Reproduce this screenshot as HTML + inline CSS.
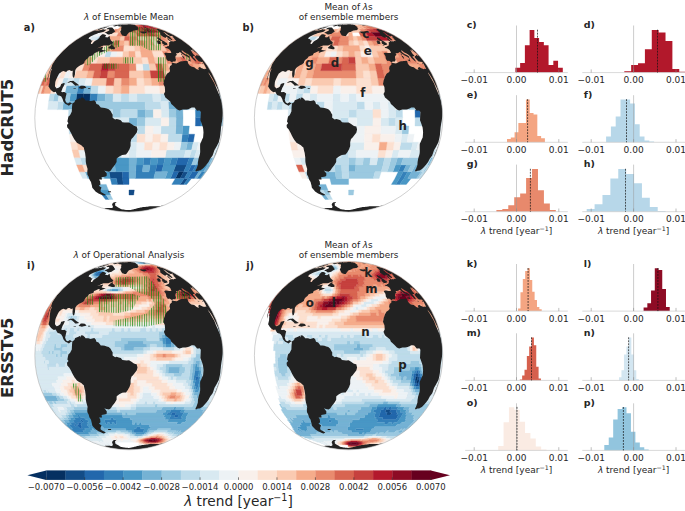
<!DOCTYPE html>
<html lang="en"><head><meta charset="utf-8"><title>λ trend figure</title>
<style>html,body{margin:0;padding:0;background:#fff}svg{display:block}</style></head>
<body>
<svg width="685" height="511" viewBox="0 0 685 511" font-family="DejaVu Sans, Liberation Sans, sans-serif">
<defs><pattern id="hatch" width="2.36" height="8" patternUnits="userSpaceOnUse"><rect x="0.2" y="0" width="0.68" height="8" fill="#0a860a"/></pattern></defs>
<rect width="685" height="511" fill="#fff"/>
<clipPath id="clipa"><circle cx="129.0" cy="117.8" r="94.2"/></clipPath>
<g clip-path="url(#clipa)">
<g stroke-width="0.35">
<path fill="#053061" stroke="#053061" d="M76.8 93.4H83.5L82.6 101.4H75.8Z"/>
<path fill="#053061" stroke="#053061" d="M178.6 171.8H183.6L180 178.4H175.4ZM83.5 93.4H90.5L89.8 101.4H82.6Z"/>
<path fill="#134c87" stroke="#134c87" d="M129 190H134.3L133.7 195H129ZM116.5 178.4H122.7L123.2 184.4H117.4ZM184.3 178.4H188.1L183.6 184.4H180ZM109 171.8H122.3L122.7 178.4H110.3ZM183.6 171.8H188.1L184.3 178.4H180ZM175.8 164.9H186.7L183.6 171.8H173.3Z"/>
<path fill="#2267ac" stroke="#2267ac" d="M122.7 178.4H129L129 184.4H123.2ZM122.3 171.8H129L129 178.4H122.7ZM173.3 171.8H178.6L175.4 178.4H170.4ZM192.2 171.8H198.9L194.4 178.4H188.1ZM156.9 164.9H163.5L161.6 171.8H155.4ZM191.5 164.9H195.8L192.2 171.8H188.1ZM178 157.6H189.4L186.7 164.9H175.8ZM188.6 134.2H194.6L193.3 142.2H187.5ZM195.6 117.8H201.2L200.9 126H195.4Z"/>
<path fill="#3480b9" stroke="#3480b9" d="M102 195H106.2L109.1 199.4H105.5ZM110.3 178.4H116.5L117.4 184.4H111.8ZM175.4 178.4H184.3L180 184.4H171.8ZM188.1 178.4H191.5L186.7 184.4H183.6ZM135.7 171.8H155.4L153.7 178.4H135.3ZM188.1 171.8H192.2L188.1 178.4H184.3ZM201.5 171.8H205L200.1 178.4H196.8ZM136.1 164.9H143.2L142.4 171.8H135.7ZM150.1 164.9H156.9L155.4 171.8H149ZM186.7 164.9H191.5L188.1 171.8H183.6ZM195.8 164.9H202.9L198.9 171.8H192.2ZM143.8 157.6H151.1L150.1 164.9H143.2ZM158.2 157.6H165.1L163.5 164.9H156.9ZM171.7 157.6H178L175.8 164.9H169.8ZM189.4 157.6H194.4L191.5 164.9H186.7ZM182.2 134.2H188.6L187.5 142.2H181.2ZM195.4 109.6H200.9L201.2 117.8H195.6ZM90.5 93.4H97.9L97.3 101.4H89.8ZM78.2 85.6H84.7L83.5 93.4H76.8Z"/>
<path fill="#4997c5" stroke="#4997c5" d="M98.7 190H108.3L110.5 195H102ZM102.6 171.8H109L110.3 178.4H104.3ZM167.6 171.8H173.3L170.4 178.4H165.1ZM205 171.8H205.9L200.9 178.4H200.1ZM88.2 164.9H94.5L96.4 171.8H90.4ZM114.8 164.9H129L129 171.8H115.6ZM163.5 164.9H175.8L173.3 171.8H161.6ZM202.9 164.9H207.8L203.5 171.8H198.9ZM210.3 164.9H210.6L206.2 171.8H205.9ZM99.8 157.6H129L129 164.9H101.1ZM136.4 157.6H143.8L143.2 164.9H136.1ZM151.1 157.6H158.2L156.9 164.9H150.1ZM165.1 157.6H171.7L169.8 164.9H163.5ZM214 157.6H214.4L210.6 164.9H210.3ZM182.8 126H189.3L188.6 134.2H182.2ZM201.2 117.8H206.2L205.9 126H200.9ZM194.6 101.4H200.1L200.9 109.6H195.4ZM70.5 93.4H76.8L75.8 101.4H69.4Z"/>
<path fill="#75b2d4" stroke="#75b2d4" d="M95.7 184.4H106.2L108.3 190H98.7ZM84.7 171.8H90.4L92.9 178.4H87.6ZM129 171.8H135.7L135.3 178.4H129ZM155.4 171.8H167.6L165.1 178.4H153.7ZM198.9 171.8H201.5L196.8 178.4H194.4ZM205.9 171.8H206.2L201.2 178.4H200.9ZM94.5 164.9H114.8L115.6 171.8H96.4ZM129 164.9H136.1L135.7 171.8H129ZM143.2 164.9H150.1L149 171.8H142.4ZM207.8 164.9H210.3L205.9 171.8H203.5ZM92.9 157.6H99.8L101.1 164.9H94.5ZM129 157.6H136.4L136.1 164.9H129ZM198.9 157.6H202.9L199.7 164.9H195.8ZM206.4 157.6H213.1L209.3 164.9H202.9ZM187.5 142.2H193.3L191.6 150H185.9ZM175.9 126H182.8L182.2 134.2H175.4ZM129 117.8H137.2L137.2 126H129ZM176.1 117.8H183L182.8 126H175.9ZM221.8 117.8H222.8L222.5 126H221.4ZM75.2 109.6H82.1L81.9 117.8H75ZM137.2 109.6H145.3L145.4 117.8H137.2ZM175.9 109.6H182.8L183 117.8H176.1ZM210.3 109.6H214L214.4 117.8H210.6ZM63.4 101.4H75.8L75.2 109.6H62.6ZM82.6 101.4H89.8L89.3 109.6H82.1ZM168.2 101.4H188.6L189.3 109.6H168.7ZM200.1 101.4H205L205.9 109.6H200.9ZM97.9 93.4H105.5L105 101.4H97.3ZM66.4 85.6H78.2L76.8 93.4H64.7ZM84.7 85.6H91.6L90.5 93.4H83.5Z"/>
<path fill="#9bc9e0" stroke="#9bc9e0" d="M106.2 195H110.5L112.9 199.4H109.1ZM90.4 171.8H102.6L104.3 178.4H92.9ZM86.3 157.6H92.9L94.5 164.9H88.2ZM194.4 157.6H198.9L195.8 164.9H191.5ZM202.9 157.6H206.4L202.9 164.9H199.7ZM213.1 157.6H214L210.3 164.9H209.3ZM216.2 150H217.2L214 157.6H213.1ZM181.2 142.2H187.5L185.9 150H179.8ZM89.8 134.2H97.3L97.9 142.2H90.5ZM219.6 126H221.4L220.4 134.2H218.6ZM68.4 117.8H81.9L82.1 126H68.7ZM89.2 117.8H112.6L112.7 126H89.3ZM137.2 117.8H145.4L145.3 126H137.2ZM210.6 117.8H214.4L214 126H210.3ZM217.5 117.8H221.8L221.4 126H217.2ZM222.8 117.8H223.2L222.8 126H222.5ZM89.3 109.6H96.9L96.8 117.8H89.2ZM112.7 109.6H120.8L120.8 117.8H112.6ZM145.3 109.6H153.3L153.4 117.8H145.4ZM168.7 109.6H175.9L176.1 117.8H168.8ZM200.9 109.6H205.9L206.2 117.8H201.2ZM222.5 109.6H222.8L223.2 117.8H222.8ZM75.8 101.4H82.6L82.1 109.6H75.2ZM89.8 101.4H145.1L145.3 109.6H89.3ZM216.2 101.4H218.6L219.6 109.6H217.2ZM221.4 101.4H221.8L222.8 109.6H222.5ZM54.5 93.4H59.3L57.9 101.4H53ZM64.7 93.4H70.5L69.4 101.4H63.4ZM105.5 93.4H113.2L112.9 101.4H105ZM181.2 93.4H187.5L188.6 101.4H182.2ZM219.6 93.4H220L221.8 101.4H221.4Z"/>
<path fill="#bddbea" stroke="#bddbea" d="M80 157.6H86.3L88.2 164.9H82.2ZM91.6 150H106.1L106.9 157.6H92.9ZM113.6 150H121.3L121.6 157.6H114.2ZM166.4 150H185.9L183.9 157.6H165.1ZM191.6 150H196.8L194.4 157.6H189.4ZM90.5 142.2H97.9L98.7 150H91.6ZM121.1 142.2H129L129 150H121.3ZM203.5 142.2H207.8L205.7 150H201.5ZM211.5 142.2H214.5L212.2 150H209.2ZM218.6 142.2H219.6L217.2 150H216.2ZM97.3 134.2H105L105.5 142.2H97.9ZM129 134.2H137.1L136.9 142.2H129ZM168.2 134.2H182.2L181.2 142.2H167.5ZM216.2 134.2H218.6L216.9 142.2H214.5ZM68.7 126H75.2L75.8 134.2H69.4ZM82.1 126H104.7L105 134.2H82.6ZM112.7 126H120.8L120.9 134.2H112.9ZM137.2 126H145.3L145.1 134.2H137.1ZM161.1 126H175.9L175.4 134.2H160.7ZM205.9 126H210.3L209.3 134.2H205ZM214 126H217.2L216.2 134.2H213.1ZM81.9 117.8H89.2L89.3 126H82.1ZM168.8 117.8H176.1L175.9 126H168.7ZM206.2 117.8H210.6L210.3 126H205.9ZM214.4 117.8H217.5L217.2 126H214ZM68.7 109.6H75.2L75 117.8H68.4ZM104.7 109.6H112.7L112.6 117.8H104.6ZM120.8 109.6H137.2L137.2 117.8H120.8ZM214 109.6H219.6L220 117.8H214.4ZM57.9 101.4H63.4L62.6 109.6H57.1ZM145.1 101.4H160.7L161.1 109.6H145.3ZM209.3 101.4H213.1L214 109.6H210.3ZM218.6 101.4H221.4L222.5 109.6H219.6ZM50.2 93.4H54.5L53 101.4H48.7ZM121.1 93.4H129L129 101.4H120.9ZM136.9 93.4H152.6L153 101.4H137.1ZM160.1 93.4H167.5L168.2 101.4H160.7ZM174.5 93.4H181.2L182.2 101.4H175.4ZM203.5 93.4H214.5L216.2 101.4H205ZM216.9 93.4H219.6L221.4 101.4H218.6ZM91.6 85.6H98.7L97.9 93.4H90.5ZM63.6 78H68.6L66.4 85.6H61.2ZM74.1 78H80L78.2 85.6H72.1ZM142.4 63.8H149L150.1 70.7H143.2ZM106.2 51.2H111.8L110.3 57.2H104.3ZM98.7 36.2H102L98 40.6H94.3Z"/>
<path fill="#d8e9f1" stroke="#d8e9f1" d="M79.4 171.8H84.7L87.6 178.4H82.6ZM74.1 157.6H80L82.2 164.9H76.6ZM106.1 150H113.6L114.2 157.6H106.9ZM129 150H136.7L136.4 157.6H129ZM185.9 150H191.6L189.4 157.6H183.9ZM196.8 150H205.7L202.9 157.6H194.4ZM209.2 150H212.2L209.2 157.6H206.4ZM214.5 150H216.2L213.1 157.6H211.5ZM83.5 142.2H90.5L91.6 150H84.7ZM97.9 142.2H105.5L106.1 150H98.7ZM113.2 142.2H121.1L121.3 150H113.6ZM129 142.2H136.9L136.7 150H129ZM193.3 142.2H198.7L196.8 150H191.6ZM216.9 142.2H218.6L216.2 150H214.5ZM219.6 142.2H220L217.5 150H217.2ZM75.8 134.2H82.6L83.5 142.2H76.8ZM105 134.2H129L129 142.2H105.5ZM205 134.2H209.3L207.8 142.2H203.5ZM218.6 134.2H220.4L218.6 142.2H216.9ZM75.2 126H82.1L82.6 134.2H75.8ZM104.7 126H112.7L112.9 134.2H105ZM120.8 126H137.2L137.1 134.2H120.9ZM217.2 126H219.6L218.6 134.2H216.2ZM222.5 126H222.8L221.8 134.2H221.4ZM112.6 117.8H129L129 126H112.7ZM145.4 117.8H161.2L161.1 126H145.3ZM82.1 109.6H89.3L89.2 117.8H81.9ZM96.9 109.6H104.7L104.6 117.8H96.8ZM161.1 109.6H168.7L168.8 117.8H161.2ZM205.9 109.6H210.3L210.6 117.8H206.2ZM219.6 109.6H222.5L222.8 117.8H220ZM48.7 101.4H57.9L57.1 109.6H47.7ZM160.7 101.4H168.2L168.7 109.6H161.1ZM188.6 101.4H194.6L195.4 109.6H189.3ZM205 101.4H209.3L210.3 109.6H205.9ZM213.1 101.4H216.2L217.2 109.6H214ZM59.3 93.4H64.7L63.4 101.4H57.9ZM113.2 93.4H121.1L120.9 101.4H112.9ZM129 93.4H136.9L137.1 101.4H129ZM152.6 93.4H160.1L160.7 101.4H153ZM167.5 93.4H174.5L175.4 101.4H168.2ZM187.5 93.4H203.5L205 101.4H188.6ZM214.5 93.4H216.9L218.6 101.4H216.2ZM68.6 78H74.1L72.1 85.6H66.4ZM80 78H86.3L84.7 85.6H78.2ZM92.9 36.2H98.7L94.3 40.6H87.6ZM102 36.2H105.5L102 40.6H98ZM96.4 32.4H98.5L92.9 36.2H90.4Z"/>
<path fill="#edf2f5" stroke="#edf2f5" d="M78.2 150H91.6L92.9 157.6H80ZM121.3 150H129L129 157.6H121.6ZM136.7 150H151.9L151.1 157.6H136.4ZM205.7 150H209.2L206.4 157.6H202.9ZM212.2 150H214.5L211.5 157.6H209.2ZM217.2 150H217.5L214.4 157.6H214ZM105.5 142.2H113.2L113.6 150H106.1ZM136.9 142.2H144.8L144.4 150H136.7ZM174.5 142.2H181.2L179.8 150H173.3ZM198.7 142.2H203.5L201.5 150H196.8ZM207.8 142.2H211.5L209.2 150H205.7ZM214.5 142.2H216.9L214.5 150H212.2ZM209.3 134.2H216.2L214.5 142.2H207.8ZM220.4 134.2H221.8L220 142.2H218.6ZM153.3 126H161.1L160.7 134.2H153ZM210.3 126H214L213.1 134.2H209.3ZM221.4 126H222.5L221.4 134.2H220.4ZM56.5 85.6H66.4L64.7 93.4H54.5ZM98.7 85.6H106.1L105.5 93.4H97.9ZM179.8 85.6H185.9L187.5 93.4H181.2ZM196.8 85.6H201.5L203.5 93.4H198.7ZM212.2 85.6H214.5L216.9 93.4H214.5ZM217.2 85.6H217.5L220 93.4H219.6ZM86.3 78H92.9L91.6 85.6H84.7ZM58.3 70.7H62.2L59.1 78H55.1ZM66.5 70.7H71.3L68.6 78H63.6ZM111.8 51.2H117.4L116.5 57.2H110.3ZM90.4 36.2H92.9L87.6 40.6H84.7ZM105.5 36.2H109.1L106.2 40.6H102ZM91.6 32.4H92.9L86.3 36.2H84.7ZM98.5 32.4H103.4L98.7 36.2H92.9Z"/>
<path fill="#f9f0eb" stroke="#f9f0eb" d="M151.9 150H166.4L165.1 157.6H151.1ZM152.6 142.2H160.1L159.3 150H151.9ZM167.5 142.2H174.5L173.3 150H166.4ZM69.4 134.2H75.8L76.8 142.2H70.5ZM82.6 134.2H89.8L90.5 142.2H83.5ZM145.1 134.2H153L152.6 142.2H144.8ZM160.7 134.2H168.2L167.5 142.2H160.1ZM145.3 126H153.3L153 134.2H145.1ZM161.2 117.8H168.8L168.7 126H161.1ZM153.3 109.6H161.1L161.2 117.8H153.4ZM144.4 85.6H159.3L160.1 93.4H144.8ZM166.4 85.6H173.3L174.5 93.4H167.5ZM191.6 85.6H196.8L198.7 93.4H193.3ZM205.7 85.6H209.2L211.5 93.4H207.8ZM214.5 85.6H217.2L219.6 93.4H216.9ZM59.1 78H63.6L61.2 85.6H56.5ZM71.3 70.7H76.6L74.1 78H68.6ZM135.7 63.8H142.4L143.2 70.7H136.1ZM100.8 51.2H106.2L104.3 57.2H98.5ZM117.4 51.2H123.2L122.7 57.2H116.5ZM94.3 40.6H98L94.3 45.6H90.1ZM89.2 32.4H89.3L82.1 36.2H81.9ZM89.8 32.4H90.5L83.5 36.2H82.6ZM94.5 32.4H96.4L90.4 36.2H88.2ZM103.4 32.4H112.2L109.1 36.2H98.7ZM102.6 29.3H104.3L98.5 32.4H96.4Z"/>
<path fill="#fce0d0" stroke="#fce0d0" d="M82.2 164.9H88.2L90.4 171.8H84.7ZM70.5 142.2H76.8L78.2 150H72.1ZM144.8 142.2H152.6L151.9 150H144.4ZM160.1 142.2H167.5L166.4 150H159.3ZM137.1 134.2H145.1L144.8 142.2H136.9ZM153 134.2H160.7L160.1 142.2H152.6ZM41.8 85.6H43.5L41.1 93.4H39.4ZM52.3 85.6H56.5L54.5 93.4H50.2ZM106.1 85.6H113.6L113.2 93.4H105.5ZM129 85.6H144.4L144.8 93.4H129ZM159.3 85.6H166.4L167.5 93.4H160.1ZM173.3 85.6H179.8L181.2 93.4H174.5ZM185.9 85.6H191.6L193.3 93.4H187.5ZM209.2 85.6H212.2L214.5 93.4H211.5ZM55.1 78H59.1L56.5 85.6H52.3ZM136.4 78H143.8L144.4 85.6H136.7ZM183.9 78H189.4L191.6 85.6H185.9ZM47.7 70.7H48.7L44.9 78H44ZM62.2 70.7H66.5L63.6 78H59.1ZM186.7 70.7H191.5L194.4 78H189.4ZM51.8 63.8H52.1L47.7 70.7H47.4ZM53 63.8H54.5L50.2 70.7H48.7ZM69.9 63.8H84.7L82.2 70.7H66.5ZM56.8 57.2H57.1L52.1 63.8H51.8ZM63.6 57.2H66.5L62.2 63.8H59.1ZM69.9 57.2H73.7L69.9 63.8H65.8ZM92.9 57.2H98.5L96.4 63.8H90.4ZM141.5 57.2H147.7L149 63.8H142.4ZM62.6 51.2H63.4L57.9 57.2H57.1ZM90.8 51.2H100.8L98.5 57.2H87.6ZM134.8 51.2H140.6L141.5 57.2H135.3ZM151.8 51.2H162.3L165.1 57.2H153.7ZM103.4 45.6H108.3L106.2 51.2H100.8ZM123.7 45.6H134.3L134.8 51.2H123.2ZM185.9 45.6H187.5L193.3 51.2H191.6ZM189.3 45.6H189.6L195.6 51.2H195.4ZM90.8 40.6H94.3L90.1 45.6H86.2ZM102 40.6H106.2L103.4 45.6H98.7ZM151.8 40.6H156L159.3 45.6H154.6ZM167.2 40.6H170.4L175.4 45.6H171.8ZM182.2 40.6H182.8L189.3 45.6H188.6ZM82.1 36.2H83.5L76.8 40.6H75.2ZM88.2 36.2H90.4L84.7 40.6H82.2ZM90.5 32.4H91.6L84.7 36.2H83.5ZM92.9 32.4H94.5L88.2 36.2H86.3ZM112.2 32.4H118.7L116.8 36.2H109.1ZM96.8 29.3H96.9L89.3 32.4H89.2ZM97.9 29.3H98.7L91.6 32.4H90.5ZM104.3 29.3H112.9L109.1 32.4H98.5Z"/>
<path fill="#facab1" stroke="#facab1" d="M72.1 150H78.2L80 157.6H74.1ZM76.8 142.2H83.5L84.7 150H78.2ZM40.8 85.6H41.8L39.4 93.4H38.4ZM113.6 85.6H121.3L121.1 93.4H113.2ZM201.5 85.6H205.7L207.8 93.4H203.5ZM51.6 78H55.1L52.3 85.6H48.8ZM92.9 78H106.9L106.1 85.6H91.6ZM114.2 78H121.6L121.3 85.6H113.6ZM143.8 78H151.1L151.9 85.6H144.4ZM165.1 78H171.7L173.3 85.6H166.4ZM178 78H183.9L185.9 85.6H179.8ZM194.4 78H198.9L201.5 85.6H196.8ZM47.4 70.7H47.7L44 78H43.6ZM52.3 70.7H58.3L55.1 78H48.8ZM76.6 70.7H88.2L86.3 78H74.1ZM129 70.7H143.2L143.8 78H129ZM163.5 70.7H169.8L171.7 78H165.1ZM181.4 70.7H186.7L189.4 78H183.9ZM191.5 70.7H195.8L198.9 78H194.4ZM207.8 70.7H210.3L214 78H211.5ZM54.5 63.8H56.5L52.3 70.7H50.2ZM62.2 63.8H69.9L66.5 70.7H58.3ZM149 63.8H155.4L156.9 70.7H150.1ZM167.6 63.8H178.6L181.4 70.7H169.8ZM198.9 63.8H203.5L207.8 70.7H202.9ZM61.2 57.2H63.6L59.1 63.8H56.5ZM98.5 57.2H110.3L109 63.8H96.4ZM129 57.2H141.5L142.4 63.8H129ZM153.7 57.2H165.1L167.6 63.8H155.4ZM62.4 51.2H62.6L57.1 57.2H56.8ZM64.7 51.2H66.4L61.2 57.2H59.3ZM71.3 51.2H78L73.7 57.2H66.5ZM123.2 51.2H129L129 57.2H122.7ZM171.8 51.2H180L184.3 57.2H175.4ZM70.5 45.6H74.1L68.6 51.2H64.7ZM82.6 45.6H90.1L86.2 51.2H78ZM134.3 45.6H139.5L140.6 51.2H134.8ZM149.7 45.6H163.7L167.2 51.2H151.8ZM167.9 45.6H171.8L176.1 51.2H171.8ZM187.5 45.6H188.6L194.6 51.2H193.3ZM75 40.6H75.2L68.7 45.6H68.4ZM75.8 40.6H78.2L72.1 45.6H69.4ZM98 40.6H102L98.7 45.6H94.3ZM110.5 40.6H115L113.3 45.6H108.3ZM124.3 40.6H129L129 45.6H123.7ZM178 40.6H179.8L185.9 45.6H183.9ZM84.7 36.2H88.2L82.2 40.6H78.2ZM120.8 36.2H124.9L124.3 40.6H119.6ZM137.2 36.2H145.1L147.5 40.6H138.4ZM148.9 36.2H156L160 40.6H151.8ZM169.8 36.2H171.7L178 40.6H175.8ZM89.3 32.4H89.8L82.6 36.2H82.1ZM161.6 32.4H165.1L171.7 36.2H167.6ZM167.5 32.4H168.2L175.4 36.2H174.5ZM168.7 32.4H168.8L176.1 36.2H175.9ZM96.9 29.3H97.3L89.8 32.4H89.3ZM98.7 29.3H102.6L96.4 32.4H91.6ZM112.9 29.3H115.4L112.2 32.4H109.1ZM120.7 29.3H123.4L122.1 32.4H118.7ZM160.7 29.3H161.1L168.7 32.4H168.2ZM126.9 26.8H129L129 29.3H126.2ZM123.4 25H126.2L124.8 26.8H120.7ZM129 25H131.8L133.2 26.8H129Z"/>
<path fill="#f5ac8b" stroke="#f5ac8b" d="M76.6 164.9H82.2L84.7 171.8H79.4ZM40.5 85.6H40.8L38.4 93.4H38ZM45.8 85.6H52.3L50.2 93.4H43.5ZM121.3 85.6H129L129 93.4H121.1ZM129 78H136.4L136.7 85.6H129ZM151.1 78H158.2L159.3 85.6H151.9ZM171.7 78H178L179.8 85.6H173.3ZM198.9 78H206.4L209.2 85.6H201.5ZM211.5 78H214.4L217.5 85.6H214.5ZM48.7 70.7H52.3L48.8 78H44.9ZM88.2 70.7H94.5L92.9 78H86.3ZM143.2 70.7H150.1L151.1 78H143.8ZM169.8 70.7H175.8L178 78H171.7ZM195.8 70.7H202.9L206.4 78H198.9ZM205.7 70.7H207.8L211.5 78H209.2ZM52.1 63.8H53L48.7 70.7H47.7ZM56.5 63.8H62.2L58.3 70.7H52.3ZM161.6 63.8H167.6L169.8 70.7H163.5ZM178.6 63.8H183.6L186.7 70.7H181.4ZM192.2 63.8H198.9L202.9 70.7H195.8ZM205 63.8H205.9L210.3 70.7H209.3ZM57.1 57.2H61.2L56.5 63.8H52.1ZM66.5 57.2H69.9L65.8 63.8H62.2ZM78 57.2H82.6L79.4 63.8H74.4ZM87.6 57.2H92.9L90.4 63.8H84.7ZM110.3 57.2H129L129 63.8H109ZM147.7 57.2H153.7L155.4 63.8H149ZM170.4 57.2H175.4L178.6 63.8H173.3ZM184.3 57.2H188.1L192.2 63.8H188.1ZM196.8 57.2H198.7L203.5 63.8H201.5ZM78 51.2H90.8L87.6 57.2H73.7ZM129 51.2H134.8L135.3 57.2H129ZM140.6 51.2H151.8L153.7 57.2H141.5ZM167.2 51.2H171.8L175.4 57.2H170.4ZM186.7 51.2H189.4L194.4 57.2H191.5ZM195.4 51.2H195.6L201.2 57.2H200.9ZM68.4 45.6H70.5L64.7 51.2H62.4ZM74.1 45.6H76.6L71.3 51.2H68.6ZM90.1 45.6H94.3L90.8 51.2H86.2ZM98.7 45.6H103.4L100.8 51.2H95.7ZM108.3 45.6H113.3L111.8 51.2H106.2ZM139.5 45.6H149.7L151.8 51.2H140.6ZM171.8 45.6H178.6L183.6 51.2H176.1ZM181.4 45.6H185.9L191.6 51.2H186.7ZM188.6 45.6H189.3L195.4 51.2H194.6ZM75.2 40.6H75.8L69.4 45.6H68.7ZM82.2 40.6H84.7L79.4 45.6H76.6ZM87.6 40.6H90.8L86.2 45.6H82.6ZM106.2 40.6H110.5L108.3 45.6H103.4ZM119.6 40.6H124.3L123.7 45.6H118.5ZM133.7 40.6H138.4L139.5 45.6H134.3ZM143 40.6H151.8L154.6 45.6H144.7ZM156 40.6H167.2L171.8 45.6H159.3ZM170.4 40.6H178L183.9 45.6H175.4ZM179.8 40.6H181.2L187.5 45.6H185.9ZM182.8 40.6H183L189.6 45.6H189.3ZM81.9 36.2H82.1L75.2 40.6H75ZM83.5 36.2H84.7L78.2 40.6H76.8ZM109.1 36.2H120.8L119.6 40.6H106.2ZM145.1 36.2H148.9L151.8 40.6H147.5ZM162.3 36.2H167.6L173.3 40.6H167.2ZM171.7 36.2H173.3L179.8 40.6H178ZM174.5 36.2H176.1L183 40.6H181.2ZM129 32.4H135.9L137.2 36.2H129ZM157.2 32.4H161.6L167.6 36.2H162.3ZM168.2 32.4H168.7L175.9 36.2H175.4ZM97.3 29.3H97.9L90.5 32.4H89.8ZM118 29.3H120.7L118.7 32.4H115.4ZM126.2 29.3H129L129 32.4H125.5ZM159.3 29.3H160.1L167.5 32.4H166.4ZM161.1 29.3H161.2L168.8 32.4H168.7ZM120.7 26.8H126.9L126.2 29.3H118ZM129 26.8H131.1L131.8 29.3H129ZM127.6 25H129L129 26.8H126.9ZM131.8 25H134.6L137.3 26.8H133.2Z"/>
<path fill="#e98b6e" stroke="#e98b6e" d="M43.5 85.6H45.8L43.5 93.4H41.1ZM46.5 78H48.8L45.8 85.6H43.5ZM121.6 78H129L129 85.6H121.3ZM158.2 78H165.1L166.4 85.6H159.3ZM189.4 78H194.4L196.8 85.6H191.6ZM206.4 78H211.5L214.5 85.6H209.2ZM107.9 70.7H114.8L114.2 78H106.9ZM175.8 70.7H181.4L183.9 78H178ZM202.9 70.7H205.7L209.2 78H206.4ZM210.3 70.7H210.6L214.4 78H214ZM84.7 63.8H90.4L88.2 70.7H82.2ZM129 63.8H135.7L136.1 70.7H129ZM183.6 63.8H192.2L195.8 70.7H186.7ZM203.5 63.8H205L209.3 70.7H207.8ZM205.9 63.8H206.2L210.6 70.7H210.3ZM73.7 57.2H78L74.4 63.8H69.9ZM82.6 57.2H87.6L84.7 63.8H79.4ZM165.1 57.2H170.4L173.3 63.8H167.6ZM175.4 57.2H180L183.6 63.8H178.6ZM188.1 57.2H191.5L195.8 63.8H192.2ZM198.7 57.2H200.9L205.9 63.8H203.5ZM63.4 51.2H64.7L59.3 57.2H57.9ZM66.4 51.2H71.3L66.5 57.2H61.2ZM162.3 51.2H167.2L170.4 57.2H165.1ZM180 51.2H186.7L191.5 57.2H184.3ZM191.6 51.2H194.6L200.1 57.2H196.8ZM76.6 45.6H82.6L78 51.2H71.3ZM94.3 45.6H98.7L95.7 51.2H90.8ZM113.3 45.6H123.7L123.2 51.2H111.8ZM163.7 45.6H167.9L171.8 51.2H167.2ZM178.6 45.6H181.4L186.7 51.2H183.6ZM78.2 40.6H82.2L76.6 45.6H72.1ZM84.7 40.6H87.6L82.6 45.6H79.4ZM129 40.6H133.7L134.3 45.6H129ZM138.4 40.6H143L144.7 45.6H139.5ZM181.2 40.6H182.2L188.6 45.6H187.5ZM129 36.2H137.2L138.4 40.6H129ZM156 36.2H162.3L167.2 40.6H160ZM167.6 36.2H169.8L175.8 40.6H173.3ZM173.3 36.2H174.5L181.2 40.6H179.8ZM118.7 32.4H129L129 36.2H116.8ZM154.6 32.4H157.2L162.3 36.2H159.3ZM165.1 32.4H167.5L174.5 36.2H171.7ZM115.4 29.3H118L115.4 32.4H112.2ZM123.4 29.3H126.2L125.5 32.4H122.1ZM129 29.3H131.8L132.5 32.4H129ZM134.6 29.3H137.3L139.3 32.4H135.9ZM158.2 29.3H159.3L166.4 32.4H165.1ZM160.1 29.3H160.7L168.2 32.4H167.5ZM131.1 26.8H133.2L134.6 29.3H131.8ZM153 26.8H153.4L161.2 29.3H160.7ZM126.2 25H127.6L126.9 26.8H124.8ZM137.2 25H138.4L143 26.8H141.2ZM145.3 25H145.4L153.4 26.8H153.3Z"/>
<path fill="#d86551" stroke="#d86551" d="M43.6 78H46.5L43.5 85.6H40.5ZM48.8 78H51.6L48.8 85.6H45.8ZM106.9 78H114.2L113.6 85.6H106.1ZM94.5 70.7H101.1L99.8 78H92.9ZM114.8 70.7H129L129 78H114.2ZM90.4 63.8H102.6L101.1 70.7H88.2ZM115.6 63.8H129L129 70.7H114.8ZM155.4 63.8H161.6L163.5 70.7H156.9ZM180 57.2H184.3L188.1 63.8H183.6ZM191.5 57.2H196.8L201.5 63.8H195.8ZM200.9 57.2H201.2L206.2 63.8H205.9ZM189.4 51.2H191.6L196.8 57.2H194.4ZM194.6 51.2H195.4L200.9 57.2H200.1ZM115 40.6H119.6L118.5 45.6H113.3ZM124.9 36.2H129L129 40.6H124.3ZM135.9 32.4H145.8L148.9 36.2H137.2ZM151.8 32.4H154.6L159.3 36.2H156ZM131.8 29.3H134.6L135.9 32.4H132.5ZM153.7 29.3H158.2L165.1 32.4H159.5ZM150.1 26.8H152.6L160.1 29.3H156.9ZM134.6 25H137.2L141.2 26.8H137.3ZM139.5 25H140.6L146.2 26.8H144.7ZM143.8 25H144.8L152.6 26.8H151.1Z"/>
<path fill="#c6413e" stroke="#c6413e" d="M101.1 70.7H107.9L106.9 78H99.8ZM150.1 70.7H163.5L165.1 78H151.1ZM109 63.8H115.6L114.8 70.7H107.9ZM145.8 32.4H151.8L156 36.2H148.9ZM137.3 29.3H142.6L145.8 32.4H139.3ZM133.2 26.8H139.3L142.6 29.3H134.6ZM141.2 26.8H143L147.5 29.3H145.1ZM144.7 26.8H149L155.4 29.3H149.7ZM152.6 26.8H153L160.7 29.3H160.1ZM138.4 25H139.5L144.7 26.8H143ZM141.5 25H143.2L150.1 26.8H147.7ZM145.1 25H145.3L153.3 26.8H153Z"/>
<path fill="#b3192c" stroke="#b3192c" d="M102.6 63.8H109L107.9 70.7H101.1ZM149.7 29.3H153.7L159.5 32.4H154.6ZM139.3 26.8H141.2L145.1 29.3H142.6ZM140.6 25H141.5L147.7 26.8H146.2ZM143.2 25H143.8L151.1 26.8H150.1ZM144.8 25H145.1L153 26.8H152.6Z"/>
<path fill="#8d0c25" stroke="#8d0c25" d="M142.6 29.3H145.1L148.9 32.4H145.8ZM147.5 29.3H149.7L154.6 32.4H151.8ZM149 26.8H150.1L156.9 29.3H155.4Z"/>
<path fill="#67001f" stroke="#67001f" d="M145.1 29.3H147.5L151.8 32.4H148.9ZM143 26.8H144.7L149.7 29.3H147.5Z"/>
</g>
<polygon points="85.8,56.4 92.8,52 105,46.8 113.8,40.6 119,40.6 119,46.8 110.3,50.3 98,56.4 89.3,65.2 85.8,65.2" fill="url(#hatch)"/>
<polygon points="102.4,63.4 118.2,63.4 118.2,68.7 102.4,68.7" fill="url(#hatch)"/>
<polygon points="123.4,57.3 134,57.3 134,63.4 123.4,63.4" fill="url(#hatch)"/>
<polygon points="129.6,25.8 161,29.8 161,50.3 149,50.3 141,45.8 129.6,45.8" fill="url(#hatch)"/>
<polygon points="157.6,57.3 165.5,57.3 165.5,81.8 157.6,81.8" fill="url(#hatch)"/>
<polygon points="186,52.8 190,52.8 190,59.8 186,59.8" fill="url(#hatch)"/>
<polygon points="43,73.8 46,73.8 46,81.8 43,81.8" fill="url(#hatch)"/>
<path d="M96.7,29.3 96.3,29.4 96.0,29.6 95.7,29.7 95.4,29.8 95.6,29.7 95.9,29.6 96.2,29.5 96.5,29.4 96.8,29.3 96.6,29.4 96.5,29.5 96.1,29.8 95.7,30.0 95.3,30.2 94.9,30.5 95.4,30.5 95.7,30.5 96.0,30.5 96.3,30.5 96.6,30.5 96.9,30.5 97.3,30.5 97.7,30.5 98.0,30.5 98.4,30.5 99.2,30.3 99.9,30.2 100.6,30.0 101.3,29.9 103.4,29.0 105.4,28.2 104.6,28.7 103.8,29.3 103.1,29.9 103.8,29.8 104.4,29.7 105.0,29.6 105.7,29.6 105.8,29.9 105.9,30.2 104.9,30.9 103.9,31.7 102.9,32.0 101.9,32.3 100.8,32.5 99.8,32.8 99.1,33.0 98.3,33.1 96.9,33.7 95.4,34.2 94.0,34.8 92.5,35.4 90.9,36.3 89.3,37.2 88.9,38.0 88.6,38.8 89.1,38.9 89.7,39.1 90.4,39.2 90.7,39.8 91.1,40.4 91.8,40.5 92.6,40.6 91.8,41.6 91.1,42.6 90.9,44.1 92.1,44.1 93.1,42.8 94.2,41.6 95.7,40.6 97.3,39.7 98.3,38.8 99.3,37.9 99.6,37.1 100.0,36.2 101.1,35.2 102.2,34.2 103.0,34.3 103.7,34.3 104.5,34.4 105.0,34.7 105.6,35.1 106.2,35.4 105.6,36.2 105.1,37.1 105.9,37.2 106.6,37.3 107.4,37.5 108.5,36.7 109.6,36.0 109.8,37.1 110.0,38.4 110.4,39.2 110.8,40.2 111.5,40.9 112.4,41.6 112.9,42.3 113.5,43.1 111.8,44.2 110.1,44.8 108.4,45.4 107.1,45.4 105.9,45.4 104.7,45.4 103.5,45.4 102.3,45.9 101.1,46.4 99.2,47.4 97.2,48.3 98.6,47.9 100.0,47.5 101.5,47.1 102.9,46.7 102.9,47.8 101.6,49.5 102.4,50.0 103.8,50.3 105.3,50.6 106.8,49.5 105.2,51.0 103.4,51.5 101.5,52.1 100.3,52.5 99.0,53.0 99.8,51.2 98.8,51.2 97.5,51.8 96.1,52.4 94.2,53.2 93.3,54.8 93.8,55.1 92.1,55.5 90.5,56.0 89.0,56.5 88.1,57.9 85.9,59.8 84.8,61.1 84.2,63.1 82.3,64.4 80.9,65.1 79.6,65.8 78.1,66.8 76.6,67.9 75.3,70.0 75.1,72.1 75.0,74.3 74.6,75.8 74.2,77.2 73.1,77.7 72.6,75.8 72.5,73.6 72.7,72.1 72.8,70.7 71.1,71.1 70.3,70.6 69.6,70.1 68.6,70.3 67.6,70.4 66.5,71.8 65.2,71.7 64.2,71.3 63.3,71.0 61.6,71.8 60.4,72.7 59.2,73.6 58.4,75.0 57.6,76.5 56.9,78.0 56.2,79.5 55.7,80.8 55.3,82.1 55.1,84.2 55.0,86.4 55.9,87.6 56.6,88.4 57.6,88.1 58.6,87.8 60.3,86.4 61.2,84.0 62.6,83.6 63.9,83.1 64.9,83.4 64.2,84.9 63.5,86.4 62.6,87.9 61.9,89.9 61.2,91.8 62.2,92.2 63.3,92.1 64.4,92.0 65.5,92.7 66.6,93.4 66.2,95.0 65.8,96.6 65.5,98.2 65.1,99.8 65.6,101.2 66.2,102.6 67.9,103.4 69.9,102.3 71.1,102.9 72.3,103.6 71.0,103.9 68.9,105.8 67.2,104.7 65.5,103.9 64.4,102.7 63.4,101.4 62.6,99.0 61.3,96.6 59.9,95.8 58.7,95.4 57.5,95.0 56.6,93.4 55.7,91.8 54.8,92.0 53.9,92.2 52.7,91.4 51.7,90.7 50.7,89.7 49.9,88.7 49.2,87.5 48.5,86.4 49.0,84.4 49.5,82.5 49.6,80.2 49.8,78.0 50.0,76.0 50.3,74.1 50.6,72.1 51.3,70.6 51.9,69.0 51.7,68.8 51.5,68.6 50.4,70.7 49.7,72.6 49.0,74.5 48.5,76.5 48.0,78.7 47.5,81.0 47.5,79.9 47.5,78.7 48.0,76.5 48.7,74.3 49.2,72.5 49.8,70.7 50.7,68.9 51.6,67.0 51.8,66.2 52.1,65.3 52.4,64.4 53.3,62.9 54.3,61.4 55.2,60.0 56.2,58.6 57.2,57.2 58.8,55.4 60.4,53.6 62.1,51.8 63.9,50.0 65.3,48.7 66.7,47.4 67.7,46.4 68.7,45.5 69.8,44.6 71.2,43.4 72.7,42.2 74.3,41.1 75.9,40.0 77.5,38.9 79.2,37.9 79.9,37.4 80.7,36.9 81.6,36.4 82.4,35.9 82.7,35.8 83.0,35.6 83.3,35.4 83.6,35.2 84.0,35.0 84.4,34.8 83.5,35.3 82.6,35.8 81.8,36.3 81.6,36.4 83.3,35.4 85.1,34.5 86.9,33.5 88.7,32.6 90.5,31.8 92.2,31.1 94.0,30.3 95.8,29.7 96.2,29.5 96.6,29.3 97.1,29.2 98.0,28.8 99.0,28.5 100.1,28.2 101.2,27.8 100.6,28.0 100.1,28.1 99.6,28.3 99.2,28.4 98.7,28.6 98.3,28.8 97.9,28.9 97.4,29.0 97.1,29.2ZM115.2,31.4 114.1,32.2 112.9,33.0 111.6,33.9 110.5,34.1 109.4,34.4 108.2,34.6 107.7,34.2 107.2,33.9 106.7,33.5 106.2,33.3 105.6,33.1 105.1,33.0 104.6,32.8 106.2,32.0 107.7,31.2 109.3,30.5 109.2,30.1 109.1,29.7 109.2,29.3 108.6,29.3 107.9,29.3 107.4,29.3 106.8,29.3 106.2,29.3 106.8,28.7 107.5,28.2 108.2,27.7 108.8,27.7 109.5,27.6 110.1,27.5 110.7,27.5 111.4,27.4 112.0,27.4 112.2,27.5 112.3,27.7 112.5,27.8 112.8,28.0 112.9,28.2 113.1,28.5 113.3,28.7 113.6,29.0 113.9,29.3 114.0,29.7 114.3,30.1 114.5,30.5 114.9,31.0ZM124.1,24.5 123.8,24.4 123.5,24.4 123.3,24.3 122.9,24.3 122.6,24.3 122.2,24.4 121.9,24.4 121.5,24.4 121.2,24.4 120.8,24.5 120.5,24.5 120.1,24.5 119.8,24.5 119.4,24.6 119.0,24.6 118.7,24.6 118.3,24.6 117.0,24.9 115.7,25.1 114.3,25.4 113.0,25.7 113.0,25.9 113.2,26.0 113.5,26.2 113.7,26.3 113.9,26.3 114.1,26.3 114.4,26.4 115.4,26.2 116.3,25.9 117.3,25.7 118.2,25.5 119.0,25.4 119.7,25.2 120.4,25.1 121.1,25.0 121.7,24.9 122.3,24.8 123.0,24.7 123.5,24.6ZM98.4,29.9 98.2,29.8 97.9,29.6 97.7,29.5 97.6,29.3 98.0,29.1 98.3,28.9 98.7,28.7 99.1,28.6 99.6,28.4 100.0,28.2 102.0,27.6 104.0,27.0 104.5,26.9 105.0,26.8 105.5,26.7 106.0,26.6 106.5,26.5 107.0,26.4 107.3,26.4 107.7,26.4 108.1,26.4 108.4,26.5 108.5,26.6 108.7,26.7 109.0,26.8 107.7,27.1 106.4,27.5 105.1,27.8 103.8,28.2 102.5,28.6 101.1,29.0 99.8,29.4ZM108.0,48.1 109.3,48.5 110.5,48.8 111.8,49.1 113.1,49.2 114.5,49.2 115.0,48.2 114.5,47.0 113.6,46.4 112.8,45.9 112.8,45.0 112.8,44.1 111.0,45.1 109.8,46.2 108.7,47.2ZM67.2,82.7 68.8,81.8 70.4,81.0 71.8,80.9 73.3,80.8 74.8,82.0 76.3,83.1 77.8,84.2 79.3,85.3 77.9,85.4 76.5,85.6 75.1,85.7 74.1,84.5 73.2,83.7 72.2,82.8 70.7,81.9 69.5,82.4 68.2,82.8ZM78.5,88.1 80.8,85.7 82.7,85.8 84.7,85.9 85.6,86.8 86.5,87.8 85.1,88.1 83.6,88.4 81.9,89.0 80.2,88.5ZM73.6,88.1 74.8,88.2 76.0,88.4 75.9,89.0 74.7,88.8 73.6,88.7ZM88.2,87.9 89.3,88.0 90.4,88.1 90.1,88.7 88.0,88.7ZM118.5,25.6 119.2,25.4 120.0,25.3 120.7,25.2 121.3,25.0 122.0,24.9 122.7,24.8 123.4,24.7 124.0,24.6 124.3,24.5 124.7,24.5 125.1,24.5 125.5,24.5 125.8,24.5 126.2,24.4 126.5,24.4 126.9,24.4 127.2,24.4 127.5,24.4 127.9,24.3 128.2,24.3 128.5,24.3 128.8,24.3 129.1,24.3 129.4,24.2 129.7,24.2 129.9,24.2 130.2,24.2 130.5,24.3 130.9,24.3 131.2,24.3 131.5,24.4 131.9,24.4 132.3,24.4 132.7,24.5 133.1,24.5 133.7,24.7 134.4,24.8 135.1,25.0 135.7,25.5 136.2,26.0 137.0,26.4 137.7,26.8 137.8,27.4 137.8,28.0 138.2,28.5 138.7,29.0 138.3,29.3 137.8,29.6 137.3,29.9 136.8,30.2 136.1,30.2 135.4,30.3 134.6,30.4 133.9,30.5 133.2,30.8 132.5,31.2 131.8,31.5 131.0,31.9 130.0,32.1 129.0,32.4 128.3,33.3 127.5,34.2 126.8,35.2 126.1,36.2 125.3,36.1 124.5,36.1 123.4,35.7 122.2,35.4 121.6,34.4 121.0,33.5 120.6,32.4 120.2,31.4 120.7,30.8 121.2,30.2 121.2,29.6 121.1,29.0 121.2,28.3 121.4,27.7 121.4,27.1 121.5,26.6 121.1,26.6 120.6,26.5 120.2,26.5 119.8,26.4 119.4,26.4 119.0,26.3 118.7,26.3 118.3,26.3 118.0,26.2 118.2,25.9ZM139.6,32.1 140.1,31.8 140.7,31.5 141.5,31.5 142.4,31.6 143.2,31.6 144.1,31.6 145.0,31.5 146.7,32.4 146.4,32.7 146.0,33.0 145.3,33.3 144.5,33.6 143.3,33.4 142.2,33.3 140.9,32.6 140.2,32.3ZM172.1,62.4 170.7,61.4 169.4,60.8 167.9,61.1 167.1,60.0 166.3,58.9 166.1,57.4 165.8,56.0 165.0,54.8 164.2,53.6 165.1,52.7 166.5,52.8 167.9,53.0 169.2,53.1 170.3,53.1 171.3,53.1 171.0,51.7 170.0,50.0 168.2,48.7 167.0,48.3 165.7,48.0 165.1,47.2 165.7,47.1 166.3,46.9 167.7,47.1 166.7,46.0 167.5,46.1 168.4,46.3 169.0,45.4 169.1,44.6 169.4,44.1 168.9,42.6 169.4,42.3 170.0,42.1 170.3,41.9 170.7,41.7 169.8,40.9 168.8,40.2 167.2,38.8 167.6,38.5 167.8,38.2 168.7,38.9 169.5,39.7 170.4,40.6 172.0,41.6 172.5,41.2 173.8,41.6 174.2,41.3 174.7,41.1 175.0,40.8 176.2,41.2 175.7,40.2 173.9,38.8 173.6,38.2 174.9,38.6 173.6,37.7 172.2,36.9 172.4,36.8 172.7,36.6 172.9,36.6 173.2,36.6 173.3,36.2 172.6,36.0 172.0,35.8 171.7,35.9 171.4,36.1 171.1,36.1 170.8,36.2 169.1,35.4 167.2,34.2 166.3,33.5 165.4,32.8 164.4,32.1 163.8,32.0 163.1,31.9 164.5,32.8 165.2,33.5 165.9,34.2 167.4,35.4 169.2,36.2 170.0,37.1 170.7,37.9 171.5,38.7 172.3,39.4 172.3,39.8 172.3,40.2 171.7,40.3 170.2,39.2 168.8,38.4 167.4,37.5 165.9,36.6 166.0,37.2 166.0,37.8 165.3,37.7 164.5,37.6 163.4,36.9 162.3,36.2 161.3,35.4 160.3,34.6 160.3,34.1 160.2,33.5 160.2,33.0 160.2,32.6 159.6,32.0 159.0,31.4 158.3,30.8 157.5,30.3 157.3,29.9 157.0,29.6 157.0,29.3 157.1,29.0 157.0,28.7 157.5,28.8 157.9,28.8 158.7,29.1 159.5,29.3 160.1,29.5 160.7,29.6 161.1,29.7 161.5,29.8 161.9,29.9 163.1,30.3 164.2,30.7 165.4,31.1 166.7,31.7 166.4,31.7 166.1,31.6 165.8,31.5 165.4,31.5 165.1,31.4 164.8,31.3 166.5,32.0 168.2,32.8 168.7,33.0 169.2,33.1 169.0,32.9 168.6,32.6 166.7,31.7 166.5,31.5 166.4,31.4 165.0,30.8 163.6,30.3 164.7,30.7 165.8,31.1 165.0,30.8 164.3,30.5 164.0,30.4 163.7,30.2 163.5,30.1 163.2,30.0 162.9,29.9 162.6,29.8 162.3,29.7 164.6,30.6 166.8,31.5 169.1,32.5 171.2,33.6 173.4,34.7 175.6,35.9 177.6,37.1 179.6,38.3 181.5,39.6 183.4,40.9 185.3,42.3 187.2,43.7 189.0,45.2 190.8,46.7 192.5,48.3 194.3,49.9 195.9,51.5 197.6,53.2 199.2,54.9 200.7,56.7 202.2,58.5 203.7,60.4 205.1,62.3 206.5,64.2 207.8,66.1 209.0,68.1 210.3,70.2 211.3,72.0 212.3,73.8 213.2,75.6 214.1,77.5 215.2,79.8 216.2,82.2 217.1,84.5 218.0,86.9 218.4,88.2 218.8,89.4 219.2,90.6 219.5,91.8 219.8,92.9 220.1,93.9 220.3,95.0 220.5,96.0 220.5,97.1 220.3,97.1 219.8,95.3 219.2,93.4 218.4,91.0 217.5,88.7 216.4,86.4 215.3,84.0 214.3,82.0 213.3,80.0 212.2,78.0 210.8,75.8 209.3,73.6 208.2,71.4 209.1,73.6 208.4,72.9 206.8,70.7 205.8,69.0 206.2,68.9 206.4,68.9 205.9,67.7 205.3,66.5 204.4,64.8 203.4,63.1 202.2,61.4 202.1,61.7 202.0,62.0 201.5,61.9 201.0,61.8 200.4,61.8 199.7,61.6 199.0,61.5 197.9,60.5 196.1,58.5 194.9,57.0 195.2,56.5 195.4,56.0 195.8,55.9 196.2,55.8 196.4,55.4 196.5,55.1 196.6,54.8 197.6,55.4 198.5,56.0 198.6,55.8 198.7,55.6 198.8,55.4 197.0,53.6 196.0,52.8 195.0,52.0 193.9,51.2 192.9,50.0 191.8,48.9 192.1,49.5 192.2,50.0 193.4,51.8 192.2,50.7 190.9,49.7 190.5,49.8 191.3,51.1 192.1,52.4 193.3,54.2 194.8,55.6 194.6,55.9 194.4,56.2 193.8,56.2 193.1,56.2 192.9,56.9 194.2,58.3 195.4,59.8 196.5,61.8 195.1,61.1 193.5,59.5 191.9,57.9 190.8,56.6 189.7,55.4 188.2,54.2 186.5,53.3 184.8,52.4 183.5,51.5 182.2,50.6 181.4,50.8 182.8,52.4 185.2,54.2 186.2,54.6 187.2,55.0 188.8,56.0 190.3,57.0 189.1,56.6 190.0,58.5 190.5,59.8 190.2,59.7 189.3,57.9 187.2,56.5 186.1,55.9 185.0,55.4 183.6,54.5 182.2,53.7 180.9,52.4 179.5,52.0 179.2,52.7 178.4,53.0 177.5,53.2 176.7,53.3 175.9,53.3 176.9,54.8 176.2,55.4 175.5,56.0 175.4,57.9 176.0,59.4 175.4,61.4 174.2,61.4 172.9,61.5ZM163.1,45.5 163.9,45.4 164.7,45.2 165.6,45.1 166.5,44.9 167.3,44.6 168.0,44.4 167.2,44.0 167.0,42.9 165.7,42.6 164.5,41.6 162.6,40.6 161.4,39.7 160.6,39.0 159.7,38.3 160.2,38.3 159.6,38.2 158.9,38.2 158.5,37.4 157.8,37.4 157.2,37.4 157.3,38.4 158.8,39.7 159.8,40.2 160.1,40.8 161.2,40.7 162.3,41.6 161.7,42.3 162.5,43.1 162.2,43.8 163.1,43.9 163.9,44.1 164.5,44.4 163.4,44.6ZM158.1,43.8 159.1,43.9 160.0,44.0 160.5,43.7 161.0,43.4 160.3,42.1 160.0,41.1 158.7,40.4 158.0,40.4 157.2,40.4 157.7,41.2 156.6,41.4 157.6,42.4 157.6,43.4ZM142.3,25.2 143.7,25.4 145.0,25.7 146.4,26.0 146.2,25.8 146.0,25.7 145.6,25.5 145.3,25.4 144.9,25.3 144.5,25.1 144.1,25.0 143.7,25.0 143.4,25.0 143.1,24.9 142.8,24.9 142.5,24.9 142.4,25.1ZM187.9,59.8 189.0,59.7 190.0,59.5 191.0,61.5 189.6,60.9 188.2,60.3ZM182.0,56.0 183.2,56.0 184.0,57.2 184.7,58.4 183.7,58.5 182.9,57.2ZM180.8,53.7 181.5,53.7 182.7,55.5 182.0,55.4ZM197.5,63.0 198.5,63.2 199.4,63.4 199.6,63.8 198.8,63.6 197.9,63.5ZM202.4,63.6 202.6,63.2 202.8,62.8 203.3,63.9 202.9,64.2ZM171.8,62.7 173.4,63.0 174.9,63.2 176.4,63.5 177.3,63.1 178.1,62.7 179.3,62.0 180.4,61.4 181.7,61.3 182.9,61.2 184.0,61.1 185.2,60.9 186.4,60.7 187.5,61.1 187.9,62.4 188.3,63.8 189.7,65.4 191.3,66.6 192.8,67.0 194.2,67.3 195.4,68.3 196.7,69.3 197.8,69.6 198.9,70.0 198.2,67.9 198.9,67.4 199.6,66.9 200.6,67.6 201.6,68.3 202.6,68.6 203.5,69.0 204.4,69.3 204.7,68.9 204.9,68.6 205.8,69.0 206.8,70.7 207.8,72.1 208.7,73.6 209.8,75.3 210.8,77.0 211.8,78.7 213.1,81.0 214.4,83.3 215.2,85.2 215.9,87.1 216.9,89.5 217.9,91.8 218.6,93.4 219.3,95.0 219.8,96.2 220.3,97.4 220.7,99.0 221.0,99.8 221.3,100.6 221.3,100.1 221.3,99.5 221.3,99.2 221.3,98.9 221.2,98.5 221.6,100.6 222.0,102.6 222.3,104.7 222.5,106.6 222.7,108.5 222.9,110.4 222.9,112.3 222.8,114.2 222.7,116.2 222.5,117.8 222.3,119.4 222.0,121.5 221.6,123.6 221.3,125.6 221.0,127.6 220.8,130.1 220.5,132.5 220.4,134.2 220.2,135.8 219.8,137.9 219.3,140.1 218.8,142.2 218.0,143.8 217.2,145.3 216.3,146.9 215.4,148.5 214.5,150.0 213.9,151.8 213.3,153.6 212.6,155.4 211.5,156.9 210.3,158.4 209.4,160.2 208.5,162.0 206.8,164.2 205.1,166.3 203.7,167.7 202.3,169.1 201.2,169.8 200.1,170.5 199.3,170.6 198.6,170.7 197.8,170.7 196.9,171.2 196.0,171.6 195.7,171.2 195.4,170.7 196.0,169.6 196.6,168.4 197.2,166.7 197.8,164.9 197.9,163.5 198.0,162.0 198.3,160.2 198.6,158.4 199.2,156.6 199.7,154.9 200.1,153.1 200.2,151.0 200.1,149.0 200.1,146.9 200.1,145.3 200.2,143.8 201.2,141.7 202.1,139.5 203.1,137.4 203.3,135.0 203.5,132.5 203.3,130.1 203.0,127.6 202.5,126.0 202.0,124.4 201.2,122.3 200.4,120.3 200.5,118.2 200.6,116.2 200.7,114.1 200.8,112.0 199.7,110.4 198.4,110.6 197.1,110.7 195.9,109.2 194.6,107.6 193.2,107.5 191.7,107.5 189.9,108.4 188.0,109.3 186.8,109.4 185.5,109.6 184.2,109.6 182.8,109.6 181.2,110.1 179.5,110.6 177.3,109.6 175.9,108.2 174.4,106.8 172.8,105.3 171.3,103.9 170.4,101.8 168.1,99.8 166.7,98.6 165.4,97.4 164.6,95.6 163.9,93.9 165.1,91.8 165.0,89.5 164.8,87.1 164.1,85.6 163.4,84.0 163.8,82.1 164.1,80.2 164.8,78.4 165.4,76.5 166.2,75.2 166.8,73.9 167.9,73.1 169.0,72.4 170.1,71.0 169.8,69.8 169.5,68.6 169.8,67.3 170.1,66.1 170.9,65.5 171.7,65.0 171.8,63.8ZM221.1,137.4 220.7,139.3 220.3,141.1 219.8,143.0 219.2,144.9 218.6,146.9 217.8,149.1 217.0,151.3 216.2,153.4 215.3,155.5 214.3,157.6 214.0,158.0 213.7,158.4 214.5,156.5 215.2,154.6 216.1,152.3 217.0,150.0 217.7,148.2 218.3,146.4 218.9,144.6 219.3,143.8 219.6,143.0 220.1,141.4 220.5,139.8ZM72.3,103.6 74.4,102.3 75.2,100.3 76.6,99.8 78.4,98.9 80.2,97.9 80.7,99.8 81.2,97.4 83.0,97.7 84.9,99.5 85.5,100.5 87.0,100.5 88.4,100.5 90.6,101.1 92.4,100.7 94.3,100.3 95.7,101.8 96.4,103.9 98.6,104.7 99.7,106.2 100.8,107.6 102.8,107.8 104.8,108.0 106.7,108.6 108.7,109.3 110.6,110.9 111.6,112.9 112.7,114.8 112.6,116.3 112.6,117.8 115.1,119.4 116.7,119.0 118.7,119.6 120.8,120.3 122.4,122.2 124.5,122.4 126.5,122.6 129.0,122.4 131.5,123.9 133.9,125.8 135.3,126.2 136.7,126.5 137.1,128.1 137.5,129.6 137.1,131.1 136.8,132.5 135.7,133.9 134.7,135.3 133.0,137.4 131.4,139.0 131.0,140.6 130.6,142.2 130.6,144.2 130.6,146.1 130.0,147.7 129.5,149.2 128.6,150.8 127.8,152.3 126.0,154.6 124.1,154.8 122.2,154.9 120.7,155.7 119.3,156.4 118.0,157.4 116.7,158.4 116.6,160.2 116.6,162.0 115.7,163.5 114.8,164.9 113.6,166.5 112.4,168.0 111.6,169.2 110.8,170.5 109.0,171.7 107.7,171.4 106.3,171.2 104.3,170.5 105.6,172.0 106.8,173.6 106.7,174.8 106.6,176.1 105.5,176.4 104.5,176.8 103.0,177.0 101.6,177.1 101.8,178.4 102.0,179.6 100.5,179.6 99.0,179.6 100.2,181.4 100.3,182.9 100.5,184.4 99.7,185.1 98.9,185.8 100.2,186.7 101.5,187.6 101.0,188.8 100.6,190.0 100.6,191.5 101.7,192.4 103.1,193.2 104.5,193.9 105.8,194.7 105.0,195.2 104.3,195.4 103.7,195.6 102.3,195.1 100.8,194.5 99.7,194.0 98.5,193.5 97.0,192.5 95.5,191.5 94.5,190.3 93.4,189.1 92.3,187.8 92.1,186.7 91.9,185.6 91.4,183.8 91.0,182.0 90.2,180.8 89.5,179.6 89.1,178.4 88.8,177.1 88.1,175.8 87.4,174.5 87.3,173.2 87.3,171.8 87.4,170.5 87.6,169.1 87.0,167.0 86.4,164.9 86.1,163.5 85.8,162.0 85.7,159.8 85.7,157.6 85.4,155.4 85.1,153.1 84.6,151.3 84.2,149.4 83.8,147.5 82.5,146.4 81.3,145.3 79.1,144.1 76.9,142.8 75.8,141.3 74.6,139.8 73.3,137.4 72.2,135.4 71.2,133.3 70.2,131.5 69.2,129.6 67.3,127.6 67.1,126.3 67.0,124.9 68.5,123.2 67.4,121.6 67.8,119.4 68.1,118.0 68.5,116.5 70.0,115.3 70.9,113.4 71.8,111.6 71.9,109.3 72.0,107.1 72.2,105.3ZM107.9,191.3 109.3,191.3 110.8,191.3 111.2,192.2 109.7,192.2 108.3,192.2ZM103.0,208.4 103.3,208.4 103.7,208.4 103.9,208.4 104.2,208.4 104.4,208.5 104.7,208.5 105.0,208.5 105.3,208.6 105.2,208.4 105.1,208.2 105.1,207.9 105.5,207.9 105.9,207.9 106.2,207.9 106.6,207.9 107.0,207.9 107.5,207.9 107.9,207.9 108.4,207.9 109.0,208.0 109.5,208.0 110.1,208.0 110.6,208.1 111.2,208.1 111.8,208.1 112.0,208.0 112.2,207.9 112.5,207.8 112.8,207.6 112.7,207.3 112.7,207.0 112.8,206.7 112.9,206.3 112.4,205.6 112.1,204.8 112.2,204.2 112.5,203.5 113.0,203.0 113.5,202.5 114.3,202.3 115.0,202.2 115.8,202.1 116.6,202.0 116.2,202.4 115.8,202.8 115.4,203.2 115.0,203.5 115.2,204.5 115.2,205.1 115.3,205.7 116.7,206.6 118.1,207.4 119.1,208.0 120.0,208.6 121.2,209.2 121.9,209.3 122.6,209.4 123.2,209.5 123.8,209.6 124.4,209.7 125.0,209.8 125.6,209.9 126.1,210.0 126.6,210.0 127.1,210.0 127.6,210.0 128.1,210.1 128.5,210.1 129.0,210.1 129.4,210.1 129.8,210.0 130.3,210.0 130.7,209.9 131.3,209.8 131.8,209.7 132.4,209.5 133.1,209.4 133.7,209.2 134.4,209.0 135.1,208.9 135.8,208.7 136.6,208.5 137.4,208.3 138.2,208.1 138.9,208.0 139.7,207.8 140.5,207.6 141.3,207.5 142.2,207.3 143.0,207.1 143.8,207.1 144.5,207.0 145.3,206.9 146.0,206.8 146.8,206.8 147.5,206.7 148.2,206.5 149.0,206.4 149.7,206.3 150.3,206.3 150.9,206.3 151.5,206.3 152.1,206.3 152.6,206.3 153.2,206.3 153.7,206.3 154.2,206.3 154.7,206.3 155.2,206.3 155.6,206.3 156.1,206.3 156.5,206.3 156.9,206.3 157.4,206.3 157.9,206.2 158.3,206.2 158.8,206.2 159.2,206.1 159.6,206.1 160.0,206.0 160.4,206.0 160.8,205.9 161.2,205.8 161.6,205.7 162.0,205.7 162.3,205.6 162.7,205.5 163.0,205.4 163.4,205.3 163.8,205.2 164.1,205.1 164.5,205.0 164.8,204.9 165.2,204.8 165.5,204.6 165.8,204.5 165.6,204.6 165.2,204.8 165.0,204.8 164.8,204.9 164.6,205.0 162.3,205.9 160.0,206.7 157.7,207.5 155.4,208.2 153.1,208.9 150.7,209.5 148.4,210.0 146.0,210.5 143.6,210.9 141.2,211.2 138.8,211.5 136.4,211.7 134.0,211.9 131.6,212.0 129.2,212.0 128.9,212.0 126.5,212.0 124.1,211.9 121.7,211.7 119.3,211.5 117.0,211.2 114.6,210.9 112.3,210.5 110.0,210.1 107.6,209.5 105.3,209.0Z" fill="#222222"/>
</g>
<circle cx="129.0" cy="117.8" r="94.2" fill="none" stroke="#b0b0b0" stroke-width="0.6"/>
<clipPath id="clipb"><circle cx="348.6" cy="117.8" r="94.2"/></clipPath>
<g clip-path="url(#clipb)">
<g stroke-width="0.35">
<path fill="#2267ac" stroke="#2267ac" d="M415 109.6H420.5L420.8 117.8H415.2Z"/>
<path fill="#3480b9" stroke="#3480b9" d="M399.6 178.4H403.9L399.6 184.4H395.7ZM403.2 171.8H407.7L403.9 178.4H399.6ZM401 164.9H406.3L403.2 171.8H398.2Z"/>
<path fill="#4997c5" stroke="#4997c5" d="M395 178.4H399.6L395.7 184.4H391.4ZM403.9 178.4H411.1L406.3 184.4H399.6ZM398.2 171.8H403.2L399.6 178.4H395ZM407.7 171.8H411.8L407.7 178.4H403.9ZM395.4 164.9H401L398.2 171.8H392.9Z"/>
<path fill="#75b2d4" stroke="#75b2d4" d="M321.6 195H325.8L328.7 199.4H325.1ZM315.3 184.4H325.8L327.9 190H318.3ZM329.9 178.4H348.6L348.6 184.4H331.4ZM310 171.8H335.2L336.1 178.4H312.5ZM411.8 171.8H421.1L416.4 178.4H407.7ZM307.8 164.9H314.1L316 171.8H310ZM348.6 164.9H355.7L355.3 171.8H348.6ZM406.3 164.9H411.1L407.7 171.8H403.2ZM415.4 164.9H419.2L415.4 171.8H411.8ZM397.6 157.6H403.5L401 164.9H395.4ZM431.1 157.6H432.7L428.9 164.9H427.4Z"/>
<path fill="#9bc9e0" stroke="#9bc9e0" d="M323 190H327.9L330.1 195H325.8ZM348.6 190H353.9L353.3 195H348.6ZM335.2 171.8H341.9L342.3 178.4H336.1ZM348.6 171.8H375L373.3 178.4H348.6ZM421.1 171.8H423.1L418.3 178.4H416.4ZM424.6 171.8H425.5L420.5 178.4H419.7ZM314.1 164.9H327.5L328.6 171.8H316ZM334.4 164.9H341.5L341.9 171.8H335.2ZM355.7 164.9H383.1L381.2 171.8H355.3ZM389.4 164.9H395.4L392.9 171.8H387.2ZM411.1 164.9H415.4L411.8 171.8H407.7ZM419.2 164.9H425.3L421.1 171.8H415.4ZM427.4 164.9H428.9L424.6 171.8H423.1ZM429.9 164.9H430.2L425.8 171.8H425.5ZM319.4 157.6H333.8L334.4 164.9H320.7ZM348.6 157.6H356L355.7 164.9H348.6ZM363.4 157.6H370.7L369.7 164.9H362.8ZM377.8 157.6H384.7L383.1 164.9H376.5ZM391.3 157.6H397.6L395.4 164.9H389.4ZM403.5 157.6H422.5L419.2 164.9H401ZM432.7 157.6H433.6L429.9 164.9H428.9ZM402.4 126H408.9L408.2 134.2H401.8ZM408.2 101.4H414.2L415 109.6H408.9Z"/>
<path fill="#bddbea" stroke="#bddbea" d="M325.8 195H330.1L332.5 199.4H328.7ZM318.3 190H323L325.8 195H321.6ZM304.3 171.8H310L312.5 178.4H307.2ZM341.9 171.8H348.6L348.6 178.4H342.3ZM375 171.8H381.2L379.1 178.4H373.3ZM423.1 171.8H424.6L419.7 178.4H418.3ZM425.5 171.8H425.8L420.8 178.4H420.5ZM327.5 164.9H334.4L335.2 171.8H328.6ZM341.5 164.9H348.6L348.6 171.8H341.9ZM383.1 164.9H389.4L387.2 171.8H381.2ZM425.3 164.9H427.4L423.1 171.8H421.1ZM428.9 164.9H429.9L425.5 171.8H424.6ZM305.9 157.6H319.4L320.7 164.9H307.8ZM333.8 157.6H348.6L348.6 164.9H334.4ZM356 157.6H363.4L362.8 164.9H355.7ZM384.7 157.6H391.3L389.4 164.9H383.1ZM422.5 157.6H431.1L427.4 164.9H419.2ZM433.6 157.6H434L430.2 164.9H429.9ZM340.9 150H348.6L348.6 157.6H341.2ZM421.1 150H425.3L422.5 157.6H418.5ZM428.8 150H431.8L428.8 157.6H426ZM434.1 150H435.8L432.7 157.6H431.1ZM436.8 150H437.1L434 157.6H433.6ZM400.8 142.2H412.9L411.2 150H399.4ZM308.9 126H316.5L316.9 134.2H309.4ZM294.6 117.8H301.5L301.7 126H294.8ZM324.2 117.8H332.2L332.3 126H324.3ZM340.4 117.8H348.6L348.6 126H340.4ZM388.4 117.8H395.7L395.5 126H388.3ZM415.2 117.8H425.8L425.5 126H415ZM434 117.8H437.1L436.8 126H433.6ZM301.7 109.6H308.9L308.8 117.8H301.5ZM348.6 109.6H356.8L356.8 117.8H348.6ZM395.5 109.6H402.4L402.6 117.8H395.7ZM433.6 109.6H441L441.4 117.8H434ZM268.3 101.4H272.6L271.7 109.6H267.3ZM277.5 101.4H283L282.2 109.6H276.7ZM289 101.4H295.4L294.8 109.6H288.3ZM316.9 101.4H324.6L324.3 109.6H316.5ZM356.7 101.4H364.7L364.9 109.6H356.8ZM401.8 101.4H408.2L408.9 109.6H402.4ZM424.6 101.4H428.9L429.9 109.6H425.5ZM441 101.4H441.4L442.4 109.6H442.1ZM274.1 93.4H278.9L277.5 101.4H272.6ZM284.3 93.4H290.1L289 101.4H283ZM296.4 93.4H303.1L302.2 101.4H295.4ZM407.1 93.4H418.3L419.7 101.4H408.2ZM423.1 93.4H427.4L428.9 101.4H424.6ZM431.1 93.4H434.1L435.8 101.4H432.7ZM438.2 93.4H439.6L441.4 101.4H440ZM304.3 85.6H311.2L310.1 93.4H303.1ZM312.5 36.2H318.3L313.9 40.6H307.2Z"/>
<path fill="#d8e9f1" stroke="#d8e9f1" d="M299.6 157.6H305.9L307.8 164.9H301.8ZM370.7 157.6H377.8L376.5 164.9H369.7ZM304.3 150H325.7L326.5 157.6H305.9ZM333.2 150H340.9L341.2 157.6H333.8ZM348.6 150H356.3L356 157.6H348.6ZM392.9 150H399.4L397.6 157.6H391.3ZM411.2 150H421.1L418.5 157.6H409ZM431.8 150H434.1L431.1 157.6H428.8ZM435.8 150H436.8L433.6 157.6H432.7ZM332.8 142.2H340.7L340.9 150H333.2ZM348.6 142.2H364.4L364 150H348.6ZM412.9 142.2H418.3L416.4 150H411.2ZM427.4 142.2H431.1L428.8 150H425.3ZM434.1 142.2H438.2L435.8 150H431.8ZM309.4 134.2H316.9L317.5 142.2H310.1ZM332.5 134.2H340.5L340.7 142.2H332.8ZM401.8 134.2H408.2L407.1 142.2H400.8ZM428.9 134.2H438.2L436.5 142.2H427.4ZM324.3 126H340.4L340.5 134.2H324.6ZM348.6 126H356.8L356.7 134.2H348.6ZM395.5 126H402.4L401.8 134.2H395ZM436.8 126H441L440 134.2H435.8ZM332.2 117.8H340.4L340.4 126H332.3ZM356.8 117.8H373L372.9 126H356.8ZM380.8 117.8H388.4L388.3 126H380.7ZM395.7 117.8H402.6L402.4 126H395.5ZM425.8 117.8H434L433.6 126H425.5ZM437.1 117.8H439.6L439.2 126H436.8ZM441.4 117.8H442.4L442.1 126H441ZM288.3 109.6H294.8L294.6 117.8H288ZM308.9 109.6H316.5L316.4 117.8H308.8ZM332.3 109.6H348.6L348.6 117.8H332.2ZM356.8 109.6H372.9L373 117.8H356.8ZM388.3 109.6H395.5L395.7 117.8H388.4ZM420.5 109.6H433.6L434 117.8H420.8ZM441 109.6H442.1L442.4 117.8H441.4ZM272.6 101.4H277.5L276.7 109.6H271.7ZM283 101.4H289L288.3 109.6H282.2ZM295.4 101.4H302.2L301.7 109.6H294.8ZM309.4 101.4H316.9L316.5 109.6H308.9ZM332.5 101.4H356.7L356.8 109.6H332.3ZM372.6 101.4H380.3L380.7 109.6H372.9ZM387.8 101.4H395L395.5 109.6H388.3ZM414.2 101.4H424.6L425.5 109.6H415ZM269.8 93.4H274.1L272.6 101.4H268.3ZM310.1 93.4H317.5L316.9 101.4H309.4ZM332.8 93.4H340.7L340.5 101.4H332.5ZM348.6 93.4H356.5L356.7 101.4H348.6ZM400.8 93.4H407.1L408.2 101.4H401.8ZM427.4 93.4H431.1L432.7 101.4H428.9ZM434.1 93.4H436.5L438.2 101.4H435.8ZM297.8 85.6H304.3L303.1 93.4H296.4ZM310 36.2H312.5L307.2 40.6H304.3Z"/>
<path fill="#edf2f5" stroke="#edf2f5" d="M293.7 157.6H299.6L301.8 164.9H296.2ZM325.7 150H333.2L333.8 157.6H326.5ZM356.3 150H378.9L377.8 157.6H356ZM399.4 150H411.2L409 157.6H397.6ZM425.3 150H428.8L426 157.6H422.5ZM303.1 142.2H332.8L333.2 150H304.3ZM418.3 142.2H427.4L425.3 150H416.4ZM431.1 142.2H434.1L431.8 150H428.8ZM438.2 142.2H439.6L437.1 150H435.8ZM302.2 134.2H309.4L310.1 142.2H303.1ZM348.6 134.2H364.7L364.4 142.2H348.6ZM395 134.2H401.8L400.8 142.2H394.1ZM408.2 134.2H414.2L412.9 142.2H407.1ZM424.6 134.2H428.9L427.4 142.2H423.1ZM438.2 134.2H441.4L439.6 142.2H436.5ZM294.8 126H308.9L309.4 134.2H295.4ZM340.4 126H348.6L348.6 134.2H340.5ZM356.8 126H364.9L364.7 134.2H356.7ZM380.7 126H395.5L395 134.2H380.3ZM425.5 126H429.9L428.9 134.2H424.6ZM433.6 126H436.8L435.8 134.2H432.7ZM441 126H442.4L441.4 134.2H440ZM288 117.8H294.6L294.8 126H288.3ZM301.5 117.8H324.2L324.3 126H301.7ZM348.6 117.8H356.8L356.8 126H348.6ZM439.6 117.8H441.4L441 126H439.2ZM442.4 117.8H442.8L442.4 126H442.1ZM294.8 109.6H301.7L301.5 117.8H294.6ZM316.5 109.6H332.3L332.2 117.8H316.4ZM380.7 109.6H388.3L388.4 117.8H380.8ZM442.1 109.6H442.4L442.8 117.8H442.4ZM302.2 101.4H309.4L308.9 109.6H301.7ZM324.6 101.4H332.5L332.3 109.6H324.3ZM364.7 101.4H372.6L372.9 109.6H364.9ZM380.3 101.4H387.8L388.3 109.6H380.7ZM395 101.4H401.8L402.4 109.6H395.5ZM428.9 101.4H441L442.1 109.6H429.9ZM278.9 93.4H284.3L283 101.4H277.5ZM290.1 93.4H296.4L295.4 101.4H289ZM303.1 93.4H310.1L309.4 101.4H302.2ZM317.5 93.4H332.8L332.5 101.4H316.9ZM340.7 93.4H348.6L348.6 101.4H340.5ZM356.5 93.4H400.8L401.8 101.4H356.7ZM418.3 93.4H423.1L424.6 101.4H419.7ZM436.5 93.4H438.2L440 101.4H438.2ZM280.8 85.6H297.8L296.4 93.4H278.9ZM333.2 85.6H340.9L340.7 93.4H332.8ZM278.7 78H288.2L286 85.6H276.1ZM331.4 51.2H337L336.1 57.2H329.9ZM313.9 40.6H317.6L313.9 45.6H309.7ZM318.3 36.2H321.6L317.6 40.6H313.9Z"/>
<path fill="#f9f0eb" stroke="#f9f0eb" d="M299 171.8H304.3L307.2 178.4H302.2ZM301.8 164.9H307.8L310 171.8H304.3ZM291.7 150H304.3L305.9 157.6H293.7ZM386 150H392.9L391.3 157.6H384.7ZM296.4 142.2H303.1L304.3 150H297.8ZM340.7 142.2H348.6L348.6 150H340.9ZM364.4 142.2H379.7L378.9 150H364ZM394.1 142.2H400.8L399.4 150H392.9ZM289 134.2H302.2L303.1 142.2H290.1ZM316.9 134.2H332.5L332.8 142.2H317.5ZM340.5 134.2H348.6L348.6 142.2H340.7ZM364.7 134.2H372.6L372.2 142.2H364.4ZM380.3 134.2H395L394.1 142.2H379.7ZM288.3 126H294.8L295.4 134.2H289ZM316.5 126H324.3L324.6 134.2H316.9ZM364.9 126H380.7L380.3 134.2H364.7ZM429.9 126H433.6L432.7 134.2H428.9ZM373 117.8H380.8L380.7 126H372.9ZM276.1 85.6H280.8L278.9 93.4H274.1ZM311.2 85.6H318.3L317.5 93.4H310.1ZM340.9 85.6H356.3L356.5 93.4H340.7ZM371.5 85.6H392.9L394.1 93.4H372.2ZM399.4 85.6H411.2L412.9 93.4H400.8ZM416.4 85.6H421.1L423.1 93.4H418.3ZM274.7 78H278.7L276.1 85.6H271.9ZM288.2 78H299.6L297.8 85.6H286ZM274.7 70.7H290.9L288.2 78H271.2ZM325.8 51.2H331.4L329.9 57.2H323.9ZM360.2 51.2H371.4L373.3 57.2H361.1ZM364.3 45.6H369.3L371.4 51.2H365.8ZM310.4 40.6H313.9L309.7 45.6H305.8ZM317.6 40.6H321.6L318.3 45.6H313.9ZM321.6 36.2H325.1L321.6 40.6H317.6ZM310.1 32.4H314.1L307.8 36.2H303.1ZM316 32.4H318.1L312.5 36.2H310Z"/>
<path fill="#fce0d0" stroke="#fce0d0" d="M378.9 150H386L384.7 157.6H377.8ZM290.1 142.2H296.4L297.8 150H291.7ZM387.1 142.2H394.1L392.9 150H386ZM372.6 134.2H380.3L379.7 142.2H372.2ZM372.9 109.6H380.7L380.8 117.8H373ZM260.4 85.6H261.4L259 93.4H258ZM271.9 85.6H276.1L274.1 93.4H269.8ZM318.3 85.6H333.2L332.8 93.4H317.5ZM356.3 85.6H371.5L372.2 93.4H356.5ZM392.9 85.6H399.4L400.8 93.4H394.1ZM428.8 85.6H437.1L439.6 93.4H431.1ZM271.2 78H274.7L271.9 85.6H268.4ZM305.9 78H312.5L311.2 85.6H304.3ZM333.8 78H341.2L340.9 85.6H333.2ZM356 78H370.7L371.5 85.6H356.3ZM269.8 70.7H274.7L271.2 78H266.1ZM290.9 70.7H296.2L293.7 78H288.2ZM362.8 70.7H369.7L370.7 78H363.4ZM395.4 70.7H401L403.5 78H397.6ZM419.2 70.7H422.5L426 78H422.5ZM271.7 63.8H272.6L268.3 70.7H267.3ZM276.1 63.8H281.8L278 70.7H271.9ZM289.5 63.8H294L290.9 70.7H286.1ZM282 51.2H282.2L276.7 57.2H276.4ZM337 51.2H342.8L342.3 57.2H336.1ZM313.9 45.6H318.3L315.3 51.2H310.4ZM327.9 45.6H338.1L337 51.2H325.8ZM359.1 45.6H364.3L365.8 51.2H360.2ZM296.4 40.6H297.8L291.7 45.6H290.1ZM304.3 40.6H310.4L305.8 45.6H299ZM353.3 40.6H358L359.1 45.6H353.9ZM362.6 40.6H367.1L369.3 45.6H364.3ZM301.7 36.2H302.2L295.4 40.6H294.8ZM304.3 36.2H305.9L299.6 40.6H297.8ZM307.8 36.2H310L304.3 40.6H301.8ZM308.8 32.4H310.1L303.1 36.2H301.5ZM345.1 32.4H348.6L348.6 36.2H344.5ZM340.3 26.8H342.3L340.3 29.3H337.6ZM344.4 25H345.8L344.4 26.8H342.3ZM347.2 25H348.6L348.6 26.8H346.5ZM355.5 25H356.8L360.8 26.8H358.9Z"/>
<path fill="#facab1" stroke="#facab1" d="M261.4 85.6H265.4L263.1 93.4H259ZM268.4 85.6H271.9L269.8 93.4H266.1ZM411.2 85.6H416.4L418.3 93.4H412.9ZM421.1 85.6H428.8L431.1 93.4H423.1ZM299.6 78H305.9L304.3 85.6H297.8ZM312.5 78H333.8L333.2 85.6H311.2ZM341.2 78H356L356.3 85.6H340.9ZM370.7 78H377.8L378.9 85.6H371.5ZM384.7 78H403.5L405.5 85.6H386ZM418.5 78H422.5L425.3 85.6H421.1ZM426 78H432.7L435.8 85.6H428.8ZM433.6 78H434L437.1 85.6H436.8ZM267 70.7H267.3L263.6 78H263.2ZM301.8 70.7H307.8L305.9 78H299.6ZM355.7 70.7H362.8L363.4 78H356ZM369.7 70.7H376.5L377.8 78H370.7ZM389.4 70.7H395.4L397.6 78H391.3ZM401 70.7H406.3L409 78H403.5ZM411.1 70.7H419.2L422.5 78H414ZM422.5 70.7H427.4L431.1 78H426ZM429.9 70.7H430.2L434 78H433.6ZM271.4 63.8H271.7L267.3 70.7H267ZM272.6 63.8H274.1L269.8 70.7H268.3ZM281.8 63.8H289.5L286.1 70.7H278ZM294 63.8H299L296.2 70.7H290.9ZM304.3 63.8H310L307.8 70.7H301.8ZM355.3 63.8H368.6L369.7 70.7H355.7ZM423.1 63.8H425.5L429.9 70.7H427.4ZM276.4 57.2H276.7L271.7 63.8H271.4ZM277.5 57.2H278.9L274.1 63.8H272.6ZM280.8 57.2H289.5L285.4 63.8H276.1ZM302.2 57.2H307.2L304.3 63.8H299ZM354.9 57.2H361.1L362 63.8H355.3ZM367.3 57.2H373.3L375 63.8H368.6ZM390 57.2H395L398.2 63.8H392.9ZM282.2 51.2H288.2L283.2 57.2H276.7ZM290.9 51.2H297.6L293.3 57.2H286.1ZM305.8 51.2H310.4L307.2 57.2H302.2ZM320.4 51.2H325.8L323.9 57.2H318.1ZM342.8 51.2H348.6L348.6 57.2H342.3ZM354.4 51.2H360.2L361.1 57.2H354.9ZM371.4 51.2H376.8L379.1 57.2H373.3ZM386.8 51.2H391.4L395 57.2H390ZM288.3 45.6H290.1L284.3 51.2H282.2ZM291.7 45.6H302.2L297.6 51.2H286ZM309.7 45.6H313.9L310.4 51.2H305.8ZM323 45.6H327.9L325.8 51.2H320.4ZM338.1 45.6H343.3L342.8 51.2H337ZM369.3 45.6H387.5L391.4 51.2H371.4ZM395 45.6H401L406.3 51.2H399.6ZM407.1 45.6H409.2L415.2 51.2H412.9ZM294.8 40.6H295.4L289 45.6H288.3ZM299.6 40.6H301.8L296.2 45.6H293.7ZM321.6 40.6H330.1L327.9 45.6H318.3ZM348.6 40.6H353.3L353.9 45.6H348.6ZM358 40.6H362.6L364.3 45.6H359.1ZM379.6 40.6H395.4L401 45.6H383.3ZM397.6 40.6H399.4L405.5 45.6H403.5ZM401.8 40.6H402.6L409.2 45.6H408.2ZM302.2 36.2H304.3L297.8 40.6H295.4ZM305.9 36.2H307.8L301.8 40.6H299.6ZM352.7 36.2H356.8L358 40.6H353.3ZM392.9 36.2H394.1L400.8 40.6H399.4ZM314.1 32.4H316L310 36.2H307.8ZM318.1 32.4H325.8L321.6 36.2H312.5ZM328.7 32.4H331.8L328.7 36.2H325.1ZM316.4 29.3H316.5L308.9 32.4H308.8ZM316.9 29.3H323.9L318.1 32.4H309.4ZM325.8 29.3H335L331.8 32.4H320.4ZM337.6 29.3H340.3L338.3 32.4H335ZM345.8 29.3H359.6L362.2 32.4H345.1ZM344.4 26.8H346.5L345.8 29.3H343ZM348.6 26.8H350.7L351.4 29.3H348.6ZM352.8 26.8H354.9L356.9 29.3H354.2ZM356.9 26.8H358.9L362.2 29.3H359.6ZM360.8 26.8H362.6L367.1 29.3H364.7ZM343 25H344.4L342.3 26.8H340.3ZM351.4 25H352.8L354.9 26.8H352.8ZM356.8 25H358L362.6 26.8H360.8ZM360.2 25H362L368.6 26.8H365.8ZM362.8 25H363.4L370.7 26.8H369.7ZM364.4 25H364.7L372.6 26.8H372.2ZM364.9 25H365L373 26.8H372.9Z"/>
<path fill="#f5ac8b" stroke="#f5ac8b" d="M379.7 142.2H387.1L386 150H378.9ZM260.1 85.6H260.4L258 93.4H257.6ZM265.4 85.6H268.4L266.1 93.4H263.1ZM263.2 78H263.6L260.4 85.6H260.1ZM264.5 78H266.1L263.1 85.6H261.4ZM268.4 78H271.2L268.4 85.6H265.4ZM403.5 78H418.5L421.1 85.6H405.5ZM422.5 78H426L428.8 85.6H425.3ZM432.7 78H433.6L436.8 85.6H435.8ZM267.3 70.7H269.8L266.1 78H263.6ZM296.2 70.7H301.8L299.6 78H293.7ZM307.8 70.7H314.1L312.5 78H305.9ZM406.3 70.7H411.1L414 78H409ZM427.4 70.7H429.9L433.6 78H431.1ZM274.1 63.8H276.1L271.9 70.7H269.8ZM299 63.8H304.3L301.8 70.7H296.2ZM310 63.8H316L314.1 70.7H307.8ZM368.6 63.8H375L376.5 70.7H369.7ZM392.9 63.8H403.2L406.3 70.7H395.4ZM407.7 63.8H418.5L422.5 70.7H411.1ZM425.5 63.8H425.8L430.2 70.7H429.9ZM276.7 57.2H277.5L272.6 63.8H271.7ZM278.9 57.2H280.8L276.1 63.8H274.1ZM289.5 57.2H302.2L299 63.8H285.4ZM307.2 57.2H312.5L310 63.8H304.3ZM318.1 57.2H329.9L328.6 63.8H316ZM361.1 57.2H367.3L368.6 63.8H362ZM373.3 57.2H384.7L387.2 63.8H375ZM414 57.2H419.7L424.6 63.8H418.5ZM288.2 51.2H290.9L286.1 57.2H283.2ZM297.6 51.2H305.8L302.2 57.2H293.3ZM310.4 51.2H320.4L318.1 57.2H307.2ZM348.6 51.2H354.4L354.9 57.2H348.6ZM376.8 51.2H381.9L384.7 57.2H379.1ZM391.4 51.2H395.7L399.6 57.2H395ZM403.2 51.2H412.9L418.3 57.2H407.7ZM415 51.2H415.2L420.8 57.2H420.5ZM288 45.6H288.3L282.2 51.2H282ZM290.1 45.6H291.7L286 51.2H284.3ZM302.2 45.6H309.7L305.8 51.2H297.6ZM318.3 45.6H323L320.4 51.2H315.3ZM343.3 45.6H359.1L360.2 51.2H342.8ZM387.5 45.6H391.4L395.7 51.2H391.4ZM401 45.6H407.1L412.9 51.2H406.3ZM294.6 40.6H294.8L288.3 45.6H288ZM295.4 40.6H296.4L290.1 45.6H289ZM297.8 40.6H299.6L293.7 45.6H291.7ZM301.8 40.6H304.3L299 45.6H296.2ZM330.1 40.6H334.6L332.9 45.6H327.9ZM367.1 40.6H371.4L374.2 45.6H369.3ZM375.6 40.6H379.6L383.3 45.6H378.9ZM395.4 40.6H397.6L403.5 45.6H401ZM399.4 40.6H401.8L408.2 45.6H405.5ZM301.5 36.2H301.7L294.8 40.6H294.6ZM325.1 36.2H332.5L330.1 40.6H321.6ZM348.6 36.2H352.7L353.3 40.6H348.6ZM356.8 36.2H360.8L362.6 40.6H358ZM391.3 36.2H392.9L399.4 40.6H397.6ZM394.1 36.2H395L401.8 40.6H400.8ZM395.5 36.2H395.7L402.6 40.6H402.4ZM325.8 32.4H328.7L325.1 36.2H321.6ZM348.6 32.4H352.1L352.7 36.2H348.6ZM316.5 29.3H316.9L309.4 32.4H308.9ZM323.9 29.3H325.8L320.4 32.4H318.1ZM335 29.3H337.6L335 32.4H331.8ZM343 29.3H345.8L345.1 32.4H341.7ZM342.3 26.8H344.4L343 29.3H340.3ZM346.5 26.8H348.6L348.6 29.3H345.8ZM350.7 26.8H352.8L354.2 29.3H351.4ZM354.9 26.8H356.9L359.6 29.3H356.9ZM358.9 26.8H360.8L364.7 29.3H362.2ZM364.3 26.8H365.8L371.4 29.3H369.3ZM345.8 25H347.2L346.5 26.8H344.4ZM348.6 25H351.4L352.8 26.8H348.6ZM352.8 25H355.5L358.9 26.8H354.9ZM358 25H360.2L365.8 26.8H362.6ZM362 25H362.8L369.7 26.8H368.6ZM364.7 25H364.9L372.9 26.8H372.6Z"/>
<path fill="#e98b6e" stroke="#e98b6e" d="M263.6 78H264.5L261.4 85.6H260.4ZM266.1 78H268.4L265.4 85.6H263.1ZM377.8 78H384.7L386 85.6H378.9ZM314.1 70.7H355.7L356 78H312.5ZM383.1 70.7H389.4L391.3 78H384.7ZM316 63.8H322.2L320.7 70.7H314.1ZM381.2 63.8H392.9L395.4 70.7H383.1ZM403.2 63.8H407.7L411.1 70.7H406.3ZM418.5 63.8H423.1L427.4 70.7H422.5ZM312.5 57.2H318.1L316 63.8H310ZM336.1 57.2H342.3L341.9 63.8H335.2ZM384.7 57.2H390L392.9 63.8H387.2ZM395 57.2H414L418.5 63.8H398.2ZM419.7 57.2H420.8L425.8 63.8H424.6ZM381.9 51.2H386.8L390 57.2H384.7ZM395.7 51.2H403.2L407.7 57.2H399.6ZM412.9 51.2H415L420.5 57.2H418.3ZM391.4 45.6H395L399.6 51.2H395.7ZM339.2 40.6H348.6L348.6 45.6H338.1ZM371.4 40.6H375.6L378.9 45.6H374.2ZM340.4 36.2H348.6L348.6 40.6H339.2ZM360.8 36.2H364.7L367.1 40.6H362.6ZM387.2 36.2H391.3L397.6 40.6H392.9ZM395 36.2H395.5L402.4 40.6H401.8ZM331.8 32.4H345.1L344.5 36.2H328.7ZM387.8 32.4H388.3L395.5 36.2H395ZM340.3 29.3H343L341.7 32.4H338.3ZM359.6 29.3H364.7L368.5 32.4H362.2ZM362.6 26.8H364.3L369.3 29.3H367.1ZM367.3 26.8H368.6L375 29.3H373.3ZM369.7 26.8H371.5L378.9 29.3H376.5ZM372.9 26.8H373L380.8 29.3H380.7ZM363.4 25H364.4L372.2 26.8H370.7Z"/>
<path fill="#d86551" stroke="#d86551" d="M296.2 164.9H301.8L304.3 171.8H299ZM376.5 70.7H383.1L384.7 78H377.8ZM341.9 63.8H355.3L355.7 70.7H341.5ZM375 63.8H381.2L383.1 70.7H376.5ZM329.9 57.2H336.1L335.2 63.8H328.6ZM342.3 57.2H348.6L348.6 63.8H341.9ZM334.6 40.6H339.2L338.1 45.6H332.9ZM332.5 36.2H340.4L339.2 40.6H330.1ZM384.7 36.2H387.2L392.9 40.6H390ZM358.9 32.4H365.4L368.5 36.2H360.8ZM384.7 32.4H387.1L394.1 36.2H391.3ZM364.7 29.3H367.1L371.4 32.4H368.5ZM378.9 29.3H379.7L387.1 32.4H386ZM380.7 29.3H380.8L388.4 32.4H388.3ZM365.8 26.8H367.3L373.3 29.3H371.4ZM368.6 26.8H369.7L376.5 29.3H375ZM371.5 26.8H372.9L380.7 29.3H378.9Z"/>
<path fill="#c6413e" stroke="#c6413e" d="M322.2 63.8H341.9L341.5 70.7H320.7ZM348.6 57.2H354.9L355.3 63.8H348.6ZM364.7 36.2H375.6L379.6 40.6H367.1ZM381.2 32.4H383.1L389.4 36.2H387.2ZM387.1 32.4H387.8L395 36.2H394.1ZM388.3 32.4H388.4L395.7 36.2H395.5ZM367.1 29.3H373.3L379.1 32.4H371.4ZM380.3 29.3H380.7L388.3 32.4H387.8Z"/>
<path fill="#b3192c" stroke="#b3192c" d="M375.6 36.2H384.7L390 40.6H379.6ZM365.4 32.4H371.4L375.6 36.2H368.5ZM383.1 32.4H384.7L391.3 36.2H389.4ZM373.3 29.3H378.9L386 32.4H379.1ZM379.7 29.3H380.3L387.8 32.4H387.1Z"/>
<path fill="#8d0c25" stroke="#8d0c25" d="M379.1 32.4H381.2L387.2 36.2H384.7Z"/>
<path fill="#67001f" stroke="#67001f" d="M371.4 32.4H379.1L384.7 36.2H375.6Z"/>
</g>
<path d="M316.3,29.3 315.9,29.4 315.6,29.6 315.3,29.7 315.0,29.8 315.2,29.7 315.5,29.6 315.8,29.5 316.1,29.4 316.4,29.3 316.2,29.4 316.1,29.5 315.7,29.8 315.3,30.0 314.9,30.2 314.5,30.5 315.0,30.5 315.3,30.5 315.6,30.5 315.9,30.5 316.2,30.5 316.5,30.5 316.9,30.5 317.3,30.5 317.6,30.5 318.0,30.5 318.8,30.3 319.5,30.2 320.2,30.0 320.9,29.9 323.0,29.0 325.1,28.2 324.2,28.7 323.4,29.3 322.7,29.9 323.4,29.8 324.0,29.7 324.6,29.6 325.3,29.6 325.4,29.9 325.5,30.2 324.5,30.9 323.5,31.7 322.5,32.0 321.5,32.3 320.4,32.5 319.4,32.8 318.7,33.0 317.9,33.1 316.5,33.7 315.0,34.2 313.6,34.8 312.1,35.4 310.5,36.3 308.9,37.2 308.5,38.0 308.2,38.8 308.7,38.9 309.3,39.1 310.0,39.2 310.3,39.8 310.7,40.4 311.4,40.5 312.2,40.6 311.4,41.6 310.7,42.6 310.5,44.1 311.7,44.1 312.7,42.8 313.8,41.6 315.3,40.6 316.9,39.7 317.9,38.8 318.9,37.9 319.2,37.1 319.6,36.2 320.7,35.2 321.8,34.2 322.6,34.3 323.3,34.3 324.1,34.4 324.6,34.7 325.2,35.1 325.8,35.4 325.2,36.2 324.7,37.1 325.5,37.2 326.2,37.3 327.0,37.5 328.1,36.7 329.2,36.0 329.4,37.1 329.6,38.4 330.0,39.2 330.4,40.2 331.1,40.9 332.0,41.6 332.5,42.3 333.1,43.1 331.4,44.2 329.7,44.8 328.0,45.4 326.7,45.4 325.5,45.4 324.3,45.4 323.1,45.4 321.9,45.9 320.7,46.4 318.8,47.4 316.8,48.3 318.2,47.9 319.6,47.5 321.1,47.1 322.5,46.7 322.5,47.8 321.2,49.5 322.0,50.0 323.4,50.3 324.9,50.6 326.4,49.5 324.8,51.0 323.0,51.5 321.1,52.1 319.9,52.5 318.6,53.0 319.4,51.2 318.4,51.2 317.1,51.8 315.7,52.4 313.8,53.2 312.9,54.8 313.4,55.1 311.7,55.5 310.1,56.0 308.6,56.5 307.7,57.9 305.5,59.8 304.4,61.1 303.8,63.1 301.9,64.4 300.5,65.1 299.2,65.8 297.7,66.8 296.2,67.9 294.9,70.0 294.7,72.1 294.6,74.3 294.2,75.8 293.8,77.2 292.7,77.7 292.2,75.8 292.1,73.6 292.3,72.1 292.4,70.7 290.7,71.1 289.9,70.6 289.2,70.1 288.2,70.3 287.2,70.4 286.1,71.8 284.8,71.7 283.8,71.3 282.9,71.0 281.2,71.8 280.0,72.7 278.8,73.6 278.0,75.0 277.2,76.5 276.5,78.0 275.8,79.5 275.3,80.8 274.9,82.1 274.7,84.2 274.6,86.4 275.5,87.6 276.2,88.4 277.2,88.1 278.2,87.8 279.9,86.4 280.8,84.0 282.2,83.6 283.5,83.1 284.5,83.4 283.8,84.9 283.1,86.4 282.2,87.9 281.5,89.9 280.8,91.8 281.8,92.2 282.9,92.1 284.0,92.0 285.1,92.7 286.2,93.4 285.8,95.0 285.4,96.6 285.1,98.2 284.7,99.8 285.2,101.2 285.8,102.6 287.5,103.4 289.5,102.3 290.7,102.9 291.9,103.6 290.6,103.9 288.5,105.8 286.8,104.7 285.1,103.9 284.0,102.7 283.0,101.4 282.2,99.0 280.9,96.6 279.5,95.8 278.3,95.4 277.1,95.0 276.2,93.4 275.3,91.8 274.4,92.0 273.5,92.2 272.3,91.4 271.3,90.7 270.3,89.7 269.5,88.7 268.8,87.5 268.1,86.4 268.6,84.4 269.1,82.5 269.2,80.2 269.4,78.0 269.6,76.0 269.9,74.1 270.2,72.1 270.9,70.6 271.5,69.0 271.3,68.8 271.1,68.6 270.0,70.7 269.3,72.6 268.6,74.5 268.1,76.5 267.6,78.7 267.1,81.0 267.1,79.9 267.1,78.7 267.6,76.5 268.3,74.3 268.8,72.5 269.4,70.7 270.3,68.9 271.2,67.0 271.4,66.2 271.7,65.3 272.0,64.4 272.9,62.9 273.9,61.4 274.8,60.0 275.8,58.6 276.8,57.2 278.4,55.4 280.0,53.6 281.7,51.8 283.5,50.0 284.9,48.7 286.3,47.4 287.3,46.4 288.3,45.5 289.4,44.6 290.8,43.4 292.3,42.2 293.9,41.1 295.5,40.0 297.1,38.9 298.8,37.9 299.5,37.4 300.3,36.9 301.2,36.4 302.0,35.9 302.3,35.8 302.6,35.6 302.9,35.4 303.2,35.2 303.6,35.0 304.0,34.8 303.1,35.3 302.2,35.8 301.4,36.3 301.2,36.4 302.9,35.4 304.7,34.5 306.5,33.5 308.3,32.6 310.1,31.8 311.8,31.1 313.6,30.3 315.4,29.7 315.8,29.5 316.2,29.3 316.7,29.2 317.6,28.8 318.6,28.5 319.7,28.2 320.8,27.8 320.2,28.0 319.7,28.1 319.2,28.3 318.8,28.4 318.3,28.6 317.9,28.8 317.5,28.9 317.0,29.0 316.7,29.2ZM334.8,31.4 333.7,32.2 332.5,33.0 331.2,33.9 330.1,34.1 329.0,34.4 327.8,34.6 327.3,34.2 326.8,33.9 326.3,33.5 325.8,33.3 325.2,33.1 324.7,33.0 324.2,32.8 325.8,32.0 327.3,31.2 328.9,30.5 328.8,30.1 328.7,29.7 328.8,29.3 328.2,29.3 327.5,29.3 327.0,29.3 326.4,29.3 325.8,29.3 326.4,28.7 327.1,28.2 327.8,27.7 328.4,27.7 329.1,27.6 329.7,27.5 330.3,27.5 331.0,27.4 331.6,27.4 331.8,27.5 331.9,27.7 332.1,27.8 332.4,28.0 332.5,28.2 332.7,28.5 332.9,28.7 333.2,29.0 333.5,29.3 333.6,29.7 333.9,30.1 334.1,30.5 334.5,31.0ZM343.7,24.5 343.4,24.4 343.1,24.4 342.9,24.3 342.5,24.3 342.2,24.3 341.8,24.4 341.5,24.4 341.1,24.4 340.8,24.4 340.4,24.5 340.1,24.5 339.7,24.5 339.4,24.5 339.0,24.6 338.6,24.6 338.3,24.6 337.9,24.6 336.6,24.9 335.3,25.1 333.9,25.4 332.6,25.7 332.6,25.9 332.8,26.0 333.1,26.2 333.3,26.3 333.5,26.3 333.7,26.3 334.0,26.4 335.0,26.2 335.9,25.9 336.9,25.7 337.8,25.5 338.6,25.4 339.3,25.2 340.0,25.1 340.7,25.0 341.3,24.9 341.9,24.8 342.6,24.7 343.1,24.6ZM318.0,29.9 317.8,29.8 317.5,29.6 317.3,29.5 317.2,29.3 317.6,29.1 317.9,28.9 318.3,28.7 318.7,28.6 319.2,28.4 319.6,28.2 321.6,27.6 323.6,27.0 324.1,26.9 324.6,26.8 325.1,26.7 325.6,26.6 326.1,26.5 326.6,26.4 326.9,26.4 327.3,26.4 327.7,26.4 328.0,26.5 328.1,26.6 328.3,26.7 328.6,26.8 327.3,27.1 326.0,27.5 324.7,27.8 323.4,28.2 322.1,28.6 320.7,29.0 319.4,29.4ZM327.6,48.1 328.9,48.5 330.1,48.8 331.4,49.1 332.7,49.2 334.1,49.2 334.6,48.2 334.1,47.0 333.2,46.4 332.4,45.9 332.4,45.0 332.4,44.1 330.6,45.1 329.4,46.2 328.3,47.2ZM286.8,82.7 288.4,81.8 290.0,81.0 291.4,80.9 292.9,80.8 294.4,82.0 295.9,83.1 297.4,84.2 298.9,85.3 297.5,85.4 296.1,85.6 294.7,85.7 293.7,84.5 292.8,83.7 291.8,82.8 290.3,81.9 289.1,82.4 287.8,82.8ZM298.1,88.1 300.4,85.7 302.3,85.8 304.3,85.9 305.2,86.8 306.1,87.8 304.7,88.1 303.2,88.4 301.5,89.0 299.8,88.5ZM293.2,88.1 294.4,88.2 295.6,88.4 295.5,89.0 294.3,88.8 293.2,88.7ZM307.8,87.9 308.9,88.0 310.0,88.1 309.7,88.7 307.6,88.7ZM338.1,25.6 338.8,25.4 339.6,25.3 340.3,25.2 340.9,25.0 341.6,24.9 342.3,24.8 343.0,24.7 343.6,24.6 343.9,24.5 344.3,24.5 344.7,24.5 345.1,24.5 345.4,24.5 345.8,24.4 346.1,24.4 346.5,24.4 346.8,24.4 347.1,24.4 347.5,24.3 347.8,24.3 348.1,24.3 348.4,24.3 348.7,24.3 349.0,24.2 349.3,24.2 349.5,24.2 349.8,24.2 350.1,24.3 350.5,24.3 350.8,24.3 351.1,24.4 351.5,24.4 351.9,24.4 352.3,24.5 352.7,24.5 353.3,24.7 354.0,24.8 354.7,25.0 355.3,25.5 355.8,26.0 356.6,26.4 357.3,26.8 357.4,27.4 357.4,28.0 357.8,28.5 358.3,29.0 357.9,29.3 357.4,29.6 356.9,29.9 356.4,30.2 355.7,30.2 355.0,30.3 354.2,30.4 353.5,30.5 352.8,30.8 352.1,31.2 351.4,31.5 350.6,31.9 349.6,32.1 348.6,32.4 347.9,33.3 347.1,34.2 346.4,35.2 345.7,36.2 344.9,36.1 344.1,36.1 343.0,35.7 341.8,35.4 341.2,34.4 340.6,33.5 340.2,32.4 339.8,31.4 340.3,30.8 340.8,30.2 340.8,29.6 340.7,29.0 340.8,28.3 341.0,27.7 341.0,27.1 341.1,26.6 340.7,26.6 340.2,26.5 339.8,26.5 339.4,26.4 339.0,26.4 338.6,26.3 338.3,26.3 337.9,26.3 337.6,26.2 337.8,25.9ZM359.2,32.1 359.7,31.8 360.3,31.5 361.1,31.5 362.0,31.6 362.8,31.6 363.7,31.6 364.6,31.5 366.3,32.4 366.0,32.7 365.6,33.0 364.9,33.3 364.1,33.6 362.9,33.4 361.8,33.3 360.5,32.6 359.8,32.3ZM391.7,62.4 390.3,61.4 389.0,60.8 387.5,61.1 386.7,60.0 385.9,58.9 385.7,57.4 385.4,56.0 384.6,54.8 383.8,53.6 384.7,52.7 386.1,52.8 387.5,53.0 388.8,53.1 389.9,53.1 390.9,53.1 390.6,51.7 389.6,50.0 387.8,48.7 386.6,48.3 385.3,48.0 384.7,47.2 385.3,47.1 385.9,46.9 387.3,47.1 386.3,46.0 387.1,46.1 388.0,46.3 388.6,45.4 388.7,44.6 389.0,44.1 388.5,42.6 389.0,42.3 389.6,42.1 389.9,41.9 390.3,41.7 389.4,40.9 388.4,40.2 386.8,38.8 387.2,38.5 387.4,38.2 388.3,38.9 389.1,39.7 390.0,40.6 391.6,41.6 392.1,41.2 393.4,41.6 393.8,41.3 394.3,41.1 394.6,40.8 395.8,41.2 395.3,40.2 393.5,38.8 393.2,38.2 394.5,38.6 393.2,37.7 391.8,36.9 392.0,36.8 392.3,36.6 392.5,36.6 392.8,36.6 392.9,36.2 392.2,36.0 391.6,35.8 391.3,35.9 391.0,36.1 390.7,36.1 390.4,36.2 388.7,35.4 386.8,34.2 385.9,33.5 385.0,32.8 384.0,32.1 383.4,32.0 382.7,31.9 384.1,32.8 384.8,33.5 385.5,34.2 387.0,35.4 388.8,36.2 389.6,37.1 390.3,37.9 391.1,38.7 391.9,39.4 391.9,39.8 391.9,40.2 391.3,40.3 389.8,39.2 388.4,38.4 387.0,37.5 385.5,36.6 385.6,37.2 385.6,37.8 384.9,37.7 384.1,37.6 383.0,36.9 381.9,36.2 380.9,35.4 379.9,34.6 379.9,34.1 379.8,33.5 379.8,33.0 379.8,32.6 379.2,32.0 378.6,31.4 377.9,30.8 377.1,30.3 376.9,29.9 376.6,29.6 376.6,29.3 376.7,29.0 376.6,28.7 377.1,28.8 377.5,28.8 378.3,29.1 379.1,29.3 379.7,29.5 380.3,29.6 380.7,29.7 381.1,29.8 381.5,29.9 382.7,30.3 383.8,30.7 385.0,31.1 386.3,31.7 386.0,31.7 385.7,31.6 385.4,31.5 385.0,31.5 384.7,31.4 384.4,31.3 386.1,32.0 387.8,32.8 388.3,33.0 388.8,33.1 388.6,32.9 388.2,32.6 386.3,31.7 386.1,31.5 386.0,31.4 384.6,30.8 383.2,30.3 384.3,30.7 385.4,31.1 384.6,30.8 383.9,30.5 383.6,30.4 383.3,30.2 383.1,30.1 382.8,30.0 382.5,29.9 382.2,29.8 381.9,29.7 384.2,30.6 386.4,31.5 388.7,32.5 390.8,33.6 393.0,34.7 395.2,35.9 397.2,37.1 399.2,38.3 401.1,39.6 403.0,40.9 404.9,42.3 406.8,43.7 408.6,45.2 410.4,46.7 412.1,48.3 413.9,49.9 415.5,51.5 417.2,53.2 418.8,54.9 420.3,56.7 421.8,58.5 423.3,60.4 424.7,62.3 426.1,64.2 427.4,66.1 428.6,68.1 429.9,70.2 430.9,72.0 431.9,73.8 432.8,75.6 433.7,77.5 434.8,79.8 435.8,82.2 436.7,84.5 437.6,86.9 438.0,88.2 438.4,89.4 438.8,90.6 439.1,91.8 439.4,92.9 439.7,93.9 439.9,95.0 440.1,96.0 440.1,97.1 439.9,97.1 439.4,95.3 438.8,93.4 438.0,91.0 437.1,88.7 436.0,86.4 434.9,84.0 433.9,82.0 432.9,80.0 431.8,78.0 430.4,75.8 428.9,73.6 427.8,71.4 428.7,73.6 428.0,72.9 426.4,70.7 425.4,69.0 425.8,68.9 426.0,68.9 425.5,67.7 424.9,66.5 424.0,64.8 423.0,63.1 421.8,61.4 421.7,61.7 421.6,62.0 421.1,61.9 420.6,61.8 420.0,61.8 419.3,61.6 418.6,61.5 417.5,60.5 415.7,58.5 414.5,57.0 414.8,56.5 415.0,56.0 415.4,55.9 415.8,55.8 416.0,55.4 416.1,55.1 416.2,54.8 417.2,55.4 418.1,56.0 418.2,55.8 418.3,55.6 418.4,55.4 416.6,53.6 415.6,52.8 414.6,52.0 413.5,51.2 412.5,50.0 411.4,48.9 411.7,49.5 411.8,50.0 413.0,51.8 411.8,50.7 410.5,49.7 410.1,49.8 410.9,51.1 411.7,52.4 412.9,54.2 414.4,55.6 414.2,55.9 414.0,56.2 413.4,56.2 412.7,56.2 412.5,56.9 413.8,58.3 415.0,59.8 416.1,61.8 414.7,61.1 413.1,59.5 411.5,57.9 410.4,56.6 409.3,55.4 407.8,54.2 406.1,53.3 404.4,52.4 403.1,51.5 401.8,50.6 401.0,50.8 402.4,52.4 404.8,54.2 405.8,54.6 406.8,55.0 408.4,56.0 409.9,57.0 408.7,56.6 409.6,58.5 410.1,59.8 409.8,59.7 408.9,57.9 406.8,56.5 405.7,55.9 404.6,55.4 403.2,54.5 401.8,53.7 400.5,52.4 399.1,52.0 398.8,52.7 398.0,53.0 397.1,53.2 396.3,53.3 395.5,53.3 396.5,54.8 395.8,55.4 395.1,56.0 395.0,57.9 395.6,59.4 395.0,61.4 393.8,61.4 392.5,61.5ZM382.7,45.5 383.5,45.4 384.3,45.2 385.2,45.1 386.1,44.9 386.9,44.6 387.6,44.4 386.8,44.0 386.6,42.9 385.3,42.6 384.1,41.6 382.2,40.6 381.0,39.7 380.2,39.0 379.3,38.3 379.8,38.3 379.2,38.2 378.5,38.2 378.1,37.4 377.4,37.4 376.8,37.4 376.9,38.4 378.4,39.7 379.4,40.2 379.7,40.8 380.8,40.7 381.9,41.6 381.3,42.3 382.1,43.1 381.8,43.8 382.7,43.9 383.5,44.1 384.1,44.4 383.0,44.6ZM377.7,43.8 378.7,43.9 379.6,44.0 380.1,43.7 380.6,43.4 379.9,42.1 379.6,41.1 378.3,40.4 377.6,40.4 376.8,40.4 377.3,41.2 376.2,41.4 377.2,42.4 377.2,43.4ZM361.9,25.2 363.3,25.4 364.6,25.7 366.0,26.0 365.8,25.8 365.6,25.7 365.2,25.5 364.9,25.4 364.5,25.3 364.1,25.1 363.7,25.0 363.3,25.0 363.0,25.0 362.7,24.9 362.4,24.9 362.1,24.9 362.0,25.1ZM407.5,59.8 408.6,59.7 409.6,59.5 410.6,61.5 409.2,60.9 407.8,60.3ZM401.6,56.0 402.8,56.0 403.6,57.2 404.3,58.4 403.3,58.5 402.5,57.2ZM400.4,53.7 401.1,53.7 402.3,55.5 401.6,55.4ZM417.1,63.0 418.1,63.2 419.0,63.4 419.2,63.8 418.4,63.6 417.5,63.5ZM422.0,63.6 422.2,63.2 422.4,62.8 422.9,63.9 422.5,64.2ZM391.4,62.7 393.0,63.0 394.5,63.2 396.0,63.5 396.9,63.1 397.7,62.7 398.9,62.0 400.0,61.4 401.3,61.3 402.5,61.2 403.6,61.1 404.8,60.9 406.0,60.7 407.1,61.1 407.5,62.4 407.9,63.8 409.3,65.4 410.9,66.6 412.4,67.0 413.8,67.3 415.0,68.3 416.3,69.3 417.4,69.6 418.5,70.0 417.8,67.9 418.5,67.4 419.2,66.9 420.2,67.6 421.2,68.3 422.2,68.6 423.1,69.0 424.0,69.3 424.3,68.9 424.5,68.6 425.4,69.0 426.4,70.7 427.4,72.1 428.3,73.6 429.4,75.3 430.4,77.0 431.4,78.7 432.7,81.0 434.0,83.3 434.8,85.2 435.5,87.1 436.5,89.5 437.5,91.8 438.2,93.4 438.9,95.0 439.4,96.2 439.9,97.4 440.3,99.0 440.6,99.8 440.9,100.6 440.9,100.1 440.9,99.5 440.9,99.2 440.9,98.9 440.8,98.5 441.2,100.6 441.6,102.6 441.9,104.7 442.1,106.6 442.3,108.5 442.5,110.4 442.5,112.3 442.4,114.2 442.3,116.2 442.1,117.8 441.9,119.4 441.6,121.5 441.2,123.6 440.9,125.6 440.6,127.6 440.4,130.1 440.1,132.5 440.0,134.2 439.8,135.8 439.4,137.9 438.9,140.1 438.4,142.2 437.6,143.8 436.8,145.3 435.9,146.9 435.0,148.5 434.1,150.0 433.5,151.8 432.9,153.6 432.2,155.4 431.1,156.9 429.9,158.4 429.0,160.2 428.1,162.0 426.4,164.2 424.7,166.3 423.3,167.7 421.9,169.1 420.8,169.8 419.7,170.5 418.9,170.6 418.2,170.7 417.4,170.7 416.5,171.2 415.6,171.6 415.3,171.2 415.0,170.7 415.6,169.6 416.2,168.4 416.8,166.7 417.4,164.9 417.5,163.5 417.6,162.0 417.9,160.2 418.2,158.4 418.8,156.6 419.3,154.9 419.7,153.1 419.8,151.0 419.7,149.0 419.7,146.9 419.7,145.3 419.8,143.8 420.8,141.7 421.7,139.5 422.7,137.4 422.9,135.0 423.1,132.5 422.9,130.1 422.6,127.6 422.1,126.0 421.6,124.4 420.8,122.3 420.0,120.3 420.1,118.2 420.2,116.2 420.3,114.1 420.4,112.0 419.3,110.4 418.0,110.6 416.7,110.7 415.5,109.2 414.2,107.6 412.8,107.5 411.3,107.5 409.5,108.4 407.6,109.3 406.4,109.4 405.1,109.6 403.8,109.6 402.4,109.6 400.8,110.1 399.1,110.6 396.9,109.6 395.5,108.2 394.0,106.8 392.4,105.3 390.9,103.9 390.0,101.8 387.7,99.8 386.3,98.6 385.0,97.4 384.2,95.6 383.5,93.9 384.7,91.8 384.6,89.5 384.4,87.1 383.7,85.6 383.0,84.0 383.4,82.1 383.7,80.2 384.4,78.4 385.0,76.5 385.8,75.2 386.4,73.9 387.5,73.1 388.6,72.4 389.7,71.0 389.4,69.8 389.1,68.6 389.4,67.3 389.7,66.1 390.5,65.5 391.3,65.0 391.4,63.8ZM440.7,137.4 440.3,139.3 439.9,141.1 439.4,143.0 438.8,144.9 438.2,146.9 437.4,149.1 436.6,151.3 435.8,153.4 434.9,155.5 433.9,157.6 433.6,158.0 433.3,158.4 434.1,156.5 434.8,154.6 435.7,152.3 436.6,150.0 437.3,148.2 437.9,146.4 438.5,144.6 438.9,143.8 439.2,143.0 439.7,141.4 440.1,139.8ZM291.9,103.6 294.0,102.3 294.8,100.3 296.2,99.8 298.0,98.9 299.8,97.9 300.3,99.8 300.8,97.4 302.6,97.7 304.5,99.5 305.1,100.5 306.6,100.5 308.0,100.5 310.2,101.1 312.0,100.7 313.9,100.3 315.3,101.8 316.0,103.9 318.2,104.7 319.3,106.2 320.4,107.6 322.4,107.8 324.4,108.0 326.3,108.6 328.3,109.3 330.2,110.9 331.2,112.9 332.3,114.8 332.2,116.3 332.2,117.8 334.7,119.4 336.3,119.0 338.3,119.6 340.4,120.3 342.0,122.2 344.1,122.4 346.1,122.6 348.6,122.4 351.1,123.9 353.5,125.8 354.9,126.2 356.3,126.5 356.7,128.1 357.1,129.6 356.7,131.1 356.4,132.5 355.3,133.9 354.3,135.3 352.6,137.4 351.0,139.0 350.6,140.6 350.2,142.2 350.2,144.2 350.2,146.1 349.6,147.7 349.1,149.2 348.2,150.8 347.4,152.3 345.6,154.6 343.7,154.8 341.8,154.9 340.3,155.7 338.9,156.4 337.6,157.4 336.3,158.4 336.2,160.2 336.2,162.0 335.3,163.5 334.4,164.9 333.2,166.5 332.0,168.0 331.2,169.2 330.4,170.5 328.6,171.7 327.3,171.4 325.9,171.2 323.9,170.5 325.2,172.0 326.4,173.6 326.3,174.8 326.2,176.1 325.1,176.4 324.1,176.8 322.6,177.0 321.2,177.1 321.4,178.4 321.6,179.6 320.1,179.6 318.6,179.6 319.8,181.4 319.9,182.9 320.1,184.4 319.3,185.1 318.5,185.8 319.8,186.7 321.1,187.6 320.6,188.8 320.2,190.0 320.2,191.5 321.3,192.4 322.7,193.2 324.1,193.9 325.4,194.7 324.6,195.2 323.9,195.4 323.3,195.6 321.9,195.1 320.4,194.5 319.3,194.0 318.1,193.5 316.6,192.5 315.1,191.5 314.1,190.3 313.0,189.1 311.9,187.8 311.7,186.7 311.5,185.6 311.0,183.8 310.6,182.0 309.8,180.8 309.1,179.6 308.7,178.4 308.4,177.1 307.7,175.8 307.0,174.5 306.9,173.2 306.9,171.8 307.0,170.5 307.2,169.1 306.6,167.0 306.0,164.9 305.7,163.5 305.4,162.0 305.3,159.8 305.3,157.6 305.0,155.4 304.7,153.1 304.2,151.3 303.8,149.4 303.4,147.5 302.1,146.4 300.9,145.3 298.7,144.1 296.5,142.8 295.4,141.3 294.2,139.8 292.9,137.4 291.8,135.4 290.8,133.3 289.8,131.5 288.8,129.6 286.9,127.6 286.7,126.3 286.6,124.9 288.1,123.2 287.0,121.6 287.4,119.4 287.7,118.0 288.1,116.5 289.6,115.3 290.5,113.4 291.4,111.6 291.5,109.3 291.6,107.1 291.8,105.3ZM327.5,191.3 328.9,191.3 330.4,191.3 330.8,192.2 329.3,192.2 327.9,192.2ZM322.6,208.4 322.9,208.4 323.3,208.4 323.5,208.4 323.8,208.4 324.0,208.5 324.3,208.5 324.6,208.5 324.9,208.6 324.8,208.4 324.7,208.2 324.7,207.9 325.1,207.9 325.5,207.9 325.8,207.9 326.2,207.9 326.6,207.9 327.1,207.9 327.5,207.9 328.0,207.9 328.6,208.0 329.1,208.0 329.7,208.0 330.2,208.1 330.8,208.1 331.4,208.1 331.6,208.0 331.8,207.9 332.1,207.8 332.4,207.6 332.3,207.3 332.3,207.0 332.4,206.7 332.5,206.3 332.0,205.6 331.7,204.8 331.8,204.2 332.1,203.5 332.6,203.0 333.1,202.5 333.9,202.3 334.6,202.2 335.4,202.1 336.2,202.0 335.8,202.4 335.4,202.8 335.0,203.2 334.6,203.5 334.8,204.5 334.8,205.1 334.9,205.7 336.3,206.6 337.7,207.4 338.7,208.0 339.6,208.6 340.8,209.2 341.5,209.3 342.2,209.4 342.8,209.5 343.4,209.6 344.0,209.7 344.6,209.8 345.2,209.9 345.7,210.0 346.2,210.0 346.7,210.0 347.2,210.0 347.7,210.1 348.1,210.1 348.6,210.1 349.0,210.1 349.4,210.0 349.9,210.0 350.3,209.9 350.9,209.8 351.4,209.7 352.0,209.5 352.7,209.4 353.3,209.2 354.0,209.0 354.7,208.9 355.4,208.7 356.2,208.5 357.0,208.3 357.8,208.1 358.5,208.0 359.3,207.8 360.1,207.6 360.9,207.5 361.8,207.3 362.6,207.1 363.4,207.1 364.1,207.0 364.9,206.9 365.6,206.8 366.4,206.8 367.1,206.7 367.8,206.5 368.6,206.4 369.3,206.3 369.9,206.3 370.5,206.3 371.1,206.3 371.7,206.3 372.2,206.3 372.8,206.3 373.3,206.3 373.8,206.3 374.3,206.3 374.8,206.3 375.2,206.3 375.7,206.3 376.1,206.3 376.5,206.3 377.0,206.3 377.5,206.2 377.9,206.2 378.4,206.2 378.8,206.1 379.2,206.1 379.6,206.0 380.0,206.0 380.4,205.9 380.8,205.8 381.2,205.7 381.6,205.7 381.9,205.6 382.3,205.5 382.6,205.4 383.0,205.3 383.4,205.2 383.7,205.1 384.1,205.0 384.4,204.9 384.8,204.8 385.1,204.6 385.4,204.5 385.2,204.6 384.8,204.8 384.6,204.8 384.4,204.9 384.2,205.0 381.9,205.9 379.6,206.7 377.3,207.5 375.0,208.2 372.7,208.9 370.3,209.5 368.0,210.0 365.6,210.5 363.2,210.9 360.8,211.2 358.4,211.5 356.0,211.7 353.6,211.9 351.2,212.0 348.8,212.0 348.5,212.0 346.1,212.0 343.7,211.9 341.3,211.7 338.9,211.5 336.6,211.2 334.2,210.9 331.9,210.5 329.6,210.1 327.2,209.5 324.9,209.0Z" fill="#222222"/>
</g>
<circle cx="348.6" cy="117.8" r="94.2" fill="none" stroke="#b0b0b0" stroke-width="0.6"/>
<clipPath id="clipi"><circle cx="129.0" cy="355.6" r="94.2"/></clipPath>
<g clip-path="url(#clipi)">
<g stroke-width="0.35">
<path fill="#134c87" stroke="#134c87" d="M97.9 273.2H99L97.2 274.9H95.9ZM100.3 273.2H101.5L99.8 274.9H98.5Z"/>
<path fill="#2267ac" stroke="#2267ac" d="M78.4 426.7H81L82.9 428.8H80.4ZM73.9 424.5H75.1L77.2 426.7H76ZM76.4 424.5H80.5L82.4 426.7H78.4ZM73.1 422.2H74.4L76.4 424.5H75.1ZM77.2 422.2H80.3L82 424.5H79.1ZM80.3 419.8H82L83.6 422.2H81.9ZM175.1 414.9H178.9L177.5 417.4H173.7ZM172.2 412.3H176.3L175.1 414.9H171ZM196.1 376.8H198.3L197.7 380H195.5ZM96.7 273.2H97.9L95.9 274.9H94.7ZM99 273.2H100.3L98.5 274.9H97.2ZM98.8 271.7H103.3L101.5 273.2H96.7ZM140.1 262.6H140.8L143.4 263.1H142.6ZM141.4 262.6H142.4L145.3 263.1H144.1ZM142.6 262.6H142.8L145.8 263.1H145.5ZM142.9 262.6H143.6L146.8 263.1H146ZM143.7 262.6H143.7L147 263.1H146.9Z"/>
<path fill="#3480b9" stroke="#3480b9" d="M72.3 430.8H72.4L75 432.8H75ZM72.7 430.8H82.6L84.7 432.8H75.4ZM133.9 430.8H143.7L143 432.8H133.7ZM69.7 428.8H69.7L72.3 430.8H72.3ZM70.2 428.8H70.4L73 430.8H72.7ZM70.8 428.8H84.3L86.2 430.8H73.4ZM134.2 428.8H144.3L143.7 430.8H133.9ZM70.6 426.7H78.4L80.4 428.8H72.9ZM81 426.7H88.5L90.1 428.8H82.9ZM136.5 426.7H140.8L140.3 428.8H136.2ZM68.3 424.5H73.9L76 426.7H70.6ZM75.1 424.5H76.4L78.4 426.7H77.2ZM80.5 424.5H86.9L88.5 426.7H82.4ZM88.6 424.5H90.3L91.8 426.7H90.1ZM69.7 422.2H73.1L75.1 424.5H71.8ZM74.4 422.2H77.2L79.1 424.5H76.4ZM80.3 422.2H87.1L88.6 424.5H82ZM105.1 422.2H107.3L108.1 424.5H106ZM109.5 422.2H111.8L112.4 424.5H110.2ZM114 422.2H116.3L116.7 424.5H114.5ZM72.6 419.8H80.3L81.9 422.2H74.4ZM82 419.8H87.5L88.9 422.2H83.6ZM104.3 419.8H115.9L116.3 422.2H105.1ZM73.7 417.4H84.3L85.6 419.8H75.5ZM110.6 417.4H113L113.5 419.8H111.2ZM169.8 417.4H182.7L181 419.8H168.5ZM77.2 414.9H79.1L80.5 417.4H78.7ZM171 414.9H175.1L173.7 417.4H169.8ZM178.9 414.9H182.5L181 417.4H177.5ZM167.7 412.3H172.2L171 414.9H166.7ZM176.3 412.3H184L182.5 414.9H175.1ZM171 409.6H181.6L180.3 412.3H170ZM196.2 386.3H198.2L197.3 389.4H195.4ZM194.9 383.1H199L198.2 386.3H194.1ZM195.5 380H199.7L199 383.1H194.9ZM193.9 376.8H196.1L195.5 380H193.3ZM198.3 376.8H200.3L199.7 380H197.7ZM194.4 373.6H198.8L198.3 376.8H193.9ZM194.8 370.3H199.2L198.8 373.6H194.4ZM165.4 340.9H171.2L171.4 344.1H165.5ZM165.1 337.6H171L171.2 340.9H165.4ZM95.9 274.9H101.2L99.6 276.6H94ZM95.6 273.2H96.7L94.7 274.9H93.5ZM101.5 273.2H102.8L101.2 274.9H99.8ZM96.7 271.7H98.8L96.7 273.2H94.5ZM103.3 271.7H104.5L102.8 273.2H101.5ZM100.8 270.2H101.8L99.8 271.7H98.8ZM142.6 263.1H143.4L145.9 263.8H145ZM139.1 262.6H140.1L142.6 263.1H141.3ZM140.8 262.6H141.4L144.1 263.1H143.4ZM142.4 262.6H142.6L145.5 263.1H145.3ZM142.8 262.6H142.9L146 263.1H145.8ZM143.6 262.6H143.7L146.9 263.1H146.8ZM138.6 262.1H138.8L141.6 262.6H141.4ZM139 262.1H140.5L143.7 262.6H141.9Z"/>
<path fill="#4997c5" stroke="#4997c5" d="M75 432.8H88.2L90.3 434.6H77.7ZM135.6 432.8H144.8L144 434.6H135.3ZM72.4 430.8H72.7L75.4 432.8H75ZM82.6 430.8H90.3L92.2 432.8H84.7ZM132 430.8H133.9L133.7 432.8H131.8ZM143.7 430.8H147.5L146.6 432.8H143ZM69.7 428.8H70.2L72.7 430.8H72.3ZM70.4 428.8H70.8L73.4 430.8H73ZM84.3 428.8H91.7L93.3 430.8H86.2ZM93.3 428.8H95L96.5 430.8H94.9ZM125.9 428.8H134.2L133.9 430.8H126ZM144.3 428.8H148.3L147.5 430.8H143.7ZM67.2 426.7H70.6L72.9 428.8H69.7ZM88.5 426.7H95.3L96.7 428.8H90.1ZM97.2 426.7H99L100.3 428.8H98.5ZM102.9 426.7H136.5L136.2 428.8H103.9ZM140.8 426.7H151.1L150.2 428.8H140.3ZM64.8 424.5H64.8L67.2 426.7H67.2ZM64.8 424.5H65.2L67.7 426.7H67.3ZM65.5 424.5H68.3L70.6 426.7H68ZM86.9 424.5H88.6L90.1 426.7H88.5ZM90.3 424.5H95.9L97.2 426.7H91.8ZM97.9 424.5H149.9L149.1 426.7H99ZM65.3 422.2H69.7L71.8 424.5H67.6ZM87.1 422.2H105.1L106 424.5H88.6ZM107.3 422.2H109.5L110.2 424.5H108.1ZM111.8 422.2H114L114.5 424.5H112.4ZM116.3 422.2H132.5L132.4 424.5H116.7ZM134.8 422.2H137.1L136.8 424.5H134.6ZM139.4 422.2H141.7L141.3 424.5H139.1ZM177.7 422.2H182.2L180.3 424.5H176ZM67.6 419.8H72.6L74.4 422.2H69.7ZM87.5 419.8H104.3L105.1 422.2H88.9ZM115.9 419.8H132.6L132.5 422.2H116.3ZM168.5 419.8H186.8L184.9 422.2H167.2ZM69.4 417.4H73.7L75.5 419.8H71.2ZM84.3 417.4H110.6L111.2 419.8H85.6ZM113 417.4H130.2L130.2 419.8H113.5ZM165.6 417.4H169.8L168.5 419.8H164.5ZM182.7 417.4H187.2L185.4 419.8H181ZM72.1 414.9H77.2L78.7 417.4H73.7ZM79.1 414.9H122.6L122.8 417.4H80.5ZM164.5 414.9H171L169.8 417.4H163.5ZM182.5 414.9H187.5L185.8 417.4H181ZM74 412.3H88L89.1 414.9H75.5ZM163.2 412.3H167.7L166.7 414.9H162.2ZM184 412.3H189.1L187.5 414.9H182.5ZM166.4 409.6H171L170 412.3H165.5ZM181.6 409.6H185.4L184 412.3H180.3ZM174.3 406.9H176.5L175.4 409.6H173.3ZM195.4 389.4H199.2L198.3 392.4H194.4ZM194.1 386.3H196.2L195.4 389.4H193.3ZM198.2 386.3H200.1L199.2 389.4H197.3ZM199 383.1H200.9L200.1 386.3H198.2ZM193.3 380H195.5L194.9 383.1H192.7ZM199.7 380H201.7L200.9 383.1H199ZM198.8 373.6H200.9L200.3 376.8H198.3ZM199.2 370.3H201.3L200.9 373.6H198.8ZM195.1 367.1H199.6L199.2 370.3H194.8ZM195.4 363.8H197.6L197.4 367.1H195.1ZM165.5 344.1H171.4L171.6 347.4H165.7ZM162.3 340.9H165.4L165.5 344.1H162.5ZM162.1 337.6H165.1L165.4 340.9H162.3ZM171 337.6H173.8L174.1 340.9H171.2ZM164.9 334.4H170.7L171 337.6H165.1ZM111.8 289H118.6L118.2 291.4H111.2ZM94.7 274.9H95.9L94 276.6H92.7ZM101.2 274.9H102.6L101.1 276.6H99.6ZM94.5 273.2H95.6L93.5 274.9H92.4ZM102.8 273.2H104.1L102.6 274.9H101.2ZM95.8 271.7H96.7L94.5 273.2H93.5ZM98.1 270.2H100.8L98.8 271.7H95.8ZM101.8 270.2H105L103.3 271.7H99.8ZM139.3 263.1H142.6L145 263.8H141.2ZM143.4 263.1H145.5L148.5 263.8H145.9ZM137.9 262.6H139.1L141.3 263.1H139.8ZM137.7 262.1H138.6L141.4 262.6H140.1ZM138.8 262.1H139L141.9 262.6H141.6Z"/>
<path fill="#75b2d4" stroke="#75b2d4" d="M77.7 434.6H89.1L91.3 436.3H80.5ZM135.3 434.6H142.3L141.6 436.3H134.9ZM88.2 432.8H96.5L98.1 434.6H90.3ZM131.8 432.8H135.6L135.3 434.6H131.7ZM144.8 432.8H146.6L145.7 434.6H144ZM182.6 432.8H182.8L180.1 434.6H179.9ZM183 432.8H183L180.3 434.6H180.2ZM90.3 430.8H105L106.2 432.8H92.2ZM128 430.8H132L131.8 432.8H128.1ZM147.5 430.8H149.3L148.4 432.8H146.6ZM176.5 430.8H177.6L175.3 432.8H174.3ZM178.6 430.8H180.4L178 432.8H176.3ZM181.2 430.8H185.7L183 432.8H178.7ZM91.7 428.8H93.3L94.9 430.8H93.3ZM95 428.8H125.9L126 430.8H96.5ZM148.3 428.8H157.7L156.5 430.8H147.5ZM170.9 428.8H188.3L185.7 430.8H169.1ZM95.3 426.7H97.2L98.5 428.8H96.7ZM99 426.7H102.9L103.9 428.8H100.3ZM151.1 426.7H190.8L188.3 428.8H150.2ZM64.8 424.5H64.8L67.3 426.7H67.2ZM65.2 424.5H65.5L68 426.7H67.7ZM95.9 424.5H97.9L99 426.7H97.2ZM149.9 424.5H193.2L190.8 426.7H149.1ZM62.4 422.2H65.3L67.6 424.5H64.8ZM132.5 422.2H134.8L134.6 424.5H132.4ZM137.1 422.2H139.4L139.1 424.5H136.8ZM141.7 422.2H177.7L176 424.5H141.3ZM182.2 422.2H195.6L193.2 424.5H180.3ZM63.1 419.8H67.6L69.7 422.2H65.3ZM132.6 419.8H168.5L167.2 422.2H132.5ZM186.8 419.8H197.9L195.6 422.2H184.9ZM66.8 417.4H69.4L71.2 419.8H68.7ZM130.2 417.4H165.6L164.5 419.8H130.2ZM187.2 417.4H200.1L197.9 419.8H185.4ZM67.6 414.9H72.1L73.7 417.4H69.4ZM122.6 414.9H164.5L163.5 417.4H122.8ZM187.5 414.9H202.2L200.1 417.4H185.8ZM70.5 412.3H74L75.5 414.9H72.1ZM88 412.3H122.4L122.6 414.9H89.1ZM125.1 412.3H127.7L127.7 414.9H125.2ZM135.6 412.3H163.2L162.2 414.9H135.4ZM189.1 412.3H204.2L202.2 414.9H187.5ZM72.6 409.6H98.8L99.6 412.3H74ZM103.9 409.6H106.4L107 412.3H104.5ZM156.7 409.6H166.4L165.5 412.3H156ZM185.4 409.6H204.2L202.3 412.3H184ZM204.7 409.6H205.9L203.9 412.3H202.8ZM162.4 406.9H174.3L173.3 409.6H161.6ZM176.5 406.9H184.9L183.6 409.6H175.4ZM196.7 406.9H202.8L201 409.6H195.1ZM45.1 398.4H45.2L46.7 401.3H46.6ZM45.4 398.4H57.1L58.4 401.3H46.9ZM43.6 395.4H55.8L57.1 398.4H45.1ZM197.2 395.4H198.9L197.8 398.4H196ZM194.4 392.4H200L198.9 395.4H193.4ZM193.3 389.4H195.4L194.4 392.4H192.4ZM199.2 389.4H201L200 392.4H198.3ZM192 386.3H194.1L193.3 389.4H191.2ZM200.1 386.3H202L201 389.4H199.2ZM192.7 383.1H194.9L194.1 386.3H192ZM200.9 383.1H202.8L202 386.3H200.1ZM201.7 380H203.5L202.8 383.1H200.9ZM191.6 376.8H193.9L193.3 380H191.1ZM200.3 376.8H202.3L201.7 380H199.7ZM192.1 373.6H194.4L193.9 376.8H191.6ZM200.9 373.6H202.8L202.3 376.8H200.3ZM168.3 370.3H179.7L179.4 373.6H168.1ZM192.5 370.3H194.8L194.4 373.6H192.1ZM168.5 367.1H179.9L179.7 370.3H168.3ZM192.8 367.1H195.1L194.8 370.3H192.5ZM199.6 367.1H201.7L201.3 370.3H199.2ZM193 363.8H195.4L195.1 367.1H192.8ZM197.6 363.8H199.8L199.6 367.1H197.4ZM195.5 360.5H200L199.8 363.8H195.4ZM124.1 347.4H133.9L133.9 350.7H124.1ZM124.1 344.1H146.8L146.9 347.4H124.1ZM162.5 344.1H165.5L165.7 347.4H162.6ZM171.4 344.1H174.3L174.5 347.4H171.6ZM127.4 340.9H143.6L143.6 344.1H127.4ZM171.2 340.9H174.1L174.3 344.1H171.4ZM159.1 337.6H162.1L162.3 340.9H159.3ZM161.9 334.4H164.9L165.1 337.6H162.1ZM170.7 334.4H173.5L173.8 337.6H171ZM164.6 331.2H170.3L170.7 334.4H164.9ZM109.5 289H111.8L111.2 291.4H108.9ZM95.3 276.6H98.1L96.5 278.4H93.6ZM93.5 274.9H94.7L92.7 276.6H91.5ZM102.6 274.9H104L102.6 276.6H101.1ZM104.1 273.2H105.5L104 274.9H102.6ZM94.8 271.7H95.8L93.5 273.2H92.5ZM104.5 271.7H105.7L104.1 273.2H102.8ZM97.2 270.2H98.1L95.8 271.7H94.8ZM100.4 268.9H103L100.8 270.2H98.1ZM137.7 263.1H139.3L141.2 263.8H139.3ZM145.5 263.1H146.4L149.5 263.8H148.5ZM146.5 263.1H146.8L149.9 263.8H149.6ZM146.9 263.1H146.9L150.2 263.8H150.1ZM136.6 262.6H137.9L139.8 263.1H138.3ZM136.2 262.1H137.7L140.1 262.6H138.3ZM136.9 261.8H137.2L140.5 262.1H140Z"/>
<path fill="#9bc9e0" stroke="#9bc9e0" d="M80.5 436.3H85L87.6 438H83.3ZM89.1 434.6H98.1L99.8 436.3H91.3ZM133.5 434.6H135.3L134.9 436.3H133.2ZM142.3 434.6H144L143.2 436.3H141.6ZM176.9 434.6H177.5L174.9 436.3H174.3ZM178.1 434.6H179.9L177.2 436.3H175.4ZM180.1 434.6H180.3L177.5 436.3H177.3ZM96.5 432.8H104.5L105.7 434.6H98.1ZM129.9 432.8H131.8L131.7 434.6H129.9ZM146.6 432.8H148.4L147.4 434.6H145.7ZM172.2 432.8H173.3L171 434.6H170ZM174.3 432.8H182.6L179.9 434.6H172ZM182.8 432.8H183L180.2 434.6H180.1ZM183 432.8H183L180.3 434.6H180.3ZM105 430.8H116.2L116.8 432.8H106.2ZM120.1 430.8H128L128.1 432.8H120.5ZM149.3 430.8H154.7L153.5 432.8H148.4ZM167.7 430.8H176.5L174.3 432.8H165.8ZM177.6 430.8H178.6L176.3 432.8H175.3ZM180.4 430.8H181.2L178.7 432.8H178ZM157.7 428.8H170.9L169.1 430.8H156.5ZM60.1 419.8H63.1L65.3 422.2H62.4ZM61 417.4H61.8L63.9 419.8H63.1ZM62.6 417.4H66.8L68.7 419.8H64.7ZM65 414.9H67.6L69.4 417.4H66.8ZM67.4 412.3H70.5L72.1 414.9H69ZM122.4 412.3H125.1L125.2 414.9H122.6ZM127.7 412.3H135.6L135.4 414.9H127.7ZM69 409.6H72.6L74 412.3H70.5ZM98.8 409.6H103.9L104.5 412.3H99.6ZM106.4 409.6H116.9L117.2 412.3H107ZM119.6 409.6H156.7L156 412.3H119.8ZM204.2 409.6H204.7L202.8 412.3H202.3ZM205.9 409.6H206.2L204.2 412.3H203.9ZM73.1 406.9H105.9L106.4 409.6H74.4ZM135.9 406.9H162.4L161.6 409.6H135.7ZM184.9 406.9H196.7L195.1 409.6H183.6ZM202.8 406.9H208L206.2 409.6H201ZM155.3 404.1H157.9L157.3 406.9H154.7ZM193.5 404.1H205.3L203.7 406.9H192.1ZM46.7 401.3H47.6L49.2 404.1H48.4ZM48.1 401.3H52.1L53.6 404.1H49.7ZM53.2 401.3H55.6L57.1 404.1H54.7ZM194.8 401.3H201.1L199.6 404.1H193.5ZM45.1 398.4H45.1L46.6 401.3H46.6ZM45.2 398.4H45.4L46.9 401.3H46.7ZM57.1 398.4H63.8L65 401.3H58.4ZM194.2 398.4H200.9L199.6 401.3H193ZM55.8 395.4H59.1L60.2 398.4H57.1ZM193.4 395.4H197.2L196 398.4H192.3ZM198.9 395.4H202.2L200.9 398.4H197.8ZM42.3 392.4H51.7L52.9 395.4H43.6ZM192.4 392.4H194.4L193.4 395.4H191.4ZM200 392.4H203.3L202.2 395.4H198.9ZM201 389.4H202.8L201.7 392.4H200ZM202 386.3H203.7L202.8 389.4H201ZM190.4 383.1H192.7L192 386.3H189.7ZM202.8 383.1H204.6L203.7 386.3H202ZM191.1 380H193.3L192.7 383.1H190.4ZM189.2 376.8H191.6L191.1 380H188.7ZM202.3 376.8H204.2L203.5 380H201.7ZM173.8 373.6H182L181.6 376.8H173.5ZM189.7 373.6H192.1L191.6 376.8H189.2ZM165.4 370.3H168.3L168.1 373.6H165.1ZM179.7 370.3H185L184.6 373.6H179.4ZM190 370.3H192.5L192.1 373.6H189.7ZM201.3 370.3H203.3L202.8 373.6H200.9ZM165.5 367.1H168.5L168.3 370.3H165.4ZM179.9 367.1H185.3L185 370.3H179.7ZM190.3 367.1H192.8L192.5 370.3H190ZM201.7 367.1H203.7L203.3 370.3H201.3ZM165.7 363.8H182.8L182.6 367.1H165.5ZM190.6 363.8H193L192.8 367.1H190.3ZM199.8 363.8H201.9L201.7 367.1H199.6ZM193.2 360.5H195.5L195.4 363.8H193ZM200 360.5H202.1L201.9 363.8H199.8ZM193.2 357.2H200.1L200 360.5H193.2ZM55.8 354H57.9L57.9 357.2H55.8ZM60.1 354H62.4L62.4 357.2H60.1ZM195.6 354H200.1L200.1 357.2H195.6ZM48.4 350.7H50.1L50 354H48.3ZM51.9 350.7H53.9L53.8 354H51.8ZM60.2 350.7H67.3L67.2 354H60.1ZM54.1 347.4H62.6L62.5 350.7H53.9ZM120.8 347.4H124.1L124.1 350.7H120.8ZM133.9 347.4H143.7L143.7 350.7H133.9ZM54.3 344.1H56.3L56.1 347.4H54.1ZM60.6 344.1H67.7L67.4 347.4H60.4ZM114.4 344.1H124.1L124.1 347.4H114.3ZM146.8 344.1H150L150.1 347.4H146.9ZM156.3 344.1H162.5L162.6 347.4H156.4ZM174.3 344.1H177.2L177.3 347.4H174.5ZM114.4 340.9H127.4L127.4 344.1H114.4ZM143.6 340.9H162.3L162.5 344.1H143.6ZM174.1 340.9H179.7L179.9 344.1H174.3ZM194.8 340.9H197L197.4 344.1H195.1ZM120.9 337.6H146.6L146.8 340.9H120.9ZM173.8 337.6H179.4L179.7 340.9H174.1ZM158.9 334.4H161.9L162.1 337.6H159.1ZM173.5 334.4H176.3L176.6 337.6H173.8ZM158.6 331.2H164.6L164.9 334.4H158.9ZM170.3 331.2H175.9L176.3 334.4H170.7ZM164.2 328.1H169.9L170.3 331.2H164.6ZM70.8 315.8H73L72.1 318.8H69.9ZM107.3 289H109.5L108.9 291.4H106.6ZM118.6 289H120.9L120.6 291.4H118.2ZM94 276.6H95.3L93.6 278.4H92.2ZM98.1 276.6H101.1L99.6 278.4H96.5ZM92.4 274.9H93.5L91.5 276.6H90.3ZM93.5 273.2H94.5L92.4 274.9H91.3ZM105.7 271.7H107L105.5 273.2H104.1ZM95.6 270.2H97.2L94.8 271.7H93.1ZM105 270.2H106.2L104.5 271.7H103.3ZM99.6 268.9H100.4L98.1 270.2H97.2ZM103 268.9H105.8L103.9 270.2H100.8ZM136.6 263.1H137.7L139.3 263.8H138ZM146.4 263.1H146.5L149.6 263.8H149.5ZM146.8 263.1H146.9L150.1 263.8H149.9ZM146.9 263.1H147L150.2 263.8H150.2ZM135.2 262.6H136.6L138.3 263.1H136.6ZM134.9 262.1H136.2L138.3 262.6H136.6ZM135.2 261.8H135.6L138.2 262.1H137.7ZM135.7 261.8H136.9L140 262.1H138.4Z"/>
<path fill="#bddbea" stroke="#bddbea" d="M83.3 438H83.9L86.8 439.5H86.2ZM84.2 438H84.5L87.3 439.5H87ZM84.9 438H85.3L88.1 439.5H87.7ZM86.4 438H87L89.6 439.5H89.1ZM87.6 438H88.3L90.9 439.5H90.2ZM85 436.3H95.9L97.9 438H87.6ZM97.2 436.3H98.5L100.3 438H99ZM136.6 436.3H138.3L137.7 438H136.1ZM176.9 436.3H177.2L174.3 438H174.1ZM98.1 434.6H104.1L105.5 436.3H99.8ZM129.9 434.6H133.5L133.2 436.3H129.8ZM144 434.6H147.4L146.4 436.3H143.2ZM173 434.6H176.9L174.3 436.3H170.6ZM177.5 434.6H178.1L175.4 436.3H174.9ZM179.9 434.6H180.1L177.3 436.3H177.2ZM104.5 432.8H107.9L109 434.6H105.7ZM124.3 432.8H129.9L129.9 434.6H124.5ZM148.4 432.8H151.8L150.7 434.6H147.4ZM168.5 432.8H172.2L170 434.6H166.5ZM173.3 432.8H174.3L172 434.6H171ZM116.2 430.8H120.1L120.5 432.8H116.8ZM154.7 430.8H167.7L165.8 432.8H153.5ZM57.9 417.4H61L63.1 419.8H60.1ZM61.8 417.4H62.6L64.7 419.8H63.9ZM55.8 414.9H56.7L58.8 417.4H57.9ZM57.1 414.9H57.7L59.7 417.4H59.2ZM60.7 414.9H65L66.8 417.4H62.6ZM53.8 412.3H54.7L56.7 414.9H55.8ZM55.2 412.3H55.7L57.7 414.9H57.1ZM64.5 412.3H67.4L69 414.9H66.2ZM51.8 409.6H53.3L55.2 412.3H53.8ZM53.8 409.6H54.5L56.3 412.3H55.7ZM65.8 409.6H69L70.5 412.3H67.4ZM116.9 409.6H119.6L119.8 412.3H117.2ZM50 406.9H52L53.8 409.6H51.8ZM65.9 406.9H73.1L74.4 409.6H67.4ZM105.9 406.9H116.6L116.9 409.6H106.4ZM130.4 406.9H135.9L135.7 409.6H130.3ZM48.3 404.1H52.7L54.3 406.9H50ZM69.9 404.1H73.9L75.1 406.9H71.2ZM76 404.1H105.4L105.9 406.9H77.2ZM136 404.1H155.3L154.7 406.9H135.9ZM157.9 404.1H193.5L192.1 406.9H157.3ZM205.3 404.1H209.7L208 406.9H203.7ZM46.6 401.3H46.7L48.4 404.1H48.3ZM47.6 401.3H48.1L49.7 404.1H49.2ZM52.1 401.3H53.2L54.7 404.1H53.6ZM55.6 401.3H66.8L68.1 404.1H57.1ZM68.7 401.3H70.7L71.9 404.1H69.9ZM86.6 401.3H89.1L89.9 404.1H87.4ZM144.7 401.3H147.5L147.2 404.1H144.4ZM153.1 401.3H155.8L155.3 404.1H152.6ZM191.2 401.3H194.8L193.5 404.1H189.9ZM201.1 401.3H210.8L209.1 404.1H199.6ZM211.1 401.3H211.3L209.6 404.1H209.4ZM211.4 401.3H211.4L209.7 404.1H209.7ZM63.8 398.4H67.6L68.7 401.3H65ZM192.3 398.4H194.2L193 401.3H191.2ZM200.9 398.4H205.1L203.7 401.3H199.6ZM59.1 395.4H62.7L63.8 398.4H60.2ZM191.4 395.4H193.4L192.3 398.4H190.4ZM202.2 395.4H205.1L203.8 398.4H200.9ZM51.7 392.4H56.3L57.4 395.4H52.9ZM203.3 392.4H206.3L205.1 395.4H202.2ZM41.1 389.4H41.2L42.4 392.4H42.3ZM41.4 389.4H42.1L43.4 392.4H42.6ZM42.7 389.4H45.8L47 392.4H43.9ZM46.9 389.4H48L49.2 392.4H48ZM191.2 389.4H193.3L192.4 392.4H190.3ZM202.8 389.4H205.9L204.8 392.4H201.7ZM189.7 386.3H192L191.2 389.4H189ZM203.7 386.3H205.3L204.4 389.4H202.8ZM188.1 383.1H190.4L189.7 386.3H187.4ZM204.6 383.1H206.2L205.3 386.3H203.7ZM186.3 380H191.1L190.4 383.1H185.7ZM203.5 380H207L206.2 383.1H202.8ZM170.7 376.8H173.5L173.1 380H170.3ZM176.3 376.8H189.2L188.7 380H175.9ZM204.2 376.8H207.7L207 380H203.5ZM165.1 373.6H173.8L173.5 376.8H164.9ZM182 373.6H189.7L189.2 376.8H181.6ZM202.8 373.6H206.6L206 376.8H202.3ZM162.3 370.3H165.4L165.1 373.6H162.1ZM185 370.3H190L189.7 373.6H184.6ZM203.3 370.3H207L206.6 373.6H202.8ZM47.2 367.1H48.9L49.2 370.3H47.6ZM159.4 367.1H165.5L165.4 370.3H159.3ZM185.3 367.1H190.3L190 370.3H185ZM203.7 367.1H205.6L205.2 370.3H203.3ZM46.9 363.8H56.1L56.3 367.1H47.2ZM58.2 363.8H65L65.2 367.1H58.4ZM162.6 363.8H165.7L165.5 367.1H162.5ZM182.8 363.8H190.6L190.3 367.1H182.6ZM201.9 363.8H205.9L205.6 367.1H201.7ZM43.7 360.5H45.2L45.4 363.8H44ZM48.4 360.5H69.8L69.9 363.8H48.6ZM72.4 360.5H75L75.2 363.8H72.5ZM188.2 360.5H193.2L193 363.8H188.1ZM202.1 360.5H206.1L205.9 363.8H201.9ZM45.1 357.2H72.3L72.4 360.5H45.2ZM190.8 357.2H193.2L193.2 360.5H190.7ZM200.1 357.2H204.2L204.1 360.5H200ZM42.3 354H55.8L55.8 357.2H42.3ZM57.9 354H60.1L60.1 357.2H57.9ZM62.4 354H89.2L89.2 357.2H62.4ZM101.5 354H107.8L107.8 357.2H101.5ZM200.1 354H204.2L204.2 357.2H200.1ZM208 354H209.7L209.7 357.2H208ZM220.8 354H221.5L221.5 357.2H220.8ZM222 354H222.8L222.8 357.2H222ZM41.2 350.7H48.4L48.3 354H41.1ZM50.1 350.7H51.9L51.8 354H50ZM53.9 350.7H60.2L60.1 354H53.8ZM67.3 350.7H101.5L101.5 354H67.2ZM104.7 350.7H143.7L143.7 354H104.6ZM195.5 350.7H217.9L218.1 354H195.6ZM219 350.7H221.3L221.5 354H219.1ZM221.9 350.7H223.1L223.2 354H222ZM42.6 347.4H54.1L53.9 350.7H42.4ZM62.6 347.4H120.8L120.8 350.7H62.5ZM143.7 347.4H150.1L150.2 350.7H143.7ZM162.6 347.4H174.5L174.6 350.7H162.7ZM195.4 347.4H222.8L223.1 350.7H195.5ZM44.3 344.1H54.3L54.1 347.4H44ZM56.3 344.1H60.6L60.4 347.4H56.1ZM67.7 344.1H114.4L114.3 347.4H67.4ZM150 344.1H156.3L156.4 347.4H150.1ZM177.2 344.1H182.6L182.8 347.4H177.3ZM192.8 344.1H222.5L222.8 347.4H193ZM46.1 340.9H114.4L114.4 344.1H45.7ZM179.7 340.9H194.8L195.1 344.1H179.9ZM197 340.9H222L222.5 344.1H197.4ZM48.1 337.6H120.9L120.9 340.9H47.6ZM146.6 337.6H159.1L159.3 340.9H146.8ZM179.4 337.6H221.5L222 340.9H179.7ZM50.3 334.4H73.8L73.4 337.6H49.7ZM87.3 334.4H90.2L89.9 337.6H87ZM102.2 334.4H158.9L159.1 337.6H102ZM176.3 334.4H220.8L221.5 337.6H176.6ZM49.4 331.2H58.3L57.7 334.4H48.7ZM60.3 331.2H64.7L64.1 334.4H59.7ZM69.3 331.2H76.8L76.4 334.4H68.8ZM84.9 331.2H99.4L99.1 334.4H84.5ZM108.5 331.2H158.6L158.9 334.4H108.4ZM175.9 331.2H220L220.8 334.4H176.3ZM55.2 328.1H57.1L56.3 331.2H54.5ZM65.3 328.1H67.6L66.9 331.2H64.7ZM69.9 328.1H74.8L74.2 331.2H69.3ZM77.3 328.1H79.9L79.4 331.2H76.8ZM90.9 328.1H93.8L93.4 331.2H90.5ZM111.8 328.1H114.9L114.8 331.2H111.6ZM121.1 328.1H124.3L124.2 331.2H121.1ZM127.4 328.1H130.6L130.6 331.2H127.4ZM140 328.1H146.2L146.4 331.2H140.1ZM149.3 328.1H152.3L152.6 331.2H149.5ZM155.3 328.1H158.3L158.6 331.2H155.6ZM161.3 328.1H164.2L164.6 331.2H161.6ZM169.9 328.1H180.7L181.2 331.2H170.3ZM183.2 328.1H197L197.7 331.2H183.8ZM202.8 328.1H214.2L215 331.2H203.5ZM215.1 328.1H216L216.9 331.2H216ZM216.8 328.1H219.1L220 331.2H217.7ZM69.9 318.8H76.8L76.1 321.8H69ZM68.6 315.8H70.8L69.9 318.8H67.7ZM73 315.8H77.6L76.8 318.8H72.1ZM120.9 289H123.2L123 291.4H120.6ZM112.4 286.7H121.2L120.9 289H111.8ZM92.7 276.6H94L92.2 278.4H90.8ZM101.1 276.6H102.6L101.2 278.4H99.6ZM91.3 274.9H92.4L90.3 276.6H89.1ZM104 274.9H105.5L104.1 276.6H102.6ZM92.5 273.2H93.5L91.3 274.9H90.3ZM105.5 273.2H106.9L105.5 274.9H104ZM94 271.7H94.8L92.5 273.2H91.6ZM107 271.7H108.3L106.9 273.2H105.5ZM94.9 270.2H95.6L93.1 271.7H92.3ZM106.2 270.2H108.5L107 271.7H104.5ZM97.5 268.9H99.6L97.2 270.2H94.9ZM105.8 268.9H107.9L106.2 270.2H103.9ZM101.3 267.7H103.5L101.2 268.9H98.8ZM138 263.8H144.5L146.8 264.6H139.3ZM145 263.8H145.5L147.9 264.6H147.4ZM134.3 263.1H136.6L138 263.8H135.2ZM133.8 262.6H135.2L136.6 263.1H134.9ZM133.9 262.1H134.9L136.6 262.6H135.2ZM133.9 261.8H134.2L136.2 262.1H135.9ZM134.4 261.8H135.2L137.7 262.1H136.5ZM135.6 261.8H135.7L138.4 262.1H138.2Z"/>
<path fill="#d8e9f1" stroke="#d8e9f1" d="M98.3 444.7H98.3L101.5 445.7H101.5ZM98.4 444.7H98.7L101.8 445.7H101.5ZM99.1 444.7H101.7L104.5 445.7H102.2ZM102.2 444.7H103.3L105.9 445.7H104.9ZM103.9 444.7H104.5L107 445.7H106.4ZM105.2 444.7H105.9L108.2 445.7H107.6ZM107.3 444.7H109.7L111.7 445.7H109.5ZM110.5 444.7H111.4L113.2 445.7H112.4ZM112.3 444.7H114.1L115.6 445.7H114ZM115.1 444.7H116L117.4 445.7H116.5ZM117 444.7H118L119.1 445.7H118.2ZM95.2 443.5H95.3L98.4 444.7H98.3ZM95.4 443.5H95.5L98.6 444.7H98.4ZM95.7 443.5H95.9L98.9 444.7H98.7ZM96.4 443.5H97.1L100 444.7H99.4ZM98.9 443.5H99.5L102.2 444.7H101.7ZM102.8 443.5H103.5L105.9 444.7H105.2ZM104.3 443.5H105.1L107.3 444.7H106.6ZM106 443.5H107.8L109.7 444.7H108.1ZM111.6 443.5H113.7L115.1 444.7H113.2ZM92.2 442.3H92.5L95.5 443.5H95.2ZM92.6 442.3H92.9L95.9 443.5H95.7ZM93.1 442.3H93.4L96.4 443.5H96.1ZM93.8 442.3H94.6L97.5 443.5H96.7ZM95.1 442.3H95.6L98.4 443.5H97.9ZM96.2 442.3H96.8L99.5 443.5H98.9ZM99.6 442.3H101.2L103.5 443.5H102ZM102.1 442.3H103L105.1 443.5H104.3ZM105.8 442.3H106.8L108.7 443.5H107.8ZM107.9 442.3H109L110.6 443.5H109.6ZM89.2 441H90.5L93.4 442.3H92.2ZM90.9 441H91.8L94.6 442.3H93.8ZM92.4 441H92.9L95.6 442.3H95.1ZM97.2 441H99.9L102.1 442.3H99.6ZM100.8 441H102.9L104.9 442.3H103ZM86.2 439.5H102.1L103.9 441H89.2ZM83.9 438H84.2L87 439.5H86.8ZM84.5 438H84.9L87.7 439.5H87.3ZM85.3 438H86.4L89.1 439.5H88.1ZM87 438H87.6L90.2 439.5H89.6ZM88.3 438H101.5L103.3 439.5H90.9ZM95.9 436.3H97.2L99 438H97.9ZM98.5 436.3H105.5L106.9 438H100.3ZM129.8 436.3H136.6L136.1 438H129.8ZM138.3 436.3H143.2L142.4 438H137.7ZM171.4 436.3H176.9L174.1 438H168.9ZM177.2 436.3H177.5L174.7 438H174.3ZM104.1 434.6H109L110 436.3H105.5ZM128.1 434.6H129.9L129.8 436.3H128.2ZM147.4 434.6H149L148 436.3H146.4ZM168.9 434.6H173L170.6 436.3H166.7ZM107.9 432.8H115L115.7 434.6H109ZM116.8 432.8H124.3L124.5 434.6H117.5ZM151.8 432.8H153.5L152.3 434.6H150.7ZM165.8 432.8H168.5L166.5 434.6H164ZM56.7 414.9H57.1L59.2 417.4H58.8ZM57.7 414.9H60.7L62.6 417.4H59.7ZM54.7 412.3H55.2L57.1 414.9H56.7ZM55.7 412.3H64.5L66.2 414.9H57.7ZM53.3 409.6H53.8L55.7 412.3H55.2ZM54.5 409.6H58L59.7 412.3H56.3ZM59.1 409.6H65.8L67.4 412.3H60.8ZM52 406.9H57.4L59.1 409.6H53.8ZM62.7 406.9H65.9L67.4 409.6H64.3ZM116.6 406.9H130.4L130.3 409.6H116.9ZM52.7 404.1H69.9L71.2 406.9H54.3ZM73.9 404.1H76L77.2 406.9H75.1ZM105.4 404.1H110.8L111.2 406.9H105.9ZM130.4 404.1H136L135.9 406.9H130.4ZM66.8 401.3H68.7L69.9 404.1H68.1ZM70.7 401.3H74.9L76 404.1H71.9ZM81.7 401.3H86.6L87.4 404.1H82.7ZM89.1 401.3H104.9L105.4 404.1H89.9ZM136.2 401.3H144.7L144.4 404.1H136ZM147.5 401.3H153.1L152.6 404.1H147.2ZM155.8 401.3H166.4L165.7 404.1H155.3ZM185.2 401.3H191.2L189.9 404.1H184.1ZM210.8 401.3H211.1L209.4 404.1H209.1ZM211.3 401.3H211.4L209.7 404.1H209.6ZM67.6 398.4H69.7L70.7 401.3H68.7ZM88.3 398.4H104.5L104.9 401.3H89.1ZM139.2 398.4H159.1L158.5 401.3H139ZM190.4 398.4H192.3L191.2 401.3H189.3ZM205.1 398.4H212.9L211.4 401.3H203.7ZM62.7 395.4H66.6L67.6 398.4H63.8ZM87.6 395.4H90.2L90.9 398.4H88.3ZM92.9 395.4H101.2L101.7 398.4H93.5ZM142.4 395.4H154L153.5 398.4H142.1ZM189.4 395.4H191.4L190.4 398.4H188.3ZM205.1 395.4H214.4L212.9 398.4H203.8ZM56.3 392.4H59.7L60.8 395.4H57.4ZM92.4 392.4H109.5L109.8 395.4H92.9ZM142.6 392.4H151.4L151.1 395.4H142.4ZM190.3 392.4H192.4L191.4 395.4H189.4ZM206.3 392.4H215.7L214.4 395.4H205.1ZM41.2 389.4H41.4L42.6 392.4H42.4ZM42.1 389.4H42.7L43.9 392.4H43.4ZM45.8 389.4H46.9L48 392.4H47ZM48 389.4H55.2L56.3 392.4H49.2ZM91.8 389.4H115.2L115.4 392.4H92.4ZM189 389.4H191.2L190.3 392.4H188.1ZM205.9 389.4H216.9L215.7 392.4H204.8ZM39.9 386.3H54.3L55.2 389.4H41.1ZM91.4 386.3H118.1L118.3 389.4H91.8ZM185.1 386.3H189.7L189 389.4H184.3ZM205.3 386.3H218.1L216.9 389.4H204.4ZM38.9 383.1H51.8L52.7 386.3H39.9ZM90.9 383.1H121.1L121.2 386.3H91.4ZM183.2 383.1H188.1L187.4 386.3H182.6ZM206.2 383.1H219.1L218.1 386.3H205.3ZM38 380H56.3L57.1 383.1H38.9ZM93.4 380H121.1L121.1 383.1H93.8ZM175.9 380H186.3L185.7 383.1H175.4ZM207 380H220L219.1 383.1H206.2ZM37.2 376.8H57.7L58.3 380H38ZM87.3 376.8H124.2L124.2 380H87.7ZM167.8 376.8H170.7L170.3 380H167.5ZM173.5 376.8H176.3L175.9 380H173.1ZM207.7 376.8H220.8L220 380H207ZM36.5 373.6H63.6L64.1 376.8H37.2ZM81.4 373.6H124.2L124.2 376.8H81.7ZM162.1 373.6H165.1L164.9 376.8H161.9ZM206.6 373.6H221.5L220.8 376.8H206ZM36 370.3H73L73.4 373.6H36.5ZM75.6 370.3H124.1L124.2 373.6H76ZM159.3 370.3H162.3L162.1 373.6H159.1ZM207 370.3H222L221.5 373.6H206.6ZM35.5 367.1H47.2L47.6 370.3H36ZM48.9 367.1H124.1L124.1 370.3H49.2ZM156.3 367.1H159.4L159.3 370.3H156.2ZM205.6 367.1H222.5L222 370.3H205.2ZM35.2 363.8H46.9L47.2 367.1H35.5ZM56.1 363.8H58.2L58.4 367.1H56.3ZM65 363.8H124.1L124.1 367.1H65.2ZM156.4 363.8H162.6L162.5 367.1H156.3ZM205.9 363.8H222.8L222.5 367.1H205.6ZM34.9 360.5H43.7L44 363.8H35.2ZM45.2 360.5H48.4L48.6 363.8H45.4ZM69.8 360.5H72.4L72.5 363.8H69.9ZM75 360.5H117.5L117.6 363.8H75.2ZM168.8 360.5H188.2L188.1 363.8H168.7ZM206.1 360.5H223.1L222.8 363.8H205.9ZM34.8 357.2H45.1L45.2 360.5H34.9ZM72.3 357.2H124.1L124.1 360.5H72.4ZM188.3 357.2H190.8L190.7 360.5H188.2ZM204.2 357.2H223.2L223.1 360.5H204.1ZM34.8 354H42.3L42.3 357.2H34.8ZM89.2 354H101.5L101.5 357.2H89.2ZM107.8 354H137.2L137.2 357.2H107.8ZM190.8 354H195.6L195.6 357.2H190.8ZM204.2 354H208L208 357.2H204.2ZM209.7 354H220.8L220.8 357.2H209.7ZM221.5 354H222L222 357.2H221.5ZM222.8 354H223.2L223.2 357.2H222.8ZM34.9 350.7H41.2L41.1 354H34.8ZM101.5 350.7H104.7L104.6 354H101.5ZM143.7 350.7H146.9L147 354H143.7ZM193.2 350.7H195.5L195.6 354H193.2ZM217.9 350.7H219L219.1 354H218.1ZM221.3 350.7H221.9L222 354H221.5ZM223.1 350.7H223.1L223.2 354H223.2ZM35.2 347.4H36.3L36.1 350.7H34.9ZM38.4 347.4H39.3L39 350.7H38.1ZM40.3 347.4H42.6L42.4 350.7H40.1ZM150.1 347.4H162.6L162.7 350.7H150.2ZM174.5 347.4H180.1L180.2 350.7H174.6ZM193 347.4H195.4L195.5 350.7H193.2ZM41.7 344.1H44.3L44 347.4H41.4ZM182.6 344.1H192.8L193 347.4H182.8ZM43.4 340.9H46.1L45.7 344.1H42.9ZM45.2 337.6H48.1L47.6 340.9H44.7ZM45.8 334.4H50.3L49.7 337.6H45.2ZM73.8 334.4H87.3L87 337.6H73.4ZM90.2 334.4H102.2L102 337.6H89.9ZM46.5 331.2H49.4L48.7 334.4H45.8ZM58.3 331.2H60.3L59.7 334.4H57.7ZM64.7 331.2H69.3L68.8 334.4H64.1ZM76.8 331.2H84.9L84.5 334.4H76.4ZM99.4 331.2H108.5L108.4 334.4H99.1ZM48.7 328.1H55.2L54.5 331.2H47.9ZM57.1 328.1H65.3L64.7 331.2H56.3ZM67.6 328.1H69.9L69.3 331.2H66.9ZM74.8 328.1H77.3L76.8 331.2H74.2ZM79.9 328.1H90.9L90.5 331.2H79.4ZM93.8 328.1H111.8L111.6 331.2H93.4ZM114.9 328.1H121.1L121.1 331.2H114.8ZM124.3 328.1H127.4L127.4 331.2H124.2ZM130.6 328.1H140L140.1 331.2H130.6ZM146.2 328.1H149.3L149.5 331.2H146.4ZM152.3 328.1H155.3L155.6 331.2H152.6ZM158.3 328.1H161.3L161.6 331.2H158.6ZM180.7 328.1H183.2L183.8 331.2H181.2ZM197 328.1H202.8L203.5 331.2H197.7ZM214.2 328.1H215.1L216 331.2H215ZM216 328.1H216.8L217.7 331.2H216.9ZM63.9 324.9H94.2L93.8 328.1H63.1ZM142.9 324.9H146L146.2 328.1H143.1ZM152.1 324.9H155L155.3 328.1H152.3ZM163.8 324.9H177.5L178.1 328.1H164.2ZM212.2 324.9H213.2L214.2 328.1H213.1ZM217.9 324.9H218.1L219.1 328.1H219ZM69 321.8H78.6L77.9 324.9H68.3ZM67.7 318.8H69.9L69 321.8H66.8ZM76.8 318.8H79.3L78.6 321.8H76.1ZM66.6 315.8H68.6L67.7 318.8H65.6ZM77.6 315.8H80L79.3 318.8H76.8ZM67.6 312.8H76.2L75.3 315.8H66.6ZM105.1 289H107.3L106.6 291.4H104.3ZM110.2 286.7H112.4L111.8 289H109.5ZM121.2 286.7H123.4L123.2 289H120.9ZM93.6 278.4H99.6L98.1 280.4H91.8ZM91.5 276.6H92.7L90.8 278.4H89.5ZM102.6 276.6H104.1L102.8 278.4H101.2ZM105.5 274.9H107L105.7 276.6H104.1ZM91.6 273.2H92.5L90.3 274.9H89.3ZM106.9 273.2H108.3L107 274.9H105.5ZM92.3 271.7H94L91.6 273.2H89.9ZM108.3 271.7H109.6L108.3 273.2H106.9ZM94.2 270.2H94.9L92.3 271.7H91.6ZM108.5 270.2H109.7L108.3 271.7H107ZM95.6 268.9H97.5L94.9 270.2H92.9ZM107.9 268.9H109L107.3 270.2H106.2ZM98.4 267.7H101.3L98.8 268.9H95.6ZM103.5 267.7H107.8L105.8 268.9H101.2ZM135.9 263.8H138L139.3 264.6H136.9ZM144.5 263.8H145L147.4 264.6H146.8ZM145.5 263.8H147.5L150.3 264.6H147.9ZM133 263.1H134.3L135.2 263.8H133.8ZM132.8 262.6H133.8L134.9 263.1H133.7ZM132.7 262.1H133.9L135.2 262.6H133.8ZM132.7 261.8H133.9L135.9 262.1H134.2ZM134.2 261.8H134.4L136.5 262.1H136.2ZM133.2 261.5H133.9L137.2 261.8H136Z"/>
<path fill="#edf2f5" stroke="#edf2f5" d="M98.3 444.7H98.4L101.5 445.7H101.5ZM98.7 444.7H99.1L102.2 445.7H101.8ZM101.7 444.7H102.2L104.9 445.7H104.5ZM103.3 444.7H103.9L106.4 445.7H105.9ZM104.5 444.7H105.2L107.6 445.7H107ZM105.9 444.7H107.3L109.5 445.7H108.2ZM109.7 444.7H110.5L112.4 445.7H111.7ZM111.4 444.7H112.3L114 445.7H113.2ZM114.1 444.7H115.1L116.5 445.7H115.6ZM116 444.7H117L118.2 445.7H117.4ZM138 444.7H146.6L144.8 445.7H137.1ZM150.7 444.7H151.4L149.1 445.7H148.5ZM157.2 444.7H157.6L154.7 445.7H154.4ZM158 444.7H158.3L155.3 445.7H155ZM158.9 444.7H159.3L156.2 445.7H155.8ZM95.3 443.5H95.4L98.4 444.7H98.4ZM95.5 443.5H95.7L98.7 444.7H98.6ZM95.9 443.5H96.4L99.4 444.7H98.9ZM97.1 443.5H98.9L101.7 444.7H100ZM99.5 443.5H102.8L105.2 444.7H102.2ZM103.5 443.5H104.3L106.6 444.7H105.9ZM105.1 443.5H106L108.1 444.7H107.3ZM107.8 443.5H111.6L113.2 444.7H109.7ZM113.7 443.5H116.9L118 444.7H115.1ZM92.2 442.3H92.2L95.2 443.5H95.2ZM92.5 442.3H92.6L95.7 443.5H95.5ZM92.9 442.3H93.1L96.1 443.5H95.9ZM93.4 442.3H93.8L96.7 443.5H96.4ZM94.6 442.3H95.1L97.9 443.5H97.5ZM95.6 442.3H96.2L98.9 443.5H98.4ZM96.8 442.3H99.6L102 443.5H99.5ZM101.2 442.3H102.1L104.3 443.5H103.5ZM103 442.3H105.8L107.8 443.5H105.1ZM106.8 442.3H107.9L109.6 443.5H108.7ZM109 442.3H115.8L116.9 443.5H110.6ZM90.5 441H90.9L93.8 442.3H93.4ZM91.8 441H92.4L95.1 442.3H94.6ZM92.9 441H97.2L99.6 442.3H95.6ZM99.9 441H100.8L103 442.3H102.1ZM102.9 441H133.9L133.5 442.3H104.9ZM102.1 439.5H113.7L114.7 441H103.9ZM116.5 439.5H120.8L121.4 441H117.4ZM122.3 439.5H131.2L131.1 441H122.8ZM101.5 438H111.2L112.3 439.5H103.3ZM128.2 438H137.7L137.2 439.5H128.3ZM171.6 438H174.7L171.8 439.5H168.9ZM105.5 436.3H110L111.2 438H106.9ZM126.5 436.3H129.8L129.8 438H126.6ZM143.2 436.3H144.8L143.9 438H142.4ZM168.7 436.3H171.4L168.9 438H166.4ZM109 434.6H114L114.8 436.3H110ZM122.7 434.6H128.1L128.2 436.3H123.1ZM149 434.6H150.7L149.5 436.3H148ZM166.5 434.6H168.9L166.7 436.3H164.5ZM115 432.8H116.8L117.5 434.6H115.7ZM153.5 432.8H158.4L156.9 434.6H152.3ZM163 432.8H165.8L164 434.6H161.3ZM58 409.6H59.1L60.8 412.3H59.7ZM57.4 406.9H62.7L64.3 409.6H59.1ZM110.8 404.1H119.2L119.4 406.9H111.2ZM124.8 404.1H130.4L130.4 406.9H124.9ZM74.9 401.3H81.7L82.7 404.1H76ZM104.9 401.3H110.5L110.8 404.1H105.4ZM133.3 401.3H136.2L136 404.1H133.2ZM166.4 401.3H171.4L170.6 404.1H165.7ZM173.9 401.3H185.2L184.1 404.1H173ZM69.7 398.4H73.9L74.9 401.3H70.7ZM80.9 398.4H88.3L89.1 401.3H81.7ZM104.5 398.4H110.1L110.5 401.3H104.9ZM136.3 398.4H139.2L139 401.3H136.2ZM159.1 398.4H161.8L161.2 401.3H158.5ZM186.2 398.4H190.4L189.3 401.3H185.2ZM66.6 395.4H68.6L69.7 398.4H67.6ZM85 395.4H87.6L88.3 398.4H85.8ZM90.2 395.4H92.9L93.5 398.4H90.9ZM101.2 395.4H115.6L115.9 398.4H101.7ZM139.4 395.4H142.4L142.1 398.4H139.2ZM154 395.4H159.6L159.1 398.4H153.5ZM59.7 392.4H63.6L64.6 395.4H60.8ZM87 392.4H92.4L92.9 395.4H87.6ZM109.5 392.4H121.4L121.6 395.4H109.8ZM139.6 392.4H142.6L142.4 395.4H139.4ZM151.4 392.4H157.2L156.8 395.4H151.1ZM185.9 392.4H190.3L189.4 395.4H185ZM55.2 389.4H60.7L61.6 392.4H56.3ZM89.1 389.4H91.8L92.4 392.4H89.6ZM115.2 389.4H121.3L121.4 392.4H115.4ZM142.8 389.4H151.8L151.4 392.4H142.6ZM181.9 389.4H189L188.1 392.4H181.2ZM54.3 386.3H59.8L60.7 389.4H55.2ZM85.8 386.3H91.4L91.8 389.4H86.4ZM118.1 386.3H124.3L124.4 389.4H118.3ZM142.9 386.3H149L148.8 389.4H142.8ZM174.9 386.3H185.1L184.3 389.4H174.3ZM51.8 383.1H61L61.8 386.3H52.7ZM85.3 383.1H90.9L91.4 386.3H85.8ZM121.1 383.1H124.3L124.3 386.3H121.2ZM172.7 383.1H183.2L182.6 386.3H172.2ZM56.3 380H62.5L63.1 383.1H57.1ZM84.9 380H93.4L93.8 383.1H85.3ZM121.1 380H127.4L127.4 383.1H121.1ZM167.5 380H175.9L175.4 383.1H167.1ZM57.7 376.8H66.4L66.9 380H58.3ZM79 376.8H87.3L87.7 380H79.4ZM124.2 376.8H130.6L130.6 380H124.2ZM161.9 376.8H167.8L167.5 380H161.6ZM63.6 373.6H81.4L81.7 376.8H64.1ZM124.2 373.6H130.6L130.6 376.8H124.2ZM159.1 373.6H162.1L161.9 376.8H158.9ZM73 370.3H75.6L76 373.6H73.4ZM124.1 370.3H130.6L130.6 373.6H124.2ZM156.2 370.3H159.3L159.1 373.6H156ZM124.1 367.1H130.6L130.6 370.3H124.1ZM153.2 367.1H156.3L156.2 370.3H153.1ZM124.1 363.8H127.4L127.4 367.1H124.1ZM150.1 363.8H156.4L156.3 367.1H150ZM117.5 360.5H130.6L130.6 363.8H117.6ZM150.2 360.5H168.8L168.7 363.8H150.1ZM124.1 357.2H137.2L137.2 360.5H124.1ZM183 357.2H188.3L188.2 360.5H183ZM137.2 354H143.7L143.7 357.2H137.2ZM146.9 350.7H153.3L153.4 354H147ZM36.3 347.4H38.4L38.1 350.7H36.1ZM39.3 347.4H40.3L40.1 350.7H39ZM180.1 347.4H182.8L183 350.7H180.2ZM35.5 344.1H41.7L41.4 347.4H35.2ZM42.1 340.9H43.4L42.9 344.1H41.7ZM42.7 337.6H45.2L44.7 340.9H42.1ZM44.5 334.4H45.8L45.2 337.6H43.9ZM45.2 331.2H46.5L45.8 334.4H44.5ZM47.4 328.1H48.7L47.9 331.2H46.5ZM49.6 324.9H63.9L63.1 328.1H48.7ZM94.2 324.9H142.9L143.1 328.1H93.8ZM146 324.9H152.1L152.3 328.1H146.2ZM155 324.9H163.8L164.2 328.1H155.3ZM177.5 324.9H212.2L213.1 328.1H178.1ZM213.2 324.9H217.9L219 328.1H214.2ZM218.1 324.9H218.1L219.1 328.1H219.1ZM60.7 321.8H62.6L61.8 324.9H59.8ZM64.7 321.8H69L68.3 324.9H63.9ZM78.6 321.8H91.8L91.4 324.9H77.9ZM63.6 318.8H67.7L66.8 321.8H62.6ZM79.3 318.8H87L86.4 321.8H78.6ZM64.6 315.8H66.6L65.6 318.8H63.6ZM80 315.8H85L84.3 318.8H79.3ZM65.7 312.8H67.6L66.6 315.8H64.6ZM76.2 312.8H80.9L80 315.8H75.3ZM103 289H105.1L104.3 291.4H102.1ZM123.2 289H127.8L127.8 291.4H123ZM108.1 286.7H110.2L109.5 289H107.3ZM123.4 286.7H127.9L127.8 289H123.2ZM90.8 278.4H93.6L91.8 280.4H88.9ZM99.6 278.4H102.8L101.5 280.4H98.1ZM89.1 276.6H91.5L89.5 278.4H87ZM104.1 276.6H105.7L104.5 278.4H102.8ZM89.3 274.9H91.3L89.1 276.6H87ZM107 274.9H108.5L107.3 276.6H105.7ZM89.9 273.2H91.6L89.3 274.9H87.4ZM108.3 273.2H109.7L108.5 274.9H107ZM90.9 271.7H92.3L89.9 273.2H88.3ZM109.6 271.7H110.9L109.7 273.2H108.3ZM92.4 270.2H94.2L91.6 271.7H89.6ZM109.7 270.2H113.4L112.3 271.7H108.3ZM114.7 270.2H116L115.1 271.7H113.7ZM93.8 268.9H95.6L92.9 270.2H90.9ZM109 268.9H118.2L117.4 270.2H107.3ZM96.4 267.7H98.4L95.6 268.9H93.4ZM107.8 267.7H112.6L111.2 268.9H105.8ZM113.7 267.7H118L117 268.9H112.3ZM99.4 266.5H109.7L107.8 267.7H96.4ZM112.3 266.5H113.2L111.6 267.7H110.6ZM115.1 266.5H116L114.7 267.7H113.7ZM133.8 263.8H135.9L136.9 264.6H134.5ZM147.5 263.8H148.8L151.8 264.6H150.3ZM149.3 263.8H149.5L152.6 264.6H152.3ZM131.2 263.1H133L133.8 263.8H131.6ZM130.8 262.6H132.8L133.7 263.1H131.2ZM131.2 262.1H132.7L133.8 262.6H131.8ZM130.8 261.8H131.1L132 262.1H131.6ZM131.4 261.8H132.7L134.2 262.1H132.4ZM131.5 261.5H133.2L136 261.8H133.2ZM130.5 261.4H130.6L133.7 261.5H133.6ZM130.6 261.4H130.6L133.8 261.5H133.7ZM130.6 261.4H130.6L133.8 261.5H133.8ZM130.6 261.4H130.6L133.9 261.5H133.9Z"/>
<path fill="#f9f0eb" stroke="#f9f0eb" d="M146.6 444.7H150.7L148.5 445.7H144.8ZM151.4 444.7H157.2L154.4 445.7H149.1ZM157.6 444.7H158L155 445.7H154.7ZM158.3 444.7H158.9L155.8 445.7H155.3ZM159.3 444.7H159.7L156.5 445.7H156.2ZM138.9 443.5H144.3L142.9 444.7H138ZM161.3 443.5H161.6L158.6 444.7H158.3ZM162.1 443.5H162.7L159.6 444.7H159.1ZM162.8 443.5H162.8L159.7 444.7H159.7ZM133.9 441H136.6L136 442.3H133.5ZM113.7 439.5H116.5L117.4 441H114.7ZM120.8 439.5H122.3L122.8 441H121.4ZM131.2 439.5H137.2L136.6 441H131.1ZM169.9 439.5H171.8L168.8 441H167.1ZM111.2 438H128.2L128.3 439.5H112.3ZM137.7 438H139.3L138.6 439.5H137.2ZM168.9 438H171.6L168.9 439.5H166.4ZM110 436.3H114.8L115.6 438H111.2ZM116.4 436.3H119.7L120.3 438H117.2ZM123.1 436.3H126.5L126.6 438H123.4ZM144.8 436.3H146.4L145.4 438H143.9ZM167.7 436.3H168.7L166.4 438H165.5ZM114 434.6H122.7L123.1 436.3H114.8ZM150.7 434.6H153.9L152.5 436.3H149.5ZM164 434.6H166.5L164.5 436.3H162.1ZM158.4 432.8H163L161.3 434.6H156.9ZM119.2 404.1H124.8L124.9 406.9H119.4ZM110.5 401.3H133.3L133.2 404.1H110.8ZM171.4 401.3H173.9L173 404.1H170.6ZM73.9 398.4H76.2L77.2 401.3H74.9ZM78.5 398.4H80.9L81.7 401.3H79.4ZM110.1 398.4H118.8L119 401.3H110.5ZM130.5 398.4H136.3L136.2 401.3H130.4ZM161.8 398.4H164.5L163.8 401.3H161.2ZM184.1 398.4H186.2L185.2 401.3H183.1ZM68.6 395.4H70.8L71.8 398.4H69.7ZM82.5 395.4H85L85.8 398.4H83.3ZM115.6 395.4H127.5L127.5 398.4H115.9ZM136.4 395.4H139.4L139.2 398.4H136.3ZM159.6 395.4H162.4L161.8 398.4H159.1ZM185 395.4H189.4L188.3 398.4H184.1ZM63.6 392.4H67.7L68.6 395.4H64.6ZM84.3 392.4H87L87.6 395.4H85ZM121.4 392.4H127.5L127.5 395.4H121.6ZM136.6 392.4H139.6L139.4 395.4H136.4ZM157.2 392.4H160.1L159.6 395.4H156.8ZM183.6 392.4H185.9L185 395.4H182.7ZM60.7 389.4H66.8L67.7 392.4H61.6ZM83.7 389.4H89.1L89.6 392.4H84.3ZM121.3 389.4H124.4L124.5 392.4H121.4ZM139.7 389.4H142.8L142.6 392.4H139.6ZM151.8 389.4H160.5L160.1 392.4H151.4ZM176.9 389.4H181.9L181.2 392.4H176.2ZM59.8 386.3H63.9L64.7 389.4H60.7ZM139.9 386.3H142.9L142.8 389.4H139.7ZM149 386.3H155L154.7 389.4H148.8ZM169.4 386.3H174.9L174.3 389.4H168.9ZM61 383.1H67.6L68.3 386.3H61.8ZM82.6 383.1H85.3L85.8 386.3H83.1ZM124.3 383.1H127.4L127.4 386.3H124.3ZM136.9 383.1H152.3L152.1 386.3H136.8ZM167.1 383.1H172.7L172.2 386.3H166.6ZM62.5 380H71.7L72.3 383.1H63.1ZM74.2 380H84.9L85.3 383.1H74.8ZM127.4 380H133.8L133.7 383.1H127.4ZM136.9 380H146.4L146.2 383.1H136.9ZM161.6 380H167.5L167.1 383.1H161.3ZM66.4 376.8H79L79.4 380H66.9ZM130.6 376.8H137L136.9 380H130.6ZM158.9 376.8H161.9L161.6 380H158.6ZM130.6 373.6H133.8L133.8 376.8H130.6ZM152.9 373.6H159.1L158.9 376.8H152.8ZM130.6 370.3H133.9L133.8 373.6H130.6ZM153.1 370.3H156.2L156 373.6H152.9ZM130.6 367.1H133.9L133.9 370.3H130.6ZM150 367.1H153.2L153.1 370.3H149.9ZM127.4 363.8H133.9L133.9 367.1H127.4ZM146.9 363.8H150.1L150 367.1H146.8ZM130.6 360.5H140.5L140.4 363.8H130.6ZM143.7 360.5H150.2L150.1 363.8H143.7ZM137.2 357.2H150.2L150.2 360.5H137.2ZM174.7 357.2H183L183 360.5H174.6ZM143.7 354H150.2L150.2 357.2H143.7ZM180.3 354H190.8L190.8 357.2H180.3ZM153.3 350.7H156.5L156.5 354H153.4ZM171.7 350.7H183L183 354H171.8ZM190.7 350.7H193.2L193.2 354H190.8ZM182.8 347.4H185.5L185.6 350.7H183ZM190.6 347.4H193L193.2 350.7H190.7ZM36 340.9H37.1L36.7 344.1H35.5ZM40 340.9H42.1L41.7 344.1H39.6ZM43.3 334.4H44.5L43.9 337.6H42.7ZM44.1 331.2H45.2L44.5 334.4H43.3ZM46.1 328.1H47.4L46.5 331.2H45.2ZM48.3 324.9H49.6L48.7 328.1H47.4ZM52.1 321.8H60.7L59.8 324.9H51.1ZM62.6 321.8H64.7L63.9 324.9H61.8ZM91.8 321.8H106.2L105.9 324.9H91.4ZM124.4 321.8H130.5L130.6 324.9H124.3ZM136.7 321.8H154.7L155 324.9H136.8ZM166.2 321.8H216.9L218.1 324.9H166.6ZM54.7 318.8H56.3L55.2 321.8H53.6ZM59.7 318.8H63.6L62.6 321.8H58.8ZM87 318.8H95.1L94.6 321.8H86.4ZM57.4 315.8H64.6L63.6 318.8H56.3ZM85 315.8H92.9L92.4 318.8H84.3ZM58.6 312.8H60.2L59.1 315.8H57.4ZM62 312.8H65.7L64.6 315.8H60.8ZM80.9 312.8H90.9L90.2 315.8H80ZM63.2 309.9H79.4L78.5 312.8H62ZM127.6 309.9H130.4L130.5 312.8H127.5ZM130.4 307.1H141.6L141.9 309.9H130.4ZM138.6 304.3H149.4L149.9 307.1H138.8ZM146.4 301.6H149L149.4 304.3H146.8ZM111.2 291.4H118.2L117.9 293.8H110.6ZM127.8 289H130.2L130.2 291.4H127.8ZM103.9 286.7H108.1L107.3 289H103ZM127.9 286.7H136.8L137.1 289H127.8ZM90.3 280.4H101.5L100.3 282.4H88.6ZM87 278.4H90.8L88.9 280.4H84.9ZM102.8 278.4H104.5L103.3 280.4H101.5ZM87 276.6H89.1L87 278.4H84.7ZM105.7 276.6H107.3L106.2 278.4H104.5ZM86.6 274.9H89.3L87 276.6H84.1ZM108.5 274.9H110L109 276.6H107.3ZM87.6 273.2H89.9L87.4 274.9H85ZM109.7 273.2H112.6L111.6 274.9H108.5ZM88.6 271.7H90.9L88.3 273.2H85.8ZM110.9 271.7H119.4L118.7 273.2H109.7ZM89.5 270.2H89.7L86.8 271.7H86.6ZM90.2 270.2H92.4L89.6 271.7H87.3ZM113.4 270.2H114.7L113.7 271.7H112.3ZM116 270.2H120L119.4 271.7H115.1ZM121.4 270.2H122.8L122.3 271.7H120.8ZM92.2 268.9H93.8L90.9 270.2H89.2ZM118.2 268.9H123.2L122.8 270.2H117.4ZM95.2 267.7H96.4L93.4 268.9H92.2ZM112.6 267.7H113.7L112.3 268.9H111.2ZM118 267.7H121.4L120.7 268.9H117ZM98.3 266.5H99.4L96.4 267.7H95.2ZM109.7 266.5H112.3L110.6 267.7H107.8ZM113.2 266.5H115.1L113.7 267.7H111.6ZM116 266.5H122.1L121.4 267.7H114.7ZM101.5 265.5H120.9L120 266.5H98.3ZM104.6 264.6H104.7L101.5 265.5H101.5ZM104.7 264.6H108.6L105.9 265.5H101.6ZM109 264.6H109.5L107 265.5H106.4ZM110.1 264.6H111.8L109.5 265.5H107.6ZM112.4 264.6H117.2L115.6 265.5H110.2ZM118.7 264.6H119.5L118.2 265.5H117.4ZM136.9 264.6H138.5L139.8 265.5H138ZM140.1 264.6H140.8L142.4 265.5H141.5ZM108.2 263.8H108.4L105.2 264.6H105.1ZM108.7 263.8H109.5L106.6 264.6H105.7ZM110.5 263.8H110.8L108.1 264.6H107.7ZM113 263.8H113.5L111.2 264.6H110.6ZM115.1 263.8H115.7L113.7 264.6H113ZM116.2 263.8H116.8L115 264.6H114.3ZM117.5 263.8H118.1L116.4 264.6H115.7ZM130.1 263.8H133.8L134.5 264.6H130.3ZM148.8 263.8H149.3L152.3 264.6H151.8ZM149.5 263.8H150.2L153.4 264.6H152.6ZM129.3 263.1H131.2L131.6 263.8H129.4ZM127.7 262.6H128.2L128.1 263.1H127.4ZM128.7 262.6H130.8L131.2 263.1H128.7ZM127.2 262.1H128.4L128.2 262.6H126.7ZM128.8 262.1H131.2L131.8 262.6H128.7ZM127.7 261.8H128L127.6 262.1H127.2ZM128.3 261.8H130.8L131.6 262.1H128ZM131.1 261.8H131.4L132.4 262.1H132ZM128.1 261.5H128.2L127.7 261.8H127.4ZM128.4 261.5H128.7L128.6 261.8H128ZM129.3 261.5H131.5L133.2 261.8H129.4ZM128.6 261.4H128.7L128.2 261.5H127.9ZM128.8 261.4H128.9L128.6 261.5H128.4ZM129.1 261.4H129.3L129.8 261.5H129.4ZM129.3 261.4H129.4L130.1 261.5H129.9ZM129.4 261.4H129.5L130.4 261.5H130.3ZM129.5 261.4H130.5L133.6 261.5H130.6ZM130.6 261.4H130.6L133.7 261.5H133.7ZM130.6 261.4H130.6L133.8 261.5H133.8ZM130.6 261.4H130.6L133.9 261.5H133.8ZM130.6 261.4H130.6L133.9 261.5H133.9ZM129 261.4H129L127.4 261.4H127.4ZM129 261.4H129L127.5 261.4H127.5ZM129 261.4H129L127.9 261.4H127.8ZM129 261.4H129L128.1 261.4H128ZM129 261.4H129L128.4 261.4H128.3ZM129 261.4H129L128.5 261.4H128.4ZM129 261.4H129L129 261.4H128.9ZM129 261.4H129L129.1 261.4H129ZM129 261.4H129L129.3 261.4H129.3ZM129 261.4H129L129.6 261.4H129.4ZM129 261.4H129L129.7 261.4H129.6ZM129 261.4H129L129.9 261.4H129.7ZM129 261.4H129L130.1 261.4H130ZM129 261.4H129L130.2 261.4H130.2ZM129 261.4H129L130.4 261.4H130.3ZM129 261.4H129L130.5 261.4H130.5ZM129 261.4H129L130.6 261.4H130.5ZM129 261.4H129L130.6 261.4H130.6ZM129 261.4H129L130.6 261.4H130.6Z"/>
<path fill="#fce0d0" stroke="#fce0d0" d="M144.3 443.5H150.2L148.3 444.7H142.9ZM152 443.5H155.2L152.8 444.7H149.9ZM156 443.5H161.3L158.3 444.7H153.5ZM161.6 443.5H162.1L159.1 444.7H158.6ZM162.7 443.5H162.8L159.7 444.7H159.6ZM139.8 442.3H142.2L141.1 443.5H138.9ZM164.2 442.3H164.6L161.6 443.5H161.3ZM164.9 442.3H165.8L162.8 443.5H161.9ZM136.6 441H139.3L138.5 442.3H136ZM167.1 441H168.8L165.8 442.3H164.2ZM137.2 439.5H138.6L138 441H136.6ZM167.8 439.5H169.9L167.1 441H165.1ZM139.3 438H142.4L141.5 439.5H138.6ZM166.4 438H168.9L166.4 439.5H164ZM114.8 436.3H116.4L117.2 438H115.6ZM119.7 436.3H123.1L123.4 438H120.3ZM146.4 436.3H149.5L148.3 438H145.4ZM164.5 436.3H167.7L165.5 438H162.4ZM153.9 434.6H156.9L155.4 436.3H152.5ZM159.9 434.6H164L162.1 436.3H158.2ZM76.2 398.4H78.5L79.4 401.3H77.2ZM118.8 398.4H130.5L130.4 401.3H119ZM164.5 398.4H167.1L166.4 401.3H163.8ZM181.8 398.4H184.1L183.1 401.3H180.8ZM70.8 395.4H75.3L76.2 398.4H71.8ZM80 395.4H82.5L83.3 398.4H80.9ZM127.5 395.4H136.4L136.3 398.4H127.5ZM162.4 395.4H165.1L164.5 398.4H161.8ZM182.7 395.4H185L184.1 398.4H181.8ZM67.7 392.4H72.1L73 395.4H68.6ZM81.8 392.4H84.3L85 395.4H82.5ZM127.5 392.4H130.5L130.5 395.4H127.5ZM133.5 392.4H136.6L136.4 395.4H133.5ZM160.1 392.4H162.9L162.4 395.4H159.6ZM181.2 392.4H183.6L182.7 395.4H180.4ZM66.8 389.4H69L69.9 392.4H67.7ZM124.4 389.4H127.5L127.5 392.4H124.5ZM133.6 389.4H139.7L139.6 392.4H133.5ZM160.5 389.4H176.9L176.2 392.4H160.1ZM63.9 386.3H70.6L71.3 389.4H64.7ZM83.1 386.3H85.8L86.4 389.4H83.7ZM124.3 386.3H127.4L127.5 389.4H124.4ZM133.7 386.3H139.9L139.7 389.4H133.6ZM155 386.3H169.4L168.9 389.4H154.7ZM67.6 383.1H77.3L77.9 386.3H68.3ZM79.9 383.1H82.6L83.1 386.3H80.5ZM127.4 383.1H130.6L130.6 386.3H127.4ZM133.7 383.1H136.9L136.8 386.3H133.7ZM152.3 383.1H167.1L166.6 386.3H152.1ZM71.7 380H74.2L74.8 383.1H72.3ZM133.8 380H136.9L136.9 383.1H133.7ZM146.4 380H161.6L161.3 383.1H146.2ZM137 376.8H158.9L158.6 380H136.9ZM133.8 373.6H152.9L152.8 376.8H133.8ZM133.9 370.3H137.1L137.1 373.6H133.8ZM146.8 370.3H153.1L152.9 373.6H146.6ZM133.9 367.1H137.1L137.1 370.3H133.9ZM146.8 367.1H150L149.9 370.3H146.8ZM133.9 363.8H137.2L137.1 367.1H133.9ZM140.4 363.8H146.9L146.8 367.1H140.4ZM140.5 360.5H143.7L143.7 363.8H140.4ZM150.2 357.2H156.5L156.5 360.5H150.2ZM171.8 357.2H174.7L174.6 360.5H171.7ZM150.2 354H153.4L153.4 357.2H150.2ZM177.5 354H180.3L180.3 357.2H177.5ZM156.5 350.7H171.7L171.8 354H156.5ZM183 350.7H185.6L185.7 354H183ZM185.5 347.4H190.6L190.7 350.7H185.6ZM37.1 340.9H40L39.6 344.1H36.7ZM36.5 337.6H37.7L37.1 340.9H36ZM39.7 337.6H42.7L42.1 340.9H39.1ZM37.2 334.4H37.3L36.7 337.6H36.5ZM41.2 334.4H43.3L42.7 337.6H40.6ZM38 331.2H39.1L38.3 334.4H37.2ZM43 331.2H44.1L43.3 334.4H42.2ZM38.9 328.1H40L39.1 331.2H38ZM44.9 328.1H46.1L45.2 331.2H44.1ZM39.9 324.9H40.1L39 328.1H38.9ZM47 324.9H48.3L47.4 328.1H46.1ZM50.6 321.8H52.1L51.1 324.9H49.6ZM106.2 321.8H124.4L124.3 324.9H105.9ZM130.5 321.8H136.7L136.8 324.9H130.6ZM154.7 321.8H166.2L166.6 324.9H155ZM51.7 318.8H54.7L53.6 321.8H50.6ZM56.3 318.8H59.7L58.8 321.8H55.2ZM95.1 318.8H103.6L103.3 321.8H94.6ZM106.6 318.8H109.5L109.2 321.8H106.2ZM142.6 318.8H145.5L145.8 321.8H142.8ZM148.5 318.8H154.4L154.7 321.8H148.8ZM165.6 318.8H215.7L216.9 321.8H166.2ZM54.3 315.8H57.4L56.3 318.8H53.2ZM92.9 315.8H104L103.6 318.8H92.4ZM106.9 315.8H109.8L109.5 318.8H106.6ZM170.4 315.8H214.4L215.7 318.8H171ZM54.2 312.8H58.6L57.4 315.8H52.9ZM60.2 312.8H62L60.8 315.8H59.1ZM90.9 312.8H98.9L98.4 315.8H90.2ZM113 312.8H124.6L124.5 315.8H112.7ZM174.7 312.8H212.9L214.4 315.8H175.5ZM54.3 309.9H63.2L62 312.8H52.9ZM79.4 309.9H96.8L96.2 312.8H78.5ZM110.5 309.9H116.1L115.9 312.8H110.1ZM119 309.9H127.6L127.5 312.8H118.8ZM130.4 309.9H136.2L136.3 312.8H130.5ZM173.9 309.9H178.6L179.5 312.8H174.7ZM180.8 309.9H211.4L212.9 312.8H181.8ZM55.8 307.1H73.9L72.8 309.9H54.3ZM89.9 307.1H94.9L94.2 309.9H89.1ZM110.8 307.1H116.4L116.1 309.9H110.5ZM124.8 307.1H130.4L130.4 309.9H124.7ZM141.6 307.1H147.2L147.5 309.9H141.9ZM175.3 307.1H177.6L178.6 309.9H176.3ZM184.1 307.1H209.7L211.4 309.9H185.2ZM55.2 304.3H73.1L71.9 307.1H53.6ZM133.1 304.3H138.6L138.8 307.1H133.2ZM174.3 304.3H178.7L179.8 307.1H175.3ZM188.6 304.3H208L209.7 307.1H189.9ZM57 301.6H76.4L75.1 304.3H55.2ZM141.1 301.6H146.4L146.8 304.3H141.4ZM149 301.6H151.6L152.1 304.3H149.4ZM198.9 301.6H200L201.7 304.3H200.6ZM201 301.6H206.2L208 304.3H202.8ZM57.1 298.9H77.7L76.4 301.6H55.2ZM200.9 298.9H204.2L206.2 301.6H202.8ZM57.1 296.3H81L79.6 298.9H55.2ZM202.1 296.3H202.2L204.2 298.9H204.1ZM57.9 293.8H58.4L56.3 296.3H55.8ZM58.8 293.8H86.2L84.9 296.3H56.7ZM60.1 291.4H89.5L88.2 293.8H57.9ZM106.6 291.4H111.2L110.6 293.8H105.9ZM118.2 291.4H123L122.8 293.8H117.9ZM62.4 289H103L102.1 291.4H60.1ZM130.2 289H134.8L135 291.4H130.2ZM64.8 286.7H103.9L103 289H62.4ZM136.8 286.7H141.3L141.7 289H137.1ZM67.2 284.5H113L112.4 286.7H64.8ZM167.9 284.5H169.5L171.1 286.7H169.4ZM171.1 284.5H172.7L174.4 286.7H172.8ZM174.2 284.5H175.6L177.5 286.7H176ZM188.1 284.5H188.7L191.1 286.7H190.4ZM189.7 284.5H190L192.5 286.7H192.1ZM190.6 284.5H190.8L193.2 286.7H193ZM69.7 282.4H103.9L102.9 284.5H67.2ZM166.3 282.4H175.1L177 284.5H167.9ZM176.3 282.4H178.7L180.8 284.5H178.4ZM180.8 282.4H188.3L190.8 284.5H183.1ZM72.3 280.4H90.3L88.6 282.4H69.7ZM101.5 280.4H106.8L105.8 282.4H100.3ZM169.1 280.4H185.7L188.3 282.4H170.9ZM75 278.4H87L84.9 280.4H72.3ZM104.5 278.4H107.9L106.8 280.4H103.3ZM167.2 278.4H168.5L170.5 280.4H169.1ZM169.8 278.4H183L185.7 280.4H171.8ZM77.7 276.6H87L84.7 278.4H75ZM107.3 276.6H110.6L109.6 278.4H106.2ZM168.9 276.6H180.3L183 278.4H171ZM80.5 274.9H86.6L84.1 276.6H77.7ZM110 274.9H114.8L114 276.6H109ZM165.6 274.9H177.5L180.3 276.6H167.7ZM83.3 273.2H87.6L85 274.9H80.5ZM112.6 273.2H121.9L121.4 274.9H111.6ZM164.5 273.2H166.4L168.7 274.9H166.7ZM167.3 273.2H174.7L177.5 274.9H169.7ZM86.2 271.7H88.6L85.8 273.2H83.3ZM119.4 271.7H123.8L123.4 273.2H118.7ZM165.7 271.7H171.8L174.7 273.2H168.1ZM89.2 270.2H89.5L86.6 271.7H86.2ZM89.7 270.2H90.2L87.3 271.7H86.8ZM120 270.2H121.4L120.8 271.7H119.4ZM122.8 270.2H125.5L125.3 271.7H122.3ZM163.8 270.2H165.6L168.4 271.7H166.4ZM166.6 270.2H167.5L170.3 271.7H169.4ZM167.8 270.2H168.8L171.8 271.7H170.7ZM123.2 268.9H125.8L125.5 270.2H122.8ZM164.2 268.9H164.6L167.5 270.2H167.1ZM164.9 268.9H165.5L168.5 270.2H167.8ZM165.7 268.9H165.8L168.8 270.2H168.7ZM165.8 268.9H165.8L168.8 270.2H168.8ZM121.4 267.7H126.1L125.8 268.9H120.7ZM127.2 267.7H128.4L128.4 268.9H127.1ZM122.1 266.5H130.6L130.8 267.7H121.4ZM120.9 265.5H128.5L128.5 266.5H120ZM129.5 265.5H131.4L131.7 266.5H129.5ZM104.7 264.6H104.7L101.6 265.5H101.5ZM108.6 264.6H109L106.4 265.5H105.9ZM109.5 264.6H110.1L107.6 265.5H107ZM111.8 264.6H112.4L110.2 265.5H109.5ZM117.2 264.6H118.7L117.4 265.5H115.6ZM119.5 264.6H136.9L138 265.5H118.2ZM138.5 264.6H140.1L141.5 265.5H139.8ZM140.8 264.6H145.6L147.8 265.5H142.4ZM107.8 263.8H108.2L105.1 264.6H104.6ZM108.4 263.8H108.7L105.7 264.6H105.2ZM109.5 263.8H110.5L107.7 264.6H106.6ZM110.8 263.8H113L110.6 264.6H108.1ZM113.5 263.8H115.1L113 264.6H111.2ZM115.7 263.8H116.2L114.3 264.6H113.7ZM116.8 263.8H117.5L115.7 264.6H115ZM118.1 263.8H130.1L130.3 264.6H116.4ZM111 263.1H129.3L129.4 263.8H107.8ZM114.3 262.6H127.7L127.4 263.1H111ZM128.2 262.6H128.7L128.7 263.1H128.1ZM117.5 262.1H127.2L126.7 262.6H114.3ZM128.4 262.1H128.8L128.7 262.6H128.2ZM120.8 261.8H127.7L127.2 262.1H117.5ZM128 261.8H128.3L128 262.1H127.6ZM124.1 261.5H128.1L127.4 261.8H120.8ZM128.2 261.5H128.4L128 261.8H127.7ZM128.7 261.5H129.3L129.4 261.8H128.6ZM127.4 261.4H128.6L127.9 261.5H124.1ZM128.7 261.4H128.8L128.4 261.5H128.2ZM128.9 261.4H129.1L129.4 261.5H128.6ZM129.3 261.4H129.3L129.9 261.5H129.8ZM129.4 261.4H129.4L130.3 261.5H130.1ZM129.5 261.4H129.5L130.6 261.5H130.4ZM129 261.4H129L127.4 261.4H127.4ZM129 261.4H129L127.5 261.4H127.4ZM129 261.4H129L127.8 261.4H127.5ZM129 261.4H129L128 261.4H127.9ZM129 261.4H129L128.3 261.4H128.1ZM129 261.4H129L128.4 261.4H128.4ZM129 261.4H129L128.9 261.4H128.5ZM129 261.4H129L129 261.4H129ZM129 261.4H129L129.3 261.4H129.1ZM129 261.4H129L129.4 261.4H129.3ZM129 261.4H129L129.6 261.4H129.6ZM129 261.4H129L129.7 261.4H129.7ZM129 261.4H129L130 261.4H129.9ZM129 261.4H129L130.2 261.4H130.1ZM129 261.4H129L130.3 261.4H130.2ZM129 261.4H129L130.5 261.4H130.4ZM129 261.4H129L130.5 261.4H130.5ZM129 261.4H129L130.6 261.4H130.6ZM129 261.4H129L130.6 261.4H130.6Z"/>
<path fill="#facab1" stroke="#facab1" d="M150.2 443.5H152L149.9 444.7H148.3ZM155.2 443.5H156L153.5 444.7H152.8ZM142.2 442.3H144.6L143.3 443.5H141.1ZM162.4 442.3H164.2L161.3 443.5H159.6ZM164.6 442.3H164.9L161.9 443.5H161.6ZM139.3 441H140.6L139.8 442.3H138.5ZM165.1 441H167.1L164.2 442.3H162.4ZM138.6 439.5H140.1L139.3 441H138ZM166.4 439.5H167.8L165.1 441H163.8ZM142.4 438H143.9L142.9 439.5H141.5ZM164.5 438H166.4L164 439.5H162.2ZM149.5 436.3H151L149.7 438H148.3ZM162.1 436.3H164.5L162.4 438H160.1ZM156.9 434.6H159.9L158.2 436.3H155.4ZM167.1 398.4H174.7L173.9 401.3H166.4ZM177.1 398.4H181.8L180.8 401.3H176.3ZM75.3 395.4H80L80.9 398.4H76.2ZM165.1 395.4H167.8L167.1 398.4H164.5ZM180.4 395.4H182.7L181.8 398.4H179.5ZM72.1 392.4H74.4L75.3 395.4H73ZM79.3 392.4H81.8L82.5 395.4H80ZM130.5 392.4H133.5L133.5 395.4H130.5ZM162.9 392.4H171L170.4 395.4H162.4ZM176.2 392.4H181.2L180.4 395.4H175.5ZM69 389.4H73.7L74.4 392.4H69.9ZM81.1 389.4H83.7L84.3 392.4H81.8ZM127.5 389.4H133.6L133.5 392.4H127.5ZM70.6 386.3H75.4L76.1 389.4H71.3ZM77.9 386.3H83.1L83.7 389.4H78.6ZM127.4 386.3H133.7L133.6 389.4H127.5ZM77.3 383.1H79.9L80.5 386.3H77.9ZM130.6 383.1H133.7L133.7 386.3H130.6ZM137.1 370.3H146.8L146.6 373.6H137.1ZM137.1 367.1H146.8L146.8 370.3H137.1ZM137.2 363.8H140.4L140.4 367.1H137.1ZM156.5 357.2H171.8L171.7 360.5H156.5ZM153.4 354H156.5L156.5 357.2H153.4ZM174.7 354H177.5L177.5 357.2H174.7ZM185.6 350.7H190.7L190.8 354H185.7ZM37.7 337.6H39.7L39.1 340.9H37.1ZM37.3 334.4H41.2L40.6 337.6H36.7ZM39.1 331.2H43L42.2 334.4H38.3ZM40 328.1H44.9L44.1 331.2H39.1ZM40.1 324.9H42.2L41.2 328.1H39ZM45.8 324.9H47L46.1 328.1H44.9ZM49.3 321.8H50.6L49.6 324.9H48.3ZM50.4 318.8H51.7L50.6 321.8H49.3ZM103.6 318.8H106.6L106.2 321.8H103.3ZM109.5 318.8H142.6L142.8 321.8H109.2ZM145.5 318.8H148.5L148.8 321.8H145.8ZM154.4 318.8H165.6L166.2 321.8H154.7ZM51.6 315.8H54.3L53.2 318.8H50.4ZM104 315.8H106.9L106.6 318.8H103.6ZM109.8 315.8H124.5L124.5 318.8H109.5ZM142.4 315.8H154L154.4 318.8H142.6ZM165.1 315.8H170.4L171 318.8H165.6ZM52.9 312.8H54.2L52.9 315.8H51.6ZM98.9 312.8H113L112.7 315.8H98.4ZM124.6 312.8H130.5L130.5 315.8H124.5ZM169.7 312.8H174.7L175.5 315.8H170.4ZM53.2 309.9H54.3L52.9 312.8H51.7ZM96.8 309.9H110.5L110.1 312.8H96.2ZM116.1 309.9H119L118.8 312.8H115.9ZM136.2 309.9H144.7L145 312.8H136.3ZM168.9 309.9H173.9L174.7 312.8H169.7ZM178.6 309.9H180.8L181.8 312.8H179.5ZM53.6 307.1H55.8L54.3 309.9H52.1ZM73.9 307.1H80.4L79.4 309.9H72.8ZM85 307.1H89.9L89.1 309.9H84.1ZM94.9 307.1H100.1L99.5 309.9H94.2ZM105.4 307.1H110.8L110.5 309.9H104.9ZM116.4 307.1H124.8L124.7 309.9H116.1ZM147.2 307.1H152.6L153.1 309.9H147.5ZM170.6 307.1H175.3L176.3 309.9H171.4ZM177.6 307.1H184.1L185.2 309.9H178.6ZM54.3 304.3H55.2L53.6 307.1H52.7ZM73.1 304.3H77.2L76 307.1H71.9ZM103.3 304.3H133.1L133.2 307.1H102.7ZM149.4 304.3H154.7L155.3 307.1H149.9ZM167.3 304.3H174.3L175.3 307.1H168.1ZM178.7 304.3H188.6L189.9 307.1H179.8ZM53.3 301.6H57L55.2 304.3H51.4ZM76.4 301.6H78.4L77.2 304.3H75.1ZM109 301.6H119.6L119.4 304.3H108.6ZM122.3 301.6H127.7L127.6 304.3H122.1ZM130.3 301.6H141.1L141.4 304.3H130.4ZM151.6 301.6H154.1L154.7 304.3H152.1ZM168.7 301.6H198.9L200.6 304.3H169.7ZM200 301.6H201L202.8 304.3H201.7ZM53.8 298.9H57.1L55.2 301.6H51.8ZM77.7 298.9H79.6L78.4 301.6H76.4ZM145.9 298.9H148.5L149 301.6H146.4ZM151 298.9H153.5L154.1 301.6H151.6ZM167.7 298.9H174.3L175.4 301.6H168.7ZM193.5 298.9H200.9L202.8 301.6H195.1ZM204.2 298.9H204.2L206.2 301.6H206.2ZM55.8 296.3H57.1L55.2 298.9H53.8ZM81 296.3H84.9L83.7 298.9H79.6ZM198.2 296.3H202.1L204.1 298.9H200.1ZM202.2 296.3H202.2L204.2 298.9H204.2ZM58.4 293.8H58.8L56.7 296.3H56.3ZM86.2 293.8H90.3L89.1 296.3H84.9ZM198.8 293.8H200.1L202.2 296.3H200.9ZM89.5 291.4H106.6L105.9 293.8H88.2ZM123 291.4H125.4L125.3 293.8H122.8ZM166.5 291.4H170.5L171.8 293.8H167.7ZM197.4 291.4H197.6L199.8 293.8H199.6ZM197.8 291.4H197.9L200.1 293.8H200ZM134.8 289H141.7L142.1 291.4H135ZM167.2 289H169.1L170.5 291.4H168.5ZM170.9 289H172.7L174.2 291.4H172.4ZM194.4 289H194.8L197 291.4H196.6ZM195.5 289H195.6L197.9 291.4H197.8ZM141.3 286.7H143.5L144 289H141.7ZM164 286.7H180.3L182.2 289H165.3ZM189.7 286.7H193.2L195.6 289H192ZM113 284.5H119.3L118.9 286.7H112.4ZM127.9 284.5H142.9L143.5 286.7H127.9ZM164.4 284.5H167.9L169.4 286.7H165.8ZM169.5 284.5H171.1L172.8 286.7H171.1ZM172.7 284.5H174.2L176 286.7H174.4ZM175.6 284.5H188.1L190.4 286.7H177.5ZM188.7 284.5H189.7L192.1 286.7H191.1ZM190 284.5H190.6L193 286.7H192.5ZM190.8 284.5H190.8L193.2 286.7H193.2ZM103.9 282.4H111.7L110.9 284.5H102.9ZM163 282.4H166.3L167.9 284.5H164.4ZM175.1 282.4H176.3L178.4 284.5H177ZM178.7 282.4H180.8L183.1 284.5H180.8ZM106.8 280.4H110.5L109.7 282.4H105.8ZM163.1 280.4H169.1L170.9 282.4H164.7ZM107.9 278.4H111.4L110.5 280.4H106.8ZM163 278.4H167.2L169.1 280.4H164.7ZM168.5 278.4H169.8L171.8 280.4H170.5ZM110.6 276.6H115.7L115 278.4H109.6ZM162.7 276.6H168.9L171 278.4H164.4ZM114.8 274.9H121.4L121 276.6H114ZM162.1 274.9H165.6L167.7 276.6H164ZM121.9 273.2H128.2L128.2 274.9H121.4ZM161.3 273.2H164.5L166.7 274.9H163.3ZM166.4 273.2H167.3L169.7 274.9H168.7ZM123.8 271.7H134.2L134.6 273.2H123.4ZM160.3 271.7H165.7L168.1 273.2H162.4ZM125.5 270.2H132.5L132.7 271.7H125.3ZM160.8 270.2H163.8L166.4 271.7H163.2ZM165.6 270.2H166.6L169.4 271.7H168.4ZM167.5 270.2H167.8L170.7 271.7H170.3ZM125.8 268.9H132.2L132.5 270.2H125.5ZM160.5 268.9H164.2L167.1 270.2H163.1ZM164.6 268.9H164.9L167.8 270.2H167.5ZM165.5 268.9H165.7L168.7 270.2H168.5ZM165.8 268.9H165.8L168.8 270.2H168.8ZM126.1 267.7H127.2L127.1 268.9H125.8ZM128.4 267.7H133.1L133.5 268.9H128.4ZM160.1 267.7H162.8L165.8 268.9H162.9ZM130.6 266.5H133.8L134.3 267.7H130.8ZM159.6 266.5H159.7L162.8 267.7H162.7ZM128.5 265.5H129.5L129.5 266.5H128.5ZM131.4 265.5H138L139 266.5H131.7ZM145.6 264.6H149.9L152.6 265.5H147.8ZM151.1 264.6H151.8L154.7 265.5H154ZM153.1 264.6H153.2L156.3 265.5H156.2ZM153.3 264.6H153.3L156.5 265.5H156.4Z"/>
<path fill="#f5ac8b" stroke="#f5ac8b" d="M144.6 442.3H146.8L145.4 443.5H143.3ZM159.2 442.3H162.4L159.6 443.5H156.7ZM140.6 441H143.3L142.2 442.3H139.8ZM163.8 441H165.1L162.4 442.3H161.2ZM140.1 439.5H141.5L140.6 441H139.3ZM164.9 439.5H166.4L163.8 441H162.4ZM143.9 438H145.4L144.3 439.5H142.9ZM163.5 438H164.5L162.2 439.5H161.3ZM151 436.3H156.8L155.2 438H149.7ZM158.2 436.3H162.1L160.1 438H156.5ZM174.7 398.4H177.1L176.3 401.3H173.9ZM167.8 395.4H170.4L169.7 398.4H167.1ZM175.5 395.4H180.4L179.5 398.4H174.7ZM74.4 392.4H79.3L80 395.4H75.3ZM171 392.4H176.2L175.5 395.4H170.4ZM73.7 389.4H81.1L81.8 392.4H74.4ZM75.4 386.3H77.9L78.6 389.4H76.1ZM156.5 354H162.8L162.8 357.2H156.5ZM165.8 354H174.7L174.7 357.2H165.8ZM42.2 324.9H45.8L44.9 328.1H41.2ZM41.1 321.8H42.1L41 324.9H39.9ZM48 321.8H49.3L48.3 324.9H47ZM42.3 318.8H42.3L41.1 321.8H41.1ZM50.4 315.8H51.6L50.4 318.8H49.2ZM124.5 315.8H142.4L142.6 318.8H124.5ZM154 315.8H165.1L165.6 318.8H154.4ZM51.7 312.8H52.9L51.6 315.8H50.4ZM130.5 312.8H153.5L154 315.8H130.5ZM164.5 312.8H169.7L170.4 315.8H165.1ZM52.1 309.9H53.2L51.7 312.8H50.6ZM144.7 309.9H153.1L153.5 312.8H145ZM166.4 309.9H168.9L169.7 312.8H167.1ZM51.8 307.1H53.6L52.1 309.9H50.2ZM80.4 307.1H85L84.1 309.9H79.4ZM100.1 307.1H105.4L104.9 309.9H99.5ZM152.6 307.1H155.3L155.8 309.9H153.1ZM165.7 307.1H170.6L171.4 309.9H166.4ZM52 304.3H54.3L52.7 307.1H50.3ZM77.2 304.3H79.3L78.2 307.1H76ZM90.7 304.3H103.3L102.7 307.1H89.9ZM164.9 304.3H167.3L168.1 307.1H165.7ZM51.8 301.6H53.3L51.4 304.3H50ZM78.4 301.6H80.4L79.3 304.3H77.2ZM101.3 301.6H109L108.6 304.3H100.7ZM119.6 301.6H122.3L122.1 304.3H119.4ZM127.7 301.6H130.3L130.4 304.3H127.6ZM154.1 301.6H156.7L157.3 304.3H154.7ZM164 301.6H168.7L169.7 304.3H164.9ZM53.8 298.9H53.8L51.8 301.6H51.8ZM79.6 298.9H83.7L82.6 301.6H78.4ZM117.2 298.9H127.7L127.7 301.6H116.9ZM132.9 298.9H145.9L146.4 301.6H133ZM148.5 298.9H151L151.6 301.6H149ZM153.5 298.9H160.8L161.6 301.6H154.1ZM165.5 298.9H167.7L168.7 301.6H166.4ZM174.3 298.9H178.4L179.6 301.6H175.4ZM189.1 298.9H193.5L195.1 301.6H190.6ZM84.9 296.3H87L85.8 298.9H83.7ZM137.9 296.3H147.9L148.5 298.9H138.2ZM162.2 296.3H173.1L174.3 298.9H163.2ZM194.2 296.3H198.2L200.1 298.9H196ZM90.3 293.8H94.5L93.5 296.3H89.1ZM163.5 293.8H171.8L173.1 296.3H164.5ZM195.4 293.8H198.8L200.9 296.3H197.3ZM125.4 291.4H132.6L132.7 293.8H125.3ZM164.5 291.4H166.5L167.7 293.8H165.6ZM170.5 291.4H172.4L173.7 293.8H171.8ZM194.9 291.4H197.4L199.6 293.8H197ZM197.6 291.4H197.8L200 293.8H199.8ZM141.7 289H146.2L146.8 291.4H142.1ZM161.3 289H167.2L168.5 291.4H162.4ZM169.1 289H170.9L172.4 291.4H170.5ZM172.7 289H176.1L177.7 291.4H174.2ZM192 289H194.4L196.6 291.4H194.1ZM194.8 289H195.5L197.8 291.4H197ZM143.5 286.7H147.8L148.5 289H144ZM162.1 286.7H164L165.3 289H163.3ZM180.3 286.7H189.7L192 289H182.2ZM119.3 284.5H127.9L127.9 286.7H118.9ZM142.9 284.5H145L145.6 286.7H143.5ZM160.8 284.5H164.4L165.8 286.7H162.1ZM111.7 282.4H113.7L113 284.5H110.9ZM134.2 282.4H146.3L147.1 284.5H134.4ZM161.3 282.4H163L164.4 284.5H162.7ZM110.5 280.4H114.3L113.7 282.4H109.7ZM137.9 280.4H145.6L146.3 282.4H138.3ZM159.9 280.4H163.1L164.7 282.4H161.3ZM111.4 278.4H116.8L116.2 280.4H110.5ZM139.3 278.4H144.8L145.6 280.4H139.8ZM160 278.4H163L164.7 280.4H161.5ZM115.7 276.6H119.2L118.7 278.4H115ZM137 276.6H144L144.8 278.4H137.5ZM159.9 276.6H162.7L164.4 278.4H161.5ZM121.4 274.9H144.8L145.7 276.6H121ZM158.2 274.9H162.1L164 276.6H159.9ZM128.2 273.2H142.4L143.2 274.9H128.2ZM157.7 273.2H161.3L163.3 274.9H159.5ZM134.2 271.7H138.6L139.3 273.2H134.6ZM158.2 271.7H160.3L162.4 273.2H160.1ZM132.5 270.2H136.6L137.2 271.7H132.7ZM158.1 270.2H160.8L163.2 271.7H160.3ZM132.2 268.9H134.8L135.2 270.2H132.5ZM157.6 268.9H160.5L163.1 270.2H159.9ZM133.1 267.7H136.6L137.3 268.9H133.5ZM157.3 267.7H160.1L162.9 268.9H159.9ZM133.8 266.5H135.9L136.6 267.7H134.3ZM156.3 266.5H159.6L162.7 267.7H159.1ZM138 265.5H141.5L142.9 266.5H139ZM155.3 265.5H156.5L159.7 266.5H158.3ZM149.9 264.6H151.1L154 265.5H152.6ZM151.8 264.6H153.1L156.2 265.5H154.7ZM153.2 264.6H153.3L156.4 265.5H156.3ZM153.3 264.6H153.4L156.5 265.5H156.5Z"/>
<path fill="#e98b6e" stroke="#e98b6e" d="M146.8 442.3H152.2L150.2 443.5H145.4ZM155.9 442.3H159.2L156.7 443.5H153.7ZM143.3 441H144.6L143.4 442.3H142.2ZM162.4 441H163.8L161.2 442.3H159.9ZM141.5 439.5H142.9L142 441H140.6ZM163.2 439.5H164.9L162.4 441H160.8ZM145.4 438H146.8L145.7 439.5H144.3ZM161.3 438H163.5L161.3 439.5H159.2ZM156.8 436.3H158.2L156.5 438H155.2ZM170.4 395.4H175.5L174.7 398.4H169.7ZM162.8 354H165.8L165.8 357.2H162.8ZM42.1 321.8H43.3L42.2 324.9H41ZM46.9 321.8H48L47 324.9H45.8ZM42.3 318.8H43.4L42.1 321.8H41.1ZM48 318.8H50.4L49.3 321.8H46.9ZM43.6 315.8H44.3L42.9 318.8H42.3ZM49.3 315.8H50.4L49.2 318.8H48ZM45.1 312.8H45.4L44 315.8H43.6ZM49.6 312.8H51.7L50.4 315.8H48.3ZM153.5 312.8H164.5L165.1 315.8H154ZM46.7 309.9H46.9L45.4 312.8H45.2ZM50.2 309.9H52.1L50.6 312.8H48.7ZM153.1 309.9H155.8L156.3 312.8H153.5ZM163.8 309.9H166.4L167.1 312.8H164.5ZM48.3 307.1H48.4L46.7 309.9H46.6ZM48.6 307.1H48.9L47.2 309.9H46.9ZM49.2 307.1H51.8L50.2 309.9H47.6ZM155.3 307.1H157.9L158.5 309.9H155.8ZM163.1 307.1H165.7L166.4 309.9H163.8ZM50 304.3H52L50.3 307.1H48.3ZM79.3 304.3H90.7L89.9 307.1H78.2ZM154.7 304.3H159.9L160.5 307.1H155.3ZM80.4 301.6H82.6L81.5 304.3H79.3ZM94 301.6H101.3L100.7 304.3H93.1ZM156.7 301.6H164L164.9 304.3H157.3ZM83.7 298.9H85.8L84.7 301.6H82.6ZM112.1 298.9H117.2L116.9 301.6H111.6ZM127.7 298.9H132.9L133 301.6H127.7ZM160.8 298.9H165.5L166.4 301.6H161.6ZM178.4 298.9H189.1L190.6 301.6H179.6ZM87 296.3H91.3L90.3 298.9H85.8ZM132.8 296.3H137.9L138.2 298.9H132.9ZM147.9 296.3H162.2L163.2 298.9H148.5ZM173.1 296.3H177L178.4 298.9H174.3ZM191.8 296.3H194.2L196 298.9H193.5ZM94.5 293.8H96.7L95.8 296.3H93.5ZM135.2 293.8H147.4L147.9 296.3H135.4ZM159 293.8H163.5L164.5 296.3H159.9ZM171.8 293.8H175.6L177 296.3H173.1ZM194.4 293.8H195.4L197.3 296.3H196.4ZM132.6 291.4H146.8L147.4 293.8H132.7ZM160.3 291.4H164.5L165.6 293.8H161.3ZM172.4 291.4H176L177.5 293.8H173.7ZM192.4 291.4H194.9L197 293.8H194.4ZM146.2 289H148.5L149.1 291.4H146.8ZM159.2 289H161.3L162.4 291.4H160.3ZM176.1 289H179.3L181 291.4H177.7ZM187.3 289H192L194.1 291.4H189.3ZM158.2 286.7H162.1L163.3 289H159.2ZM145 284.5H149.1L149.9 286.7H145.6ZM159 284.5H160.8L162.1 286.7H160.1ZM113.7 282.4H117.7L117.2 284.5H113ZM130 282.4H134.2L134.4 284.5H130.1ZM146.3 282.4H148.3L149.1 284.5H147.1ZM157.7 282.4H161.3L162.7 284.5H159ZM114.3 280.4H116.2L115.7 282.4H113.7ZM133.9 280.4H137.9L138.3 282.4H134.2ZM145.6 280.4H149.3L150.2 282.4H146.3ZM158.2 280.4H159.9L161.3 282.4H159.5ZM116.8 278.4H118.7L118.2 280.4H116.2ZM133.7 278.4H139.3L139.8 280.4H133.9ZM144.8 278.4H148.4L149.3 280.4H145.6ZM156.8 278.4H160L161.5 280.4H158.2ZM119.2 276.6H126.3L126.2 278.4H118.7ZM129.9 276.6H137L137.5 278.4H129.9ZM144 276.6H149L150.1 278.4H144.8ZM155.4 276.6H159.9L161.5 278.4H156.8ZM144.8 274.9H149.5L150.7 276.6H145.7ZM155.4 274.9H158.2L159.9 276.6H156.9ZM142.4 273.2H148.3L149.5 274.9H143.2ZM155.2 273.2H157.7L159.5 274.9H156.8ZM138.6 271.7H142.9L143.9 273.2H139.3ZM155.9 271.7H158.2L160.1 273.2H157.7ZM136.6 270.2H139.3L140.1 271.7H137.2ZM156.2 270.2H158.1L160.3 271.7H158.2ZM134.8 268.9H138.5L139.3 270.2H135.2ZM155.9 268.9H157.6L159.9 270.2H158.1ZM136.6 267.7H138.9L139.8 268.9H137.3ZM156 267.7H157.3L159.9 268.9H158.4ZM135.9 266.5H140L141.1 267.7H136.6ZM154.1 266.5H156.3L159.1 267.7H156.7ZM141.5 265.5H144.8L146.6 266.5H142.9ZM150.4 265.5H151L153.5 266.5H152.8ZM151.6 265.5H155.3L158.3 266.5H154.1Z"/>
<path fill="#d86551" stroke="#d86551" d="M152.2 442.3H155.9L153.7 443.5H150.2ZM144.6 441H145.8L144.6 442.3H143.4ZM159.9 441H162.4L159.9 442.3H157.6ZM142.9 439.5H144.3L143.3 441H142ZM162.2 439.5H163.2L160.8 441H159.9ZM146.8 438H149.7L148.4 439.5H145.7ZM160.1 438H161.3L159.2 439.5H158.2ZM43.3 321.8H46.9L45.8 324.9H42.2ZM43.4 318.8H44.5L43.3 321.8H42.1ZM47 318.8H48L46.9 321.8H45.8ZM44.3 315.8H45.2L43.9 318.8H42.9ZM48.3 315.8H49.3L48 318.8H47ZM45.4 312.8H46.6L45.2 315.8H44ZM48.7 312.8H49.6L48.3 315.8H47.4ZM46.6 309.9H46.7L45.2 312.8H45.1ZM46.9 309.9H50.2L48.7 312.8H45.4ZM155.8 309.9H163.8L164.5 312.8H156.3ZM48.4 307.1H48.6L46.9 309.9H46.7ZM48.9 307.1H49.2L47.6 309.9H47.2ZM157.9 307.1H163.1L163.8 309.9H158.5ZM159.9 304.3H164.9L165.7 307.1H160.5ZM82.6 301.6H84.7L83.7 304.3H81.5ZM89.3 301.6H94L93.1 304.3H88.3ZM85.8 298.9H88L87 301.6H84.7ZM107 298.9H112.1L111.6 301.6H106.4ZM91.3 296.3H93.5L92.5 298.9H90.3ZM117.5 296.3H132.8L132.9 298.9H117.2ZM177 296.3H178.9L180.3 298.9H178.4ZM189 296.3H191.8L193.5 298.9H190.6ZM96.7 293.8H99L98.1 296.3H95.8ZM115.4 293.8H135.2L135.4 296.3H115ZM147.4 293.8H159L159.9 296.3H147.9ZM175.6 293.8H177.5L178.9 296.3H177ZM191.2 293.8H194.4L196.4 296.3H193ZM146.8 291.4H160.3L161.3 293.8H147.4ZM176 291.4H177.7L179.3 293.8H177.5ZM190.4 291.4H192.4L194.4 293.8H192.3ZM148.5 289H150.7L151.4 291.4H149.1ZM155 289H159.2L160.3 291.4H155.9ZM179.3 289H187.3L189.3 291.4H181ZM147.8 286.7H152L152.9 289H148.5ZM156.2 286.7H158.2L159.2 289H157.2ZM149.1 284.5H153.1L154.1 286.7H149.9ZM155.1 284.5H159L160.1 286.7H156.2ZM117.7 282.4H121.8L121.5 284.5H117.2ZM125.9 282.4H130L130.1 284.5H125.8ZM148.3 282.4H152.2L153.1 284.5H149.1ZM154.1 282.4H157.7L159 284.5H155.1ZM116.2 280.4H120.1L119.7 282.4H115.7ZM130 280.4H133.9L134.2 282.4H130ZM149.3 280.4H151.2L152.2 282.4H150.2ZM153 280.4H158.2L159.5 282.4H154.1ZM118.7 278.4H122.4L122.1 280.4H118.2ZM129.9 278.4H133.7L133.9 280.4H130ZM148.4 278.4H151.8L153 280.4H149.3ZM153.5 278.4H156.8L158.2 280.4H154.7ZM126.3 276.6H129.9L129.9 278.4H126.2ZM149 276.6H155.4L156.8 278.4H150.1ZM149.5 274.9H155.4L156.9 276.6H150.7ZM148.3 273.2H155.2L156.8 274.9H149.5ZM142.9 271.7H147.1L148.3 273.2H143.9ZM153.5 271.7H155.9L157.7 273.2H155.2ZM139.3 270.2H142L142.9 271.7H140.1ZM154.1 270.2H156.2L158.2 271.7H155.9ZM138.5 268.9H141L142 270.2H139.3ZM154.1 268.9H155.9L158.1 270.2H156.2ZM138.9 267.7H140L141 268.9H139.8ZM153.7 267.7H156L158.4 268.9H155.9ZM140 266.5H142L143.3 267.7H141.1ZM152.1 266.5H154.1L156.7 267.7H154.5ZM144.8 265.5H150.4L152.8 266.5H146.6ZM151 265.5H151.6L154.1 266.5H153.5Z"/>
<path fill="#c6413e" stroke="#c6413e" d="M145.8 441H148.3L146.8 442.3H144.6ZM159 441H159.9L157.6 442.3H156.8ZM144.3 439.5H145.7L144.6 441H143.3ZM161.3 439.5H162.2L159.9 441H159ZM149.7 438H151.1L149.7 439.5H148.4ZM156.5 438H160.1L158.2 439.5H154.7ZM44.5 318.8H47L45.8 321.8H43.3ZM45.2 315.8H48.3L47 318.8H43.9ZM46.6 312.8H48.7L47.4 315.8H45.2ZM84.7 301.6H89.3L88.3 304.3H83.7ZM88 298.9H107L106.4 301.6H87ZM93.5 296.3H95.8L94.8 298.9H92.5ZM115 296.3H117.5L117.2 298.9H114.6ZM178.9 296.3H189L190.6 298.9H180.3ZM99 293.8H101.2L100.4 296.3H98.1ZM113 293.8H115.4L115 296.3H112.5ZM177.5 293.8H179.3L180.8 296.3H178.9ZM189.9 293.8H191.2L193 296.3H191.8ZM177.7 291.4H179.4L181 293.8H179.3ZM189.3 291.4H190.4L192.3 293.8H191.2ZM150.7 289H155L155.9 291.4H151.4ZM152 286.7H156.2L157.2 289H152.9ZM153.1 284.5H155.1L156.2 286.7H154.1ZM121.8 282.4H125.9L125.8 284.5H121.5ZM152.2 282.4H154.1L155.1 284.5H153.1ZM120.1 280.4H130L130 282.4H119.7ZM151.2 280.4H153L154.1 282.4H152.2ZM122.4 278.4H129.9L130 280.4H122.1ZM151.8 278.4H153.5L154.7 280.4H153ZM147.1 271.7H153.5L155.2 273.2H148.3ZM142 270.2H144.6L145.7 271.7H142.9ZM151.8 270.2H154.1L155.9 271.7H153.5ZM141 268.9H142.2L143.3 270.2H142ZM152.2 268.9H154.1L156.2 270.2H154.1ZM140 267.7H142.2L143.4 268.9H141ZM152 267.7H153.7L155.9 268.9H154.1ZM142 266.5H144.8L146.4 267.7H143.3ZM149.1 266.5H152.1L154.5 267.7H151.1Z"/>
<path fill="#b3192c" stroke="#b3192c" d="M148.3 441H149.5L148 442.3H146.8ZM157.2 441H159L156.8 442.3H155ZM145.7 439.5H147.1L145.8 441H144.6ZM159.2 439.5H161.3L159 441H157.2ZM151.1 438H156.5L154.7 439.5H149.7ZM95.8 296.3H98.1L97.2 298.9H94.8ZM112.5 296.3H115L114.6 298.9H112.1ZM101.2 293.8H103.5L102.8 296.3H100.4ZM110.6 293.8H113L112.5 296.3H110.1ZM179.3 293.8H181L182.5 296.3H180.8ZM187.2 293.8H189.9L191.8 296.3H189ZM179.4 291.4H189.3L191.2 293.8H181ZM144.6 270.2H151.8L153.5 271.7H145.7ZM142.2 268.9H145.7L147.1 270.2H143.3ZM149 268.9H152.2L154.1 270.2H150.7ZM142.2 267.7H144.3L145.7 268.9H143.4ZM147.4 267.7H152L154.1 268.9H149ZM144.8 266.5H149.1L151.1 267.7H146.4Z"/>
<path fill="#8d0c25" stroke="#8d0c25" d="M149.5 441H157.2L155 442.3H148ZM147.1 439.5H149.7L148.3 441H145.8ZM157.1 439.5H159.2L157.2 441H155.1ZM98.1 296.3H100.4L99.6 298.9H97.2ZM103.5 293.8H105.9L105.2 296.3H102.8ZM181 293.8H187.2L189 296.3H182.5ZM145.7 268.9H149L150.7 270.2H147.1ZM144.3 267.7H147.4L149 268.9H145.7Z"/>
<path fill="#67001f" stroke="#67001f" d="M149.7 439.5H153.5L151.8 441H148.3ZM154.7 439.5H157.1L155.1 441H153ZM100.4 296.3H102.8L102 298.9H99.6ZM110.1 296.3H112.5L112.1 298.9H109.5ZM105.9 293.8H110.6L110.1 296.3H105.2Z"/>
<path fill="#67001f" stroke="#67001f" d="M153.5 439.5H154.7L153 441H151.8ZM102.8 296.3H110.1L109.5 298.9H102Z"/>
</g>
<polygon points="115.2,277.5 148,276.2 158.6,291.3 150,296 140.2,293.2 128.4,286.7 115.2,286.7" fill="url(#hatch)"/>
<polygon points="150,296 158.6,291.3 163.8,299.2 166.5,308.4 168,322 147,326.5 147,313 155,304" fill="url(#hatch)"/>
<polygon points="98,298 107,294.5 132.3,294 140,296 132,310 118,313 98,312" fill="url(#hatch)"/>
<polygon points="113.8,320.6 127.8,318 147,313.6 147,326.5 113.8,326.2" fill="url(#hatch)"/>
<polygon points="85.8,295.2 92.8,294.3 92.8,304.8 85.8,304.8" fill="url(#hatch)"/>
<polygon points="176.9,290.8 191,290.8 191,298.7 176.9,298.7" fill="url(#hatch)"/>
<polygon points="72,383.6 77,383.6 83,401.6 78,401.6" fill="url(#hatch)"/>
<path d="M96.7,267.1 96.3,267.2 96.0,267.4 95.7,267.5 95.4,267.6 95.6,267.5 95.9,267.4 96.2,267.3 96.5,267.2 96.8,267.1 96.6,267.2 96.5,267.3 96.1,267.6 95.7,267.8 95.3,268.0 94.9,268.3 95.4,268.3 95.7,268.3 96.0,268.3 96.3,268.3 96.6,268.3 96.9,268.3 97.3,268.3 97.7,268.3 98.0,268.3 98.4,268.3 99.2,268.1 99.9,268.0 100.6,267.8 101.3,267.7 103.4,266.8 105.4,266.0 104.6,266.5 103.8,267.1 103.1,267.7 103.8,267.6 104.4,267.5 105.0,267.4 105.7,267.4 105.8,267.7 105.9,268.0 104.9,268.7 103.9,269.5 102.9,269.8 101.9,270.1 100.8,270.3 99.8,270.6 99.1,270.8 98.3,270.9 96.9,271.5 95.4,272.0 94.0,272.6 92.5,273.2 90.9,274.1 89.3,275.0 88.9,275.8 88.6,276.6 89.1,276.7 89.7,276.9 90.4,277.0 90.7,277.6 91.1,278.2 91.8,278.3 92.6,278.4 91.8,279.4 91.1,280.4 90.9,281.9 92.1,281.9 93.1,280.6 94.2,279.4 95.7,278.4 97.3,277.5 98.3,276.6 99.3,275.7 99.6,274.9 100.0,274.0 101.1,273.0 102.2,272.0 103.0,272.1 103.7,272.1 104.5,272.2 105.0,272.5 105.6,272.9 106.2,273.2 105.6,274.0 105.1,274.9 105.9,275.0 106.6,275.1 107.4,275.3 108.5,274.5 109.6,273.8 109.8,274.9 110.0,276.2 110.4,277.0 110.8,278.0 111.5,278.7 112.4,279.4 112.9,280.1 113.5,280.9 111.8,282.0 110.1,282.6 108.4,283.2 107.1,283.2 105.9,283.2 104.7,283.2 103.5,283.2 102.3,283.7 101.1,284.2 99.2,285.2 97.2,286.1 98.6,285.7 100.0,285.3 101.5,284.9 102.9,284.5 102.9,285.6 101.6,287.3 102.4,287.8 103.8,288.1 105.3,288.4 106.8,287.3 105.2,288.8 103.4,289.3 101.5,289.9 100.3,290.3 99.0,290.8 99.8,289.0 98.8,289.0 97.5,289.6 96.1,290.2 94.2,291.0 93.3,292.6 93.8,292.9 92.1,293.3 90.5,293.8 89.0,294.3 88.1,295.7 85.9,297.6 84.8,298.9 84.2,300.9 82.3,302.2 80.9,302.9 79.6,303.6 78.1,304.6 76.6,305.7 75.3,307.8 75.1,309.9 75.0,312.1 74.6,313.6 74.2,315.0 73.1,315.5 72.6,313.6 72.5,311.4 72.7,309.9 72.8,308.5 71.1,308.9 70.3,308.4 69.6,307.9 68.6,308.1 67.6,308.2 66.5,309.6 65.2,309.5 64.2,309.1 63.3,308.8 61.6,309.6 60.4,310.5 59.2,311.4 58.4,312.8 57.6,314.3 56.9,315.8 56.2,317.3 55.7,318.6 55.3,319.9 55.1,322.0 55.0,324.2 55.9,325.4 56.6,326.2 57.6,325.9 58.6,325.6 60.3,324.2 61.2,321.8 62.6,321.4 63.9,320.9 64.9,321.2 64.2,322.7 63.5,324.2 62.6,325.7 61.9,327.7 61.2,329.6 62.2,330.0 63.3,329.9 64.4,329.8 65.5,330.5 66.6,331.2 66.2,332.8 65.8,334.4 65.5,336.0 65.1,337.6 65.6,339.0 66.2,340.4 67.9,341.2 69.9,340.1 71.1,340.7 72.3,341.4 71.0,341.7 68.9,343.6 67.2,342.5 65.5,341.7 64.4,340.5 63.4,339.2 62.6,336.8 61.3,334.4 59.9,333.6 58.7,333.2 57.5,332.8 56.6,331.2 55.7,329.6 54.8,329.8 53.9,330.0 52.7,329.2 51.7,328.5 50.7,327.5 49.9,326.5 49.2,325.3 48.5,324.2 49.0,322.2 49.5,320.3 49.6,318.0 49.8,315.8 50.0,313.8 50.3,311.9 50.6,309.9 51.3,308.4 51.9,306.8 51.7,306.6 51.5,306.4 50.4,308.5 49.7,310.4 49.0,312.3 48.5,314.3 48.0,316.5 47.5,318.8 47.5,317.7 47.5,316.5 48.0,314.3 48.7,312.1 49.2,310.3 49.8,308.5 50.7,306.7 51.6,304.8 51.8,304.0 52.1,303.1 52.4,302.2 53.3,300.7 54.3,299.2 55.2,297.8 56.2,296.4 57.2,295.0 58.8,293.2 60.4,291.4 62.1,289.6 63.9,287.8 65.3,286.5 66.7,285.2 67.7,284.2 68.7,283.3 69.8,282.4 71.2,281.2 72.7,280.0 74.3,278.9 75.9,277.8 77.5,276.7 79.2,275.7 79.9,275.2 80.7,274.7 81.6,274.2 82.4,273.7 82.7,273.6 83.0,273.4 83.3,273.2 83.6,273.0 84.0,272.8 84.4,272.6 83.5,273.1 82.6,273.6 81.8,274.1 81.6,274.2 83.3,273.2 85.1,272.3 86.9,271.3 88.7,270.4 90.5,269.6 92.2,268.9 94.0,268.1 95.8,267.5 96.2,267.3 96.6,267.1 97.1,267.0 98.0,266.6 99.0,266.3 100.1,266.0 101.2,265.6 100.6,265.8 100.1,265.9 99.6,266.1 99.2,266.2 98.7,266.4 98.3,266.6 97.9,266.7 97.4,266.8 97.1,267.0ZM115.2,269.2 114.1,270.0 112.9,270.8 111.6,271.7 110.5,271.9 109.4,272.2 108.2,272.4 107.7,272.0 107.2,271.7 106.7,271.3 106.2,271.1 105.6,270.9 105.1,270.8 104.6,270.6 106.2,269.8 107.7,269.0 109.3,268.3 109.2,267.9 109.1,267.5 109.2,267.1 108.6,267.1 107.9,267.1 107.4,267.1 106.8,267.1 106.2,267.1 106.8,266.5 107.5,266.0 108.2,265.5 108.8,265.5 109.5,265.4 110.1,265.3 110.7,265.3 111.4,265.2 112.0,265.2 112.2,265.3 112.3,265.5 112.5,265.6 112.8,265.8 112.9,266.0 113.1,266.3 113.3,266.5 113.6,266.8 113.9,267.1 114.0,267.5 114.3,267.9 114.5,268.3 114.9,268.8ZM124.1,262.3 123.8,262.2 123.5,262.2 123.3,262.1 122.9,262.1 122.6,262.1 122.2,262.2 121.9,262.2 121.5,262.2 121.2,262.2 120.8,262.3 120.5,262.3 120.1,262.3 119.8,262.3 119.4,262.4 119.0,262.4 118.7,262.4 118.3,262.4 117.0,262.7 115.7,262.9 114.3,263.2 113.0,263.5 113.0,263.7 113.2,263.8 113.5,264.0 113.7,264.1 113.9,264.1 114.1,264.1 114.4,264.2 115.4,264.0 116.3,263.7 117.3,263.5 118.2,263.3 119.0,263.2 119.7,263.0 120.4,262.9 121.1,262.8 121.7,262.7 122.3,262.6 123.0,262.5 123.5,262.4ZM98.4,267.7 98.2,267.6 97.9,267.4 97.7,267.3 97.6,267.1 98.0,266.9 98.3,266.7 98.7,266.5 99.1,266.4 99.6,266.2 100.0,266.0 102.0,265.4 104.0,264.8 104.5,264.7 105.0,264.6 105.5,264.5 106.0,264.4 106.5,264.3 107.0,264.2 107.3,264.2 107.7,264.2 108.1,264.2 108.4,264.3 108.5,264.4 108.7,264.5 109.0,264.6 107.7,264.9 106.4,265.3 105.1,265.6 103.8,266.0 102.5,266.4 101.1,266.8 99.8,267.2ZM108.0,285.9 109.3,286.3 110.5,286.6 111.8,286.9 113.1,287.0 114.5,287.0 115.0,286.0 114.5,284.8 113.6,284.2 112.8,283.7 112.8,282.8 112.8,281.9 111.0,282.9 109.8,284.0 108.7,285.0ZM67.2,320.5 68.8,319.6 70.4,318.8 71.8,318.7 73.3,318.6 74.8,319.8 76.3,320.9 77.8,322.0 79.3,323.1 77.9,323.2 76.5,323.4 75.1,323.5 74.1,322.3 73.2,321.5 72.2,320.6 70.7,319.7 69.5,320.2 68.2,320.6ZM78.5,325.9 80.8,323.5 82.7,323.6 84.7,323.7 85.6,324.6 86.5,325.6 85.1,325.9 83.6,326.2 81.9,326.8 80.2,326.3ZM73.6,325.9 74.8,326.0 76.0,326.2 75.9,326.8 74.7,326.6 73.6,326.5ZM88.2,325.7 89.3,325.8 90.4,325.9 90.1,326.5 88.0,326.5ZM118.5,263.4 119.2,263.2 120.0,263.1 120.7,263.0 121.3,262.8 122.0,262.7 122.7,262.6 123.4,262.5 124.0,262.4 124.3,262.3 124.7,262.3 125.1,262.3 125.5,262.3 125.8,262.3 126.2,262.2 126.5,262.2 126.9,262.2 127.2,262.2 127.5,262.2 127.9,262.1 128.2,262.1 128.5,262.1 128.8,262.1 129.1,262.1 129.4,262.0 129.7,262.0 129.9,262.0 130.2,262.0 130.5,262.1 130.9,262.1 131.2,262.1 131.5,262.2 131.9,262.2 132.3,262.2 132.7,262.3 133.1,262.3 133.7,262.5 134.4,262.6 135.1,262.8 135.7,263.3 136.2,263.8 137.0,264.2 137.7,264.6 137.8,265.2 137.8,265.8 138.2,266.3 138.7,266.8 138.3,267.1 137.8,267.4 137.3,267.7 136.8,268.0 136.1,268.0 135.4,268.1 134.6,268.2 133.9,268.3 133.2,268.6 132.5,269.0 131.8,269.3 131.0,269.7 130.0,269.9 129.0,270.2 128.3,271.1 127.5,272.0 126.8,273.0 126.1,274.0 125.3,273.9 124.5,273.9 123.4,273.5 122.2,273.2 121.6,272.2 121.0,271.3 120.6,270.2 120.2,269.2 120.7,268.6 121.2,268.0 121.2,267.4 121.1,266.8 121.2,266.1 121.4,265.5 121.4,264.9 121.5,264.4 121.1,264.4 120.6,264.3 120.2,264.3 119.8,264.2 119.4,264.2 119.0,264.1 118.7,264.1 118.3,264.1 118.0,264.0 118.2,263.7ZM139.6,269.9 140.1,269.6 140.7,269.3 141.5,269.3 142.4,269.4 143.2,269.4 144.1,269.4 145.0,269.3 146.7,270.2 146.4,270.5 146.0,270.8 145.3,271.1 144.5,271.4 143.3,271.2 142.2,271.1 140.9,270.4 140.2,270.1ZM172.1,300.2 170.7,299.2 169.4,298.6 167.9,298.9 167.1,297.8 166.3,296.7 166.1,295.2 165.8,293.8 165.0,292.6 164.2,291.4 165.1,290.5 166.5,290.6 167.9,290.8 169.2,290.9 170.3,290.9 171.3,290.9 171.0,289.5 170.0,287.8 168.2,286.5 167.0,286.1 165.7,285.8 165.1,285.0 165.7,284.9 166.3,284.7 167.7,284.9 166.7,283.8 167.5,283.9 168.4,284.1 169.0,283.2 169.1,282.4 169.4,281.9 168.9,280.4 169.4,280.1 170.0,279.9 170.3,279.7 170.7,279.5 169.8,278.7 168.8,278.0 167.2,276.6 167.6,276.3 167.8,276.0 168.7,276.7 169.5,277.5 170.4,278.4 172.0,279.4 172.5,279.0 173.8,279.4 174.2,279.1 174.7,278.9 175.0,278.6 176.2,279.0 175.7,278.0 173.9,276.6 173.6,276.0 174.9,276.4 173.6,275.5 172.2,274.7 172.4,274.6 172.7,274.4 172.9,274.4 173.2,274.4 173.3,274.0 172.6,273.8 172.0,273.6 171.7,273.7 171.4,273.9 171.1,273.9 170.8,274.0 169.1,273.2 167.2,272.0 166.3,271.3 165.4,270.6 164.4,269.9 163.8,269.8 163.1,269.7 164.5,270.6 165.2,271.3 165.9,272.0 167.4,273.2 169.2,274.0 170.0,274.9 170.7,275.7 171.5,276.5 172.3,277.2 172.3,277.6 172.3,278.0 171.7,278.1 170.2,277.0 168.8,276.2 167.4,275.3 165.9,274.4 166.0,275.0 166.0,275.6 165.3,275.5 164.5,275.4 163.4,274.7 162.3,274.0 161.3,273.2 160.3,272.4 160.3,271.9 160.2,271.3 160.2,270.8 160.2,270.4 159.6,269.8 159.0,269.2 158.3,268.6 157.5,268.1 157.3,267.7 157.0,267.4 157.0,267.1 157.1,266.8 157.0,266.5 157.5,266.6 157.9,266.6 158.7,266.9 159.5,267.1 160.1,267.3 160.7,267.4 161.1,267.5 161.5,267.6 161.9,267.7 163.1,268.1 164.2,268.5 165.4,268.9 166.7,269.5 166.4,269.5 166.1,269.4 165.8,269.3 165.4,269.3 165.1,269.2 164.8,269.1 166.5,269.8 168.2,270.6 168.7,270.8 169.2,270.9 169.0,270.7 168.6,270.4 166.7,269.5 166.5,269.3 166.4,269.2 165.0,268.6 163.6,268.1 164.7,268.5 165.8,268.9 165.0,268.6 164.3,268.3 164.0,268.2 163.7,268.0 163.5,267.9 163.2,267.8 162.9,267.7 162.6,267.6 162.3,267.5 164.6,268.4 166.8,269.3 169.1,270.3 171.2,271.4 173.4,272.5 175.6,273.7 177.6,274.9 179.6,276.1 181.5,277.4 183.4,278.7 185.3,280.1 187.2,281.5 189.0,283.0 190.8,284.5 192.5,286.1 194.3,287.7 195.9,289.3 197.6,291.0 199.2,292.7 200.7,294.5 202.2,296.3 203.7,298.2 205.1,300.1 206.5,302.0 207.8,303.9 209.0,305.9 210.3,308.0 211.3,309.8 212.3,311.6 213.2,313.4 214.1,315.3 215.2,317.6 216.2,320.0 217.1,322.3 218.0,324.7 218.4,326.0 218.8,327.2 219.2,328.4 219.5,329.6 219.8,330.7 220.1,331.7 220.3,332.8 220.5,333.8 220.5,334.9 220.3,334.9 219.8,333.1 219.2,331.2 218.4,328.8 217.5,326.5 216.4,324.2 215.3,321.8 214.3,319.8 213.3,317.8 212.2,315.8 210.8,313.6 209.3,311.4 208.2,309.2 209.1,311.4 208.4,310.7 206.8,308.5 205.8,306.8 206.2,306.7 206.4,306.7 205.9,305.5 205.3,304.3 204.4,302.6 203.4,300.9 202.2,299.2 202.1,299.5 202.0,299.8 201.5,299.7 201.0,299.6 200.4,299.6 199.7,299.4 199.0,299.3 197.9,298.3 196.1,296.3 194.9,294.8 195.2,294.3 195.4,293.8 195.8,293.7 196.2,293.6 196.4,293.2 196.5,292.9 196.6,292.6 197.6,293.2 198.5,293.8 198.6,293.6 198.7,293.4 198.8,293.2 197.0,291.4 196.0,290.6 195.0,289.8 193.9,289.0 192.9,287.8 191.8,286.7 192.1,287.3 192.2,287.8 193.4,289.6 192.2,288.5 190.9,287.5 190.5,287.6 191.3,288.9 192.1,290.2 193.3,292.0 194.8,293.4 194.6,293.7 194.4,294.0 193.8,294.0 193.1,294.0 192.9,294.7 194.2,296.1 195.4,297.6 196.5,299.6 195.1,298.9 193.5,297.3 191.9,295.7 190.8,294.4 189.7,293.2 188.2,292.0 186.5,291.1 184.8,290.2 183.5,289.3 182.2,288.4 181.4,288.6 182.8,290.2 185.2,292.0 186.2,292.4 187.2,292.8 188.8,293.8 190.3,294.8 189.1,294.4 190.0,296.3 190.5,297.6 190.2,297.5 189.3,295.7 187.2,294.3 186.1,293.7 185.0,293.2 183.6,292.3 182.2,291.5 180.9,290.2 179.5,289.8 179.2,290.5 178.4,290.8 177.5,291.0 176.7,291.1 175.9,291.1 176.9,292.6 176.2,293.2 175.5,293.8 175.4,295.7 176.0,297.2 175.4,299.2 174.2,299.2 172.9,299.3ZM163.1,283.3 163.9,283.2 164.7,283.0 165.6,282.9 166.5,282.7 167.3,282.4 168.0,282.2 167.2,281.8 167.0,280.7 165.7,280.4 164.5,279.4 162.6,278.4 161.4,277.5 160.6,276.8 159.7,276.1 160.2,276.1 159.6,276.0 158.9,276.0 158.5,275.2 157.8,275.2 157.2,275.2 157.3,276.2 158.8,277.5 159.8,278.0 160.1,278.6 161.2,278.5 162.3,279.4 161.7,280.1 162.5,280.9 162.2,281.6 163.1,281.7 163.9,281.9 164.5,282.2 163.4,282.4ZM158.1,281.6 159.1,281.7 160.0,281.8 160.5,281.5 161.0,281.2 160.3,279.9 160.0,278.9 158.7,278.2 158.0,278.2 157.2,278.2 157.7,279.0 156.6,279.2 157.6,280.2 157.6,281.2ZM142.3,263.0 143.7,263.2 145.0,263.5 146.4,263.8 146.2,263.6 146.0,263.5 145.6,263.3 145.3,263.2 144.9,263.1 144.5,262.9 144.1,262.8 143.7,262.8 143.4,262.8 143.1,262.7 142.8,262.7 142.5,262.7 142.4,262.9ZM187.9,297.6 189.0,297.5 190.0,297.3 191.0,299.3 189.6,298.7 188.2,298.1ZM182.0,293.8 183.2,293.8 184.0,295.0 184.7,296.2 183.7,296.3 182.9,295.0ZM180.8,291.5 181.5,291.5 182.7,293.3 182.0,293.2ZM197.5,300.8 198.5,301.0 199.4,301.2 199.6,301.6 198.8,301.4 197.9,301.3ZM202.4,301.4 202.6,301.0 202.8,300.6 203.3,301.7 202.9,302.0ZM171.8,300.5 173.4,300.8 174.9,301.0 176.4,301.3 177.3,300.9 178.1,300.5 179.3,299.8 180.4,299.2 181.7,299.1 182.9,299.0 184.0,298.9 185.2,298.7 186.4,298.5 187.5,298.9 187.9,300.2 188.3,301.6 189.7,303.2 191.3,304.4 192.8,304.8 194.2,305.1 195.4,306.1 196.7,307.1 197.8,307.4 198.9,307.8 198.2,305.7 198.9,305.2 199.6,304.7 200.6,305.4 201.6,306.1 202.6,306.4 203.5,306.8 204.4,307.1 204.7,306.7 204.9,306.4 205.8,306.8 206.8,308.5 207.8,309.9 208.7,311.4 209.8,313.1 210.8,314.8 211.8,316.5 213.1,318.8 214.4,321.1 215.2,323.0 215.9,324.9 216.9,327.3 217.9,329.6 218.6,331.2 219.3,332.8 219.8,334.0 220.3,335.2 220.7,336.8 221.0,337.6 221.3,338.4 221.3,337.9 221.3,337.3 221.3,337.0 221.3,336.7 221.2,336.3 221.6,338.4 222.0,340.4 222.3,342.5 222.5,344.4 222.7,346.3 222.9,348.2 222.9,350.1 222.8,352.0 222.7,354.0 222.5,355.6 222.3,357.2 222.0,359.3 221.6,361.4 221.3,363.4 221.0,365.4 220.8,367.9 220.5,370.3 220.4,372.0 220.2,373.6 219.8,375.7 219.3,377.9 218.8,380.0 218.0,381.6 217.2,383.1 216.3,384.7 215.4,386.3 214.5,387.8 213.9,389.6 213.3,391.4 212.6,393.2 211.5,394.7 210.3,396.2 209.4,398.0 208.5,399.8 206.8,402.0 205.1,404.1 203.7,405.5 202.3,406.9 201.2,407.6 200.1,408.3 199.3,408.4 198.6,408.5 197.8,408.5 196.9,409.0 196.0,409.4 195.7,409.0 195.4,408.5 196.0,407.4 196.6,406.2 197.2,404.5 197.8,402.7 197.9,401.3 198.0,399.8 198.3,398.0 198.6,396.2 199.2,394.4 199.7,392.7 200.1,390.9 200.2,388.8 200.1,386.8 200.1,384.7 200.1,383.1 200.2,381.6 201.2,379.5 202.1,377.3 203.1,375.2 203.3,372.8 203.5,370.3 203.3,367.9 203.0,365.4 202.5,363.8 202.0,362.2 201.2,360.1 200.4,358.1 200.5,356.0 200.6,354.0 200.7,351.9 200.8,349.8 199.7,348.2 198.4,348.4 197.1,348.5 195.9,347.0 194.6,345.4 193.2,345.3 191.7,345.3 189.9,346.2 188.0,347.1 186.8,347.2 185.5,347.4 184.2,347.4 182.8,347.4 181.2,347.9 179.5,348.4 177.3,347.4 175.9,346.0 174.4,344.6 172.8,343.1 171.3,341.7 170.4,339.6 168.1,337.6 166.7,336.4 165.4,335.2 164.6,333.4 163.9,331.7 165.1,329.6 165.0,327.3 164.8,324.9 164.1,323.4 163.4,321.8 163.8,319.9 164.1,318.0 164.8,316.2 165.4,314.3 166.2,313.0 166.8,311.7 167.9,310.9 169.0,310.2 170.1,308.8 169.8,307.6 169.5,306.4 169.8,305.1 170.1,303.9 170.9,303.3 171.7,302.8 171.8,301.6ZM221.1,375.2 220.7,377.1 220.3,378.9 219.8,380.8 219.2,382.7 218.6,384.7 217.8,386.9 217.0,389.1 216.2,391.2 215.3,393.3 214.3,395.4 214.0,395.8 213.7,396.2 214.5,394.3 215.2,392.4 216.1,390.1 217.0,387.8 217.7,386.0 218.3,384.2 218.9,382.4 219.3,381.6 219.6,380.8 220.1,379.2 220.5,377.6ZM72.3,341.4 74.4,340.1 75.2,338.1 76.6,337.6 78.4,336.7 80.2,335.7 80.7,337.6 81.2,335.2 83.0,335.5 84.9,337.3 85.5,338.3 87.0,338.3 88.4,338.3 90.6,338.9 92.4,338.5 94.3,338.1 95.7,339.6 96.4,341.7 98.6,342.5 99.7,344.0 100.8,345.4 102.8,345.6 104.8,345.8 106.7,346.4 108.7,347.1 110.6,348.7 111.6,350.7 112.7,352.6 112.6,354.1 112.6,355.6 115.1,357.2 116.7,356.8 118.7,357.4 120.8,358.1 122.4,360.0 124.5,360.2 126.5,360.4 129.0,360.2 131.5,361.7 133.9,363.6 135.3,364.0 136.7,364.3 137.1,365.9 137.5,367.4 137.1,368.9 136.8,370.3 135.7,371.7 134.7,373.1 133.0,375.2 131.4,376.8 131.0,378.4 130.6,380.0 130.6,382.0 130.6,383.9 130.0,385.5 129.5,387.0 128.6,388.6 127.8,390.1 126.0,392.4 124.1,392.6 122.2,392.7 120.7,393.5 119.3,394.2 118.0,395.2 116.7,396.2 116.6,398.0 116.6,399.8 115.7,401.3 114.8,402.7 113.6,404.3 112.4,405.8 111.6,407.0 110.8,408.3 109.0,409.5 107.7,409.2 106.3,409.0 104.3,408.3 105.6,409.8 106.8,411.4 106.7,412.6 106.6,413.9 105.5,414.2 104.5,414.6 103.0,414.8 101.6,414.9 101.8,416.2 102.0,417.4 100.5,417.4 99.0,417.4 100.2,419.2 100.3,420.7 100.5,422.2 99.7,422.9 98.9,423.6 100.2,424.5 101.5,425.4 101.0,426.6 100.6,427.8 100.6,429.3 101.7,430.2 103.1,431.0 104.5,431.7 105.8,432.5 105.0,433.0 104.3,433.2 103.7,433.4 102.3,432.9 100.8,432.3 99.7,431.8 98.5,431.3 97.0,430.3 95.5,429.3 94.5,428.1 93.4,426.9 92.3,425.6 92.1,424.5 91.9,423.4 91.4,421.6 91.0,419.8 90.2,418.6 89.5,417.4 89.1,416.2 88.8,414.9 88.1,413.6 87.4,412.3 87.3,411.0 87.3,409.6 87.4,408.3 87.6,406.9 87.0,404.8 86.4,402.7 86.1,401.3 85.8,399.8 85.7,397.6 85.7,395.4 85.4,393.2 85.1,390.9 84.6,389.1 84.2,387.2 83.8,385.3 82.5,384.2 81.3,383.1 79.1,381.9 76.9,380.6 75.8,379.1 74.6,377.6 73.3,375.2 72.2,373.2 71.2,371.1 70.2,369.3 69.2,367.4 67.3,365.4 67.1,364.1 67.0,362.7 68.5,361.0 67.4,359.4 67.8,357.2 68.1,355.8 68.5,354.3 70.0,353.1 70.9,351.2 71.8,349.4 71.9,347.1 72.0,344.9 72.2,343.1ZM107.9,429.1 109.3,429.1 110.8,429.1 111.2,430.0 109.7,430.0 108.3,430.0ZM103.0,446.2 103.3,446.2 103.7,446.2 103.9,446.2 104.2,446.2 104.4,446.3 104.7,446.3 105.0,446.3 105.3,446.4 105.2,446.2 105.1,446.0 105.1,445.7 105.5,445.7 105.9,445.7 106.2,445.7 106.6,445.7 107.0,445.7 107.5,445.7 107.9,445.7 108.4,445.7 109.0,445.8 109.5,445.8 110.1,445.8 110.6,445.9 111.2,445.9 111.8,445.9 112.0,445.8 112.2,445.7 112.5,445.6 112.8,445.4 112.7,445.1 112.7,444.8 112.8,444.5 112.9,444.1 112.4,443.4 112.1,442.6 112.2,442.0 112.5,441.3 113.0,440.8 113.5,440.3 114.3,440.1 115.0,440.0 115.8,439.9 116.6,439.8 116.2,440.2 115.8,440.6 115.4,441.0 115.0,441.3 115.2,442.3 115.2,442.9 115.3,443.5 116.7,444.4 118.1,445.2 119.1,445.8 120.0,446.4 121.2,447.0 121.9,447.1 122.6,447.2 123.2,447.3 123.8,447.4 124.4,447.5 125.0,447.6 125.6,447.7 126.1,447.8 126.6,447.8 127.1,447.8 127.6,447.8 128.1,447.9 128.5,447.9 129.0,447.9 129.4,447.9 129.8,447.8 130.3,447.8 130.7,447.7 131.3,447.6 131.8,447.5 132.4,447.3 133.1,447.2 133.7,447.0 134.4,446.8 135.1,446.7 135.8,446.5 136.6,446.3 137.4,446.1 138.2,445.9 138.9,445.8 139.7,445.6 140.5,445.4 141.3,445.3 142.2,445.1 143.0,444.9 143.8,444.9 144.5,444.8 145.3,444.7 146.0,444.6 146.8,444.6 147.5,444.5 148.2,444.3 149.0,444.2 149.7,444.1 150.3,444.1 150.9,444.1 151.5,444.1 152.1,444.1 152.6,444.1 153.2,444.1 153.7,444.1 154.2,444.1 154.7,444.1 155.2,444.1 155.6,444.1 156.1,444.1 156.5,444.1 156.9,444.1 157.4,444.1 157.9,444.0 158.3,444.0 158.8,444.0 159.2,443.9 159.6,443.9 160.0,443.8 160.4,443.8 160.8,443.7 161.2,443.6 161.6,443.5 162.0,443.5 162.3,443.4 162.7,443.3 163.0,443.2 163.4,443.1 163.8,443.0 164.1,442.9 164.5,442.8 164.8,442.7 165.2,442.6 165.5,442.4 165.8,442.3 165.6,442.4 165.2,442.6 165.0,442.6 164.8,442.7 164.6,442.8 162.3,443.7 160.0,444.5 157.7,445.3 155.4,446.0 153.1,446.7 150.7,447.3 148.4,447.8 146.0,448.3 143.6,448.7 141.2,449.0 138.8,449.3 136.4,449.5 134.0,449.7 131.6,449.8 129.2,449.8 128.9,449.8 126.5,449.8 124.1,449.7 121.7,449.5 119.3,449.3 117.0,449.0 114.6,448.7 112.3,448.3 110.0,447.9 107.6,447.3 105.3,446.8Z" fill="#222222"/>
</g>
<circle cx="129.0" cy="355.6" r="94.2" fill="none" stroke="#b0b0b0" stroke-width="0.6"/>
<clipPath id="clipj"><circle cx="348.6" cy="355.6" r="94.2"/></clipPath>
<g clip-path="url(#clipj)">
<g stroke-width="0.35">
<path fill="#053061" stroke="#053061" d="M417.3 380H419.3L418.6 383.1H416.6ZM415.7 376.8H417.9L417.3 380H415.1Z"/>
<path fill="#134c87" stroke="#134c87" d="M387.3 412.3H391.8L390.6 414.9H386.3ZM386 409.6H390.6L389.6 412.3H385.1ZM416.6 383.1H418.6L417.8 386.3H415.8ZM415.1 380H417.3L416.6 383.1H414.5ZM417.9 376.8H419.9L419.3 380H417.3ZM416.2 373.6H418.4L417.9 376.8H415.7Z"/>
<path fill="#2267ac" stroke="#2267ac" d="M383.1 417.4H397.1L395.6 419.8H382ZM379.5 414.9H398.5L397.1 417.4H378.6ZM380.4 412.3H387.3L386.3 414.9H379.5ZM391.8 412.3H398L396.6 414.9H390.6ZM381.2 409.6H386L385.1 412.3H380.4ZM390.6 409.6H397.2L395.9 412.3H389.6ZM384.5 406.9H386.9L386 409.6H383.6ZM389.3 406.9H391.6L390.6 409.6H388.3ZM414.5 383.1H416.6L415.8 386.3H413.7ZM418.6 383.1H420.5L419.7 386.3H417.8ZM419.3 380H421.3L420.5 383.1H418.6ZM413.5 376.8H415.7L415.1 380H412.9ZM419.9 376.8H421.9L421.3 380H419.3ZM414 373.6H416.2L415.7 376.8H413.5ZM418.4 373.6H420.5L419.9 376.8H417.9ZM416.6 370.3H418.8L418.4 373.6H416.2Z"/>
<path fill="#3480b9" stroke="#3480b9" d="M355.8 428.8H363.9L363.3 430.8H355.5ZM384.9 422.2H388.7L387.3 424.5H383.6ZM392.3 422.2H394L392.4 424.5H390.7ZM328.5 419.8H330.8L331.4 422.2H329.1ZM377.7 419.8H399L397.3 422.2H376.8ZM376.4 417.4H383.1L382 419.8H375.5ZM397.1 417.4H400.6L399 419.8H395.6ZM374.8 414.9H379.5L378.6 417.4H374.1ZM398.5 414.9H402.1L400.6 417.4H397.1ZM375.6 412.3H380.4L379.5 414.9H374.8ZM398 412.3H403.6L402.1 414.9H396.6ZM373.7 409.6H381.2L380.4 412.3H373.1ZM397.2 409.6H401.2L399.9 412.3H395.9ZM376.9 406.9H384.5L383.6 409.6H376.3ZM386.9 406.9H389.3L388.3 409.6H386ZM391.6 406.9H398.3L397.2 409.6H390.6ZM415.8 386.3H419.7L418.8 389.4H415ZM412.9 380H415.1L414.5 383.1H412.3ZM411.7 373.6H414L413.5 376.8H411.2ZM420.5 373.6H422.4L421.9 376.8H419.9ZM414.4 370.3H416.6L416.2 373.6H414ZM418.8 370.3H420.9L420.5 373.6H418.4Z"/>
<path fill="#4997c5" stroke="#4997c5" d="M358.9 432.8H362.6L361.9 434.6H358.4ZM364.4 432.8H366.2L365.3 434.6H363.6ZM298.1 430.8H299L301.3 432.8H300.5ZM300 430.8H301.1L303.3 432.8H302.3ZM304.5 430.8H305.8L307.8 432.8H306.6ZM351.6 430.8H370.8L369.7 432.8H351.4ZM296.8 428.8H298.9L301.1 430.8H299ZM300 428.8H306.7L308.5 430.8H302.2ZM347.6 428.8H355.8L355.5 430.8H347.6ZM363.9 428.8H371.8L370.8 430.8H363.3ZM296.8 426.7H306.5L308.2 428.8H298.9ZM347.5 426.7H374.7L373.7 428.8H347.6ZM298.7 424.5H309.9L311.4 426.7H300.6ZM321.4 424.5H336.3L336.8 426.7H322.5ZM349.7 424.5H397.1L395.2 426.7H349.7ZM299.9 422.2H310.4L311.8 424.5H301.6ZM318.4 422.2H338.2L338.5 424.5H319.4ZM349.8 422.2H384.9L383.6 424.5H349.7ZM388.7 422.2H392.3L390.7 424.5H387.3ZM394 422.2H401.8L399.9 424.5H392.4ZM301.6 419.8H303.4L304.9 422.2H303.2ZM317.3 419.8H328.5L329.1 422.2H318.4ZM330.8 419.8H337.8L338.2 422.2H331.4ZM352.2 419.8H377.7L376.8 422.2H352.1ZM399 419.8H406.4L404.5 422.2H397.3ZM318.6 417.4H335L335.5 419.8H319.5ZM359.7 417.4H376.4L375.5 419.8H359.4ZM400.6 417.4H406.8L405 419.8H399ZM327.2 414.9H329.7L330.2 417.4H327.8ZM365.1 414.9H374.8L374.1 417.4H364.6ZM402.1 414.9H407.1L405.4 417.4H400.6ZM368.1 412.3H375.6L374.8 414.9H367.5ZM403.6 412.3H407.1L405.5 414.9H402.1ZM371.2 409.6H373.7L373.1 412.3H370.6ZM401.2 409.6H406.8L405.4 412.3H399.9ZM371.7 406.9H376.9L376.3 409.6H371.2ZM398.3 406.9H404.5L403.2 409.6H397.2ZM377.5 404.1H397.2L396.1 406.9H376.9ZM413.7 386.3H415.8L415 389.4H412.9ZM419.7 386.3H421.6L420.6 389.4H418.8ZM412.3 383.1H414.5L413.7 386.3H411.6ZM420.5 383.1H422.4L421.6 386.3H419.7ZM410.7 380H412.9L412.3 383.1H410ZM421.3 380H423.1L422.4 383.1H420.5ZM411.2 376.8H413.5L412.9 380H410.7ZM421.9 376.8H423.8L423.1 380H421.3ZM412.1 370.3H414.4L414 373.6H411.7ZM414.7 367.1H419.2L418.8 370.3H414.4Z"/>
<path fill="#75b2d4" stroke="#75b2d4" d="M297.9 434.6H309.9L312 436.3H300.7ZM347.7 434.6H365.3L364.4 436.3H347.8ZM295 432.8H316.1L317.7 434.6H297.7ZM322.4 432.8H324.1L325.3 434.6H323.7ZM342 432.8H358.9L358.4 434.6H342.3ZM362.6 432.8H364.4L363.6 434.6H361.9ZM366.2 432.8H376.4L375 434.6H365.3ZM378 432.8H379.6L378 434.6H376.5ZM384 432.8H385.4L383.6 434.6H382.3ZM399.7 432.8H400.3L397.7 434.6H397.1ZM293.8 430.8H298.1L300.5 432.8H296.4ZM299 430.8H300L302.3 432.8H301.3ZM301.1 430.8H304.5L306.6 432.8H303.3ZM305.8 430.8H322.9L324.1 432.8H307.8ZM324.6 430.8H330.1L331 432.8H325.8ZM332 430.8H333.9L334.6 432.8H332.8ZM337.8 430.8H351.6L351.4 432.8H338.3ZM370.8 430.8H387.3L385.4 432.8H369.7ZM388.7 430.8H396.1L393.9 432.8H386.8ZM399.1 430.8H403.4L400.8 432.8H396.7ZM405.1 430.8H405.3L402.6 432.8H402.4ZM292.5 428.8H296.8L299 430.8H295ZM298.9 428.8H300L302.2 430.8H301.1ZM306.7 428.8H347.6L347.6 430.8H308.5ZM371.8 428.8H401.4L399.1 430.8H370.8ZM402.3 428.8H403.9L401.5 430.8H400ZM405.3 428.8H405.9L403.4 430.8H402.8ZM406.4 428.8H407.4L404.9 430.8H403.8ZM407.9 428.8H407.9L405.3 430.8H405.3ZM291.7 426.7H296.8L298.9 428.8H294ZM306.5 426.7H347.5L347.6 428.8H308.2ZM374.7 426.7H408.8L406.4 428.8H373.7ZM409.3 426.7H410.2L407.7 428.8H406.8ZM410.4 426.7H410.4L407.9 428.8H407.9ZM290.4 424.5H298.7L300.6 426.7H292.6ZM309.9 424.5H321.4L322.5 426.7H311.4ZM336.3 424.5H349.7L349.7 426.7H336.8ZM397.1 424.5H410.7L408.3 426.7H395.2ZM411.2 424.5H411.7L409.3 426.7H408.8ZM412.1 424.5H412.8L410.4 426.7H409.6ZM289.3 422.2H299.9L301.6 424.5H291.4ZM310.4 422.2H318.4L319.4 424.5H311.8ZM338.2 422.2H349.8L349.7 424.5H338.5ZM401.8 422.2H412.9L410.7 424.5H399.9ZM413.5 422.2H414.7L412.4 424.5H411.2ZM288.3 419.8H289.5L291.5 422.2H290.3ZM290.8 419.8H301.6L303.2 422.2H292.7ZM303.4 419.8H317.3L318.4 422.2H304.9ZM337.8 419.8H352.2L352.1 422.2H338.2ZM406.4 419.8H415.1L412.9 422.2H404.5ZM416.2 419.8H417L414.7 422.2H414ZM417.4 419.8H417.5L415.2 422.2H415.1ZM289 417.4H290.4L292.2 419.8H290.8ZM291.8 417.4H318.6L319.5 419.8H293.6ZM335 417.4H359.7L359.4 419.8H335.5ZM406.8 417.4H415L412.9 419.8H405ZM419.2 417.4H419.4L417.2 419.8H417ZM419.7 417.4H419.7L417.5 419.8H417.5ZM295.1 414.9H327.2L327.8 417.4H296.6ZM329.7 414.9H365.1L364.6 417.4H330.2ZM407.1 414.9H414.9L413 417.4H405.4ZM307.6 412.3H309.9L310.9 414.9H308.7ZM316.8 412.3H336.8L337.1 414.9H317.7ZM344.7 412.3H347.3L347.3 414.9H344.8ZM355.2 412.3H368.1L367.5 414.9H355ZM407.1 412.3H413.1L411.4 414.9H405.5ZM347.3 409.6H349.9L349.9 412.3H347.3ZM358 409.6H371.2L370.6 412.3H357.8ZM406.8 409.6H410.2L408.7 412.3H405.4ZM361 406.9H371.7L371.2 409.6H360.7ZM404.5 406.9H410L408.6 409.6H403.2ZM369.5 404.1H377.5L376.9 406.9H369ZM397.2 404.1H401.6L400.4 406.9H396.1ZM383.4 401.3H388.5L387.7 404.1H382.7ZM415 389.4H420.6L419.6 392.4H414ZM421.6 386.3H423.3L422.4 389.4H420.6ZM410 383.1H412.3L411.6 386.3H409.3ZM422.4 383.1H424.2L423.3 386.3H421.6ZM401.2 376.8H403.8L403.4 380H400.8ZM406.4 376.8H411.2L410.7 380H405.9ZM399 373.6H411.7L411.2 376.8H398.6ZM422.4 373.6H424.3L423.8 376.8H421.9ZM399.3 370.3H412.1L411.7 373.6H399ZM420.9 370.3H422.9L422.4 373.6H420.5ZM409.9 367.1H414.7L414.4 370.3H409.6ZM419.2 367.1H421.3L420.9 370.3H418.8ZM353.5 347.4H363.3L363.3 350.7H353.5ZM356.7 344.1H360L360 347.4H356.8ZM334.3 267.7H335.4L334.2 268.9H333ZM334.7 266.5H335.6L334.3 267.7H333.3Z"/>
<path fill="#9bc9e0" stroke="#9bc9e0" d="M302.7 436.3H310.9L313.1 438H305.4ZM309.9 434.6H347.7L347.8 436.3H312ZM365.3 434.6H373.5L372.1 436.3H364.4ZM376.5 434.6H399.9L397.1 436.3H375ZM316.1 432.8H322.4L323.7 434.6H317.7ZM324.1 432.8H342L342.3 434.6H325.3ZM376.4 432.8H378L376.5 434.6H375ZM379.6 432.8H384L382.3 434.6H378ZM385.4 432.8H399.7L397.1 434.6H383.6ZM400.3 432.8H402.6L399.9 434.6H397.7ZM322.9 430.8H324.6L325.8 432.8H324.1ZM330.1 430.8H332L332.8 432.8H331ZM333.9 430.8H337.8L338.3 432.8H334.6ZM387.3 430.8H388.7L386.8 432.8H385.4ZM396.1 430.8H399.1L396.7 432.8H393.9ZM403.4 430.8H405.1L402.4 432.8H400.8ZM405.3 430.8H405.3L402.6 432.8H402.6ZM401.4 428.8H402.3L400 430.8H399.1ZM403.9 428.8H405.3L402.8 430.8H401.5ZM405.9 428.8H406.4L403.8 430.8H403.4ZM407.4 428.8H407.9L405.3 430.8H404.9ZM408.8 426.7H409.3L406.8 428.8H406.4ZM410.2 426.7H410.4L407.9 428.8H407.7ZM410.7 424.5H411.2L408.8 426.7H408.3ZM411.7 424.5H412.1L409.6 426.7H409.3ZM412.8 424.5H412.8L410.4 426.7H410.4ZM412.9 422.2H413.5L411.2 424.5H410.7ZM414.7 422.2H415.2L412.8 424.5H412.4ZM287.2 419.8H288.3L290.3 422.2H289.3ZM289.5 419.8H290.8L292.7 422.2H291.5ZM415.1 419.8H416.2L414 422.2H412.9ZM417 419.8H417.4L415.1 422.2H414.7ZM417.5 419.8H417.5L415.2 422.2H415.2ZM286.4 417.4H289L290.8 419.8H288.3ZM290.4 417.4H291.8L293.6 419.8H292.2ZM415 417.4H419.2L417 419.8H412.9ZM419.4 417.4H419.7L417.5 419.8H417.2ZM284.6 414.9H295.1L296.6 417.4H286.4ZM414.9 414.9H421.8L419.7 417.4H413ZM282.8 412.3H307.6L308.7 414.9H284.6ZM309.9 412.3H316.8L317.7 414.9H310.9ZM336.8 412.3H344.7L344.8 414.9H337.1ZM347.3 412.3H355.2L355 414.9H347.3ZM413.1 412.3H423.8L421.8 414.9H411.4ZM281.1 409.6H347.3L347.3 412.3H282.8ZM349.9 409.6H358L357.8 412.3H349.9ZM410.2 409.6H425.8L423.8 412.3H408.7ZM280.9 406.9H285.5L287 409.6H282.5ZM305.6 406.9H333.5L333.9 409.6H306.6ZM336.2 406.9H361L360.7 409.6H336.5ZM410 406.9H427.6L425.8 409.6H408.6ZM279.4 404.1H280.9L282.3 406.9H280.9ZM314.5 404.1H325L325.5 406.9H315.2ZM344.4 404.1H369.5L369 406.9H344.5ZM401.6 404.1H429.3L427.6 406.9H400.4ZM364.3 401.3H383.4L382.7 404.1H364ZM388.5 401.3H400.4L399.4 404.1H387.7ZM416 392.4H421.3L420.2 395.4H414.9ZM412.9 389.4H415L414 392.4H412ZM420.6 389.4H422.4L421.3 392.4H419.6ZM411.6 386.3H413.7L412.9 389.4H410.8ZM423.3 386.3H424.9L424 389.4H422.4ZM400.8 380H410.7L410 383.1H400.3ZM423.1 380H424.9L424.2 383.1H422.4ZM395.9 376.8H401.2L400.8 380H395.5ZM403.8 376.8H406.4L405.9 380H403.4ZM423.8 376.8H425.6L424.9 380H423.1ZM281 373.6H285.5L286 376.8H281.5ZM390.6 373.6H399L398.6 376.8H390.3ZM278.4 370.3H287.6L287.9 373.6H278.8ZM393.7 370.3H399.3L399 373.6H393.4ZM422.9 370.3H424.8L424.3 373.6H422.4ZM278 367.1H287.3L287.6 370.3H278.4ZM393.9 367.1H409.9L409.6 370.3H393.7ZM421.3 367.1H423.3L422.9 370.3H420.9ZM277.8 363.8H289.5L289.8 367.1H278ZM399.7 363.8H421.5L421.3 367.1H399.5ZM277.6 360.5H289.4L289.5 363.8H277.8ZM410.3 360.5H419.6L419.4 363.8H410.2ZM277.5 357.2H289.3L289.4 360.5H277.6ZM279.7 354H286.8L286.8 357.2H279.7ZM343.7 350.7H360.1L360.1 354H343.7ZM327.5 347.4H330.7L330.7 350.7H327.4ZM333.9 347.4H353.5L353.5 350.7H333.9ZM363.3 347.4H369.7L369.8 350.7H363.3ZM334 344.1H356.7L356.8 347.4H333.9ZM360 344.1H372.8L372.9 347.4H360ZM347 340.9H350.2L350.2 344.1H347ZM353.5 340.9H359.9L360 344.1H353.5ZM321.1 273.2H322.4L320.8 274.9H319.4ZM333 268.9H335.4L334.3 270.2H331.8ZM332.2 267.7H334.3L333 268.9H330.8ZM335.4 267.7H337.6L336.6 268.9H334.2ZM332.8 266.5H334.7L333.3 267.7H331.2ZM335.6 266.5H337.6L336.5 267.7H334.3ZM334.4 265.5H335.2L333.7 266.5H332.8Z"/>
<path fill="#bddbea" stroke="#bddbea" d="M307.2 438H314.1L316.3 439.5H309.8ZM310.9 436.3H364.4L363.5 438H313.1ZM387.3 436.3H397.1L394.3 438H385.1ZM373.5 434.6H376.5L375 436.3H372.1ZM285.5 406.9H305.6L306.6 409.6H287ZM333.5 406.9H336.2L336.5 409.6H333.9ZM280.9 404.1H289.5L290.8 406.9H282.3ZM302.3 404.1H314.5L315.2 406.9H303.3ZM325 404.1H344.4L344.5 406.9H325.5ZM279.5 401.3H284.6L285.8 404.1H280.9ZM308.7 401.3H324.5L325 404.1H309.5ZM341.4 401.3H364.3L364 404.1H341.6ZM400.4 401.3H431L429.3 404.1H399.4ZM361.7 398.4H386.7L386 401.3H361.5ZM411.9 398.4H427L425.5 401.3H410.8ZM429.7 398.4H430.4L428.9 401.3H428.2ZM431.5 398.4H432.2L430.7 401.3H430ZM432.5 398.4H432.5L431 401.3H431ZM414.9 395.4H424.7L423.4 398.4H413.8ZM412 392.4H416L414.9 395.4H411ZM421.3 392.4H424.4L423.3 395.4H420.2ZM410.8 389.4H412.9L412 392.4H409.9ZM422.4 389.4H424L422.9 392.4H421.3ZM409.3 386.3H411.6L410.8 389.4H408.6ZM424.9 386.3H426.5L425.5 389.4H424ZM397.7 383.1H410L409.3 386.3H397.1ZM424.2 383.1H425.8L424.9 386.3H423.3ZM392.7 380H400.8L400.3 383.1H392.3ZM424.9 380H426.6L425.8 383.1H424.2ZM277.3 376.8H288.4L288.9 380H277.9ZM390.3 376.8H395.9L395.5 380H389.9ZM425.6 376.8H427.3L426.6 380H424.9ZM274.8 373.6H281L281.5 376.8H275.3ZM285.5 373.6H290.4L290.8 376.8H286ZM387.7 373.6H390.6L390.3 376.8H387.4ZM424.3 373.6H426.2L425.6 376.8H423.8ZM274.3 370.3H278.4L278.8 373.6H274.8ZM287.6 370.3H292.6L293 373.6H287.9ZM385 370.3H393.7L393.4 373.6H384.7ZM424.8 370.3H426.6L426.2 373.6H424.3ZM275.9 367.1H278L278.4 370.3H276.3ZM287.3 367.1H292.3L292.6 370.3H287.6ZM388.1 367.1H393.9L393.7 370.3H387.9ZM423.3 367.1H425.2L424.8 370.3H422.9ZM273.7 363.8H277.8L278 367.1H273.9ZM289.5 363.8H294.8L295 367.1H289.8ZM388.3 363.8H399.7L399.5 367.1H388.1ZM421.5 363.8H425.5L425.2 367.1H421.3ZM275.5 360.5H277.6L277.8 363.8H275.7ZM289.4 360.5H297.4L297.5 363.8H289.5ZM391.3 360.5H410.3L410.2 363.8H391.2ZM419.6 360.5H423.7L423.5 363.8H419.4ZM425.7 360.5H427.5L427.3 363.8H425.5ZM275.4 357.2H277.5L277.6 360.5H275.5ZM289.3 357.2H297.3L297.4 360.5H289.4ZM300.1 357.2H302.9L303 360.5H300.1ZM311.8 357.2H321.1L321.1 360.5H311.8ZM327.4 357.2H330.6L330.7 360.5H327.4ZM397.1 357.2H427.6L427.5 360.5H397.1ZM429.3 357.2H432.5L432.4 360.5H429.2ZM435.3 357.2H437.7L437.5 360.5H435.2ZM442.1 357.2H442.4L442.3 360.5H442ZM442.8 357.2H442.8L442.7 360.5H442.7ZM275.4 354H279.7L279.7 357.2H275.4ZM286.8 354H308.8L308.8 357.2H286.8ZM311.8 354H337.1L337.1 357.2H311.8ZM340.4 354H343.7L343.7 357.2H340.4ZM360.1 354H363.3L363.3 357.2H360.1ZM397.1 354H427.6L427.6 357.2H397.1ZM432.5 354H434L434 357.2H432.5ZM435.3 354H436.5L436.5 357.2H435.3ZM437.7 354H438.7L438.7 357.2H437.7ZM440.4 354H442.1L442.1 357.2H440.4ZM442.4 354H442.8L442.8 357.2H442.4ZM275.5 350.7H343.7L343.7 354H275.4ZM360.1 350.7H366.5L366.6 354H360.1ZM394.2 350.7H410.3L410.4 354H394.3ZM419.6 350.7H430.9L431 354H419.7ZM432.4 350.7H433.9L434 354H432.5ZM436.4 350.7H437.5L437.7 354H436.5ZM438.6 350.7H440.9L441.1 354H438.7ZM442 350.7H442.7L442.8 354H442.1ZM273.7 347.4H327.5L327.4 350.7H273.5ZM330.7 347.4H333.9L333.9 350.7H330.7ZM369.7 347.4H376L376.1 350.7H369.8ZM385.3 347.4H407.7L407.8 350.7H385.4ZM423.5 347.4H429L429.2 350.7H423.7ZM430.7 347.4H440.7L440.9 350.7H430.9ZM441.3 347.4H442.1L442.3 350.7H441.5ZM273.9 344.1H334L333.9 347.4H273.7ZM372.8 344.1H407.4L407.7 347.4H372.9ZM421.3 344.1H423.3L423.5 347.4H421.5ZM425.2 344.1H428.7L429 347.4H425.5ZM430.4 344.1H433.3L433.6 347.4H430.7ZM434.7 344.1H435.9L436.2 347.4H435ZM437 344.1H439.7L440 347.4H437.3ZM440.4 344.1H442.1L442.4 347.4H440.7ZM276.3 340.9H278.4L278 344.1H275.9ZM282.8 340.9H290L289.8 344.1H282.5ZM292.6 340.9H347L347 344.1H292.3ZM350.2 340.9H353.5L353.5 344.1H350.2ZM359.9 340.9H409.6L409.9 344.1H360ZM418.8 340.9H420.9L421.3 344.1H419.2ZM424.8 340.9H426.6L427 344.1H425.2ZM428.4 340.9H432.9L433.3 344.1H428.7ZM434.2 340.9H435.5L435.9 344.1H434.7ZM436.6 340.9H438.5L438.9 344.1H437ZM439.3 340.9H441.5L442 344.1H439.7ZM441.6 340.9H441.6L442.1 344.1H442.1ZM278.8 337.6H285.5L285.1 340.9H278.4ZM287.9 337.6H295.6L295.2 340.9H287.6ZM298.2 337.6H303.8L303.5 340.9H297.9ZM309.5 337.6H318.5L318.3 340.9H309.3ZM321.6 337.6H327.8L327.7 340.9H321.4ZM331 337.6H390.6L390.8 340.9H330.8ZM399 337.6H404.2L404.6 340.9H399.3ZM406.8 337.6H414L414.4 340.9H407.2ZM416.2 337.6H424.3L424.8 340.9H416.6ZM427.9 337.6H436L436.6 340.9H428.4ZM437 337.6H440.7L441.3 340.9H437.6ZM440.9 337.6H441.1L441.6 340.9H441.5ZM283.7 334.4H293.4L293 337.6H283.2ZM306.9 334.4H312.7L312.5 337.6H306.6ZM318.7 334.4H321.8L321.6 337.6H318.5ZM324.8 334.4H328L327.8 337.6H324.7ZM340.6 334.4H343.8L343.8 337.6H340.5ZM347 334.4H350.2L350.2 337.6H347ZM353.4 334.4H366.1L366.2 337.6H353.4ZM372.4 334.4H378.5L378.7 337.6H372.5ZM381.5 334.4H384.5L384.7 337.6H381.7ZM387.4 334.4H393.1L393.4 337.6H387.7ZM395.9 334.4H406.4L406.8 337.6H396.2ZM415.7 334.4H417.9L418.4 337.6H416.2ZM419.9 334.4H421.9L422.4 337.6H420.5ZM423.8 334.4H425.6L426.2 337.6H424.3ZM427.3 334.4H428.9L429.5 337.6H427.9ZM437.3 334.4H439.3L439.9 337.6H437.9ZM440 334.4H440.3L440.9 337.6H440.7ZM324.7 289H331.4L330.8 291.4H323.9ZM319.4 274.9H326.6L325.3 276.6H317.7ZM316.3 273.2H321.1L319.4 274.9H314.3ZM322.4 273.2H327.9L326.6 274.9H320.8ZM318.4 271.7H326.6L325.1 273.2H316.3ZM331.9 268.9H333L331.8 270.2H330.5ZM335.4 268.9H337.8L337 270.2H334.3ZM331.2 267.7H332.2L330.8 268.9H329.6ZM337.6 267.7H338.7L337.8 268.9H336.6ZM331.9 266.5H332.8L331.2 267.7H330.2ZM332.8 265.5H334.4L332.8 266.5H331ZM335.2 265.5H337L335.6 266.5H333.7Z"/>
<path fill="#d8e9f1" stroke="#d8e9f1" d="M327.8 445.7H328.5L330.8 446.6H330.2ZM326.2 444.7H326.9L329.1 445.7H328.5ZM322.4 443.5H323.1L325.5 444.7H324.8ZM323.9 443.5H326.5L328.5 444.7H326.2ZM328.3 443.5H329.2L331 444.7H330.1ZM319.2 442.3H320.8L323.1 443.5H321.6ZM321.7 442.3H322.6L324.7 443.5H323.9ZM323.5 442.3H325.4L327.4 443.5H325.6ZM328.6 442.3H329.6L331.2 443.5H330.2ZM315.2 441H323.5L325.4 442.3H317.7ZM325.8 441H326.9L328.6 442.3H327.5ZM311.2 439.5H333.3L334.3 441H313.8ZM314.1 438H344.6L344.9 439.5H316.3ZM390 438H394.3L391.4 439.5H387.4ZM364.4 436.3H369.1L367.9 438H363.5ZM381.7 436.3H387.3L385.1 438H379.7ZM289.5 404.1H302.3L303.3 406.9H290.8ZM284.6 401.3H290.3L291.5 404.1H285.8ZM303.7 401.3H308.7L309.5 404.1H304.6ZM324.5 401.3H332.9L333.2 404.1H325ZM335.7 401.3H341.4L341.6 404.1H336ZM278.2 398.4H285.3L286.4 401.3H279.5ZM307.9 398.4H326.9L327.3 401.3H308.7ZM341.3 398.4H361.7L361.5 401.3H341.4ZM386.7 398.4H411.9L410.8 401.3H386ZM427 398.4H429.7L428.2 401.3H425.5ZM430.4 398.4H431.5L430 401.3H428.9ZM432.2 398.4H432.5L431 401.3H430.7ZM278.7 395.4H280.4L281.6 398.4H279.8ZM315.2 395.4H323.6L324.1 398.4H315.8ZM344.1 395.4H382L381.4 398.4H344.2ZM406.8 395.4H414.9L413.8 398.4H405.8ZM424.7 395.4H434L432.5 398.4H423.4ZM341 392.4H344.1L344.1 395.4H341.2ZM353.1 392.4H356.2L356 395.4H353.1ZM359.2 392.4H365.1L364.9 395.4H359ZM368.1 392.4H371L370.7 395.4H367.8ZM407.7 392.4H412L411 395.4H406.8ZM424.4 392.4H435.3L434 395.4H423.3ZM340.9 389.4H344L344.1 392.4H341ZM347.1 389.4H353.2L353.1 392.4H347.1ZM356.3 389.4H359.3L359.2 392.4H356.2ZM403.9 389.4H410.8L409.9 392.4H403.2ZM424 389.4H432.7L431.5 392.4H422.9ZM433.5 389.4H434.3L433.1 392.4H432.4ZM434.9 389.4H435.9L434.7 392.4H433.7ZM436.2 389.4H436.4L435.2 392.4H435ZM277.5 386.3H279.4L280.3 389.4H278.4ZM325.5 386.3H328.6L328.8 389.4H325.8ZM337.7 386.3H340.8L340.9 389.4H337.9ZM347 386.3H350.2L350.1 389.4H347.1ZM397.1 386.3H409.3L408.6 389.4H396.5ZM426.5 386.3H433.8L432.7 389.4H425.5ZM434.6 386.3H436.6L435.5 389.4H433.5ZM437 386.3H437.7L436.5 389.4H435.9ZM276.7 383.1H287.2L287.9 386.3H277.5ZM328.3 383.1H334.5L334.7 386.3H328.6ZM340.7 383.1H347L347 386.3H340.8ZM392.3 383.1H397.7L397.1 386.3H391.8ZM425.8 383.1H435.6L434.6 386.3H424.9ZM436.4 383.1H438L437 386.3H435.4ZM438.6 383.1H438.7L437.7 386.3H437.5ZM275.9 380H288.9L289.5 383.1H276.7ZM319 380H322L322.3 383.1H319.3ZM328.1 380H331.2L331.4 383.1H328.3ZM334.4 380H340.7L340.7 383.1H334.5ZM389.9 380H392.7L392.3 383.1H389.5ZM426.6 380H435.6L434.7 383.1H425.8ZM437.3 380H439.2L438.3 383.1H436.4ZM439.5 380H439.6L438.7 383.1H438.6ZM275.3 376.8H277.3L277.9 380H275.9ZM288.4 376.8H290.8L291.3 380H288.9ZM321.8 376.8H324.8L325.1 380H322ZM347 376.8H350.2L350.2 380H347ZM387.4 376.8H390.3L389.9 380H387.1ZM427.3 376.8H437.3L436.5 380H426.6ZM438 376.8H439.7L438.9 380H437.3ZM440 376.8H440.4L439.6 380H439.2ZM290.4 373.6H295.6L296 376.8H290.8ZM318.5 373.6H327.8L328 376.8H318.7ZM384.7 373.6H387.7L387.4 376.8H384.5ZM426.2 373.6H437.9L437.3 376.8H425.6ZM439.4 373.6H441.1L440.4 376.8H438.7ZM292.6 370.3H297.9L298.2 373.6H293ZM309.3 370.3H312.2L312.5 373.6H309.5ZM318.3 370.3H321.4L321.6 373.6H318.5ZM324.5 370.3H327.7L327.8 373.6H324.7ZM330.8 370.3H334L334.1 373.6H331ZM337.3 370.3H340.5L340.5 373.6H337.3ZM381.9 370.3H385L384.7 373.6H381.7ZM426.6 370.3H441.3L440.7 373.6H426.2ZM441.5 370.3H441.6L441.1 373.6H440.9ZM273.9 367.1H275.9L276.3 370.3H274.3ZM292.3 367.1H300.4L300.7 370.3H292.6ZM303.3 367.1H312.1L312.2 370.3H303.5ZM315.1 367.1H321.3L321.4 370.3H315.3ZM324.4 367.1H334L334 370.3H324.5ZM337.2 367.1H340.5L340.5 370.3H337.3ZM382.1 367.1H388.1L387.9 370.3H381.9ZM425.2 367.1H440.4L439.9 370.3H424.8ZM440.9 367.1H442.1L441.6 370.3H440.5ZM294.8 363.8H337.2L337.2 367.1H295ZM379.2 363.8H388.3L388.1 367.1H379ZM425.5 363.8H442.4L442.1 367.1H425.2ZM297.4 360.5H340.4L340.4 363.8H297.5ZM388.4 360.5H391.3L391.2 363.8H388.3ZM423.7 360.5H425.7L425.5 363.8H423.5ZM427.5 360.5H442.7L442.4 363.8H427.3ZM297.3 357.2H300.1L300.1 360.5H297.4ZM302.9 357.2H311.8L311.8 360.5H303ZM321.1 357.2H327.4L327.4 360.5H321.1ZM330.6 357.2H347L347 360.5H330.7ZM356.8 357.2H360.1L360.1 360.5H356.8ZM388.4 357.2H397.1L397.1 360.5H388.4ZM427.6 357.2H429.3L429.2 360.5H427.5ZM432.5 357.2H435.3L435.2 360.5H432.4ZM437.7 357.2H442.1L442 360.5H437.5ZM442.4 357.2H442.8L442.7 360.5H442.3ZM308.8 354H311.8L311.8 357.2H308.8ZM337.1 354H340.4L340.4 357.2H337.1ZM343.7 354H360.1L360.1 357.2H343.7ZM363.3 354H366.6L366.6 357.2H363.3ZM391.4 354H397.1L397.1 357.2H391.4ZM427.6 354H432.5L432.5 357.2H427.6ZM434 354H435.3L435.3 357.2H434ZM436.5 354H437.7L437.7 357.2H436.5ZM438.7 354H440.4L440.4 357.2H438.7ZM442.1 354H442.4L442.4 357.2H442.1ZM366.5 350.7H372.9L373 354H366.6ZM388.4 350.7H394.2L394.3 354H388.4ZM410.3 350.7H419.6L419.7 354H410.4ZM430.9 350.7H432.4L432.5 354H431ZM433.9 350.7H436.4L436.5 354H434ZM437.5 350.7H438.6L438.7 354H437.7ZM440.9 350.7H442L442.1 354H441.1ZM442.7 350.7H442.7L442.8 354H442.8ZM376 347.4H385.3L385.4 350.7H376.1ZM407.7 347.4H410.2L410.3 350.7H407.8ZM419.4 347.4H423.5L423.7 350.7H419.6ZM429 347.4H430.7L430.9 350.7H429.2ZM440.7 347.4H441.3L441.5 350.7H440.9ZM442.1 347.4H442.4L442.7 350.7H442.3ZM407.4 344.1H409.9L410.2 347.4H407.7ZM419.2 344.1H421.3L421.5 347.4H419.4ZM423.3 344.1H425.2L425.5 347.4H423.5ZM428.7 344.1H430.4L430.7 347.4H429ZM433.3 344.1H434.7L435 347.4H433.6ZM435.9 344.1H437L437.3 347.4H436.2ZM439.7 344.1H440.4L440.7 347.4H440ZM274.3 340.9H276.3L275.9 344.1H273.9ZM278.4 340.9H282.8L282.5 344.1H278ZM290 340.9H292.6L292.3 344.1H289.8ZM409.6 340.9H418.8L419.2 344.1H409.9ZM420.9 340.9H424.8L425.2 344.1H421.3ZM426.6 340.9H428.4L428.7 344.1H427ZM432.9 340.9H434.2L434.7 344.1H433.3ZM435.5 340.9H436.6L437 344.1H435.9ZM438.5 340.9H439.3L439.7 344.1H438.9ZM441.5 340.9H441.6L442.1 344.1H442ZM272.9 337.6H278.8L278.4 340.9H272.4ZM285.5 337.6H287.9L287.6 340.9H285.1ZM295.6 337.6H298.2L297.9 340.9H295.2ZM303.8 337.6H309.5L309.3 340.9H303.5ZM318.5 337.6H321.6L321.4 340.9H318.3ZM327.8 337.6H331L330.8 340.9H327.7ZM390.6 337.6H399L399.3 340.9H390.8ZM404.2 337.6H406.8L407.2 340.9H404.6ZM414 337.6H416.2L416.6 340.9H414.4ZM424.3 337.6H427.9L428.4 340.9H424.8ZM436 337.6H437L437.6 340.9H436.6ZM440.7 337.6H440.9L441.5 340.9H441.3ZM441.1 337.6H441.1L441.6 340.9H441.6ZM273.4 334.4H283.7L283.2 337.6H272.9ZM293.4 334.4H306.9L306.6 337.6H293ZM312.7 334.4H318.7L318.5 337.6H312.5ZM321.8 334.4H324.8L324.7 337.6H321.6ZM328 334.4H340.6L340.5 337.6H327.8ZM343.8 334.4H347L347 337.6H343.8ZM350.2 334.4H353.4L353.4 337.6H350.2ZM366.1 334.4H372.4L372.5 337.6H366.2ZM378.5 334.4H381.5L381.7 337.6H378.7ZM384.5 334.4H387.4L387.7 337.6H384.7ZM393.1 334.4H395.9L396.2 337.6H393.4ZM406.4 334.4H415.7L416.2 337.6H406.8ZM417.9 334.4H419.9L420.5 337.6H418.4ZM421.9 334.4H423.8L424.3 337.6H422.4ZM425.6 334.4H427.3L427.9 337.6H426.2ZM428.9 334.4H437.3L437.9 337.6H429.5ZM439.3 334.4H440L440.7 337.6H439.9ZM440.3 334.4H440.4L441.1 337.6H440.9ZM277.9 331.2H439.6L440.4 334.4H277.3ZM355.6 307.1H358.4L358.6 309.9H355.8ZM361 304.3H366.4L366.8 307.1H361.2ZM363.3 301.6H373.7L374.3 304.3H363.7ZM370.6 298.9H378L378.8 301.6H371.2ZM326.2 291.4H330.8L330.2 293.8H325.5ZM331.4 289H333.6L333.1 291.4H330.8ZM325.6 286.7H332L331.4 289H324.7ZM320.7 276.6H325.3L324.1 278.4H319.2ZM315.5 274.9H319.4L317.7 276.6H313.6ZM326.6 274.9H328.1L326.9 276.6H325.3ZM313.1 273.2H316.3L314.3 274.9H310.9ZM327.9 273.2H329.3L328.1 274.9H326.6ZM313.6 271.7H318.4L316.3 273.2H311.2ZM326.6 271.7H330.5L329.3 273.2H325.1ZM316.8 270.2H326.9L325.3 271.7H314.4ZM328.1 270.2H335.6L334.7 271.7H326.6ZM329.6 268.9H331.9L330.5 270.2H328.1ZM330.2 267.7H331.2L329.6 268.9H328.6ZM331 266.5H331.9L330.2 267.7H329.2ZM337.6 266.5H338.6L337.6 267.7H336.5ZM332 265.5H332.8L331 266.5H330.1ZM337 265.5H338.7L337.6 266.5H335.6ZM333.3 264.6H337.5L336.1 265.5H331.3Z"/>
<path fill="#edf2f5" stroke="#edf2f5" d="M330.2 446.6H338.3L339.6 447.4H332.6ZM368.1 446.6H368.6L366 447.4H365.5ZM369.5 446.6H373L369.8 447.4H366.8ZM328.5 445.7H337.8L339.1 446.6H330.8ZM370.6 445.7H371.2L368.6 446.6H368.1ZM371.7 445.7H376.1L373 446.6H369ZM325.5 444.7H326.2L328.5 445.7H327.8ZM326.9 444.7H335.6L337 445.7H329.1ZM374.3 444.7H379.3L376.1 445.7H371.7ZM323.1 443.5H323.9L326.2 444.7H325.5ZM326.5 443.5H328.3L330.1 444.7H328.5ZM329.2 443.5H335.4L336.6 444.7H331ZM380.5 443.5H382.1L379 444.7H377.6ZM382.2 443.5H382.4L379.3 444.7H379.2ZM320.8 442.3H321.7L323.9 443.5H323.1ZM322.6 442.3H323.5L325.6 443.5H324.7ZM325.4 442.3H328.6L330.2 443.5H327.4ZM329.6 442.3H336.6L337.6 443.5H331.2ZM323.5 441H325.8L327.5 442.3H325.4ZM326.9 441H337L337.8 442.3H328.6ZM388.4 441H388.4L385.4 442.3H385.4ZM333.3 439.5H341.9L342.4 441H334.3ZM389.5 439.5H391.4L388.4 441H386.7ZM344.6 438H358.9L358.2 439.5H344.9ZM386 438H390L387.4 439.5H383.6ZM369.1 436.3H381.7L379.7 438H367.9ZM290.3 401.3H294.5L295.6 404.1H291.5ZM301.3 401.3H303.7L304.6 404.1H302.3ZM332.9 401.3H335.7L336 404.1H333.2ZM285.3 398.4H289.3L290.3 401.3H286.4ZM305.4 398.4H307.9L308.7 401.3H306.2ZM326.9 398.4H341.3L341.4 401.3H327.3ZM280.4 395.4H286.2L287.2 398.4H281.6ZM307.2 395.4H315.2L315.8 398.4H307.9ZM323.6 395.4H332.3L332.6 398.4H324.1ZM335.2 395.4H344.1L344.2 398.4H335.5ZM382 395.4H395.1L394.3 398.4H381.4ZM397.6 395.4H406.8L405.8 398.4H396.7ZM277.6 392.4H287.3L288.2 395.4H278.7ZM309.2 392.4H341L341.2 395.4H309.8ZM344.1 392.4H353.1L353.1 395.4H344.1ZM356.2 392.4H359.2L359 395.4H356ZM365.1 392.4H368.1L367.8 395.4H364.9ZM371 392.4H379.7L379.2 395.4H370.7ZM398.3 392.4H407.7L406.8 395.4H397.6ZM435.3 392.4H435.3L434 395.4H434ZM276.6 389.4H286.4L287.3 392.4H277.6ZM308.7 389.4H340.9L341 392.4H309.2ZM344 389.4H347.1L347.1 392.4H344.1ZM353.2 389.4H356.3L356.2 392.4H353.1ZM359.3 389.4H374.3L374 392.4H359.2ZM396.5 389.4H403.9L403.2 392.4H395.8ZM432.7 389.4H433.5L432.4 392.4H431.5ZM434.3 389.4H434.9L433.7 392.4H433.1ZM435.9 389.4H436.2L435 392.4H434.7ZM436.4 389.4H436.5L435.3 392.4H435.2ZM275.6 386.3H277.5L278.4 389.4H276.6ZM279.4 386.3H287.9L288.6 389.4H280.3ZM311 386.3H325.5L325.8 389.4H311.4ZM328.6 386.3H337.7L337.9 389.4H328.8ZM340.8 386.3H347L347.1 389.4H340.9ZM350.2 386.3H368.6L368.4 389.4H350.1ZM394.5 386.3H397.1L396.5 389.4H393.9ZM433.8 386.3H434.6L433.5 389.4H432.7ZM436.6 386.3H437L435.9 389.4H435.5ZM437.7 386.3H437.7L436.5 389.4H436.5ZM287.2 383.1H289.5L290.2 386.3H287.9ZM307.7 383.1H328.3L328.6 386.3H308.2ZM334.5 383.1H340.7L340.8 386.3H334.7ZM347 383.1H365.8L365.6 386.3H347ZM389.5 383.1H392.3L391.8 386.3H389ZM435.6 383.1H436.4L435.4 386.3H434.6ZM438 383.1H438.6L437.5 386.3H437ZM438.7 383.1H438.7L437.7 386.3H437.7ZM288.9 380H293.8L294.4 383.1H289.5ZM307.3 380H319L319.3 383.1H307.7ZM322 380H328.1L328.3 383.1H322.3ZM331.2 380H334.4L334.5 383.1H331.4ZM340.7 380H362.8L362.7 383.1H340.7ZM387.1 380H389.9L389.5 383.1H386.7ZM435.6 380H437.3L436.4 383.1H434.7ZM439.2 380H439.5L438.6 383.1H438.3ZM439.6 380H439.6L438.7 383.1H438.7ZM290.8 376.8H296L296.4 380H291.3ZM304.1 376.8H321.8L322 380H304.5ZM324.8 376.8H347L347 380H325.1ZM350.2 376.8H356.6L356.5 380H350.2ZM384.5 376.8H387.4L387.1 380H384.2ZM437.3 376.8H438L437.3 380H436.5ZM439.7 376.8H440L439.2 380H438.9ZM295.6 373.6H318.5L318.7 376.8H296ZM327.8 373.6H353.4L353.4 376.8H328ZM381.7 373.6H384.7L384.5 376.8H381.5ZM437.9 373.6H439.4L438.7 376.8H437.3ZM297.9 370.3H309.3L309.5 373.6H298.2ZM312.2 370.3H318.3L318.5 373.6H312.5ZM321.4 370.3H324.5L324.7 373.6H321.6ZM327.7 370.3H330.8L331 373.6H327.8ZM334 370.3H337.3L337.3 373.6H334.1ZM340.5 370.3H350.2L350.2 373.6H340.5ZM378.9 370.3H381.9L381.7 373.6H378.7ZM441.3 370.3H441.5L440.9 373.6H440.7ZM300.4 367.1H303.3L303.5 370.3H300.7ZM312.1 367.1H315.1L315.3 370.3H312.2ZM321.3 367.1H324.4L324.5 370.3H321.4ZM334 367.1H337.2L337.3 370.3H334ZM340.5 367.1H350.2L350.2 370.3H340.5ZM372.8 367.1H382.1L381.9 370.3H372.7ZM440.4 367.1H440.9L440.5 370.3H439.9ZM337.2 363.8H350.2L350.2 367.1H337.2ZM372.9 363.8H379.2L379 367.1H372.8ZM340.4 360.5H353.5L353.5 363.8H340.4ZM382.3 360.5H388.4L388.3 363.8H382.2ZM347 357.2H356.8L356.8 360.5H347ZM360.1 357.2H366.6L366.5 360.5H360.1ZM366.6 354H369.8L369.8 357.2H366.6ZM388.4 354H391.4L391.4 357.2H388.4ZM372.9 350.7H376.1L376.1 354H373ZM382.3 350.7H388.4L388.4 354H382.4ZM417.2 347.4H419.4L419.6 350.7H417.4ZM417 344.1H419.2L419.4 347.4H417.2ZM272.3 331.2H277.9L277.3 334.4H271.6ZM282.7 328.1H284.9L284.3 331.2H282.1ZM287.2 328.1H294.4L293.8 331.2H286.5ZM296.9 328.1H340.7L340.7 331.2H296.4ZM350.2 328.1H353.3L353.4 331.2H350.2ZM362.7 328.1H365.8L366 331.2H362.8ZM371.9 328.1H377.9L378.2 331.2H372.2ZM383.8 328.1H400.3L400.8 331.2H384.2ZM405.3 328.1H407.7L408.3 331.2H405.9ZM416.6 328.1H418.6L419.3 331.2H417.3ZM420.5 328.1H422.4L423.1 331.2H421.3ZM431.5 328.1H432.7L433.5 331.2H432.4ZM434.7 328.1H435.6L436.5 331.2H435.6ZM438 328.1H438.7L439.6 331.2H438.9ZM289.5 318.8H294L293.3 321.8H288.6ZM288.2 315.8H294.9L294 318.8H287.3ZM350 309.9H355.8L355.9 312.8H350.1ZM352.8 307.1H355.6L355.8 309.9H352.9ZM358.4 307.1H364L364.3 309.9H358.6ZM355.5 304.3H361L361.2 307.1H355.6ZM366.4 304.3H369L369.5 307.1H366.8ZM373.7 301.6H376.3L376.9 304.3H374.3ZM368.1 298.9H370.6L371.2 301.6H368.6ZM378 298.9H380.4L381.2 301.6H378.8ZM374.8 296.3H384.1L385.1 298.9H375.6ZM323.9 291.4H326.2L325.5 293.8H323.1ZM330.8 291.4H333.1L332.6 293.8H330.2ZM322.6 289H324.7L323.9 291.4H321.7ZM323.5 286.7H325.6L324.7 289H322.6ZM314.9 276.6H320.7L319.2 278.4H313.2ZM325.3 276.6H328.6L327.5 278.4H324.1ZM312 274.9H315.5L313.6 276.6H309.9ZM328.1 274.9H331.2L330.2 276.6H326.9ZM311.2 273.2H313.1L310.9 274.9H308.9ZM329.3 273.2H332.2L331.2 274.9H328.1ZM311.9 271.7H313.6L311.2 273.2H309.5ZM330.5 271.7H333.3L332.2 273.2H329.3ZM313.1 270.2H316.8L314.4 271.7H310.5ZM326.9 270.2H328.1L326.6 271.7H325.3ZM335.6 270.2H337L336.1 271.7H334.7ZM316.4 268.9H329.6L328.1 270.2H313.8ZM337.8 268.9H339.1L338.3 270.2H337ZM329.2 267.7H330.2L328.6 268.9H327.5ZM338.7 267.7H339.9L339.1 268.9H337.8ZM329.3 266.5H331L329.2 267.7H327.4ZM338.6 266.5H339.6L338.7 267.7H337.6ZM330.5 265.5H332L330.1 266.5H328.5ZM338.7 265.5H339.6L338.6 266.5H337.6ZM332 264.6H333.3L331.3 265.5H329.8ZM337.5 264.6H338.3L337 265.5H336.1ZM334.1 263.8H337.1L335.3 264.6H332Z"/>
<path fill="#f9f0eb" stroke="#f9f0eb" d="M338.3 446.6H339.9L341 447.4H339.6ZM364.6 446.6H368.1L365.5 447.4H362.5ZM368.6 446.6H369.5L366.8 447.4H366ZM337.8 445.7H338.7L339.9 446.6H339.1ZM368.1 445.7H370.6L368.1 446.6H365.8ZM371.2 445.7H371.7L369 446.6H368.6ZM335.6 444.7H337.6L338.7 445.7H337ZM369.5 444.7H374.3L371.7 445.7H367.4ZM335.4 443.5H337.6L338.6 444.7H336.6ZM374.1 443.5H380.5L377.6 444.7H371.7ZM382.1 443.5H382.2L379.2 444.7H379ZM336.6 442.3H337.8L338.7 443.5H337.6ZM380.8 442.3H385.4L382.4 443.5H378.1ZM337 441H339.6L340.3 442.3H337.8ZM384.7 441H388.4L385.4 442.3H382ZM341.9 439.5H344.9L345.1 441H342.4ZM386 439.5H389.5L386.7 441H383.4ZM358.9 438H365L363.9 439.5H358.2ZM383.1 438H386L383.6 439.5H380.9ZM294.5 401.3H301.3L302.3 404.1H295.6ZM289.3 398.4H291.4L292.4 401.3H290.3ZM302.9 398.4H305.4L306.2 401.3H303.7ZM286.2 395.4H288.2L289.3 398.4H287.2ZM304.6 395.4H307.2L307.9 398.4H305.4ZM332.3 395.4H335.2L335.5 398.4H332.6ZM395.1 395.4H397.6L396.7 398.4H394.3ZM287.3 392.4H289.5L290.4 395.4H288.2ZM306.6 392.4H309.2L309.8 395.4H307.2ZM379.7 392.4H398.3L397.6 395.4H379.2ZM286.4 389.4H288.6L289.5 392.4H287.3ZM306 389.4H308.7L309.2 392.4H306.6ZM374.3 389.4H383L382.5 392.4H374ZM391.2 389.4H396.5L395.8 392.4H390.6ZM287.9 386.3H290.2L290.9 389.4H288.6ZM305.4 386.3H311L311.4 389.4H306ZM368.6 386.3H374.6L374.3 389.4H368.4ZM389 386.3H394.5L393.9 389.4H388.5ZM289.5 383.1H291.9L292.5 386.3H290.2ZM304.9 383.1H307.7L308.2 386.3H305.4ZM365.8 383.1H371.9L371.7 386.3H365.6ZM386.7 383.1H389.5L389 386.3H386.2ZM293.8 380H296.4L296.9 383.1H294.4ZM304.5 380H307.3L307.7 383.1H304.9ZM362.8 380H366L365.8 383.1H362.7ZM384.2 380H387.1L386.7 383.1H383.8ZM296 376.8H304.1L304.5 380H296.4ZM356.6 376.8H363L362.8 380H356.5ZM381.5 376.8H384.5L384.2 380H381.2ZM353.4 373.6H359.9L359.8 376.8H353.4ZM375.6 373.6H381.7L381.5 376.8H375.4ZM350.2 370.3H359.9L359.9 373.6H350.2ZM372.7 370.3H378.9L378.7 373.6H372.5ZM350.2 367.1H356.7L356.7 370.3H350.2ZM369.6 367.1H372.8L372.7 370.3H369.5ZM350.2 363.8H372.9L372.8 367.1H350.2ZM353.5 360.5H382.3L382.2 363.8H353.5ZM366.6 357.2H373L372.9 360.5H366.5ZM385.4 357.2H388.4L388.4 360.5H385.4ZM369.8 354H373L373 357.2H369.8ZM385.4 354H388.4L388.4 357.2H385.4ZM376.1 350.7H382.3L382.4 354H376.1ZM410.2 347.4H412.6L412.8 350.7H410.3ZM409.9 344.1H412.4L412.6 347.4H410.2ZM276.7 328.1H282.7L282.1 331.2H275.9ZM284.9 328.1H287.2L286.5 331.2H284.3ZM294.4 328.1H296.9L296.4 331.2H293.8ZM340.7 328.1H350.2L350.2 331.2H340.7ZM353.3 328.1H362.7L362.8 331.2H353.4ZM365.8 328.1H371.9L372.2 331.2H366ZM377.9 328.1H383.8L384.2 331.2H378.2ZM400.3 328.1H405.3L405.9 331.2H400.8ZM407.7 328.1H416.6L417.3 331.2H408.3ZM418.6 328.1H420.5L421.3 331.2H419.3ZM422.4 328.1H431.5L432.4 331.2H423.1ZM432.7 328.1H434.7L435.6 331.2H433.5ZM435.6 328.1H438L438.9 331.2H436.5ZM438.7 328.1H438.7L439.6 331.2H439.6ZM316.7 324.9H319.6L319.3 328.1H316.3ZM322.6 324.9H325.5L325.3 328.1H322.3ZM317.1 321.8H328.8L328.6 324.9H316.7ZM285.2 318.8H289.5L288.6 321.8H284.3ZM294 318.8H298.9L298.2 321.8H293.3ZM306.6 318.8H332.1L331.8 321.8H306ZM286.2 315.8H288.2L287.3 318.8H285.2ZM294.9 315.8H299.6L298.9 318.8H294ZM307.2 315.8H318L317.5 318.8H306.6ZM320.8 315.8H341.2L341 318.8H320.4ZM289.3 312.8H298.1L297.2 315.8H288.2ZM338.4 312.8H350.1L350.1 315.8H338.2ZM344.3 309.9H350L350.1 312.8H344.2ZM355.8 309.9H358.6L358.8 312.8H355.9ZM350 307.1H352.8L352.9 309.9H350ZM364 307.1H366.8L367.1 309.9H364.3ZM352.7 304.3H355.5L355.6 307.1H352.8ZM369 304.3H371.7L372.2 307.1H369.5ZM360.7 301.6H363.3L363.7 304.3H361ZM376.3 301.6H378.8L379.5 304.3H376.9ZM365.5 298.9H368.1L368.6 301.6H366ZM380.4 298.9H382.8L383.6 301.6H381.2ZM372.4 296.3H374.8L375.6 298.9H373.1ZM384.1 296.3H386.3L387.3 298.9H385.1ZM378.6 293.8H387.3L388.5 296.3H379.5ZM321.7 291.4H323.9L323.1 293.8H320.8ZM321.4 286.7H323.5L322.6 289H320.4ZM332 286.7H334.1L333.6 289H331.4ZM324.5 284.5H330.5L329.8 286.7H323.5ZM317.6 278.4H329.2L328.3 280.4H316.1ZM312.3 276.6H314.9L313.2 278.4H310.4ZM328.6 276.6H331.9L331 278.4H327.5ZM308.9 274.9H312L309.9 276.6H306.6ZM331.2 274.9H332.8L331.9 276.6H330.2ZM308.7 273.2H311.2L308.9 274.9H306.2ZM332.2 273.2H333.7L332.8 274.9H331.2ZM309.2 271.7H311.9L309.5 273.2H306.6ZM333.3 271.7H336.1L335.2 273.2H332.2ZM310.1 270.2H313.1L310.5 271.7H307.3ZM337 270.2H339.6L339 271.7H336.1ZM312.5 268.9H316.4L313.8 270.2H309.5ZM339.1 268.9H340.3L339.6 270.2H338.3ZM316 267.7H316.3L313.4 268.9H313ZM318 267.7H329.2L327.5 268.9H315.2ZM339.9 267.7H341L340.3 268.9H339.1ZM328.5 266.5H329.3L327.4 267.7H326.5ZM339.6 266.5H340.7L339.9 267.7H338.7ZM329.1 265.5H330.5L328.5 266.5H326.9ZM339.6 265.5H340.5L339.6 266.5H338.6ZM330.8 264.6H332L329.8 265.5H328.5ZM338.3 264.6H339.9L338.7 265.5H337ZM332.1 263.8H334.1L332 264.6H329.7ZM337.1 263.8H339L337.5 264.6H335.3ZM334.6 263.1H336.3L334.1 263.8H332.1Z"/>
<path fill="#fce0d0" stroke="#fce0d0" d="M361.2 446.6H364.6L362.5 447.4H359.5ZM364.4 445.7H368.1L365.8 446.6H362.6ZM367.9 444.7H369.5L367.4 445.7H365.9ZM337.6 443.5H339.9L340.7 444.7H338.6ZM369.8 443.5H374.1L371.7 444.7H367.9ZM337.8 442.3H340.3L341 443.5H338.7ZM376.4 442.3H380.8L378.1 443.5H374.1ZM339.6 441H342.4L342.8 442.3H340.3ZM382.7 441H384.7L382 442.3H380.1ZM344.9 439.5H347.9L347.9 441H345.1ZM383.6 439.5H386L383.4 441H381.2ZM365 438H367.9L366.7 439.5H363.9ZM380.9 438H383.1L380.9 439.5H378.8ZM291.4 398.4H293.5L294.5 401.3H292.4ZM300.5 398.4H302.9L303.7 401.3H301.3ZM288.2 395.4H290.4L291.4 398.4H289.3ZM303.9 392.4H306.6L307.2 395.4H304.6ZM288.6 389.4H290.9L291.7 392.4H289.5ZM383 389.4H391.2L390.6 392.4H382.5ZM290.2 386.3H292.5L293.3 389.4H290.9ZM374.6 386.3H389L388.5 389.4H374.3ZM291.9 383.1H294.4L295 386.3H292.5ZM371.9 383.1H386.7L386.2 386.3H371.7ZM296.4 380H304.5L304.9 383.1H296.9ZM366 380H375.2L374.9 383.1H365.8ZM378.2 380H384.2L383.8 383.1H377.9ZM363 376.8H369.2L369.1 380H362.8ZM375.4 376.8H381.5L381.2 380H375.2ZM359.9 373.6H366.2L366.1 376.8H359.8ZM372.5 373.6H375.6L375.4 376.8H372.4ZM359.9 370.3H372.7L372.5 373.6H359.9ZM356.7 367.1H369.6L369.5 370.3H356.7ZM373 357.2H376.1L376.1 360.5H372.9ZM382.4 357.2H385.4L385.4 360.5H382.3ZM373 354H376.1L376.1 357.2H373ZM382.4 354H385.4L385.4 357.2H382.4ZM415 347.4H417.2L417.4 350.7H415.1ZM412.4 344.1H417L417.2 347.4H412.6ZM274.8 328.1H276.7L275.9 331.2H274.1ZM283.5 324.9H316.7L316.3 328.1H282.7ZM319.6 324.9H322.6L322.3 328.1H319.3ZM325.5 324.9H337.7L337.6 328.1H325.3ZM286.4 321.8H300.7L300.1 324.9H285.6ZM303.3 321.8H317.1L316.7 324.9H302.7ZM328.8 321.8H334.8L334.7 324.9H328.6ZM298.9 318.8H306.6L306 321.8H298.2ZM332.1 318.8H341L340.9 321.8H331.8ZM284.2 315.8H286.2L285.2 318.8H283.2ZM299.6 315.8H307.2L306.6 318.8H298.9ZM318 315.8H320.8L320.4 318.8H317.5ZM341.2 315.8H347.1L347.1 318.8H341ZM287.2 312.8H289.3L288.2 315.8H286.2ZM298.1 312.8H313.1L312.5 315.8H297.2ZM332.6 312.8H338.4L338.2 315.8H332.3ZM350.1 312.8H353L353.1 315.8H350.1ZM296.8 309.9H306.2L305.4 312.8H295.8ZM338.6 309.9H344.3L344.2 312.8H338.4ZM358.6 309.9H361.5L361.7 312.8H358.8ZM347.2 307.1H350L350 309.9H347.2ZM366.8 307.1H369.5L369.9 309.9H367.1ZM371.7 304.3H376.9L377.5 307.1H372.2ZM358 301.6H360.7L361 304.3H358.2ZM378.8 301.6H381.2L382 304.3H379.5ZM363 298.9H365.5L366 301.6H363.3ZM382.8 298.9H385.1L386 301.6H383.6ZM367.5 296.3H372.4L373.1 298.9H368.1ZM323.1 293.8H332.6L332.1 296.3H322.4ZM374.1 293.8H378.6L379.5 296.3H374.8ZM387.3 293.8H389.4L390.6 296.3H388.5ZM333.1 291.4H335.5L335 293.8H332.6ZM382 291.4H388.1L389.4 293.8H383.1ZM320.4 289H322.6L321.7 291.4H319.5ZM333.6 289H335.9L335.5 291.4H333.1ZM319.4 286.7H321.4L320.4 289H318.4ZM322.5 284.5H324.5L323.5 286.7H321.4ZM330.5 284.5H332.6L332 286.7H329.8ZM327.4 282.4H329.3L328.5 284.5H326.5ZM321.1 280.4H328.3L327.4 282.4H319.9ZM311.8 278.4H317.6L316.1 280.4H309.9ZM329.2 278.4H331L330.1 280.4H328.3ZM308.7 276.6H312.3L310.4 278.4H306.6ZM307 274.9H308.9L306.6 276.6H304.6ZM332.8 274.9H334.4L333.6 276.6H331.9ZM305.4 273.2H306L303.3 274.9H302.7ZM306.6 273.2H308.7L306.2 274.9H303.9ZM333.7 273.2H336.8L336 274.9H332.8ZM306.2 271.7H306.4L303.5 273.2H303.3ZM306.6 271.7H309.2L306.6 273.2H303.8ZM336.1 271.7H339L338.3 273.2H335.2ZM308.8 270.2H310.1L307.3 271.7H305.8ZM339.6 270.2H341L340.4 271.7H339ZM311.8 268.9H312.5L309.5 270.2H308.8ZM340.3 268.9H341.6L341 270.2H339.6ZM314.8 267.7H316L313 268.9H311.8ZM316.3 267.7H318L315.2 268.9H313.4ZM317.9 266.5H328.5L326.5 267.7H314.8ZM340.7 266.5H341.7L341 267.7H339.9ZM327.8 265.5H329.1L326.9 266.5H325.5ZM340.5 265.5H341.5L340.7 266.5H339.6ZM329.1 264.6H330.8L328.5 265.5H326.6ZM339.9 264.6H340.7L339.6 265.5H338.7ZM330.1 263.8H332.1L329.7 264.6H327.3ZM339 263.8H340.3L339.1 264.6H337.5ZM331.8 263.1H334.6L332.1 263.8H328.8ZM336.3 263.1H339.9L338.3 263.8H334.1ZM333.9 262.6H338.2L335.9 263.1H330.6ZM338.5 262.6H338.9L336.8 263.1H336.3Z"/>
<path fill="#facab1" stroke="#facab1" d="M348.2 446.6H350.7L350.4 447.4H348.2ZM357.3 446.6H361.2L359.5 447.4H356.2ZM362.8 445.7H364.4L362.6 446.6H361.2ZM365.3 444.7H367.9L365.9 445.7H363.6ZM339.9 443.5H342.2L342.7 444.7H340.7ZM367 443.5H369.8L367.9 444.7H365.3ZM340.3 442.3H341.6L342.2 443.5H341ZM370.8 442.3H376.4L374.1 443.5H368.9ZM342.4 441H343.7L344.1 442.3H342.8ZM378.6 441H382.7L380.1 442.3H376.4ZM347.9 439.5H350.8L350.7 441H347.9ZM361.1 439.5H362.5L361.6 441H360.2ZM380.9 439.5H383.6L381.2 441H378.6ZM367.9 438H372.1L370.6 439.5H366.7ZM377.3 438H380.9L378.8 439.5H375.5ZM293.5 398.4H300.5L301.3 401.3H294.5ZM290.4 395.4H292.6L293.5 398.4H291.4ZM302.1 395.4H304.6L305.4 398.4H302.9ZM289.5 392.4H291.7L292.6 395.4H290.4ZM290.9 389.4H293.3L294 392.4H291.7ZM303.3 389.4H306L306.6 392.4H303.9ZM292.5 386.3H295L295.7 389.4H293.3ZM302.7 386.3H305.4L306 389.4H303.3ZM294.4 383.1H296.9L297.5 386.3H295ZM299.5 383.1H304.9L305.4 386.3H300.1ZM375.2 380H378.2L377.9 383.1H374.9ZM369.2 376.8H375.4L375.2 380H369.1ZM366.2 373.6H372.5L372.4 376.8H366.1ZM376.1 357.2H382.4L382.3 360.5H376.1ZM376.1 354H382.4L382.4 357.2H376.1ZM412.6 347.4H415L415.1 350.7H412.8ZM271.4 328.1H274.8L274.1 331.2H270.6ZM279.4 324.9H283.5L282.7 328.1H278.6ZM337.7 324.9H437.7L438.7 328.1H337.6ZM282.2 321.8H286.4L285.6 324.9H281.4ZM300.7 321.8H303.3L302.7 324.9H300.1ZM334.8 321.8H344L343.9 324.9H334.7ZM283.2 318.8H285.2L284.3 321.8H282.2ZM341 318.8H347.1L347.1 321.8H340.9ZM347.1 315.8H350.1L350.1 318.8H347.1ZM285.3 312.8H287.2L286.2 315.8H284.2ZM313.1 312.8H332.6L332.3 315.8H312.5ZM353 312.8H358.8L359 315.8H353.1ZM286.4 309.9H296.8L295.8 312.8H285.3ZM306.2 309.9H311.2L310.5 312.8H305.4ZM335.7 309.9H338.6L338.4 312.8H335.5ZM361.5 309.9H369.9L370.3 312.8H361.7ZM291.5 307.1H309.5L308.7 309.9H290.3ZM344.4 307.1H347.2L347.2 309.9H344.3ZM369.5 307.1H374.9L375.4 309.9H369.9ZM298.9 304.3H303.3L302.3 307.1H297.8ZM350 304.3H352.7L352.8 307.1H350ZM376.9 304.3H379.5L380.1 307.1H377.5ZM352.6 301.6H358L358.2 304.3H352.7ZM381.2 301.6H383.6L384.5 304.3H382ZM360.4 298.9H363L363.3 301.6H360.7ZM385.1 298.9H387.3L388.3 301.6H386ZM365.1 296.3H367.5L368.1 298.9H365.5ZM386.3 296.3H388.5L389.6 298.9H387.3ZM320.8 293.8H323.1L322.4 296.3H320ZM369.4 293.8H374.1L374.8 296.3H370ZM319.5 291.4H321.7L320.8 293.8H318.6ZM375.5 291.4H382L383.1 293.8H376.4ZM388.1 291.4H392L393.3 293.8H389.4ZM318.4 289H320.4L319.5 291.4H317.3ZM384.9 289H388.7L390.1 291.4H386.1ZM334.1 286.7H336.3L335.9 289H333.6ZM318.6 284.5H322.5L321.4 286.7H317.5ZM332.6 284.5H334.7L334.1 286.7H332ZM316.3 282.4H318.1L316.8 284.5H314.9ZM319.9 282.4H327.4L326.5 284.5H318.6ZM329.3 282.4H331.3L330.5 284.5H328.5ZM308.5 280.4H321.1L319.9 282.4H306.7ZM328.3 280.4H332L331.3 282.4H327.4ZM305.4 278.4H311.8L309.9 280.4H303.3ZM331 278.4H334.6L333.9 280.4H330.1ZM302.9 276.6H308.7L306.6 278.4H300.5ZM331.9 276.6H335.3L334.6 278.4H331ZM301.7 274.9H302.7L300.1 276.6H299ZM303.3 274.9H307L304.6 276.6H300.7ZM334.4 274.9H337.7L337.1 276.6H333.6ZM302.9 273.2H305.4L302.7 274.9H300.1ZM306 273.2H306.6L303.9 274.9H303.3ZM336.8 273.2H338.3L337.7 274.9H336ZM305.8 271.7H306.2L303.3 273.2H302.9ZM306.4 271.7H306.6L303.8 273.2H303.5ZM339 271.7H340.4L339.9 273.2H338.3ZM341 270.2H342.4L341.9 271.7H340.4ZM341.6 268.9H342.8L342.4 270.2H341ZM341 267.7H343.3L342.8 268.9H340.3ZM341.7 266.5H343.8L343.3 267.7H341ZM321.1 265.5H327.8L325.5 266.5H317.9ZM341.5 265.5H343.3L342.7 266.5H340.7ZM324.2 264.6H329.1L326.6 265.5H321.1ZM340.7 264.6H342.3L341.5 265.5H339.6ZM327.4 263.8H330.1L327.3 264.6H324.2ZM340.3 263.8H342.4L341.5 264.6H339.1ZM330.6 263.1H331.8L328.8 263.8H327.4ZM339.9 263.1H341.6L340.3 263.8H338.3ZM338.2 262.6H338.5L336.3 263.1H335.9ZM338.9 262.6H341L339.3 263.1H336.8ZM337.1 262.1H340.8L338.5 262.6H333.9ZM340.5 261.8H340.5L337.3 262.1H337.3Z"/>
<path fill="#f5ac8b" stroke="#f5ac8b" d="M350.7 446.6H357.3L356.2 447.4H350.4ZM360.2 445.7H362.8L361.2 446.6H358.9ZM363.5 444.7H365.3L363.6 445.7H362ZM366 443.5H367L365.3 444.7H364.4ZM341.6 442.3H342.8L343.3 443.5H342.2ZM367.6 442.3H370.8L368.9 443.5H366ZM343.7 441H345.1L345.4 442.3H344.1ZM369.1 441H370.3L368.6 442.3H367.6ZM374.7 441H378.6L376.4 442.3H372.7ZM350.8 439.5H361.1L360.2 441H350.7ZM362.5 439.5H369.3L367.9 441H361.6ZM378.8 439.5H380.9L378.6 441H376.8ZM372.1 438H377.3L375.5 439.5H370.6ZM292.6 395.4H294.9L295.8 398.4H293.5ZM291.7 392.4H294L294.9 395.4H292.6ZM301.4 392.4H303.9L304.6 395.4H302.1ZM296.9 383.1H299.5L300.1 386.3H297.5ZM277.5 324.9H279.4L278.6 328.1H276.7ZM280.3 321.8H282.2L281.4 324.9H279.4ZM344 321.8H436.5L437.7 324.9H343.9ZM281.2 318.8H283.2L282.2 321.8H280.3ZM347.1 318.8H356.2L356.3 321.8H347.1ZM382.5 318.8H435.3L436.5 321.8H383ZM282.3 315.8H284.2L283.2 318.8H281.2ZM350.1 315.8H356L356.2 318.8H350.1ZM387.4 315.8H434L435.3 318.8H388ZM283.4 312.8H285.3L284.2 315.8H282.3ZM358.8 312.8H370.3L370.7 315.8H359ZM375.9 312.8H378.7L379.2 315.8H376.4ZM384.1 312.8H391.8L392.6 315.8H384.7ZM399.1 312.8H405.8L406.8 315.8H400ZM407.9 312.8H410L411 315.8H409ZM411.9 312.8H420.5L421.8 315.8H413ZM422 312.8H423.4L424.7 315.8H423.3ZM424.7 312.8H425.9L427.2 315.8H426ZM427 312.8H432.5L434 315.8H428.3ZM284.6 309.9H286.4L285.3 312.8H283.4ZM311.2 309.9H316.4L315.8 312.8H310.5ZM332.9 309.9H335.7L335.5 312.8H332.6ZM369.9 309.9H378.1L378.7 312.8H370.3ZM380.8 309.9H388.5L389.3 312.8H381.4ZM391 309.9H417.7L419 312.8H391.8ZM419.2 309.9H431L432.5 312.8H420.5ZM285.8 307.1H291.5L290.3 309.9H284.6ZM309.5 307.1H311.9L311.2 309.9H308.7ZM341.6 307.1H344.4L344.3 309.9H341.4ZM374.9 307.1H390.2L391 309.9H375.4ZM403.7 307.1H405.7L406.9 309.9H404.8ZM409.5 307.1H416.3L417.7 309.9H410.8ZM417.8 307.1H429.3L431 309.9H419.2ZM287.2 304.3H298.9L297.8 307.1H285.8ZM303.3 304.3H312.7L311.9 307.1H302.3ZM347.2 304.3H350L350 307.1H347.2ZM379.5 304.3H391.6L392.6 307.1H380.1ZM417.7 304.3H421.3L422.9 307.1H419.2ZM422.4 304.3H427.5L429.2 307.1H424ZM427.6 304.3H427.6L429.3 307.1H429.3ZM287 301.6H311.2L310.3 304.3H285.5ZM383.6 301.6H388.3L389.3 304.3H384.5ZM422.4 301.6H425.8L427.6 304.3H424.2ZM288.5 298.9H314.4L313.6 301.6H287ZM357.8 298.9H360.4L360.7 301.6H358ZM387.3 298.9H389.6L390.6 301.6H388.3ZM421.3 298.9H421.9L423.8 301.6H423.1ZM422.4 298.9H422.9L424.8 301.6H424.3ZM423.3 298.9H423.7L425.7 301.6H425.2ZM423.8 298.9H423.8L425.8 301.6H425.8ZM287.2 296.3H322.4L321.6 298.9H285.5ZM324.8 296.3H327.2L326.6 298.9H324.1ZM360.1 296.3H365.1L365.5 298.9H360.4ZM388.5 296.3H390.6L391.8 298.9H389.6ZM421.3 296.3H421.5L423.5 298.9H423.3ZM286.4 293.8H320.8L320 296.3H284.6ZM332.6 293.8H335L334.6 296.3H332.1ZM364.6 293.8H369.4L370 296.3H365.1ZM389.4 293.8H391.4L392.7 296.3H390.6ZM287.2 291.4H319.5L318.6 293.8H285.3ZM335.5 291.4H337.8L337.5 293.8H335ZM366.4 291.4H375.5L376.4 293.8H367ZM392 291.4H393.8L395.2 293.8H393.3ZM284.9 289H286.4L284.3 291.4H282.7ZM287.3 289H318.4L317.3 291.4H285.2ZM335.9 289H338.2L337.8 291.4H335.5ZM370.3 289H384.9L386.1 291.4H371ZM388.7 289H395.7L397.3 291.4H390.1ZM284.4 286.7H284.8L282.5 289H282ZM285.1 286.7H285.5L283.2 289H282.8ZM287.9 286.7H319.4L318.4 289H285.6ZM367.4 286.7H369.5L370.3 289H368.1ZM373.7 286.7H401.2L403.2 289H374.6ZM409.3 286.7H410L412.3 289H411.6ZM412.4 286.7H412.6L415 289H414.7ZM412.8 286.7H412.8L415.2 289H415.1ZM286.9 284.5H288.4L286 286.7H284.4ZM288.9 284.5H318.6L317.5 286.7H286.5ZM334.7 284.5H336.8L336.3 286.7H334.1ZM372.7 284.5H376.7L377.8 286.7H373.7ZM380.4 284.5H382.3L383.6 286.7H381.7ZM385.8 284.5H410.4L412.8 286.7H387.3ZM289.3 282.4H316.3L314.9 284.5H286.8ZM318.1 282.4H319.9L318.6 284.5H316.8ZM331.3 282.4H335.3L334.7 284.5H330.5ZM392 282.4H407.9L410.4 284.5H393.8ZM291.9 280.4H308.5L306.7 282.4H289.3ZM332 280.4H333.9L333.3 282.4H331.3ZM392.7 280.4H393.9L395.9 282.4H394.7ZM395 280.4H405.3L407.9 282.4H397.2ZM294.6 278.4H305.4L303.3 280.4H291.9ZM334.6 278.4H336.4L335.8 280.4H333.9ZM394.9 278.4H396.7L399.1 280.4H397.2ZM397.6 278.4H402.6L405.3 280.4H400ZM297.3 276.6H302.9L300.5 278.4H294.6ZM335.3 276.6H338.8L338.3 278.4H334.6ZM395.1 276.6H395.8L398.3 278.4H397.6ZM399 276.6H399.3L402 278.4H401.6ZM399.5 276.6H399.9L402.6 278.4H402.2ZM300.1 274.9H301.7L299 276.6H297.3ZM302.7 274.9H303.3L300.7 276.6H300.1ZM337.7 274.9H339.3L338.8 276.6H337.1ZM395.5 274.9H395.9L398.6 276.6H398.2ZM396.5 274.9H397.1L399.8 276.6H399.3ZM397.1 274.9H397.1L399.9 276.6H399.9ZM338.3 273.2H343L342.7 274.9H337.7ZM340.4 271.7H343.4L343 273.2H339.9ZM342.4 270.2H346.5L346.4 271.7H341.9ZM347.9 270.2H352.1L352.3 271.7H347.9ZM353.5 270.2H354.8L355.3 271.7H353.8ZM342.8 268.9H348L347.9 270.2H342.4ZM349.2 268.9H350.5L350.7 270.2H349.3ZM353.1 268.9H354.4L354.8 270.2H353.5ZM355.6 268.9H356.9L357.6 270.2H356.2ZM359.4 268.9H360.6L361.6 270.2H360.2ZM361.8 268.9H363L364.2 270.2H362.9ZM364.2 268.9H365.3L366.7 270.2H365.4ZM366.4 268.9H367.6L369.1 270.2H367.9ZM343.3 267.7H348L348 268.9H342.8ZM349.2 267.7H352.7L353.1 268.9H349.2ZM356.2 267.7H361.8L363 268.9H356.9ZM362.9 267.7H363.9L365.3 268.9H364.2ZM365 267.7H369.8L371.8 268.9H366.4ZM371.6 267.7H372.5L374.6 268.9H373.7ZM343.8 266.5H351.3L351.5 267.7H343.3ZM352.3 266.5H357.6L358.5 267.7H352.7ZM358.6 266.5H364.4L366 267.7H359.6ZM365.3 266.5H368.7L370.7 267.7H367ZM370.3 266.5H371L373.3 267.7H372.5ZM373.1 266.5H374.3L376.9 267.7H375.6ZM343.3 265.5H352L352.3 266.5H342.7ZM353.9 265.5H356.7L357.6 266.5H354.5ZM359.4 265.5H366.7L368.7 266.5H360.6ZM367.4 265.5H370L372.4 266.5H369.5ZM371.2 265.5H371.7L374.3 266.5H373.7ZM372.2 265.5H373.1L375.9 266.5H374.9ZM373.6 265.5H374.3L377.2 266.5H376.4ZM374.9 265.5H375.4L378.5 266.5H377.9ZM376.1 265.5H376.1L379.3 266.5H379.2ZM342.3 264.6H353.3L353.9 265.5H341.5ZM354.1 264.6H358.9L360.2 265.5H354.8ZM359.7 264.6H372.4L375.4 265.5H361.1ZM372.5 264.6H372.7L375.8 265.5H375.6ZM372.8 264.6H372.9L376 265.5H375.9ZM373 264.6H373L376.1 265.5H376.1ZM327.4 263.8H327.4L324.2 264.6H324.2ZM342.4 263.8H349L349 264.6H341.5ZM349.7 263.8H362.5L364.6 264.6H349.9ZM363.1 263.8H369.8L373 264.6H365.2ZM341.6 263.1H358.4L360.1 263.8H340.3ZM358.9 263.1H366.6L369.8 263.8H360.8ZM341 262.6H363.3L366.6 263.1H339.3ZM340.8 262.1H358.6L361.5 262.6H338.5ZM358.8 262.1H360L363.3 262.6H361.7ZM360.1 262.1H360.1L363.3 262.6H363.3ZM340.4 261.8H340.5L337.3 262.1H337.1ZM340.5 261.8H356L359 262.1H337.3ZM356.2 261.8H356.8L360.1 262.1H359.2ZM343.7 261.5H353.5L356.7 261.8H340.4ZM353.5 261.5H353.5L356.8 261.8H356.7ZM347 261.4H349.2L350.5 261.5H343.7ZM349.3 261.4H350.2L353.5 261.5H350.7ZM348.6 261.4H348.6L348 261.4H347ZM348.6 261.4H348.6L348.3 261.4H348.1ZM348.6 261.4H348.6L348.8 261.4H348.4ZM348.6 261.4H348.6L350.2 261.4H348.9ZM348.6 261.4H348.6L350.2 261.4H350.2Z"/>
<path fill="#e98b6e" stroke="#e98b6e" d="M348.1 445.7H350L349.9 446.6H348.2ZM358.5 445.7H360.2L358.9 446.6H357.3ZM362.5 444.7H363.5L362 445.7H361.1ZM342.2 443.5H344.5L344.9 444.7H342.7ZM363.9 443.5H366L364.4 444.7H362.5ZM342.8 442.3H344.1L344.5 443.5H343.3ZM365.3 442.3H367.6L366 443.5H363.9ZM345.1 441H346.5L346.7 442.3H345.4ZM362.9 441H369.1L367.6 442.3H361.8ZM370.3 441H374.7L372.7 442.3H368.6ZM369.3 439.5H378.8L376.8 441H367.9ZM299.6 395.4H302.1L302.9 398.4H300.5ZM293.3 389.4H295.7L296.4 392.4H294ZM300.7 389.4H303.3L303.9 392.4H301.4ZM295 386.3H297.5L298.2 389.4H295.7ZM300.1 386.3H302.7L303.3 389.4H300.7ZM275.6 324.9H277.5L276.7 328.1H274.8ZM278.4 321.8H280.3L279.4 324.9H277.5ZM279.3 318.8H281.2L280.3 321.8H278.4ZM356.2 318.8H382.5L383 321.8H356.3ZM280.4 315.8H282.3L281.2 318.8H279.3ZM356 315.8H387.4L388 318.8H356.2ZM281.6 312.8H283.4L282.3 315.8H280.4ZM370.3 312.8H375.9L376.4 315.8H370.7ZM378.7 312.8H384.1L384.7 315.8H379.2ZM391.8 312.8H399.1L400 315.8H392.6ZM405.8 312.8H407.9L409 315.8H406.8ZM410 312.8H411.9L413 315.8H411ZM420.5 312.8H422L423.3 315.8H421.8ZM423.4 312.8H424.7L426 315.8H424.7ZM425.9 312.8H427L428.3 315.8H427.2ZM282.8 309.9H284.6L283.4 312.8H281.6ZM316.4 309.9H332.9L332.6 312.8H315.8ZM378.1 309.9H380.8L381.4 312.8H378.7ZM388.5 309.9H391L391.8 312.8H389.3ZM417.7 309.9H419.2L420.5 312.8H419ZM284.1 307.1H285.8L284.6 309.9H282.8ZM311.9 307.1H314.5L313.8 309.9H311.2ZM336 307.1H341.6L341.4 309.9H335.7ZM390.2 307.1H403.7L404.8 309.9H391ZM405.7 307.1H409.5L410.8 309.9H406.9ZM416.3 307.1H417.8L419.2 309.9H417.7ZM269.6 304.3H270.2L268.5 307.1H267.9ZM283.9 304.3H287.2L285.8 307.1H282.5ZM312.7 304.3H315.2L314.5 307.1H311.9ZM344.5 304.3H347.2L347.2 307.1H344.4ZM391.6 304.3H417.7L419.2 307.1H392.6ZM421.3 304.3H422.4L424 307.1H422.9ZM427.5 304.3H427.6L429.3 307.1H429.2ZM283.9 301.6H287L285.5 304.3H282.3ZM311.2 301.6H316L315.2 304.3H310.3ZM349.9 301.6H352.6L352.7 304.3H350ZM388.3 301.6H392.9L393.9 304.3H389.3ZM411.8 301.6H422.4L424.2 304.3H413.3ZM284.1 298.9H288.5L287 301.6H282.5ZM314.4 298.9H321.6L320.9 301.6H313.6ZM352.5 298.9H357.8L358 301.6H352.6ZM389.6 298.9H391.8L392.9 301.6H390.6ZM414.4 298.9H421.3L423.1 301.6H416.1ZM421.9 298.9H422.4L424.3 301.6H423.8ZM422.9 298.9H423.3L425.2 301.6H424.8ZM423.7 298.9H423.8L425.8 301.6H425.7ZM283.4 296.3H287.2L285.5 298.9H281.6ZM322.4 296.3H324.8L324.1 298.9H321.6ZM327.2 296.3H329.7L329.1 298.9H326.6ZM357.5 296.3H360.1L360.4 298.9H357.8ZM390.6 296.3H392.7L393.9 298.9H391.8ZM416.9 296.3H421.3L423.3 298.9H418.8ZM421.5 296.3H421.8L423.8 298.9H423.5ZM282.2 293.8H286.4L284.6 296.3H280.3ZM335 293.8H337.5L337.1 296.3H334.6ZM357.3 293.8H364.6L365.1 296.3H357.5ZM391.4 293.8H393.3L394.7 296.3H392.7ZM416.6 293.8H419.7L421.8 296.3H418.6ZM279.7 291.4H279.7L277.5 293.8H277.5ZM279.8 291.4H287.2L285.3 293.8H277.6ZM337.8 291.4H340.2L339.9 293.8H337.5ZM357 291.4H366.4L367 293.8H357.3ZM393.8 291.4H395.6L397.1 293.8H395.2ZM414.5 291.4H417.5L419.7 293.8H416.6ZM282 289H284.9L282.7 291.4H279.7ZM286.4 289H287.3L285.2 291.4H284.3ZM338.2 289H340.5L340.2 291.4H337.8ZM359 289H370.3L371 291.4H359.4ZM395.7 289H398.9L400.6 291.4H397.3ZM410.8 289H411.6L413.7 291.4H412.9ZM412.3 289H415.2L417.5 291.4H414.5ZM284.8 286.7H285.1L282.8 289H282.5ZM285.5 286.7H287.9L285.6 289H283.2ZM336.3 286.7H338.5L338.2 289H335.9ZM358.7 286.7H367.4L368.1 289H359ZM369.5 286.7H373.7L374.6 289H370.3ZM401.2 286.7H409.3L411.6 289H403.2ZM410 286.7H412.4L414.7 289H412.3ZM412.6 286.7H412.8L415.1 289H415ZM286.8 284.5H286.9L284.4 286.7H284.4ZM288.4 284.5H288.9L286.5 286.7H286ZM362.5 284.5H372.7L373.7 286.7H363.1ZM376.7 284.5H380.4L381.7 286.7H377.8ZM382.3 284.5H385.8L387.3 286.7H383.6ZM335.3 282.4H337.3L336.8 284.5H334.7ZM363.9 282.4H392L393.8 284.5H364.6ZM333.9 280.4H337.8L337.3 282.4H333.3ZM363.3 280.4H377.8L379.1 282.4H363.9ZM387.3 280.4H392.7L394.7 282.4H389ZM393.9 280.4H395L397.2 282.4H395.9ZM336.4 278.4H340.1L339.7 280.4H335.8ZM364.4 278.4H373.1L374.3 280.4H365.2ZM390.6 278.4H394.9L397.2 280.4H392.7ZM396.7 278.4H397.6L400 280.4H399.1ZM338.8 276.6H344.1L343.9 278.4H338.3ZM363.6 276.6H370.3L371.4 278.4H364.4ZM391.6 276.6H395.1L397.6 278.4H393.9ZM395.8 276.6H399L401.6 278.4H398.3ZM399.3 276.6H399.5L402.2 278.4H402ZM339.3 274.9H347.8L347.7 276.6H338.8ZM351.1 274.9H352.8L353.1 276.6H351.3ZM357.9 274.9H359.5L360.1 276.6H358.4ZM361.2 274.9H370.6L371.9 276.6H361.9ZM391 274.9H395.5L398.2 276.6H393.5ZM395.9 274.9H396.5L399.3 276.6H398.6ZM397.1 274.9H397.1L399.9 276.6H399.8ZM343 273.2H370.7L372.1 274.9H342.7ZM390.6 273.2H394.3L397.1 274.9H393.3ZM343.4 271.7H373.1L374.8 273.2H343ZM389.5 271.7H389.9L392.7 273.2H392.3ZM390.3 271.7H391.4L394.3 273.2H393.1ZM346.5 270.2H347.9L347.9 271.7H346.4ZM352.1 270.2H353.5L353.8 271.7H352.3ZM354.8 270.2H373.7L375.5 271.7H355.3ZM348 268.9H349.2L349.3 270.2H347.9ZM350.5 268.9H353.1L353.5 270.2H350.7ZM354.4 268.9H355.6L356.2 270.2H354.8ZM356.9 268.9H359.4L360.2 270.2H357.6ZM360.6 268.9H361.8L362.9 270.2H361.6ZM363 268.9H364.2L365.4 270.2H364.2ZM365.3 268.9H366.4L367.9 270.2H366.7ZM367.6 268.9H377.2L379.5 270.2H369.1ZM385 268.9H385.1L388.1 270.2H387.9ZM348 267.7H349.2L349.2 268.9H348ZM352.7 267.7H356.2L356.9 268.9H353.1ZM361.8 267.7H362.9L364.2 268.9H363ZM363.9 267.7H365L366.4 268.9H365.3ZM369.8 267.7H371.6L373.7 268.9H371.8ZM372.5 267.7H382.4L385.4 268.9H374.6ZM351.3 266.5H352.3L352.7 267.7H351.5ZM357.6 266.5H358.6L359.6 267.7H358.5ZM364.4 266.5H365.3L367 267.7H366ZM368.7 266.5H370.3L372.5 267.7H370.7ZM371 266.5H373.1L375.6 267.7H373.3ZM374.3 266.5H379.3L382.4 267.7H376.9ZM352 265.5H353.9L354.5 266.5H352.3ZM356.7 265.5H359.4L360.6 266.5H357.6ZM366.7 265.5H367.4L369.5 266.5H368.7ZM370 265.5H371.2L373.7 266.5H372.4ZM371.7 265.5H372.2L374.9 266.5H374.3ZM373.1 265.5H373.6L376.4 266.5H375.9ZM374.3 265.5H374.9L377.9 266.5H377.2ZM375.4 265.5H376.1L379.2 266.5H378.5ZM376.1 265.5H376.1L379.3 266.5H379.3ZM353.3 264.6H354.1L354.8 265.5H353.9ZM358.9 264.6H359.7L361.1 265.5H360.2ZM372.4 264.6H372.5L375.6 265.5H375.4ZM372.7 264.6H372.8L375.9 265.5H375.8ZM372.9 264.6H373L376.1 265.5H376ZM349 263.8H349.7L349.9 264.6H349ZM362.5 263.8H363.1L365.2 264.6H364.6ZM358.4 263.1H358.9L360.8 263.8H360.1ZM358.6 262.1H358.8L361.7 262.6H361.5ZM360 262.1H360.1L363.3 262.6H363.3ZM356 261.8H356.2L359.2 262.1H359ZM353.5 261.5H353.5L356.7 261.8H356.7ZM349.2 261.4H349.3L350.7 261.5H350.5ZM348.6 261.4H348.6L348.1 261.4H348ZM348.6 261.4H348.6L348.4 261.4H348.3ZM348.6 261.4H348.6L348.9 261.4H348.8ZM348.6 261.4H348.6L350.2 261.4H350.2Z"/>
<path fill="#d86551" stroke="#d86551" d="M350 445.7H358.5L357.3 446.6H349.9ZM360.6 444.7H362.5L361.1 445.7H359.4ZM344.5 443.5H345.7L345.9 444.7H344.9ZM362.9 443.5H363.9L362.5 444.7H361.6ZM344.1 442.3H345.4L345.7 443.5H344.5ZM363 442.3H365.3L363.9 443.5H361.8ZM346.5 441H349.3L349.2 442.3H346.7ZM360.2 441H362.9L361.8 442.3H359.4ZM294.9 395.4H299.6L300.5 398.4H295.8ZM294 392.4H296.4L297.2 395.4H294.9ZM297.5 386.3H300.1L300.7 389.4H298.2ZM272.3 324.9H275.6L274.8 328.1H271.4ZM281.1 309.9H282.8L281.6 312.8H279.8ZM269.9 307.1H270.6L269 309.9H268.3ZM282.5 307.1H284.1L282.8 309.9H281.1ZM314.5 307.1H317.1L316.4 309.9H313.8ZM270.2 304.3H271L269.3 307.1H268.5ZM282.3 304.3H283.9L282.5 307.1H280.9ZM315.2 304.3H317.7L317.1 307.1H314.5ZM341.7 304.3H344.5L344.4 307.1H341.6ZM271.4 301.6H272.9L271 304.3H269.6ZM282.5 301.6H283.9L282.3 304.3H280.9ZM316 301.6H318.4L317.7 304.3H315.2ZM347.3 301.6H349.9L350 304.3H347.2ZM392.9 301.6H397.2L398.3 304.3H393.9ZM406.8 301.6H411.8L413.3 304.3H408.2ZM273.4 298.9H274.3L272.4 301.6H271.4ZM281.6 298.9H284.1L282.5 301.6H279.8ZM321.6 298.9H324.1L323.5 301.6H320.9ZM349.9 298.9H352.5L352.6 301.6H349.9ZM391.8 298.9H393.9L395 301.6H392.9ZM411.7 298.9H414.4L416.1 301.6H413.3ZM275.4 296.3H276.7L274.8 298.9H273.4ZM280.3 296.3H283.4L281.6 298.9H278.4ZM329.7 296.3H332.1L331.7 298.9H329.1ZM352.4 296.3H357.5L357.8 298.9H352.5ZM413.8 296.3H416.9L418.8 298.9H415.6ZM277.5 293.8H282.2L280.3 296.3H275.4ZM337.5 293.8H339.9L339.7 296.3H337.1ZM349.8 293.8H357.3L357.5 296.3H349.9ZM393.3 293.8H395.2L396.6 296.3H394.7ZM413 293.8H416.6L418.6 296.3H414.9ZM279.7 291.4H279.8L277.6 293.8H277.5ZM340.2 291.4H357L357.3 293.8H339.9ZM395.6 291.4H397.3L398.9 293.8H397.1ZM412 291.4H414.5L416.6 293.8H414ZM340.5 289H359L359.4 291.4H340.2ZM398.9 289H410.8L412.9 291.4H400.6ZM411.6 289H412.3L414.5 291.4H413.7ZM338.5 286.7H340.8L340.5 289H338.2ZM354.2 286.7H358.7L359 289H354.4ZM336.8 284.5H341.1L340.8 286.7H336.3ZM356.1 284.5H362.5L363.1 286.7H356.4ZM337.3 282.4H339.3L338.9 284.5H336.8ZM357.9 282.4H363.9L364.6 284.5H358.3ZM337.8 280.4H341.7L341.4 282.4H337.3ZM357.5 280.4H363.3L363.9 282.4H357.9ZM377.8 280.4H387.3L389 282.4H379.1ZM340.1 278.4H345.8L345.6 280.4H339.7ZM357.1 278.4H364.4L365.2 280.4H357.5ZM373.1 278.4H376.4L377.8 280.4H374.3ZM386.8 278.4H390.6L392.7 280.4H388.7ZM344.1 276.6H363.6L364.4 278.4H343.9ZM370.3 276.6H375L376.4 278.4H371.4ZM388.5 276.6H391.6L393.9 278.4H390.6ZM347.8 274.9H351.1L351.3 276.6H347.7ZM352.8 274.9H357.9L358.4 276.6H353.1ZM359.5 274.9H361.2L361.9 276.6H360.1ZM370.6 274.9H373.6L375 276.6H371.9ZM389.3 274.9H391L393.5 276.6H391.6ZM370.7 273.2H373.5L375 274.9H372.1ZM388.5 273.2H390.6L393.3 274.9H391ZM373.1 271.7H375.5L377.3 273.2H374.8ZM386.7 271.7H389.5L392.3 273.2H389.3ZM389.9 271.7H390.3L393.1 273.2H392.7ZM373.7 270.2H377.7L379.9 271.7H375.5ZM384.7 270.2H388.4L391.4 271.7H387.4ZM377.2 268.9H385L387.9 270.2H379.5ZM385.1 268.9H385.4L388.4 270.2H388.1Z"/>
<path fill="#c6413e" stroke="#c6413e" d="M348.1 444.7H349.1L349.1 445.7H348.1ZM358.6 444.7H360.6L359.4 445.7H357.6ZM345.7 443.5H346.8L347 444.7H345.9ZM361.8 443.5H362.9L361.6 444.7H360.6ZM345.4 442.3H346.7L346.8 443.5H345.7ZM361.8 442.3H363L361.8 443.5H360.7ZM349.3 441H350.7L350.5 442.3H349.2ZM357.6 441H360.2L359.4 442.3H356.9ZM296.4 392.4H301.4L302.1 395.4H297.2ZM295.7 389.4H300.7L301.4 392.4H296.4ZM276.6 321.8H278.4L277.5 324.9H275.6ZM277.6 318.8H279.3L278.4 321.8H276.6ZM278.7 315.8H280.4L279.3 318.8H277.6ZM279.8 312.8H281.6L280.4 315.8H278.7ZM269.8 309.9H270.7L269.2 312.8H268.3ZM270.6 307.1H271.4L269.8 309.9H269ZM280.9 307.1H282.5L281.1 309.9H279.5ZM317.1 307.1H322.3L321.8 309.9H316.4ZM327.7 307.1H336L335.7 309.9H327.3ZM271 304.3H273L271.4 307.1H269.3ZM280.9 304.3H282.3L280.9 307.1H279.4ZM317.7 304.3H320.3L319.7 307.1H317.1ZM339 304.3H341.7L341.6 307.1H338.8ZM272.9 301.6H274.8L273 304.3H271ZM281.1 301.6H282.5L280.9 304.3H279.5ZM318.4 301.6H323.5L322.9 304.3H317.7ZM344.6 301.6H347.3L347.2 304.3H344.5ZM397.2 301.6H406.8L408.2 304.3H398.3ZM274.3 298.9H278.4L276.6 301.6H272.4ZM279.3 298.9H281.6L279.8 301.6H277.6ZM324.1 298.9H329.1L328.6 301.6H323.5ZM347.3 298.9H349.9L349.9 301.6H347.3ZM393.9 298.9H395.9L397.2 301.6H395ZM408.7 298.9H411.7L413.3 301.6H410.2ZM276.7 296.3H280.3L278.4 298.9H274.8ZM332.1 296.3H337.1L336.8 298.9H331.7ZM347.3 296.3H352.4L352.5 298.9H347.3ZM392.7 296.3H394.7L395.9 298.9H393.9ZM411.4 296.3H413.8L415.6 298.9H413.1ZM339.9 293.8H349.8L349.9 296.3H339.7ZM410.8 293.8H413L414.9 296.3H412.6ZM397.3 291.4H399L400.6 293.8H398.9ZM408.9 291.4H412L414 293.8H410.8ZM340.8 286.7H354.2L354.4 289H340.5ZM341.1 284.5H356.1L356.4 286.7H340.8ZM339.3 282.4H357.9L358.3 284.5H338.9ZM341.7 280.4H357.5L357.9 282.4H341.4ZM345.8 278.4H357.1L357.5 280.4H345.6ZM376.4 278.4H379.6L381.1 280.4H377.8ZM381.1 278.4H386.8L388.7 280.4H382.7ZM375 276.6H376.5L378 278.4H376.4ZM386.1 276.6H388.5L390.6 278.4H388.1ZM373.6 274.9H375L376.5 276.6H375ZM387.3 274.9H389.3L391.6 276.6H389.6ZM373.5 273.2H376.1L377.8 274.9H375ZM386.9 273.2H388.5L391 274.9H389.3ZM375.5 271.7H378.8L380.9 273.2H377.3ZM383.6 271.7H386.7L389.3 273.2H386ZM377.7 270.2H384.7L387.4 271.7H379.9Z"/>
<path fill="#b3192c" stroke="#b3192c" d="M349.1 444.7H351.3L351 445.7H349.1ZM357.6 444.7H358.6L357.6 445.7H356.7ZM346.8 443.5H348L348.1 444.7H347ZM359.6 443.5H361.8L360.6 444.7H358.6ZM346.7 442.3H348L348 443.5H346.8ZM360.6 442.3H361.8L360.7 443.5H359.6ZM350.7 441H357.6L356.9 442.3H350.5ZM271.7 321.8H276.6L275.6 324.9H270.7ZM275.9 318.8H277.6L276.6 321.8H274.8ZM270.2 312.8H271.3L270 315.8H268.9ZM278.2 312.8H279.8L278.7 315.8H277ZM270.7 309.9H271.7L270.2 312.8H269.2ZM279.5 309.9H281.1L279.8 312.8H278.2ZM271.4 307.1H273.2L271.7 309.9H269.8ZM279.4 307.1H280.9L279.5 309.9H278ZM322.3 307.1H327.7L327.3 309.9H321.8ZM273 304.3H273.9L272.3 307.1H271.4ZM279.5 304.3H280.9L279.4 307.1H278ZM320.3 304.3H322.9L322.3 307.1H319.7ZM336.2 304.3H339L338.8 307.1H336ZM274.8 301.6H276.6L274.8 304.3H273ZM277.6 301.6H281.1L279.5 304.3H275.9ZM341.9 301.6H344.6L344.5 304.3H341.7ZM278.4 298.9H279.3L277.6 301.6H276.6ZM329.1 298.9H331.7L331.2 301.6H328.6ZM344.7 298.9H347.3L347.3 301.6H344.6ZM395.9 298.9H398L399.2 301.6H397.2ZM405.4 298.9H408.7L410.2 301.6H406.8ZM337.1 296.3H342.2L342 298.9H336.8ZM344.8 296.3H347.3L347.3 298.9H344.7ZM394.7 296.3H396.6L398 298.9H395.9ZM408.6 296.3H411.4L413.1 298.9H410.2ZM395.2 293.8H397.1L398.5 296.3H396.6ZM409.5 293.8H410.8L412.6 296.3H411.4ZM399 291.4H402.1L403.9 293.8H400.6ZM403.6 291.4H408.9L410.8 293.8H405.4ZM379.6 278.4H381.1L382.7 280.4H381.1ZM376.5 276.6H379.5L381.1 278.4H378ZM384.9 276.6H386.1L388.1 278.4H386.8ZM375 274.9H377.8L379.5 276.6H376.5ZM385.2 274.9H387.3L389.6 276.6H387.3ZM376.1 273.2H378.6L380.4 274.9H377.8ZM384.1 273.2H386.9L389.3 274.9H386.3ZM378.8 271.7H383.6L386 273.2H380.9Z"/>
<path fill="#8d0c25" stroke="#8d0c25" d="M351.3 444.7H357.6L356.7 445.7H351ZM348 443.5H349.2L349.1 444.7H348.1ZM358.5 443.5H359.6L358.6 444.7H357.6ZM348 442.3H349.2L349.2 443.5H348ZM358.1 442.3H360.6L359.6 443.5H357.3ZM271.3 318.8H272.8L271.7 321.8H270.2ZM277 315.8H278.7L277.6 318.8H275.9ZM271.3 312.8H272.5L271.2 315.8H270ZM271.7 309.9H272.8L271.3 312.8H270.2ZM278 309.9H279.5L278.2 312.8H276.7ZM273.2 307.1H274.3L272.8 309.9H271.7ZM273.9 304.3H275.9L274.3 307.1H272.3ZM278.2 304.3H279.5L278 307.1H276.7ZM322.9 304.3H325.5L325 307.1H322.3ZM333.5 304.3H336.2L336 307.1H333.2ZM276.6 301.6H277.6L275.9 304.3H274.8ZM323.5 301.6H328.6L328.2 304.3H322.9ZM339.2 301.6H341.9L341.7 304.3H339ZM331.7 298.9H334.2L333.9 301.6H331.2ZM342 298.9H344.7L344.6 301.6H341.9ZM398 298.9H405.4L406.8 301.6H399.2ZM342.2 296.3H344.8L344.7 298.9H342ZM396.6 296.3H398.5L399.9 298.9H398ZM405.5 296.3H408.6L410.2 298.9H407.1ZM397.1 293.8H400.6L402.1 296.3H398.5ZM406.8 293.8H409.5L411.4 296.3H408.6ZM402.1 291.4H403.6L405.4 293.8H403.9ZM379.5 276.6H384.9L386.8 278.4H381.1ZM377.8 274.9H385.2L387.3 276.6H379.5ZM378.6 273.2H384.1L386.3 274.9H380.4Z"/>
<path fill="#67001f" stroke="#67001f" d="M349.2 443.5H350.4L350.2 444.7H349.1ZM357.3 443.5H358.5L357.6 444.7H356.5ZM349.2 442.3H351.8L351.5 443.5H349.2ZM356.9 442.3H358.1L357.3 443.5H356.2ZM272.8 318.8H275.9L274.8 321.8H271.7ZM271.2 315.8H272.5L271.3 318.8H270ZM275.4 315.8H277L275.9 318.8H274.3ZM272.5 312.8H273.8L272.5 315.8H271.2ZM276.7 312.8H278.2L277 315.8H275.4ZM272.8 309.9H273.9L272.5 312.8H271.3ZM276.5 309.9H278L276.7 312.8H275.2ZM274.3 307.1H276.7L275.2 309.9H272.8ZM278 307.1H279.4L278 309.9H276.5ZM275.9 304.3H278.2L276.7 307.1H274.3ZM325.5 304.3H333.5L333.2 307.1H325ZM328.6 301.6H331.2L330.8 304.3H328.2ZM336.5 301.6H339.2L339 304.3H336.2ZM334.2 298.9H342L341.9 301.6H333.9ZM398.5 296.3H405.5L407.1 298.9H399.9ZM400.6 293.8H406.8L408.6 296.3H402.1Z"/>
<path fill="#67001f" stroke="#67001f" d="M350.4 443.5H357.3L356.5 444.7H350.2ZM351.8 442.3H356.9L356.2 443.5H351.5ZM272.5 315.8H275.4L274.3 318.8H271.3ZM273.8 312.8H276.7L275.4 315.8H272.5ZM273.9 309.9H276.5L275.2 312.8H272.5ZM276.7 307.1H278L276.5 309.9H275.2ZM331.2 301.6H336.5L336.2 304.3H330.8Z"/>
</g>
<path d="M316.3,267.1 315.9,267.2 315.6,267.4 315.3,267.5 315.0,267.6 315.2,267.5 315.5,267.4 315.8,267.3 316.1,267.2 316.4,267.1 316.2,267.2 316.1,267.3 315.7,267.6 315.3,267.8 314.9,268.0 314.5,268.3 315.0,268.3 315.3,268.3 315.6,268.3 315.9,268.3 316.2,268.3 316.5,268.3 316.9,268.3 317.3,268.3 317.6,268.3 318.0,268.3 318.8,268.1 319.5,268.0 320.2,267.8 320.9,267.7 323.0,266.8 325.1,266.0 324.2,266.5 323.4,267.1 322.7,267.7 323.4,267.6 324.0,267.5 324.6,267.4 325.3,267.4 325.4,267.7 325.5,268.0 324.5,268.7 323.5,269.5 322.5,269.8 321.5,270.1 320.4,270.3 319.4,270.6 318.7,270.8 317.9,270.9 316.5,271.5 315.0,272.0 313.6,272.6 312.1,273.2 310.5,274.1 308.9,275.0 308.5,275.8 308.2,276.6 308.7,276.7 309.3,276.9 310.0,277.0 310.3,277.6 310.7,278.2 311.4,278.3 312.2,278.4 311.4,279.4 310.7,280.4 310.5,281.9 311.7,281.9 312.7,280.6 313.8,279.4 315.3,278.4 316.9,277.5 317.9,276.6 318.9,275.7 319.2,274.9 319.6,274.0 320.7,273.0 321.8,272.0 322.6,272.1 323.3,272.1 324.1,272.2 324.6,272.5 325.2,272.9 325.8,273.2 325.2,274.0 324.7,274.9 325.5,275.0 326.2,275.1 327.0,275.3 328.1,274.5 329.2,273.8 329.4,274.9 329.6,276.2 330.0,277.0 330.4,278.0 331.1,278.7 332.0,279.4 332.5,280.1 333.1,280.9 331.4,282.0 329.7,282.6 328.0,283.2 326.7,283.2 325.5,283.2 324.3,283.2 323.1,283.2 321.9,283.7 320.7,284.2 318.8,285.2 316.8,286.1 318.2,285.7 319.6,285.3 321.1,284.9 322.5,284.5 322.5,285.6 321.2,287.3 322.0,287.8 323.4,288.1 324.9,288.4 326.4,287.3 324.8,288.8 323.0,289.3 321.1,289.9 319.9,290.3 318.6,290.8 319.4,289.0 318.4,289.0 317.1,289.6 315.7,290.2 313.8,291.0 312.9,292.6 313.4,292.9 311.7,293.3 310.1,293.8 308.6,294.3 307.7,295.7 305.5,297.6 304.4,298.9 303.8,300.9 301.9,302.2 300.5,302.9 299.2,303.6 297.7,304.6 296.2,305.7 294.9,307.8 294.7,309.9 294.6,312.1 294.2,313.6 293.8,315.0 292.7,315.5 292.2,313.6 292.1,311.4 292.3,309.9 292.4,308.5 290.7,308.9 289.9,308.4 289.2,307.9 288.2,308.1 287.2,308.2 286.1,309.6 284.8,309.5 283.8,309.1 282.9,308.8 281.2,309.6 280.0,310.5 278.8,311.4 278.0,312.8 277.2,314.3 276.5,315.8 275.8,317.3 275.3,318.6 274.9,319.9 274.7,322.0 274.6,324.2 275.5,325.4 276.2,326.2 277.2,325.9 278.2,325.6 279.9,324.2 280.8,321.8 282.2,321.4 283.5,320.9 284.5,321.2 283.8,322.7 283.1,324.2 282.2,325.7 281.5,327.7 280.8,329.6 281.8,330.0 282.9,329.9 284.0,329.8 285.1,330.5 286.2,331.2 285.8,332.8 285.4,334.4 285.1,336.0 284.7,337.6 285.2,339.0 285.8,340.4 287.5,341.2 289.5,340.1 290.7,340.7 291.9,341.4 290.6,341.7 288.5,343.6 286.8,342.5 285.1,341.7 284.0,340.5 283.0,339.2 282.2,336.8 280.9,334.4 279.5,333.6 278.3,333.2 277.1,332.8 276.2,331.2 275.3,329.6 274.4,329.8 273.5,330.0 272.3,329.2 271.3,328.5 270.3,327.5 269.5,326.5 268.8,325.3 268.1,324.2 268.6,322.2 269.1,320.3 269.2,318.0 269.4,315.8 269.6,313.8 269.9,311.9 270.2,309.9 270.9,308.4 271.5,306.8 271.3,306.6 271.1,306.4 270.0,308.5 269.3,310.4 268.6,312.3 268.1,314.3 267.6,316.5 267.1,318.8 267.1,317.7 267.1,316.5 267.6,314.3 268.3,312.1 268.8,310.3 269.4,308.5 270.3,306.7 271.2,304.8 271.4,304.0 271.7,303.1 272.0,302.2 272.9,300.7 273.9,299.2 274.8,297.8 275.8,296.4 276.8,295.0 278.4,293.2 280.0,291.4 281.7,289.6 283.5,287.8 284.9,286.5 286.3,285.2 287.3,284.2 288.3,283.3 289.4,282.4 290.8,281.2 292.3,280.0 293.9,278.9 295.5,277.8 297.1,276.7 298.8,275.7 299.5,275.2 300.3,274.7 301.2,274.2 302.0,273.7 302.3,273.6 302.6,273.4 302.9,273.2 303.2,273.0 303.6,272.8 304.0,272.6 303.1,273.1 302.2,273.6 301.4,274.1 301.2,274.2 302.9,273.2 304.7,272.3 306.5,271.3 308.3,270.4 310.1,269.6 311.8,268.9 313.6,268.1 315.4,267.5 315.8,267.3 316.2,267.1 316.7,267.0 317.6,266.6 318.6,266.3 319.7,266.0 320.8,265.6 320.2,265.8 319.7,265.9 319.2,266.1 318.8,266.2 318.3,266.4 317.9,266.6 317.5,266.7 317.0,266.8 316.7,267.0ZM334.8,269.2 333.7,270.0 332.5,270.8 331.2,271.7 330.1,271.9 329.0,272.2 327.8,272.4 327.3,272.0 326.8,271.7 326.3,271.3 325.8,271.1 325.2,270.9 324.7,270.8 324.2,270.6 325.8,269.8 327.3,269.0 328.9,268.3 328.8,267.9 328.7,267.5 328.8,267.1 328.2,267.1 327.5,267.1 327.0,267.1 326.4,267.1 325.8,267.1 326.4,266.5 327.1,266.0 327.8,265.5 328.4,265.5 329.1,265.4 329.7,265.3 330.3,265.3 331.0,265.2 331.6,265.2 331.8,265.3 331.9,265.5 332.1,265.6 332.4,265.8 332.5,266.0 332.7,266.3 332.9,266.5 333.2,266.8 333.5,267.1 333.6,267.5 333.9,267.9 334.1,268.3 334.5,268.8ZM343.7,262.3 343.4,262.2 343.1,262.2 342.9,262.1 342.5,262.1 342.2,262.1 341.8,262.2 341.5,262.2 341.1,262.2 340.8,262.2 340.4,262.3 340.1,262.3 339.7,262.3 339.4,262.3 339.0,262.4 338.6,262.4 338.3,262.4 337.9,262.4 336.6,262.7 335.3,262.9 333.9,263.2 332.6,263.5 332.6,263.7 332.8,263.8 333.1,264.0 333.3,264.1 333.5,264.1 333.7,264.1 334.0,264.2 335.0,264.0 335.9,263.7 336.9,263.5 337.8,263.3 338.6,263.2 339.3,263.0 340.0,262.9 340.7,262.8 341.3,262.7 341.9,262.6 342.6,262.5 343.1,262.4ZM318.0,267.7 317.8,267.6 317.5,267.4 317.3,267.3 317.2,267.1 317.6,266.9 317.9,266.7 318.3,266.5 318.7,266.4 319.2,266.2 319.6,266.0 321.6,265.4 323.6,264.8 324.1,264.7 324.6,264.6 325.1,264.5 325.6,264.4 326.1,264.3 326.6,264.2 326.9,264.2 327.3,264.2 327.7,264.2 328.0,264.3 328.1,264.4 328.3,264.5 328.6,264.6 327.3,264.9 326.0,265.3 324.7,265.6 323.4,266.0 322.1,266.4 320.7,266.8 319.4,267.2ZM327.6,285.9 328.9,286.3 330.1,286.6 331.4,286.9 332.7,287.0 334.1,287.0 334.6,286.0 334.1,284.8 333.2,284.2 332.4,283.7 332.4,282.8 332.4,281.9 330.6,282.9 329.4,284.0 328.3,285.0ZM286.8,320.5 288.4,319.6 290.0,318.8 291.4,318.7 292.9,318.6 294.4,319.8 295.9,320.9 297.4,322.0 298.9,323.1 297.5,323.2 296.1,323.4 294.7,323.5 293.7,322.3 292.8,321.5 291.8,320.6 290.3,319.7 289.1,320.2 287.8,320.6ZM298.1,325.9 300.4,323.5 302.3,323.6 304.3,323.7 305.2,324.6 306.1,325.6 304.7,325.9 303.2,326.2 301.5,326.8 299.8,326.3ZM293.2,325.9 294.4,326.0 295.6,326.2 295.5,326.8 294.3,326.6 293.2,326.5ZM307.8,325.7 308.9,325.8 310.0,325.9 309.7,326.5 307.6,326.5ZM338.1,263.4 338.8,263.2 339.6,263.1 340.3,263.0 340.9,262.8 341.6,262.7 342.3,262.6 343.0,262.5 343.6,262.4 343.9,262.3 344.3,262.3 344.7,262.3 345.1,262.3 345.4,262.3 345.8,262.2 346.1,262.2 346.5,262.2 346.8,262.2 347.1,262.2 347.5,262.1 347.8,262.1 348.1,262.1 348.4,262.1 348.7,262.1 349.0,262.0 349.3,262.0 349.5,262.0 349.8,262.0 350.1,262.1 350.5,262.1 350.8,262.1 351.1,262.2 351.5,262.2 351.9,262.2 352.3,262.3 352.7,262.3 353.3,262.5 354.0,262.6 354.7,262.8 355.3,263.3 355.8,263.8 356.6,264.2 357.3,264.6 357.4,265.2 357.4,265.8 357.8,266.3 358.3,266.8 357.9,267.1 357.4,267.4 356.9,267.7 356.4,268.0 355.7,268.0 355.0,268.1 354.2,268.2 353.5,268.3 352.8,268.6 352.1,269.0 351.4,269.3 350.6,269.7 349.6,269.9 348.6,270.2 347.9,271.1 347.1,272.0 346.4,273.0 345.7,274.0 344.9,273.9 344.1,273.9 343.0,273.5 341.8,273.2 341.2,272.2 340.6,271.3 340.2,270.2 339.8,269.2 340.3,268.6 340.8,268.0 340.8,267.4 340.7,266.8 340.8,266.1 341.0,265.5 341.0,264.9 341.1,264.4 340.7,264.4 340.2,264.3 339.8,264.3 339.4,264.2 339.0,264.2 338.6,264.1 338.3,264.1 337.9,264.1 337.6,264.0 337.8,263.7ZM359.2,269.9 359.7,269.6 360.3,269.3 361.1,269.3 362.0,269.4 362.8,269.4 363.7,269.4 364.6,269.3 366.3,270.2 366.0,270.5 365.6,270.8 364.9,271.1 364.1,271.4 362.9,271.2 361.8,271.1 360.5,270.4 359.8,270.1ZM391.7,300.2 390.3,299.2 389.0,298.6 387.5,298.9 386.7,297.8 385.9,296.7 385.7,295.2 385.4,293.8 384.6,292.6 383.8,291.4 384.7,290.5 386.1,290.6 387.5,290.8 388.8,290.9 389.9,290.9 390.9,290.9 390.6,289.5 389.6,287.8 387.8,286.5 386.6,286.1 385.3,285.8 384.7,285.0 385.3,284.9 385.9,284.7 387.3,284.9 386.3,283.8 387.1,283.9 388.0,284.1 388.6,283.2 388.7,282.4 389.0,281.9 388.5,280.4 389.0,280.1 389.6,279.9 389.9,279.7 390.3,279.5 389.4,278.7 388.4,278.0 386.8,276.6 387.2,276.3 387.4,276.0 388.3,276.7 389.1,277.5 390.0,278.4 391.6,279.4 392.1,279.0 393.4,279.4 393.8,279.1 394.3,278.9 394.6,278.6 395.8,279.0 395.3,278.0 393.5,276.6 393.2,276.0 394.5,276.4 393.2,275.5 391.8,274.7 392.0,274.6 392.3,274.4 392.5,274.4 392.8,274.4 392.9,274.0 392.2,273.8 391.6,273.6 391.3,273.7 391.0,273.9 390.7,273.9 390.4,274.0 388.7,273.2 386.8,272.0 385.9,271.3 385.0,270.6 384.0,269.9 383.4,269.8 382.7,269.7 384.1,270.6 384.8,271.3 385.5,272.0 387.0,273.2 388.8,274.0 389.6,274.9 390.3,275.7 391.1,276.5 391.9,277.2 391.9,277.6 391.9,278.0 391.3,278.1 389.8,277.0 388.4,276.2 387.0,275.3 385.5,274.4 385.6,275.0 385.6,275.6 384.9,275.5 384.1,275.4 383.0,274.7 381.9,274.0 380.9,273.2 379.9,272.4 379.9,271.9 379.8,271.3 379.8,270.8 379.8,270.4 379.2,269.8 378.6,269.2 377.9,268.6 377.1,268.1 376.9,267.7 376.6,267.4 376.6,267.1 376.7,266.8 376.6,266.5 377.1,266.6 377.5,266.6 378.3,266.9 379.1,267.1 379.7,267.3 380.3,267.4 380.7,267.5 381.1,267.6 381.5,267.7 382.7,268.1 383.8,268.5 385.0,268.9 386.3,269.5 386.0,269.5 385.7,269.4 385.4,269.3 385.0,269.3 384.7,269.2 384.4,269.1 386.1,269.8 387.8,270.6 388.3,270.8 388.8,270.9 388.6,270.7 388.2,270.4 386.3,269.5 386.1,269.3 386.0,269.2 384.6,268.6 383.2,268.1 384.3,268.5 385.4,268.9 384.6,268.6 383.9,268.3 383.6,268.2 383.3,268.0 383.1,267.9 382.8,267.8 382.5,267.7 382.2,267.6 381.9,267.5 384.2,268.4 386.4,269.3 388.7,270.3 390.8,271.4 393.0,272.5 395.2,273.7 397.2,274.9 399.2,276.1 401.1,277.4 403.0,278.7 404.9,280.1 406.8,281.5 408.6,283.0 410.4,284.5 412.1,286.1 413.9,287.7 415.5,289.3 417.2,291.0 418.8,292.7 420.3,294.5 421.8,296.3 423.3,298.2 424.7,300.1 426.1,302.0 427.4,303.9 428.6,305.9 429.9,308.0 430.9,309.8 431.9,311.6 432.8,313.4 433.7,315.3 434.8,317.6 435.8,320.0 436.7,322.3 437.6,324.7 438.0,326.0 438.4,327.2 438.8,328.4 439.1,329.6 439.4,330.7 439.7,331.7 439.9,332.8 440.1,333.8 440.1,334.9 439.9,334.9 439.4,333.1 438.8,331.2 438.0,328.8 437.1,326.5 436.0,324.2 434.9,321.8 433.9,319.8 432.9,317.8 431.8,315.8 430.4,313.6 428.9,311.4 427.8,309.2 428.7,311.4 428.0,310.7 426.4,308.5 425.4,306.8 425.8,306.7 426.0,306.7 425.5,305.5 424.9,304.3 424.0,302.6 423.0,300.9 421.8,299.2 421.7,299.5 421.6,299.8 421.1,299.7 420.6,299.6 420.0,299.6 419.3,299.4 418.6,299.3 417.5,298.3 415.7,296.3 414.5,294.8 414.8,294.3 415.0,293.8 415.4,293.7 415.8,293.6 416.0,293.2 416.1,292.9 416.2,292.6 417.2,293.2 418.1,293.8 418.2,293.6 418.3,293.4 418.4,293.2 416.6,291.4 415.6,290.6 414.6,289.8 413.5,289.0 412.5,287.8 411.4,286.7 411.7,287.3 411.8,287.8 413.0,289.6 411.8,288.5 410.5,287.5 410.1,287.6 410.9,288.9 411.7,290.2 412.9,292.0 414.4,293.4 414.2,293.7 414.0,294.0 413.4,294.0 412.7,294.0 412.5,294.7 413.8,296.1 415.0,297.6 416.1,299.6 414.7,298.9 413.1,297.3 411.5,295.7 410.4,294.4 409.3,293.2 407.8,292.0 406.1,291.1 404.4,290.2 403.1,289.3 401.8,288.4 401.0,288.6 402.4,290.2 404.8,292.0 405.8,292.4 406.8,292.8 408.4,293.8 409.9,294.8 408.7,294.4 409.6,296.3 410.1,297.6 409.8,297.5 408.9,295.7 406.8,294.3 405.7,293.7 404.6,293.2 403.2,292.3 401.8,291.5 400.5,290.2 399.1,289.8 398.8,290.5 398.0,290.8 397.1,291.0 396.3,291.1 395.5,291.1 396.5,292.6 395.8,293.2 395.1,293.8 395.0,295.7 395.6,297.2 395.0,299.2 393.8,299.2 392.5,299.3ZM382.7,283.3 383.5,283.2 384.3,283.0 385.2,282.9 386.1,282.7 386.9,282.4 387.6,282.2 386.8,281.8 386.6,280.7 385.3,280.4 384.1,279.4 382.2,278.4 381.0,277.5 380.2,276.8 379.3,276.1 379.8,276.1 379.2,276.0 378.5,276.0 378.1,275.2 377.4,275.2 376.8,275.2 376.9,276.2 378.4,277.5 379.4,278.0 379.7,278.6 380.8,278.5 381.9,279.4 381.3,280.1 382.1,280.9 381.8,281.6 382.7,281.7 383.5,281.9 384.1,282.2 383.0,282.4ZM377.7,281.6 378.7,281.7 379.6,281.8 380.1,281.5 380.6,281.2 379.9,279.9 379.6,278.9 378.3,278.2 377.6,278.2 376.8,278.2 377.3,279.0 376.2,279.2 377.2,280.2 377.2,281.2ZM361.9,263.0 363.3,263.2 364.6,263.5 366.0,263.8 365.8,263.6 365.6,263.5 365.2,263.3 364.9,263.2 364.5,263.1 364.1,262.9 363.7,262.8 363.3,262.8 363.0,262.8 362.7,262.7 362.4,262.7 362.1,262.7 362.0,262.9ZM407.5,297.6 408.6,297.5 409.6,297.3 410.6,299.3 409.2,298.7 407.8,298.1ZM401.6,293.8 402.8,293.8 403.6,295.0 404.3,296.2 403.3,296.3 402.5,295.0ZM400.4,291.5 401.1,291.5 402.3,293.3 401.6,293.2ZM417.1,300.8 418.1,301.0 419.0,301.2 419.2,301.6 418.4,301.4 417.5,301.3ZM422.0,301.4 422.2,301.0 422.4,300.6 422.9,301.7 422.5,302.0ZM391.4,300.5 393.0,300.8 394.5,301.0 396.0,301.3 396.9,300.9 397.7,300.5 398.9,299.8 400.0,299.2 401.3,299.1 402.5,299.0 403.6,298.9 404.8,298.7 406.0,298.5 407.1,298.9 407.5,300.2 407.9,301.6 409.3,303.2 410.9,304.4 412.4,304.8 413.8,305.1 415.0,306.1 416.3,307.1 417.4,307.4 418.5,307.8 417.8,305.7 418.5,305.2 419.2,304.7 420.2,305.4 421.2,306.1 422.2,306.4 423.1,306.8 424.0,307.1 424.3,306.7 424.5,306.4 425.4,306.8 426.4,308.5 427.4,309.9 428.3,311.4 429.4,313.1 430.4,314.8 431.4,316.5 432.7,318.8 434.0,321.1 434.8,323.0 435.5,324.9 436.5,327.3 437.5,329.6 438.2,331.2 438.9,332.8 439.4,334.0 439.9,335.2 440.3,336.8 440.6,337.6 440.9,338.4 440.9,337.9 440.9,337.3 440.9,337.0 440.9,336.7 440.8,336.3 441.2,338.4 441.6,340.4 441.9,342.5 442.1,344.4 442.3,346.3 442.5,348.2 442.5,350.1 442.4,352.0 442.3,354.0 442.1,355.6 441.9,357.2 441.6,359.3 441.2,361.4 440.9,363.4 440.6,365.4 440.4,367.9 440.1,370.3 440.0,372.0 439.8,373.6 439.4,375.7 438.9,377.9 438.4,380.0 437.6,381.6 436.8,383.1 435.9,384.7 435.0,386.3 434.1,387.8 433.5,389.6 432.9,391.4 432.2,393.2 431.1,394.7 429.9,396.2 429.0,398.0 428.1,399.8 426.4,402.0 424.7,404.1 423.3,405.5 421.9,406.9 420.8,407.6 419.7,408.3 418.9,408.4 418.2,408.5 417.4,408.5 416.5,409.0 415.6,409.4 415.3,409.0 415.0,408.5 415.6,407.4 416.2,406.2 416.8,404.5 417.4,402.7 417.5,401.3 417.6,399.8 417.9,398.0 418.2,396.2 418.8,394.4 419.3,392.7 419.7,390.9 419.8,388.8 419.7,386.8 419.7,384.7 419.7,383.1 419.8,381.6 420.8,379.5 421.7,377.3 422.7,375.2 422.9,372.8 423.1,370.3 422.9,367.9 422.6,365.4 422.1,363.8 421.6,362.2 420.8,360.1 420.0,358.1 420.1,356.0 420.2,354.0 420.3,351.9 420.4,349.8 419.3,348.2 418.0,348.4 416.7,348.5 415.5,347.0 414.2,345.4 412.8,345.3 411.3,345.3 409.5,346.2 407.6,347.1 406.4,347.2 405.1,347.4 403.8,347.4 402.4,347.4 400.8,347.9 399.1,348.4 396.9,347.4 395.5,346.0 394.0,344.6 392.4,343.1 390.9,341.7 390.0,339.6 387.7,337.6 386.3,336.4 385.0,335.2 384.2,333.4 383.5,331.7 384.7,329.6 384.6,327.3 384.4,324.9 383.7,323.4 383.0,321.8 383.4,319.9 383.7,318.0 384.4,316.2 385.0,314.3 385.8,313.0 386.4,311.7 387.5,310.9 388.6,310.2 389.7,308.8 389.4,307.6 389.1,306.4 389.4,305.1 389.7,303.9 390.5,303.3 391.3,302.8 391.4,301.6ZM440.7,375.2 440.3,377.1 439.9,378.9 439.4,380.8 438.8,382.7 438.2,384.7 437.4,386.9 436.6,389.1 435.8,391.2 434.9,393.3 433.9,395.4 433.6,395.8 433.3,396.2 434.1,394.3 434.8,392.4 435.7,390.1 436.6,387.8 437.3,386.0 437.9,384.2 438.5,382.4 438.9,381.6 439.2,380.8 439.7,379.2 440.1,377.6ZM291.9,341.4 294.0,340.1 294.8,338.1 296.2,337.6 298.0,336.7 299.8,335.7 300.3,337.6 300.8,335.2 302.6,335.5 304.5,337.3 305.1,338.3 306.6,338.3 308.0,338.3 310.2,338.9 312.0,338.5 313.9,338.1 315.3,339.6 316.0,341.7 318.2,342.5 319.3,344.0 320.4,345.4 322.4,345.6 324.4,345.8 326.3,346.4 328.3,347.1 330.2,348.7 331.2,350.7 332.3,352.6 332.2,354.1 332.2,355.6 334.7,357.2 336.3,356.8 338.3,357.4 340.4,358.1 342.0,360.0 344.1,360.2 346.1,360.4 348.6,360.2 351.1,361.7 353.5,363.6 354.9,364.0 356.3,364.3 356.7,365.9 357.1,367.4 356.7,368.9 356.4,370.3 355.3,371.7 354.3,373.1 352.6,375.2 351.0,376.8 350.6,378.4 350.2,380.0 350.2,382.0 350.2,383.9 349.6,385.5 349.1,387.0 348.2,388.6 347.4,390.1 345.6,392.4 343.7,392.6 341.8,392.7 340.3,393.5 338.9,394.2 337.6,395.2 336.3,396.2 336.2,398.0 336.2,399.8 335.3,401.3 334.4,402.7 333.2,404.3 332.0,405.8 331.2,407.0 330.4,408.3 328.6,409.5 327.3,409.2 325.9,409.0 323.9,408.3 325.2,409.8 326.4,411.4 326.3,412.6 326.2,413.9 325.1,414.2 324.1,414.6 322.6,414.8 321.2,414.9 321.4,416.2 321.6,417.4 320.1,417.4 318.6,417.4 319.8,419.2 319.9,420.7 320.1,422.2 319.3,422.9 318.5,423.6 319.8,424.5 321.1,425.4 320.6,426.6 320.2,427.8 320.2,429.3 321.3,430.2 322.7,431.0 324.1,431.7 325.4,432.5 324.6,433.0 323.9,433.2 323.3,433.4 321.9,432.9 320.4,432.3 319.3,431.8 318.1,431.3 316.6,430.3 315.1,429.3 314.1,428.1 313.0,426.9 311.9,425.6 311.7,424.5 311.5,423.4 311.0,421.6 310.6,419.8 309.8,418.6 309.1,417.4 308.7,416.2 308.4,414.9 307.7,413.6 307.0,412.3 306.9,411.0 306.9,409.6 307.0,408.3 307.2,406.9 306.6,404.8 306.0,402.7 305.7,401.3 305.4,399.8 305.3,397.6 305.3,395.4 305.0,393.2 304.7,390.9 304.2,389.1 303.8,387.2 303.4,385.3 302.1,384.2 300.9,383.1 298.7,381.9 296.5,380.6 295.4,379.1 294.2,377.6 292.9,375.2 291.8,373.2 290.8,371.1 289.8,369.3 288.8,367.4 286.9,365.4 286.7,364.1 286.6,362.7 288.1,361.0 287.0,359.4 287.4,357.2 287.7,355.8 288.1,354.3 289.6,353.1 290.5,351.2 291.4,349.4 291.5,347.1 291.6,344.9 291.8,343.1ZM327.5,429.1 328.9,429.1 330.4,429.1 330.8,430.0 329.3,430.0 327.9,430.0ZM322.6,446.2 322.9,446.2 323.3,446.2 323.5,446.2 323.8,446.2 324.0,446.3 324.3,446.3 324.6,446.3 324.9,446.4 324.8,446.2 324.7,446.0 324.7,445.7 325.1,445.7 325.5,445.7 325.8,445.7 326.2,445.7 326.6,445.7 327.1,445.7 327.5,445.7 328.0,445.7 328.6,445.8 329.1,445.8 329.7,445.8 330.2,445.9 330.8,445.9 331.4,445.9 331.6,445.8 331.8,445.7 332.1,445.6 332.4,445.4 332.3,445.1 332.3,444.8 332.4,444.5 332.5,444.1 332.0,443.4 331.7,442.6 331.8,442.0 332.1,441.3 332.6,440.8 333.1,440.3 333.9,440.1 334.6,440.0 335.4,439.9 336.2,439.8 335.8,440.2 335.4,440.6 335.0,441.0 334.6,441.3 334.8,442.3 334.8,442.9 334.9,443.5 336.3,444.4 337.7,445.2 338.7,445.8 339.6,446.4 340.8,447.0 341.5,447.1 342.2,447.2 342.8,447.3 343.4,447.4 344.0,447.5 344.6,447.6 345.2,447.7 345.7,447.8 346.2,447.8 346.7,447.8 347.2,447.8 347.7,447.9 348.1,447.9 348.6,447.9 349.0,447.9 349.4,447.8 349.9,447.8 350.3,447.7 350.9,447.6 351.4,447.5 352.0,447.3 352.7,447.2 353.3,447.0 354.0,446.8 354.7,446.7 355.4,446.5 356.2,446.3 357.0,446.1 357.8,445.9 358.5,445.8 359.3,445.6 360.1,445.4 360.9,445.3 361.8,445.1 362.6,444.9 363.4,444.9 364.1,444.8 364.9,444.7 365.6,444.6 366.4,444.6 367.1,444.5 367.8,444.3 368.6,444.2 369.3,444.1 369.9,444.1 370.5,444.1 371.1,444.1 371.7,444.1 372.2,444.1 372.8,444.1 373.3,444.1 373.8,444.1 374.3,444.1 374.8,444.1 375.2,444.1 375.7,444.1 376.1,444.1 376.5,444.1 377.0,444.1 377.5,444.0 377.9,444.0 378.4,444.0 378.8,443.9 379.2,443.9 379.6,443.8 380.0,443.8 380.4,443.7 380.8,443.6 381.2,443.5 381.6,443.5 381.9,443.4 382.3,443.3 382.6,443.2 383.0,443.1 383.4,443.0 383.7,442.9 384.1,442.8 384.4,442.7 384.8,442.6 385.1,442.4 385.4,442.3 385.2,442.4 384.8,442.6 384.6,442.6 384.4,442.7 384.2,442.8 381.9,443.7 379.6,444.5 377.3,445.3 375.0,446.0 372.7,446.7 370.3,447.3 368.0,447.8 365.6,448.3 363.2,448.7 360.8,449.0 358.4,449.3 356.0,449.5 353.6,449.7 351.2,449.8 348.8,449.8 348.5,449.8 346.1,449.8 343.7,449.7 341.3,449.5 338.9,449.3 336.6,449.0 334.2,448.7 331.9,448.3 329.6,447.9 327.2,447.3 324.9,446.8Z" fill="#222222"/>
</g>
<circle cx="348.6" cy="355.6" r="94.2" fill="none" stroke="#b0b0b0" stroke-width="0.6"/>
<text x="129.0" y="19.6" font-size="8.9" text-anchor="middle" font-weight="normal" fill="#262626" ><tspan font-style="italic">λ</tspan> of Ensemble Mean</text>
<text x="348.6" y="9.8" font-size="8.9" text-anchor="middle" font-weight="normal" fill="#262626" >Mean of <tspan font-style="italic">λ</tspan>s</text>
<text x="348.6" y="19.9" font-size="8.9" text-anchor="middle" font-weight="normal" fill="#262626" >of ensemble members</text>
<text x="129.0" y="258.2" font-size="8.9" text-anchor="middle" font-weight="normal" fill="#262626" ><tspan font-style="italic">λ</tspan> of Operational Analysis</text>
<text x="348.6" y="248.2" font-size="8.9" text-anchor="middle" font-weight="normal" fill="#262626" >Mean of <tspan font-style="italic">λ</tspan>s</text>
<text x="348.6" y="258.3" font-size="8.9" text-anchor="middle" font-weight="normal" fill="#262626" >of ensemble members</text>
<text x="34.9" y="30.8" font-size="9.8" text-anchor="end" font-weight="bold" fill="#262626" >a)</text>
<text x="254.1" y="30.8" font-size="9.8" text-anchor="end" font-weight="bold" fill="#262626" >b)</text>
<text x="34.9" y="269.0" font-size="9.8" text-anchor="end" font-weight="bold" fill="#262626" >i)</text>
<text x="254.1" y="269.0" font-size="9.8" text-anchor="end" font-weight="bold" fill="#262626" >j)</text>
<text transform="translate(12.9,127.7) rotate(-90)" font-size="16.5" font-weight="bold" text-anchor="middle" fill="#262626">HadCRUT5</text>
<text transform="translate(12.9,357.8) rotate(-90)" font-size="16.5" font-weight="bold" text-anchor="middle" fill="#262626">ERSSTv5</text>
<text x="365.8" y="38.4" font-size="11.8" text-anchor="middle" font-weight="bold" fill="#222" >c</text>
<text x="367.7" y="54.6" font-size="11.8" text-anchor="middle" font-weight="bold" fill="#222" >e</text>
<text x="335.1" y="67.3" font-size="11.8" text-anchor="middle" font-weight="bold" fill="#222" >d</text>
<text x="309.6" y="67.4" font-size="11.8" text-anchor="middle" font-weight="bold" fill="#222" >g</text>
<text x="362.7" y="97.3" font-size="11.8" text-anchor="middle" font-weight="bold" fill="#222" >f</text>
<text x="402.8" y="129.9" font-size="11.8" text-anchor="middle" font-weight="bold" fill="#222" >h</text>
<text x="368.2" y="276.5" font-size="11.8" text-anchor="middle" font-weight="bold" fill="#222" >k</text>
<text x="371.5" y="293.1" font-size="11.8" text-anchor="middle" font-weight="bold" fill="#222" >m</text>
<text x="333.8" y="306.8" font-size="11.8" text-anchor="middle" font-weight="bold" fill="#222" >l</text>
<text x="309.7" y="306.8" font-size="11.8" text-anchor="middle" font-weight="bold" fill="#222" >o</text>
<text x="365.4" y="336.3" font-size="11.8" text-anchor="middle" font-weight="bold" fill="#222" >n</text>
<text x="402.4" y="369.3" font-size="11.8" text-anchor="middle" font-weight="bold" fill="#222" >p</text>
<path d="M515.40 72.6V67.8H520.14V62.9H524.88V45.3H529.62V30.0H534.36V37.9H539.10V42.1H543.84V45.3H548.58V65.0H553.32V60.8H558.06V67.8H562.80V72.6Z" fill="#b2182b"/>
<line x1="516.5" x2="516.5" y1="25.5" y2="72.6" stroke="#9a9a9a" stroke-width="0.5"/>
<line x1="465.2" x2="567.8" y1="72.6" y2="72.6" stroke="#cfcfcf" stroke-width="0.8"/>
<line x1="474.2" x2="474.2" y1="69.4" y2="72.6" stroke="#8a8a8a" stroke-width="0.55"/>
<text x="474.2" y="83.0" font-size="9" text-anchor="middle" font-weight="normal" fill="#262626" >−0.01</text>
<line x1="516.5" x2="516.5" y1="69.4" y2="72.6" stroke="#8a8a8a" stroke-width="0.55"/>
<text x="516.5" y="83.0" font-size="9" text-anchor="middle" font-weight="normal" fill="#262626" >0.00</text>
<line x1="558.8" x2="558.8" y1="69.4" y2="72.6" stroke="#8a8a8a" stroke-width="0.55"/>
<text x="558.8" y="83.0" font-size="9" text-anchor="middle" font-weight="normal" fill="#262626" >0.01</text>
<line x1="537.5" x2="537.5" y1="29.7" y2="72.6" stroke="#111" stroke-width="0.7" stroke-dasharray="1.9 1.1"/>
<text x="466.7" y="28.0" font-size="9.5" text-anchor="start" font-weight="bold" fill="#262626" >c)</text>
<path d="M624.30 72.6V71.2H631.17V65.0H638.04V63.3H644.91V49.2H651.78V30.0H658.65V32.4H665.52V40.9H672.39V69.1H679.26V71.7H686.13V72.6Z" fill="#b2182b"/>
<line x1="633.6" x2="633.6" y1="25.5" y2="72.6" stroke="#9a9a9a" stroke-width="0.5"/>
<line x1="582.3" x2="685.5" y1="72.6" y2="72.6" stroke="#cfcfcf" stroke-width="0.8"/>
<line x1="591.2" x2="591.2" y1="69.4" y2="72.6" stroke="#8a8a8a" stroke-width="0.55"/>
<text x="591.2" y="83.0" font-size="9" text-anchor="middle" font-weight="normal" fill="#262626" >−0.01</text>
<line x1="633.6" x2="633.6" y1="69.4" y2="72.6" stroke="#8a8a8a" stroke-width="0.55"/>
<text x="633.6" y="83.0" font-size="9" text-anchor="middle" font-weight="normal" fill="#262626" >0.00</text>
<line x1="676.0" x2="676.0" y1="69.4" y2="72.6" stroke="#8a8a8a" stroke-width="0.55"/>
<text x="676.0" y="83.0" font-size="9" text-anchor="middle" font-weight="normal" fill="#262626" >0.01</text>
<line x1="657.5" x2="657.5" y1="29.7" y2="72.6" stroke="#111" stroke-width="0.7" stroke-dasharray="1.9 1.1"/>
<text x="583.8" y="28.0" font-size="9.5" text-anchor="start" font-weight="bold" fill="#262626" >d)</text>
<path d="M507.00 142.3V139.1H510.79V137.4H514.58V132.3H518.37V122.9H522.16V122.9H525.95V99.5H529.74V112.9H533.53V114.6H537.32V136.1H541.11V138.3H544.90V142.3Z" fill="#f4a582"/>
<line x1="516.5" x2="516.5" y1="95.2" y2="142.3" stroke="#9a9a9a" stroke-width="0.5"/>
<line x1="465.2" x2="567.8" y1="142.3" y2="142.3" stroke="#cfcfcf" stroke-width="0.8"/>
<line x1="474.2" x2="474.2" y1="139.1" y2="142.3" stroke="#8a8a8a" stroke-width="0.55"/>
<text x="474.2" y="152.7" font-size="9" text-anchor="middle" font-weight="normal" fill="#262626" >−0.01</text>
<line x1="516.5" x2="516.5" y1="139.1" y2="142.3" stroke="#8a8a8a" stroke-width="0.55"/>
<text x="516.5" y="152.7" font-size="9" text-anchor="middle" font-weight="normal" fill="#262626" >0.00</text>
<line x1="558.8" x2="558.8" y1="139.1" y2="142.3" stroke="#8a8a8a" stroke-width="0.55"/>
<text x="558.8" y="152.7" font-size="9" text-anchor="middle" font-weight="normal" fill="#262626" >0.01</text>
<line x1="527.6" x2="527.6" y1="99.2" y2="142.3" stroke="#111" stroke-width="0.7" stroke-dasharray="1.9 1.1"/>
<text x="466.7" y="97.7" font-size="9.5" text-anchor="start" font-weight="bold" fill="#262626" >e)</text>
<path d="M606.10 142.3V136.5H610.90V126.4H615.70V116.4H620.50V99.5H625.30V99.5H630.10V103.6H634.90V124.2H639.70V136.5H644.50V140.5H649.30V141.4H654.10V142.3Z" fill="#b7d7e9"/>
<line x1="633.6" x2="633.6" y1="95.2" y2="142.3" stroke="#9a9a9a" stroke-width="0.5"/>
<line x1="582.3" x2="685.5" y1="142.3" y2="142.3" stroke="#cfcfcf" stroke-width="0.8"/>
<line x1="591.2" x2="591.2" y1="139.1" y2="142.3" stroke="#8a8a8a" stroke-width="0.55"/>
<text x="591.2" y="152.7" font-size="9" text-anchor="middle" font-weight="normal" fill="#262626" >−0.01</text>
<line x1="633.6" x2="633.6" y1="139.1" y2="142.3" stroke="#8a8a8a" stroke-width="0.55"/>
<text x="633.6" y="152.7" font-size="9" text-anchor="middle" font-weight="normal" fill="#262626" >0.00</text>
<line x1="676.0" x2="676.0" y1="139.1" y2="142.3" stroke="#8a8a8a" stroke-width="0.55"/>
<text x="676.0" y="152.7" font-size="9" text-anchor="middle" font-weight="normal" fill="#262626" >0.01</text>
<line x1="626.5" x2="626.5" y1="99.2" y2="142.3" stroke="#111" stroke-width="0.7" stroke-dasharray="1.9 1.1"/>
<text x="583.8" y="97.7" font-size="9.5" text-anchor="start" font-weight="bold" fill="#262626" >f)</text>
<path d="M496.40 211.7V209.9H502.34V209.1H508.28V205.2H514.22V197.3H520.16V193.4H526.10V177.9H532.04V169.1H537.98V190.2H543.92V203.4H549.86V210.1H555.80V211.7Z" fill="#e8896c"/>
<line x1="516.5" x2="516.5" y1="164.6" y2="211.7" stroke="#9a9a9a" stroke-width="0.5"/>
<line x1="465.2" x2="567.8" y1="211.7" y2="211.7" stroke="#cfcfcf" stroke-width="0.8"/>
<line x1="474.2" x2="474.2" y1="208.5" y2="211.7" stroke="#8a8a8a" stroke-width="0.55"/>
<text x="474.2" y="222.1" font-size="9" text-anchor="middle" font-weight="normal" fill="#262626" >−0.01</text>
<line x1="516.5" x2="516.5" y1="208.5" y2="211.7" stroke="#8a8a8a" stroke-width="0.55"/>
<text x="516.5" y="222.1" font-size="9" text-anchor="middle" font-weight="normal" fill="#262626" >0.00</text>
<line x1="558.8" x2="558.8" y1="208.5" y2="211.7" stroke="#8a8a8a" stroke-width="0.55"/>
<text x="558.8" y="222.1" font-size="9" text-anchor="middle" font-weight="normal" fill="#262626" >0.01</text>
<line x1="530.4" x2="530.4" y1="168.8" y2="211.7" stroke="#111" stroke-width="0.7" stroke-dasharray="1.9 1.1"/>
<text x="466.7" y="167.1" font-size="9.5" text-anchor="start" font-weight="bold" fill="#262626" >g)</text>
<text x="516.5" y="234.1" font-size="9" text-anchor="middle" font-weight="normal" fill="#262626" ><tspan font-style="italic">λ</tspan> trend [year<tspan font-size="6.3" dy="-3.3">−1</tspan><tspan dy="3.3">]</tspan></text>
<path d="M586.70 211.7V209.1H594.59V204.3H602.48V195.1H610.37V178.4H618.26V169.1H626.15V174.0H634.04V183.2H641.93V197.8H649.82V207.1H657.71V211.0H665.60V211.7Z" fill="#b7d7e9"/>
<line x1="633.6" x2="633.6" y1="164.6" y2="211.7" stroke="#9a9a9a" stroke-width="0.5"/>
<line x1="582.3" x2="685.5" y1="211.7" y2="211.7" stroke="#cfcfcf" stroke-width="0.8"/>
<line x1="591.2" x2="591.2" y1="208.5" y2="211.7" stroke="#8a8a8a" stroke-width="0.55"/>
<text x="591.2" y="222.1" font-size="9" text-anchor="middle" font-weight="normal" fill="#262626" >−0.01</text>
<line x1="633.6" x2="633.6" y1="208.5" y2="211.7" stroke="#8a8a8a" stroke-width="0.55"/>
<text x="633.6" y="222.1" font-size="9" text-anchor="middle" font-weight="normal" fill="#262626" >0.00</text>
<line x1="676.0" x2="676.0" y1="208.5" y2="211.7" stroke="#8a8a8a" stroke-width="0.55"/>
<text x="676.0" y="222.1" font-size="9" text-anchor="middle" font-weight="normal" fill="#262626" >0.01</text>
<line x1="625.5" x2="625.5" y1="168.8" y2="211.7" stroke="#111" stroke-width="0.7" stroke-dasharray="1.9 1.1"/>
<text x="583.8" y="167.1" font-size="9.5" text-anchor="start" font-weight="bold" fill="#262626" >h)</text>
<text x="633.6" y="234.1" font-size="9" text-anchor="middle" font-weight="normal" fill="#262626" ><tspan font-style="italic">λ</tspan> trend [year<tspan font-size="6.3" dy="-3.3">−1</tspan><tspan dy="3.3">]</tspan></text>
<path d="M518.10 311.1V308.5H520.46V292.2H522.82V278.9H525.18V271.1H527.54V268.3H529.90V279.9H532.26V291.7H534.62V300.0H536.98V307.1H539.34V309.3H541.70V311.1Z" fill="#f4a582"/>
<line x1="516.5" x2="516.5" y1="264.0" y2="311.1" stroke="#9a9a9a" stroke-width="0.5"/>
<line x1="465.2" x2="567.8" y1="311.1" y2="311.1" stroke="#cfcfcf" stroke-width="0.8"/>
<line x1="474.2" x2="474.2" y1="307.9" y2="311.1" stroke="#8a8a8a" stroke-width="0.55"/>
<text x="474.2" y="321.5" font-size="9" text-anchor="middle" font-weight="normal" fill="#262626" >−0.01</text>
<line x1="516.5" x2="516.5" y1="307.9" y2="311.1" stroke="#8a8a8a" stroke-width="0.55"/>
<text x="516.5" y="321.5" font-size="9" text-anchor="middle" font-weight="normal" fill="#262626" >0.00</text>
<line x1="558.8" x2="558.8" y1="307.9" y2="311.1" stroke="#8a8a8a" stroke-width="0.55"/>
<text x="558.8" y="321.5" font-size="9" text-anchor="middle" font-weight="normal" fill="#262626" >0.01</text>
<line x1="528.1" x2="528.1" y1="268.0" y2="311.1" stroke="#111" stroke-width="0.7" stroke-dasharray="1.9 1.1"/>
<text x="466.7" y="266.5" font-size="9.5" text-anchor="start" font-weight="bold" fill="#262626" >k)</text>
<path d="M643.60 311.1V307.6H647.33V303.2H651.06V290.5H654.79V268.3H658.52V270.1H662.25V289.1H665.98V307.1H669.71V311.1Z" fill="#8e0c25"/>
<line x1="633.6" x2="633.6" y1="264.0" y2="311.1" stroke="#9a9a9a" stroke-width="0.5"/>
<line x1="582.3" x2="685.5" y1="311.1" y2="311.1" stroke="#cfcfcf" stroke-width="0.8"/>
<line x1="591.2" x2="591.2" y1="307.9" y2="311.1" stroke="#8a8a8a" stroke-width="0.55"/>
<text x="591.2" y="321.5" font-size="9" text-anchor="middle" font-weight="normal" fill="#262626" >−0.01</text>
<line x1="633.6" x2="633.6" y1="307.9" y2="311.1" stroke="#8a8a8a" stroke-width="0.55"/>
<text x="633.6" y="321.5" font-size="9" text-anchor="middle" font-weight="normal" fill="#262626" >0.00</text>
<line x1="676.0" x2="676.0" y1="307.9" y2="311.1" stroke="#8a8a8a" stroke-width="0.55"/>
<text x="676.0" y="321.5" font-size="9" text-anchor="middle" font-weight="normal" fill="#262626" >0.01</text>
<line x1="657.9" x2="657.9" y1="268.0" y2="311.1" stroke="#111" stroke-width="0.7" stroke-dasharray="1.9 1.1"/>
<text x="583.8" y="266.5" font-size="9.5" text-anchor="start" font-weight="bold" fill="#262626" >l)</text>
<path d="M519.80 380.4V379.4H522.15V375.5H524.50V369.7H526.85V356.1H529.20V346.4H531.55V337.6H533.90V345.2H536.25V366.7H538.60V378.6H540.95V380.4Z" fill="#d6604d"/>
<line x1="516.5" x2="516.5" y1="333.3" y2="380.4" stroke="#9a9a9a" stroke-width="0.5"/>
<line x1="465.2" x2="567.8" y1="380.4" y2="380.4" stroke="#cfcfcf" stroke-width="0.8"/>
<line x1="474.2" x2="474.2" y1="377.2" y2="380.4" stroke="#8a8a8a" stroke-width="0.55"/>
<text x="474.2" y="390.8" font-size="9" text-anchor="middle" font-weight="normal" fill="#262626" >−0.01</text>
<line x1="516.5" x2="516.5" y1="377.2" y2="380.4" stroke="#8a8a8a" stroke-width="0.55"/>
<text x="516.5" y="390.8" font-size="9" text-anchor="middle" font-weight="normal" fill="#262626" >0.00</text>
<line x1="558.8" x2="558.8" y1="377.2" y2="380.4" stroke="#8a8a8a" stroke-width="0.55"/>
<text x="558.8" y="390.8" font-size="9" text-anchor="middle" font-weight="normal" fill="#262626" >0.01</text>
<line x1="531.5" x2="531.5" y1="337.3" y2="380.4" stroke="#111" stroke-width="0.7" stroke-dasharray="1.9 1.1"/>
<text x="466.7" y="335.8" font-size="9.5" text-anchor="start" font-weight="bold" fill="#262626" >m)</text>
<path d="M619.00 380.4V377.2H621.47V370.2H623.94V354.4H626.41V346.4H628.88V337.6H631.35V354.4H633.82V370.2H636.29V379.0H638.76V380.4Z" fill="#d3e6f1"/>
<line x1="633.6" x2="633.6" y1="333.3" y2="380.4" stroke="#9a9a9a" stroke-width="0.5"/>
<line x1="582.3" x2="685.5" y1="380.4" y2="380.4" stroke="#cfcfcf" stroke-width="0.8"/>
<line x1="591.2" x2="591.2" y1="377.2" y2="380.4" stroke="#8a8a8a" stroke-width="0.55"/>
<text x="591.2" y="390.8" font-size="9" text-anchor="middle" font-weight="normal" fill="#262626" >−0.01</text>
<line x1="633.6" x2="633.6" y1="377.2" y2="380.4" stroke="#8a8a8a" stroke-width="0.55"/>
<text x="633.6" y="390.8" font-size="9" text-anchor="middle" font-weight="normal" fill="#262626" >0.00</text>
<line x1="676.0" x2="676.0" y1="377.2" y2="380.4" stroke="#8a8a8a" stroke-width="0.55"/>
<text x="676.0" y="390.8" font-size="9" text-anchor="middle" font-weight="normal" fill="#262626" >0.01</text>
<line x1="628.6" x2="628.6" y1="337.3" y2="380.4" stroke="#111" stroke-width="0.7" stroke-dasharray="1.9 1.1"/>
<text x="583.8" y="335.8" font-size="9.5" text-anchor="start" font-weight="bold" fill="#262626" >n)</text>
<path d="M498.20 450.4V446.0H503.57V422.2H508.94V407.2H514.31V409.7H519.68V421.7H525.05V433.1H530.42V438.4H535.79V446.4H541.16V449.5H546.53V450.4Z" fill="#faebe3"/>
<line x1="516.5" x2="516.5" y1="403.3" y2="450.4" stroke="#9a9a9a" stroke-width="0.5"/>
<line x1="465.2" x2="567.8" y1="450.4" y2="450.4" stroke="#cfcfcf" stroke-width="0.8"/>
<line x1="474.2" x2="474.2" y1="447.2" y2="450.4" stroke="#8a8a8a" stroke-width="0.55"/>
<text x="474.2" y="460.8" font-size="9" text-anchor="middle" font-weight="normal" fill="#262626" >−0.01</text>
<line x1="516.5" x2="516.5" y1="447.2" y2="450.4" stroke="#8a8a8a" stroke-width="0.55"/>
<text x="516.5" y="460.8" font-size="9" text-anchor="middle" font-weight="normal" fill="#262626" >0.00</text>
<line x1="558.8" x2="558.8" y1="447.2" y2="450.4" stroke="#8a8a8a" stroke-width="0.55"/>
<text x="558.8" y="460.8" font-size="9" text-anchor="middle" font-weight="normal" fill="#262626" >0.01</text>
<line x1="517.0" x2="517.0" y1="406.9" y2="450.4" stroke="#111" stroke-width="0.7" stroke-dasharray="1.9 1.1"/>
<text x="466.7" y="405.8" font-size="9.5" text-anchor="start" font-weight="bold" fill="#262626" >o)</text>
<text x="516.5" y="472.8" font-size="9" text-anchor="middle" font-weight="normal" fill="#262626" ><tspan font-style="italic">λ</tspan> trend [year<tspan font-size="6.3" dy="-3.3">−1</tspan><tspan dy="3.3">]</tspan></text>
<path d="M604.30 450.4V444.9H608.74V437.5H613.18V419.6H617.62V409.0H622.06V407.3H626.50V413.2H630.94V431.7H635.38V442.5H639.82V447.2H644.26V449.5H648.70V450.4Z" fill="#92c5de"/>
<line x1="633.6" x2="633.6" y1="403.3" y2="450.4" stroke="#9a9a9a" stroke-width="0.5"/>
<line x1="582.3" x2="685.5" y1="450.4" y2="450.4" stroke="#cfcfcf" stroke-width="0.8"/>
<line x1="591.2" x2="591.2" y1="447.2" y2="450.4" stroke="#8a8a8a" stroke-width="0.55"/>
<text x="591.2" y="460.8" font-size="9" text-anchor="middle" font-weight="normal" fill="#262626" >−0.01</text>
<line x1="633.6" x2="633.6" y1="447.2" y2="450.4" stroke="#8a8a8a" stroke-width="0.55"/>
<text x="633.6" y="460.8" font-size="9" text-anchor="middle" font-weight="normal" fill="#262626" >0.00</text>
<line x1="676.0" x2="676.0" y1="447.2" y2="450.4" stroke="#8a8a8a" stroke-width="0.55"/>
<text x="676.0" y="460.8" font-size="9" text-anchor="middle" font-weight="normal" fill="#262626" >0.01</text>
<line x1="623.4" x2="623.4" y1="407.0" y2="450.4" stroke="#111" stroke-width="0.7" stroke-dasharray="1.9 1.1"/>
<text x="583.8" y="405.8" font-size="9.5" text-anchor="start" font-weight="bold" fill="#262626" >p)</text>
<text x="633.6" y="472.8" font-size="9" text-anchor="middle" font-weight="normal" fill="#262626" ><tspan font-style="italic">λ</tspan> trend [year<tspan font-size="6.3" dy="-3.3">−1</tspan><tspan dy="3.3">]</tspan></text>
<polygon points="46.2,470.4 46.2,479.9 27.4,475.15" fill="#053061"/>
<polygon points="430.8,470.4 430.8,479.9 450,475.15" fill="#67001f"/>
<rect x="46.20" y="470.4" width="19.53" height="9.5" fill="#053061"/>
<rect x="65.43" y="470.4" width="19.53" height="9.5" fill="#134c87"/>
<rect x="84.66" y="470.4" width="19.53" height="9.5" fill="#2267ac"/>
<rect x="103.89" y="470.4" width="19.53" height="9.5" fill="#3480b9"/>
<rect x="123.12" y="470.4" width="19.53" height="9.5" fill="#4997c5"/>
<rect x="142.35" y="470.4" width="19.53" height="9.5" fill="#75b2d4"/>
<rect x="161.58" y="470.4" width="19.53" height="9.5" fill="#9bc9e0"/>
<rect x="180.81" y="470.4" width="19.53" height="9.5" fill="#bddbea"/>
<rect x="200.04" y="470.4" width="19.53" height="9.5" fill="#d8e9f1"/>
<rect x="219.27" y="470.4" width="19.53" height="9.5" fill="#edf2f5"/>
<rect x="238.50" y="470.4" width="19.53" height="9.5" fill="#f9f0eb"/>
<rect x="257.73" y="470.4" width="19.53" height="9.5" fill="#fce0d0"/>
<rect x="276.96" y="470.4" width="19.53" height="9.5" fill="#facab1"/>
<rect x="296.19" y="470.4" width="19.53" height="9.5" fill="#f5ac8b"/>
<rect x="315.42" y="470.4" width="19.53" height="9.5" fill="#e98b6e"/>
<rect x="334.65" y="470.4" width="19.53" height="9.5" fill="#d86551"/>
<rect x="353.88" y="470.4" width="19.53" height="9.5" fill="#c6413e"/>
<rect x="373.11" y="470.4" width="19.53" height="9.5" fill="#b3192c"/>
<rect x="392.34" y="470.4" width="19.53" height="9.5" fill="#8d0c25"/>
<rect x="411.57" y="470.4" width="19.53" height="9.5" fill="#67001f"/>
<line x1="46.20" x2="46.20" y1="477.3" y2="479.9" stroke="#333" stroke-width="0.6"/>
<text x="46.2" y="490.3" font-size="8.5" text-anchor="middle" font-weight="normal" fill="#262626" >−0.0070</text>
<line x1="84.66" x2="84.66" y1="477.3" y2="479.9" stroke="#333" stroke-width="0.6"/>
<text x="84.7" y="490.3" font-size="8.5" text-anchor="middle" font-weight="normal" fill="#262626" >−0.0056</text>
<line x1="123.12" x2="123.12" y1="477.3" y2="479.9" stroke="#333" stroke-width="0.6"/>
<text x="123.1" y="490.3" font-size="8.5" text-anchor="middle" font-weight="normal" fill="#262626" >−0.0042</text>
<line x1="161.58" x2="161.58" y1="477.3" y2="479.9" stroke="#333" stroke-width="0.6"/>
<text x="161.6" y="490.3" font-size="8.5" text-anchor="middle" font-weight="normal" fill="#262626" >−0.0028</text>
<line x1="200.04" x2="200.04" y1="477.3" y2="479.9" stroke="#333" stroke-width="0.6"/>
<text x="200.0" y="490.3" font-size="8.5" text-anchor="middle" font-weight="normal" fill="#262626" >−0.0014</text>
<line x1="238.50" x2="238.50" y1="477.3" y2="479.9" stroke="#333" stroke-width="0.6"/>
<text x="238.5" y="490.3" font-size="8.5" text-anchor="middle" font-weight="normal" fill="#262626" >0.0000</text>
<line x1="276.96" x2="276.96" y1="477.3" y2="479.9" stroke="#333" stroke-width="0.6"/>
<text x="277.0" y="490.3" font-size="8.5" text-anchor="middle" font-weight="normal" fill="#262626" >0.0014</text>
<line x1="315.42" x2="315.42" y1="477.3" y2="479.9" stroke="#333" stroke-width="0.6"/>
<text x="315.4" y="490.3" font-size="8.5" text-anchor="middle" font-weight="normal" fill="#262626" >0.0028</text>
<line x1="353.88" x2="353.88" y1="477.3" y2="479.9" stroke="#333" stroke-width="0.6"/>
<text x="353.9" y="490.3" font-size="8.5" text-anchor="middle" font-weight="normal" fill="#262626" >0.0042</text>
<line x1="392.34" x2="392.34" y1="477.3" y2="479.9" stroke="#333" stroke-width="0.6"/>
<text x="392.3" y="490.3" font-size="8.5" text-anchor="middle" font-weight="normal" fill="#262626" >0.0056</text>
<line x1="430.80" x2="430.80" y1="477.3" y2="479.9" stroke="#333" stroke-width="0.6"/>
<text x="430.8" y="490.3" font-size="8.5" text-anchor="middle" font-weight="normal" fill="#262626" >0.0070</text>
<text x="238.5" y="505.8" font-size="13.7" text-anchor="middle" font-weight="normal" fill="#262626" ><tspan font-style="italic">λ</tspan> trend [year<tspan font-size="9.6" dy="-5.0">−1</tspan><tspan dy="5.0">]</tspan></text>
</svg>
</body></html>
